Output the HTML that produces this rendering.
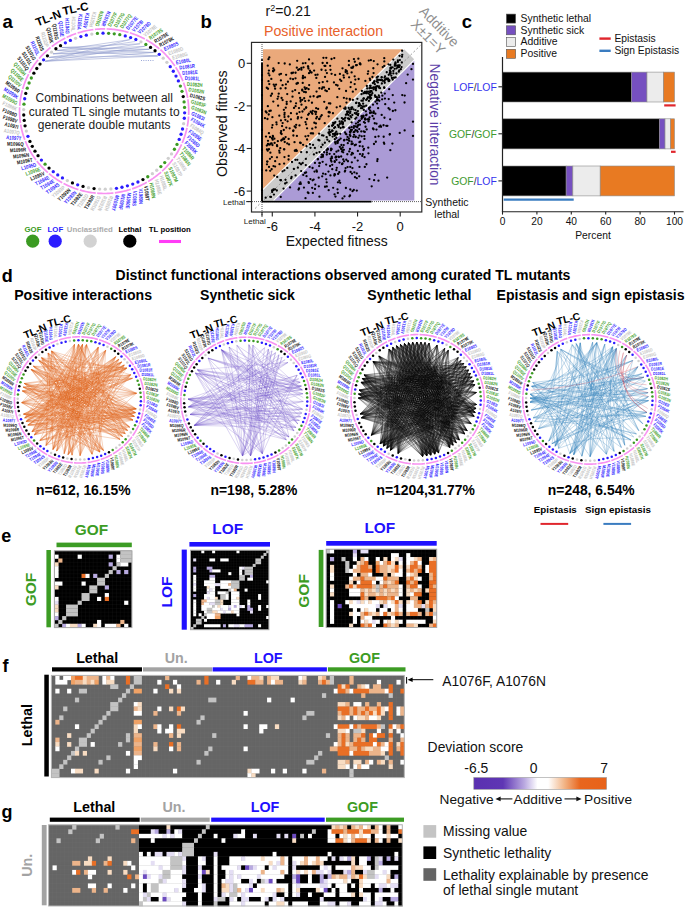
<!DOCTYPE html>
<html><head><meta charset="utf-8"><style>
html,body{margin:0;padding:0;background:#fff;width:685px;height:909px;overflow:hidden;}
body{position:relative;font-family:'Liberation Sans',sans-serif;}
</style></head><body>
<svg width="685" height="909" viewBox="0 0 685 909" style="position:absolute;left:0;top:0;font-family:'Liberation Sans',sans-serif">
<rect width="685" height="909" fill="#fff"/>
<text x="2.6" y="28" font-size="18.5" font-weight="bold" fill="#000" text-anchor="start">a</text>
<line x1="45.24" y1="61.27" x2="129.9" y2="39.62" stroke="#8e9bcc" stroke-width="0.65" stroke-opacity="0.8"/>
<line x1="45.24" y1="61.27" x2="144.71" y2="46.36" stroke="#8e9bcc" stroke-width="0.65" stroke-opacity="0.8"/>
<line x1="45.24" y1="61.27" x2="153.64" y2="52.46" stroke="#8e9bcc" stroke-width="0.65" stroke-opacity="0.8"/>
<line x1="45.24" y1="61.27" x2="157.75" y2="55.94" stroke="#8e9bcc" stroke-width="0.65" stroke-opacity="0.8"/>
<line x1="48.98" y1="57.41" x2="139.94" y2="43.78" stroke="#8e9bcc" stroke-width="0.65" stroke-opacity="0.8"/>
<line x1="48.98" y1="57.41" x2="149.28" y2="49.26" stroke="#8e9bcc" stroke-width="0.65" stroke-opacity="0.8"/>
<line x1="48.98" y1="57.41" x2="157.75" y2="55.94" stroke="#8e9bcc" stroke-width="0.65" stroke-opacity="0.8"/>
<line x1="52.99" y1="53.82" x2="135" y2="41.53" stroke="#8e9bcc" stroke-width="0.65" stroke-opacity="0.8"/>
<line x1="52.99" y1="53.82" x2="153.64" y2="52.46" stroke="#8e9bcc" stroke-width="0.65" stroke-opacity="0.8"/>
<line x1="57.25" y1="50.5" x2="144.71" y2="46.36" stroke="#8e9bcc" stroke-width="0.65" stroke-opacity="0.8"/>
<line x1="57.25" y1="50.5" x2="157.75" y2="55.94" stroke="#8e9bcc" stroke-width="0.65" stroke-opacity="0.8"/>
<line x1="61.73" y1="47.49" x2="139.94" y2="43.78" stroke="#8e9bcc" stroke-width="0.65" stroke-opacity="0.8"/>
<line x1="61.73" y1="47.49" x2="149.28" y2="49.26" stroke="#8e9bcc" stroke-width="0.65" stroke-opacity="0.8"/>
<line x1="61.73" y1="47.49" x2="153.64" y2="52.46" stroke="#8e9bcc" stroke-width="0.65" stroke-opacity="0.8"/>
<line x1="57.25" y1="50.5" x2="129.9" y2="39.62" stroke="#8e9bcc" stroke-width="0.65" stroke-opacity="0.8"/>
<line x1="52.99" y1="53.82" x2="149.28" y2="49.26" stroke="#8e9bcc" stroke-width="0.65" stroke-opacity="0.8"/>
<line x1="141" y1="60.5" x2="154" y2="60.5" stroke="#7f8fcc" stroke-width="0.8" stroke-dasharray="1 1.3"/>
<polyline points="94.87,29.4 96.34,29.25 97.81,29.13 99.28,29.04 100.75,28.97 102.23,28.92 103.71,28.9 105.18,28.91" fill="none" stroke="#f892f1" stroke-width="1.7"/>
<polyline points="106.66,28.94 108.14,28.99 109.61,29.07 111.08,29.18 112.55,29.31 114.02,29.46 115.49,29.64 116.95,29.85 118.4,30.08 119.86,30.33 121.31,30.61 122.75,30.91 124.19,31.24 125.62,31.59 127.04,31.97 128.46,32.37" fill="none" stroke="#f892f1" stroke-width="1.7"/>
<polyline points="129.87,32.8 131.27,33.24 132.67,33.72 134.05,34.21 135.43,34.73 136.8,35.28 138.15,35.84 139.5,36.43 140.84,37.04 142.16,37.68 143.48,38.33 144.78,39.01" fill="none" stroke="#f892f1" stroke-width="1.7"/>
<polyline points="146.07,39.71 147.34,40.43 148.6,41.18 149.85,41.94 151.09,42.73 152.31,43.54 153.52,44.37 154.71,45.21 155.89,46.08 157.05,46.97 158.19,47.88 159.32,48.81" fill="none" stroke="#f892f1" stroke-width="1.7"/>
<polyline points="160.43,49.75 161.52,50.72 162.6,51.7 163.66,52.7 164.7,53.72 165.72,54.76 166.72,55.81 167.71,56.88 168.67,57.97 169.62,59.07 170.54,60.19 171.45,61.33 172.33,62.48 173.2,63.64 174.04,64.82 174.86,66.02" fill="none" stroke="#f892f1" stroke-width="1.7"/>
<polyline points="175.66,67.22 176.44,68.44 177.19,69.68 177.93,70.92 178.64,72.18 179.33,73.45 179.99,74.74 180.64,76.03 181.25,77.33 181.85,78.65 182.42,79.97 182.97,81.3" fill="none" stroke="#f892f1" stroke-width="1.7"/>
<polyline points="183.5,82.65 184,84 184.47,85.36 184.92,86.73 185.35,88.1 185.75,89.48 186.13,90.87 186.48,92.27 186.81,93.67 187.11,95.07 187.39,96.48 187.64,97.9" fill="none" stroke="#f892f1" stroke-width="1.7"/>
<polyline points="187.86,99.32 188.06,100.74 188.24,102.17 188.39,103.6 188.51,105.03 188.61,106.46 188.68,107.9 188.73,109.33 188.75,110.77 188.74,112.21 188.71,113.64 188.66,115.08" fill="none" stroke="#f892f1" stroke-width="1.7"/>
<polyline points="188.57,116.51 188.47,117.94 188.33,119.37 188.17,120.8 187.99,122.23 187.78,123.65 187.54,125.07 187.28,126.48" fill="none" stroke="#f892f1" stroke-width="1.7"/>
<polyline points="186.99,127.89 186.68,129.29 186.34,130.69 185.98,132.08 185.59,133.47 185.18,134.85 184.75,136.22 184.28,137.59 183.8,138.94 183.29,140.29 182.75,141.63 182.2,142.96" fill="none" stroke="#f892f1" stroke-width="1.7"/>
<polyline points="181.62,144.28 181.01,145.59 180.38,146.89 179.73,148.18 179.05,149.46 178.36,150.72 177.64,151.98 176.89,153.22 176.13,154.45 175.34,155.66 174.53,156.86 173.7,158.05" fill="none" stroke="#f892f1" stroke-width="1.7"/>
<polyline points="172.85,159.23 171.89,160.5 170.91,161.76 169.9,162.99 168.86,164.21 167.8,165.41 166.72,166.59 165.62,167.75 164.49,168.88 163.34,170 162.17,171.1" fill="none" stroke="#f892f1" stroke-width="1.7"/>
<polyline points="161.09,172.07 159.99,173.03 158.87,173.97 157.73,174.89 156.58,175.79 155.42,176.67 154.23,177.53 153.04,178.37 151.82,179.19 150.6,179.99 149.36,180.77 148.1,181.52" fill="none" stroke="#f892f1" stroke-width="1.7"/>
<polyline points="146.83,182.26 145.55,182.97 144.26,183.66 142.95,184.33 141.63,184.98 140.3,185.61 138.96,186.21 137.61,186.79 136.25,187.34 134.88,187.88 133.5,188.39 132.11,188.87" fill="none" stroke="#f892f1" stroke-width="1.7"/>
<polyline points="130.71,189.34 129.31,189.78 127.89,190.19 126.47,190.58 125.05,190.95 123.61,191.29 122.17,191.61 120.73,191.9 119.28,192.17 117.82,192.42 116.36,192.64 114.9,192.83" fill="none" stroke="#f892f1" stroke-width="1.7"/>
<polyline points="113.43,193 111.96,193.15 110.49,193.27 109.02,193.36 107.55,193.43 106.07,193.48 104.59,193.5 103.12,193.49 101.64,193.46 100.16,193.41 98.69,193.33 97.22,193.22" fill="none" stroke="#f892f1" stroke-width="1.7"/>
<polyline points="95.75,193.09 94.28,192.94 92.81,192.76 91.35,192.55 89.9,192.32 88.44,192.07 86.99,191.79 85.55,191.49 84.11,191.16 82.68,190.81 81.26,190.43 79.84,190.03" fill="none" stroke="#f892f1" stroke-width="1.7"/>
<polyline points="78.43,189.6 77.03,189.16 75.63,188.68 74.25,188.19 72.87,187.67 71.5,187.12 70.15,186.56 68.8,185.97 67.46,185.36 66.14,184.72 64.82,184.07 63.52,183.39" fill="none" stroke="#f892f1" stroke-width="1.7"/>
<polyline points="62.23,182.69 60.96,181.97 59.7,181.22 58.45,180.46 57.21,179.67 55.99,178.86 54.78,178.03 53.59,177.19 52.41,176.32 51.25,175.43 50.11,174.52 48.98,173.59" fill="none" stroke="#f892f1" stroke-width="1.7"/>
<polyline points="47.87,172.65 46.78,171.68 45.7,170.7 44.64,169.7 43.6,168.68 42.58,167.64 41.58,166.59 40.59,165.52 39.63,164.43 38.68,163.33 37.76,162.21 36.85,161.07" fill="none" stroke="#f892f1" stroke-width="1.7"/>
<polyline points="35.97,159.92 35.1,158.76 34.26,157.58 33.44,156.38 32.64,155.18 31.86,153.96 31.11,152.72 30.37,151.48 29.66,150.22 28.97,148.95 28.31,147.66 27.66,146.37 27.05,145.07 26.45,143.75 25.88,142.43 25.33,141.1" fill="none" stroke="#f892f1" stroke-width="1.7"/>
<polyline points="24.8,139.75 24.3,138.4 23.83,137.04 23.38,135.67 22.95,134.3 22.55,132.92 22.17,131.53 21.82,130.13 21.49,128.73 21.19,127.33 20.91,125.92 20.66,124.5" fill="none" stroke="#f892f1" stroke-width="1.7"/>
<polyline points="20.44,123.08 20.24,121.66 20.06,120.23 19.91,118.8 19.79,117.37 19.69,115.94 19.62,114.5 19.57,113.07 19.55,111.63 19.56,110.19 19.59,108.76 19.64,107.32" fill="none" stroke="#f892f1" stroke-width="1.7"/>
<polyline points="19.73,105.89 19.83,104.46 19.97,103.03 20.13,101.6 20.31,100.17 20.52,98.75 20.76,97.33 21.02,95.92 21.31,94.51 21.62,93.11 21.96,91.71 22.32,90.32" fill="none" stroke="#f892f1" stroke-width="1.7"/>
<polyline points="22.71,88.93 23.12,87.55 23.55,86.18 24.02,84.81 24.5,83.46 25.01,82.11 25.55,80.77 26.1,79.44 26.68,78.12 27.29,76.81 27.92,75.51 28.57,74.22" fill="none" stroke="#f892f1" stroke-width="1.7"/>
<polyline points="29.25,72.94 29.94,71.68 30.66,70.42 31.41,69.18 32.17,67.95 32.96,66.74 33.77,65.54 34.6,64.35 35.45,63.17 36.32,62.02 37.21,60.87 38.13,59.74" fill="none" stroke="#f892f1" stroke-width="1.7"/>
<polyline points="39.06,58.63 40.01,57.53 40.98,56.45 41.98,55.39 42.99,54.34 44.02,53.31 45.06,52.3 46.13,51.3 47.21,50.33 48.31,49.37 49.43,48.43 50.57,47.51" fill="none" stroke="#f892f1" stroke-width="1.7"/>
<polyline points="51.72,46.61 52.88,45.73 54.07,44.87 55.26,44.03 56.48,43.21 57.7,42.41 58.94,41.63 60.2,40.88 61.47,40.14 62.75,39.43 64.04,38.74 65.35,38.07" fill="none" stroke="#f892f1" stroke-width="1.7"/>
<polyline points="66.67,37.42 68,36.79 69.34,36.19 70.69,35.61 72.05,35.06 73.42,34.52 74.8,34.01 76.19,33.53" fill="none" stroke="#f892f1" stroke-width="1.7"/>
<polyline points="77.59,33.06 78.99,32.62 80.41,32.21 81.83,31.82 83.25,31.45 84.69,31.11 86.13,30.79 87.57,30.5 89.02,30.23 90.48,29.98 91.94,29.76 93.4,29.57" fill="none" stroke="#f892f1" stroke-width="1.7"/>
<circle cx="97.41" cy="33.47" r="1.65" fill="#3b9a22"/>
<circle cx="103.03" cy="33.21" r="1.65" fill="#2b1cff"/>
<circle cx="108.64" cy="33.32" r="1.65" fill="#3b9a22"/>
<circle cx="114.24" cy="33.82" r="1.65" fill="#3b9a22"/>
<circle cx="119.79" cy="34.69" r="1.65" fill="#3b9a22"/>
<circle cx="125.26" cy="35.93" r="1.65" fill="#2b1cff"/>
<circle cx="130.62" cy="37.54" r="1.65" fill="#2b1cff"/>
<circle cx="135.86" cy="39.51" r="1.65" fill="#2b1cff"/>
<circle cx="140.95" cy="41.83" r="1.65" fill="#cfcfcf"/>
<circle cx="145.85" cy="44.48" r="1.65" fill="#3b9a22"/>
<circle cx="150.55" cy="47.46" r="1.65" fill="#000000"/>
<circle cx="155.03" cy="50.75" r="1.65" fill="#000000"/>
<circle cx="159.26" cy="54.34" r="1.65" fill="#2b1cff"/>
<circle cx="163.22" cy="58.2" r="1.65" fill="#cfcfcf"/>
<circle cx="166.89" cy="62.32" r="1.65" fill="#cfcfcf"/>
<circle cx="170.25" cy="66.68" r="1.65" fill="#2b1cff"/>
<circle cx="173.3" cy="71.26" r="1.65" fill="#2b1cff"/>
<circle cx="176" cy="76.03" r="1.65" fill="#2b1cff"/>
<circle cx="178.36" cy="80.97" r="1.65" fill="#2b1cff"/>
<circle cx="180.36" cy="86.06" r="1.65" fill="#3b9a22"/>
<circle cx="181.98" cy="91.28" r="1.65" fill="#3b9a22"/>
<circle cx="183.22" cy="96.58" r="1.65" fill="#000000"/>
<circle cx="184.08" cy="101.96" r="1.65" fill="#3b9a22"/>
<circle cx="184.55" cy="107.39" r="1.65" fill="#3b9a22"/>
<circle cx="184.63" cy="112.83" r="1.65" fill="#2b1cff"/>
<circle cx="184.32" cy="118.27" r="1.65" fill="#2b1cff"/>
<circle cx="183.61" cy="123.67" r="1.65" fill="#cfcfcf"/>
<circle cx="182.52" cy="129.01" r="1.65" fill="#2b1cff"/>
<circle cx="181.05" cy="134.27" r="1.65" fill="#2b1cff"/>
<circle cx="179.2" cy="139.41" r="1.65" fill="#2b1cff"/>
<circle cx="176.99" cy="144.41" r="1.65" fill="#3b9a22"/>
<circle cx="174.42" cy="149.25" r="1.65" fill="#3b9a22"/>
<circle cx="171.51" cy="153.91" r="1.65" fill="#cfcfcf"/>
<circle cx="168.27" cy="158.36" r="1.65" fill="#cfcfcf"/>
<circle cx="164.72" cy="162.58" r="1.65" fill="#3b9a22"/>
<circle cx="160.87" cy="166.55" r="1.65" fill="#3b9a22"/>
<circle cx="156.75" cy="170.25" r="1.65" fill="#cfcfcf"/>
<circle cx="152.37" cy="173.66" r="1.65" fill="#cfcfcf"/>
<circle cx="147.76" cy="176.76" r="1.65" fill="#3b9a22"/>
<circle cx="142.93" cy="179.55" r="1.65" fill="#000000"/>
<circle cx="137.92" cy="182.01" r="1.65" fill="#2b1cff"/>
<circle cx="132.74" cy="184.12" r="1.65" fill="#2b1cff"/>
<circle cx="127.42" cy="185.87" r="1.65" fill="#2b1cff"/>
<circle cx="121.98" cy="187.26" r="1.65" fill="#2b1cff"/>
<circle cx="116.47" cy="188.28" r="1.65" fill="#2b1cff"/>
<circle cx="110.89" cy="188.93" r="1.65" fill="#cfcfcf"/>
<circle cx="105.27" cy="189.19" r="1.65" fill="#cfcfcf"/>
<circle cx="99.66" cy="189.08" r="1.65" fill="#cfcfcf"/>
<circle cx="94.06" cy="188.58" r="1.65" fill="#000000"/>
<circle cx="88.51" cy="187.71" r="1.65" fill="#cfcfcf"/>
<circle cx="83.04" cy="186.47" r="1.65" fill="#000000"/>
<circle cx="77.68" cy="184.86" r="1.65" fill="#2b1cff"/>
<circle cx="72.44" cy="182.89" r="1.65" fill="#000000"/>
<circle cx="67.35" cy="180.57" r="1.65" fill="#cfcfcf"/>
<circle cx="62.45" cy="177.92" r="1.65" fill="#2b1cff"/>
<circle cx="57.75" cy="174.94" r="1.65" fill="#2b1cff"/>
<circle cx="53.27" cy="171.65" r="1.65" fill="#2b1cff"/>
<circle cx="49.04" cy="168.06" r="1.65" fill="#000000"/>
<circle cx="45.08" cy="164.2" r="1.65" fill="#3b9a22"/>
<circle cx="41.41" cy="160.08" r="1.65" fill="#2b1cff"/>
<circle cx="38.05" cy="155.72" r="1.65" fill="#000000"/>
<circle cx="35" cy="151.14" r="1.65" fill="#000000"/>
<circle cx="32.3" cy="146.37" r="1.65" fill="#000000"/>
<circle cx="29.94" cy="141.43" r="1.65" fill="#000000"/>
<circle cx="27.94" cy="136.34" r="1.65" fill="#2b1cff"/>
<circle cx="26.32" cy="131.12" r="1.65" fill="#cfcfcf"/>
<circle cx="25.08" cy="125.82" r="1.65" fill="#000000"/>
<circle cx="24.22" cy="120.44" r="1.65" fill="#000000"/>
<circle cx="23.75" cy="115.01" r="1.65" fill="#000000"/>
<circle cx="23.67" cy="109.57" r="1.65" fill="#cfcfcf"/>
<circle cx="23.98" cy="104.13" r="1.65" fill="#3b9a22"/>
<circle cx="24.69" cy="98.73" r="1.65" fill="#2b1cff"/>
<circle cx="25.78" cy="93.39" r="1.65" fill="#000000"/>
<circle cx="27.25" cy="88.13" r="1.65" fill="#3b9a22"/>
<circle cx="29.1" cy="82.99" r="1.65" fill="#3b9a22"/>
<circle cx="31.31" cy="77.99" r="1.65" fill="#3b9a22"/>
<circle cx="33.88" cy="73.15" r="1.65" fill="#000000"/>
<circle cx="36.79" cy="68.49" r="1.65" fill="#000000"/>
<circle cx="40.03" cy="64.04" r="1.65" fill="#000000"/>
<circle cx="43.58" cy="59.82" r="1.65" fill="#2b1cff"/>
<circle cx="47.43" cy="55.85" r="1.65" fill="#000000"/>
<circle cx="51.55" cy="52.15" r="1.65" fill="#cfcfcf"/>
<circle cx="55.93" cy="48.74" r="1.65" fill="#000000"/>
<circle cx="60.54" cy="45.64" r="1.65" fill="#000000"/>
<circle cx="65.37" cy="42.85" r="1.65" fill="#2b1cff"/>
<circle cx="70.38" cy="40.39" r="1.65" fill="#2b1cff"/>
<circle cx="75.56" cy="38.28" r="1.65" fill="#cfcfcf"/>
<circle cx="80.88" cy="36.53" r="1.65" fill="#2b1cff"/>
<circle cx="86.32" cy="35.14" r="1.65" fill="#2b1cff"/>
<circle cx="91.83" cy="34.12" r="1.65" fill="#cfcfcf"/>
<g font-size="5.4" font-weight="bold">
<text transform="translate(96.84,26.4) rotate(109.2) scale(0.8,1)" dy="0.35em" text-anchor="end" fill="#44a02c">N1076G</text>
<text transform="translate(102.93,26.11) rotate(113.2) scale(0.8,1)" dy="0.35em" text-anchor="end" fill="#3326ff">N1076R</text>
<text transform="translate(109.03,26.23) rotate(-62.8) scale(0.8,1)" dy="0.35em" fill="#44a02c">D1077F</text>
<text transform="translate(115.1,26.77) rotate(-58.8) scale(0.8,1)" dy="0.35em" fill="#44a02c">D1077G</text>
<text transform="translate(121.13,27.72) rotate(-54.8) scale(0.8,1)" dy="0.35em" fill="#44a02c">D1077Q</text>
<text transform="translate(127.07,29.08) rotate(-50.8) scale(0.8,1)" dy="0.35em" fill="#3326ff">D1077E</text>
<text transform="translate(132.89,30.83) rotate(-46.8) scale(0.8,1)" dy="0.35em" fill="#3326ff">V1078I</text>
<text transform="translate(138.58,32.98) rotate(-42.8) scale(0.8,1)" dy="0.35em" fill="#3326ff">V1078D</text>
<text transform="translate(144.1,35.51) rotate(-38.8) scale(0.8,1)" dy="0.35em" fill="#c4c4c4">V1078E</text>
<text transform="translate(149.43,38.41) rotate(-34.8) scale(0.8,1)" dy="0.35em" fill="#44a02c">R1079S</text>
<text transform="translate(154.53,41.66) rotate(-30.8) scale(0.8,1)" dy="0.35em" fill="#111111">R1079E</text>
<text transform="translate(159.39,45.25) rotate(-26.8) scale(0.8,1)" dy="0.35em" fill="#111111">R1079K</text>
<text transform="translate(163.98,49.16) rotate(-22.8) scale(0.8,1)" dy="0.35em" fill="#3326ff">E1080S</text>
<text transform="translate(168.28,53.38) rotate(-18.8) scale(0.8,1)" dy="0.35em" fill="#c4c4c4">E1080D</text>
<text transform="translate(172.26,57.88) rotate(-14.8) scale(0.8,1)" dy="0.35em" fill="#c4c4c4">E1080G</text>
<text transform="translate(175.92,62.63) rotate(-10.8) scale(0.8,1)" dy="0.35em" fill="#3326ff">E1080L</text>
<text transform="translate(179.22,67.63) rotate(-6.8) scale(0.8,1)" dy="0.35em" fill="#3326ff">D1081R</text>
<text transform="translate(182.16,72.83) rotate(-2.8) scale(0.8,1)" dy="0.35em" fill="#3326ff">D1081E</text>
<text transform="translate(184.72,78.22) rotate(1.2) scale(0.8,1)" dy="0.35em" fill="#3326ff">D1081L</text>
<text transform="translate(186.89,83.78) rotate(5.2) scale(0.8,1)" dy="0.35em" fill="#44a02c">D1082H</text>
<text transform="translate(188.65,89.46) rotate(9.2) scale(0.8,1)" dy="0.35em" fill="#44a02c">D1082N</text>
<text transform="translate(190,95.25) rotate(13.2) scale(0.8,1)" dy="0.35em" fill="#111111">D1082S</text>
<text transform="translate(190.94,101.12) rotate(17.2) scale(0.8,1)" dy="0.35em" fill="#44a02c">G1083F</text>
<text transform="translate(191.45,107.04) rotate(21.2) scale(0.8,1)" dy="0.35em" fill="#44a02c">G1083N</text>
<text transform="translate(191.53,112.98) rotate(25.2) scale(0.8,1)" dy="0.35em" fill="#3326ff">G1083I</text>
<text transform="translate(191.19,118.91) rotate(29.2) scale(0.8,1)" dy="0.35em" fill="#3326ff">F1084K</text>
<text transform="translate(190.43,124.81) rotate(33.2) scale(0.8,1)" dy="0.35em" fill="#c4c4c4">F1084Q</text>
<text transform="translate(189.24,130.63) rotate(37.2) scale(0.8,1)" dy="0.35em" fill="#3326ff">F1085E</text>
<text transform="translate(187.64,136.36) rotate(41.2) scale(0.8,1)" dy="0.35em" fill="#3326ff">F1085D</text>
<text transform="translate(185.64,141.97) rotate(45.2) scale(0.8,1)" dy="0.35em" fill="#3326ff">F1085K</text>
<text transform="translate(183.23,147.43) rotate(49.2) scale(0.8,1)" dy="0.35em" fill="#44a02c">T1086R</text>
<text transform="translate(180.44,152.72) rotate(53.2) scale(0.8,1)" dy="0.35em" fill="#44a02c">T1086N</text>
<text transform="translate(177.28,157.8) rotate(57.2) scale(0.8,1)" dy="0.35em" fill="#c4c4c4">T1086S</text>
<text transform="translate(173.77,162.65) rotate(61.2) scale(0.8,1)" dy="0.35em" fill="#c4c4c4">S1087P</text>
<text transform="translate(169.91,167.25) rotate(65.2) scale(0.8,1)" dy="0.35em" fill="#44a02c">S1087M</text>
<text transform="translate(165.74,171.58) rotate(69.2) scale(0.8,1)" dy="0.35em" fill="#44a02c">S1087K</text>
<text transform="translate(161.26,175.62) rotate(73.2) scale(0.8,1)" dy="0.35em" fill="#c4c4c4">H1088L</text>
<text transform="translate(156.5,179.34) rotate(77.2) scale(0.8,1)" dy="0.35em" fill="#c4c4c4">H1088E</text>
<text transform="translate(151.5,182.73) rotate(81.2) scale(0.8,1)" dy="0.35em" fill="#44a02c">H1088N</text>
<text transform="translate(146.26,185.77) rotate(85.2) scale(0.8,1)" dy="0.35em" fill="#111111">V1089T</text>
<text transform="translate(140.81,188.45) rotate(89.2) scale(0.8,1)" dy="0.35em" fill="#3326ff">V1089N</text>
<text transform="translate(135.19,190.75) rotate(93.2) scale(0.8,1)" dy="0.35em" fill="#3326ff">V1089S</text>
<text transform="translate(129.41,192.67) rotate(97.2) scale(0.8,1)" dy="0.35em" fill="#3326ff">M1090E</text>
<text transform="translate(123.51,194.19) rotate(101.2) scale(0.8,1)" dy="0.35em" fill="#3326ff">M1090F</text>
<text transform="translate(117.52,195.3) rotate(105.2) scale(0.8,1)" dy="0.35em" fill="#3326ff">M1090Y</text>
<text transform="translate(111.46,196) rotate(109.2) scale(0.8,1)" dy="0.35em" fill="#c4c4c4">R1091H</text>
<text transform="translate(105.37,196.29) rotate(113.2) scale(0.8,1)" dy="0.35em" fill="#c4c4c4">R1091N</text>
<text transform="translate(99.27,196.17) rotate(297.2) scale(0.8,1)" dy="0.35em" text-anchor="end" fill="#c4c4c4">R1091G</text>
<text transform="translate(93.2,195.63) rotate(301.2) scale(0.8,1)" dy="0.35em" text-anchor="end" fill="#111111">T1092R</text>
<text transform="translate(87.17,194.68) rotate(305.2) scale(0.8,1)" dy="0.35em" text-anchor="end" fill="#c4c4c4">T1092D</text>
<text transform="translate(81.23,193.32) rotate(309.2) scale(0.8,1)" dy="0.35em" text-anchor="end" fill="#111111">T1092E</text>
<text transform="translate(75.41,191.57) rotate(313.2) scale(0.8,1)" dy="0.35em" text-anchor="end" fill="#3326ff">Y1093N</text>
<text transform="translate(69.72,189.42) rotate(317.2) scale(0.8,1)" dy="0.35em" text-anchor="end" fill="#111111">Y1093N</text>
<text transform="translate(64.2,186.89) rotate(321.2) scale(0.8,1)" dy="0.35em" text-anchor="end" fill="#c4c4c4">Y1093P</text>
<text transform="translate(58.87,183.99) rotate(325.2) scale(0.8,1)" dy="0.35em" text-anchor="end" fill="#3326ff">T1094S</text>
<text transform="translate(53.77,180.74) rotate(329.2) scale(0.8,1)" dy="0.35em" text-anchor="end" fill="#3326ff">T1094E</text>
<text transform="translate(48.91,177.15) rotate(333.2) scale(0.8,1)" dy="0.35em" text-anchor="end" fill="#3326ff">T1094E</text>
<text transform="translate(44.32,173.24) rotate(337.2) scale(0.8,1)" dy="0.35em" text-anchor="end" fill="#111111">L1095V</text>
<text transform="translate(40.02,169.02) rotate(341.2) scale(0.8,1)" dy="0.35em" text-anchor="end" fill="#44a02c">L1095E</text>
<text transform="translate(36.04,164.52) rotate(345.2) scale(0.8,1)" dy="0.35em" text-anchor="end" fill="#3326ff">L1095D</text>
<text transform="translate(32.38,159.77) rotate(349.2) scale(0.8,1)" dy="0.35em" text-anchor="end" fill="#111111">M1096T</text>
<text transform="translate(29.08,154.77) rotate(353.2) scale(0.8,1)" dy="0.35em" text-anchor="end" fill="#111111">M1096N</text>
<text transform="translate(26.14,149.57) rotate(357.2) scale(0.8,1)" dy="0.35em" text-anchor="end" fill="#111111">M1096R</text>
<text transform="translate(23.58,144.18) rotate(361.2) scale(0.8,1)" dy="0.35em" text-anchor="end" fill="#111111">M1096Q</text>
<text transform="translate(21.41,138.62) rotate(365.2) scale(0.8,1)" dy="0.35em" text-anchor="end" fill="#3326ff">A1097T</text>
<text transform="translate(19.65,132.94) rotate(369.2) scale(0.8,1)" dy="0.35em" text-anchor="end" fill="#c4c4c4">A1097Q</text>
<text transform="translate(18.3,127.15) rotate(373.2) scale(0.8,1)" dy="0.35em" text-anchor="end" fill="#111111">A1097I</text>
<text transform="translate(17.36,121.28) rotate(377.2) scale(0.8,1)" dy="0.35em" text-anchor="end" fill="#111111">F1098V</text>
<text transform="translate(16.85,115.36) rotate(381.2) scale(0.8,1)" dy="0.35em" text-anchor="end" fill="#111111">F1098D</text>
<text transform="translate(16.77,109.42) rotate(385.2) scale(0.8,1)" dy="0.35em" text-anchor="end" fill="#c4c4c4">F1098K</text>
<text transform="translate(17.11,103.49) rotate(389.2) scale(0.8,1)" dy="0.35em" text-anchor="end" fill="#44a02c">M1099G</text>
<text transform="translate(17.87,97.59) rotate(393.2) scale(0.8,1)" dy="0.35em" text-anchor="end" fill="#3326ff">M1099K</text>
<text transform="translate(19.06,91.77) rotate(397.2) scale(0.8,1)" dy="0.35em" text-anchor="end" fill="#111111">M1099R</text>
<text transform="translate(20.66,86.04) rotate(401.2) scale(0.8,1)" dy="0.35em" text-anchor="end" fill="#44a02c">Q1100V</text>
<text transform="translate(22.66,80.43) rotate(405.2) scale(0.8,1)" dy="0.35em" text-anchor="end" fill="#44a02c">Q1100E</text>
<text transform="translate(25.07,74.97) rotate(409.2) scale(0.8,1)" dy="0.35em" text-anchor="end" fill="#44a02c">Q1100H</text>
<text transform="translate(27.86,69.68) rotate(413.2) scale(0.8,1)" dy="0.35em" text-anchor="end" fill="#111111">S1101Q</text>
<text transform="translate(31.02,64.6) rotate(417.2) scale(0.8,1)" dy="0.35em" text-anchor="end" fill="#111111">S1101L</text>
<text transform="translate(34.53,59.75) rotate(421.2) scale(0.8,1)" dy="0.35em" text-anchor="end" fill="#111111">S1101G</text>
<text transform="translate(38.39,55.15) rotate(425.2) scale(0.8,1)" dy="0.35em" text-anchor="end" fill="#3326ff">R1102L</text>
<text transform="translate(42.56,50.82) rotate(429.2) scale(0.8,1)" dy="0.35em" text-anchor="end" fill="#111111">R1102S</text>
<text transform="translate(47.04,46.78) rotate(433.2) scale(0.8,1)" dy="0.35em" text-anchor="end" fill="#c4c4c4">R1102P</text>
<text transform="translate(51.8,43.06) rotate(437.2) scale(0.8,1)" dy="0.35em" text-anchor="end" fill="#111111">Q1103K</text>
<text transform="translate(56.8,39.67) rotate(441.2) scale(0.8,1)" dy="0.35em" text-anchor="end" fill="#111111">Q1103G</text>
<text transform="translate(62.04,36.63) rotate(445.2) scale(0.8,1)" dy="0.35em" text-anchor="end" fill="#3326ff">Q1103E</text>
<text transform="translate(67.49,33.95) rotate(449.2) scale(0.8,1)" dy="0.35em" text-anchor="end" fill="#3326ff">H1104G</text>
<text transform="translate(73.11,31.65) rotate(453.2) scale(0.8,1)" dy="0.35em" text-anchor="end" fill="#c4c4c4">H1104L</text>
<text transform="translate(78.89,29.73) rotate(457.2) scale(0.8,1)" dy="0.35em" text-anchor="end" fill="#3326ff">K1105A</text>
<text transform="translate(84.79,28.21) rotate(461.2) scale(0.8,1)" dy="0.35em" text-anchor="end" fill="#3326ff">K1105V</text>
<text transform="translate(90.78,27.1) rotate(465.2) scale(0.8,1)" dy="0.35em" text-anchor="end" fill="#c4c4c4">K1105H</text>
</g>
<text transform="translate(37.5,26.5) rotate(-21)" font-size="11.5" font-weight="bold">TL-N</text>
<text transform="translate(63.5,15.2) rotate(-12)" font-size="11.5" font-weight="bold">TL-C</text>
<text x="104.2" y="102.4" font-size="12" fill="#222" text-anchor="middle">Combinations between all</text>
<text x="104.2" y="115.9" font-size="12" fill="#222" text-anchor="middle">curated TL single mutants to</text>
<text x="104.2" y="129.3" font-size="12" fill="#222" text-anchor="middle">generate double mutants</text>
<text x="33" y="231.8" font-size="7.8" font-weight="bold" fill="#3b9a22" text-anchor="middle">GOF</text>
<text x="55.4" y="231.8" font-size="7.8" font-weight="bold" fill="#2b1cff" text-anchor="middle">LOF</text>
<text x="89.8" y="231.8" font-size="7.8" font-weight="bold" fill="#ababab" text-anchor="middle">Unclassified</text>
<text x="129.9" y="231.8" font-size="7.8" font-weight="bold" fill="#000" text-anchor="middle">Lethal</text>
<circle cx="32.7" cy="241.2" r="6.6" fill="#3b9a22"/>
<circle cx="55.2" cy="241.2" r="6.6" fill="#2b1cff"/>
<circle cx="90.2" cy="241.2" r="6.6" fill="#d2d2d2"/>
<circle cx="129.8" cy="241.2" r="6.6" fill="#000"/>
<text x="169.8" y="231.8" font-size="7.8" font-weight="bold" fill="#000" text-anchor="middle">TL position</text>
<line x1="159" y1="241.5" x2="181" y2="241.5" stroke="#ff3cf6" stroke-width="3.1"/>
<text x="200.6" y="27.8" font-size="18.5" font-weight="bold" fill="#000" text-anchor="start">b</text>
<text x="265.6" y="15.6" font-size="14" fill="#111">r<tspan font-size="9" dy="-5">2</tspan><tspan dy="5">=0.21</tspan></text>
<text x="264" y="35.6" font-size="14.2" fill="#e8612a" text-anchor="start">Positive interaction</text>
<polygon points="263,188.87 263,49.3 402.7,49.3" fill="#eaa97b"/>
<polygon points="274.38,200.5 414.3,200.5 414.3,60.72" fill="#ab9bd6"/>
<polygon points="263,190.36 404.19,49.3 414.21,59.31 272.89,200.5 263,200.5" fill="#cbcbcb"/>
<line x1="255" y1="208.6" x2="420.5" y2="45.3" stroke="#8a8a8a" stroke-width="0.8" stroke-dasharray="2.2 2"/>
<g fill="#000">
<circle cx="369.48" cy="88.27" r="1.15"/>
<circle cx="371.54" cy="94.88" r="1.15"/>
<circle cx="334.69" cy="135.74" r="1.15"/>
<circle cx="305.8" cy="165.05" r="1.15"/>
<circle cx="375.95" cy="88.11" r="1.15"/>
<circle cx="399.7" cy="65.37" r="1.15"/>
<circle cx="373.65" cy="89.28" r="1.15"/>
<circle cx="332.16" cy="130.44" r="1.15"/>
<circle cx="297.28" cy="159.82" r="1.15"/>
<circle cx="390.57" cy="71.71" r="1.15"/>
<circle cx="375.49" cy="96.46" r="1.15"/>
<circle cx="348.47" cy="114.97" r="1.15"/>
<circle cx="402.01" cy="56.65" r="1.15"/>
<circle cx="295.58" cy="175.43" r="1.15"/>
<circle cx="273.48" cy="189.3" r="1.15"/>
<circle cx="356.55" cy="112.69" r="1.15"/>
<circle cx="390.94" cy="68.61" r="1.15"/>
<circle cx="362.78" cy="100.67" r="1.15"/>
<circle cx="357.37" cy="98.83" r="1.15"/>
<circle cx="347.84" cy="112.02" r="1.15"/>
<circle cx="309.84" cy="144.13" r="1.15"/>
<circle cx="297.9" cy="167.68" r="1.15"/>
<circle cx="272.05" cy="190.28" r="1.15"/>
<circle cx="361.1" cy="105.81" r="1.15"/>
<circle cx="365.18" cy="92.67" r="1.15"/>
<circle cx="322.06" cy="135.31" r="1.15"/>
<circle cx="301.14" cy="152.07" r="1.15"/>
<circle cx="386.38" cy="78.99" r="1.15"/>
<circle cx="318.39" cy="140.01" r="1.15"/>
<circle cx="400.85" cy="69.18" r="1.15"/>
<circle cx="299.54" cy="163.13" r="1.15"/>
<circle cx="273.92" cy="194.54" r="1.15"/>
<circle cx="344.51" cy="118.6" r="1.15"/>
<circle cx="361.53" cy="94.14" r="1.15"/>
<circle cx="363.81" cy="109.96" r="1.15"/>
<circle cx="285.11" cy="183.49" r="1.15"/>
<circle cx="388.74" cy="74.74" r="1.15"/>
<circle cx="397.89" cy="61.88" r="1.15"/>
<circle cx="395.42" cy="62.3" r="1.15"/>
<circle cx="335.46" cy="133.25" r="1.15"/>
<circle cx="397.16" cy="65.68" r="1.15"/>
<circle cx="377.9" cy="76.62" r="1.15"/>
<circle cx="349.61" cy="109.7" r="1.15"/>
<circle cx="295.4" cy="159.81" r="1.15"/>
<circle cx="391.32" cy="75.69" r="1.15"/>
<circle cx="342.93" cy="123.58" r="1.15"/>
<circle cx="301.06" cy="164.26" r="1.15"/>
<circle cx="314.86" cy="147.88" r="1.15"/>
<circle cx="337.53" cy="133.75" r="1.15"/>
<circle cx="376.73" cy="77.52" r="1.15"/>
<circle cx="371.32" cy="91.17" r="1.15"/>
<circle cx="389.89" cy="72.41" r="1.15"/>
<circle cx="399.55" cy="55.84" r="1.15"/>
<circle cx="382.22" cy="80.17" r="1.15"/>
<circle cx="402.24" cy="54.82" r="1.15"/>
<circle cx="394.88" cy="65.32" r="1.15"/>
<circle cx="380.22" cy="79.83" r="1.15"/>
<circle cx="378.84" cy="95.29" r="1.15"/>
<circle cx="392.71" cy="79.6" r="1.15"/>
<circle cx="370.45" cy="87.96" r="1.15"/>
<circle cx="356.24" cy="114.06" r="1.15"/>
<circle cx="352.36" cy="115.01" r="1.15"/>
<circle cx="393.36" cy="70.91" r="1.15"/>
<circle cx="371.06" cy="98.06" r="1.15"/>
<circle cx="390.27" cy="64.94" r="1.15"/>
<circle cx="347.08" cy="111.56" r="1.15"/>
<circle cx="344.89" cy="120.71" r="1.15"/>
<circle cx="396.4" cy="73.49" r="1.15"/>
<circle cx="287.26" cy="167.92" r="1.15"/>
<circle cx="376.96" cy="97.17" r="1.15"/>
<circle cx="356.03" cy="103.1" r="1.15"/>
<circle cx="323.47" cy="135.57" r="1.15"/>
<circle cx="356.4" cy="117.71" r="1.15"/>
<circle cx="351.33" cy="107.71" r="1.15"/>
<circle cx="391.04" cy="67.36" r="1.15"/>
<circle cx="398.6" cy="65.48" r="1.15"/>
<circle cx="348.24" cy="111.76" r="1.15"/>
<circle cx="321.12" cy="147.03" r="1.15"/>
<circle cx="380.04" cy="88.21" r="1.15"/>
<circle cx="361.48" cy="100.69" r="1.15"/>
<circle cx="330.81" cy="131.97" r="1.15"/>
<circle cx="370.29" cy="96.87" r="1.15"/>
<circle cx="282.58" cy="171.32" r="1.15"/>
<circle cx="329.56" cy="131.84" r="1.15"/>
<circle cx="270.26" cy="196.84" r="1.15"/>
<circle cx="361.03" cy="108.18" r="1.15"/>
<circle cx="399.23" cy="70.38" r="1.15"/>
<circle cx="342.59" cy="124.42" r="1.15"/>
<circle cx="329.19" cy="133.68" r="1.15"/>
<circle cx="341.08" cy="123.11" r="1.15"/>
<circle cx="366.55" cy="91.68" r="1.15"/>
<circle cx="384.14" cy="87.34" r="1.15"/>
<circle cx="334.22" cy="122.9" r="1.15"/>
<circle cx="381.62" cy="77.54" r="1.15"/>
<circle cx="395.61" cy="63.28" r="1.15"/>
<circle cx="370.16" cy="85.86" r="1.15"/>
<circle cx="362.31" cy="108.21" r="1.15"/>
<circle cx="343" cy="122.31" r="1.15"/>
<circle cx="381.26" cy="92.68" r="1.15"/>
<circle cx="388.47" cy="64.37" r="1.15"/>
<circle cx="386.72" cy="78.7" r="1.15"/>
<circle cx="389.86" cy="70.35" r="1.15"/>
<circle cx="324.85" cy="142.77" r="1.15"/>
<circle cx="385.04" cy="79.82" r="1.15"/>
<circle cx="332.49" cy="130.84" r="1.15"/>
<circle cx="340.61" cy="127.99" r="1.15"/>
<circle cx="284.36" cy="170.32" r="1.15"/>
<circle cx="381.7" cy="77.07" r="1.15"/>
<circle cx="364.47" cy="106.42" r="1.15"/>
<circle cx="334.13" cy="128.05" r="1.15"/>
<circle cx="364.76" cy="91.79" r="1.15"/>
<circle cx="366.72" cy="92.66" r="1.15"/>
<circle cx="316.58" cy="152.97" r="1.15"/>
<circle cx="394.91" cy="65.68" r="1.15"/>
<circle cx="366.83" cy="85.99" r="1.15"/>
<circle cx="342.71" cy="127.37" r="1.15"/>
<circle cx="329.78" cy="135.17" r="1.15"/>
<circle cx="366.22" cy="105.63" r="1.15"/>
<circle cx="364.35" cy="93.07" r="1.15"/>
<circle cx="332.63" cy="136.58" r="1.15"/>
<circle cx="396.62" cy="68.31" r="1.15"/>
<circle cx="329.32" cy="129.83" r="1.15"/>
<circle cx="394.91" cy="64.19" r="1.15"/>
<circle cx="351.38" cy="109.2" r="1.15"/>
<circle cx="337.37" cy="118.63" r="1.15"/>
<circle cx="329.41" cy="132.6" r="1.15"/>
<circle cx="351.75" cy="107.83" r="1.15"/>
<circle cx="373.96" cy="82.15" r="1.15"/>
<circle cx="334.49" cy="123.24" r="1.15"/>
<circle cx="291.15" cy="178.3" r="1.15"/>
<circle cx="358.56" cy="106.07" r="1.15"/>
<circle cx="339.63" cy="121.51" r="1.15"/>
<circle cx="367.23" cy="88.45" r="1.15"/>
<circle cx="373.36" cy="87.52" r="1.15"/>
<circle cx="388.19" cy="78.58" r="1.15"/>
<circle cx="351.28" cy="117.34" r="1.15"/>
<circle cx="402.1" cy="50.75" r="1.15"/>
<circle cx="337.71" cy="125.12" r="1.15"/>
<circle cx="277.2" cy="176.95" r="1.15"/>
<circle cx="359.17" cy="103.55" r="1.15"/>
<circle cx="378.84" cy="87.53" r="1.15"/>
<circle cx="291.6" cy="177.02" r="1.15"/>
<circle cx="336.32" cy="137.77" r="1.15"/>
<circle cx="384.29" cy="87.95" r="1.15"/>
<circle cx="273.53" cy="190.01" r="1.15"/>
<circle cx="338.65" cy="127" r="1.15"/>
<circle cx="292.01" cy="161.99" r="1.15"/>
<circle cx="334.82" cy="139.27" r="1.15"/>
<circle cx="395.61" cy="77.39" r="1.15"/>
<circle cx="328.46" cy="132.66" r="1.15"/>
<circle cx="359.8" cy="104.41" r="1.15"/>
<circle cx="390.71" cy="73.34" r="1.15"/>
<circle cx="326.66" cy="137.16" r="1.15"/>
<circle cx="286.63" cy="182.62" r="1.15"/>
<circle cx="328.86" cy="126.47" r="1.15"/>
<circle cx="391.94" cy="77.99" r="1.15"/>
<circle cx="357.9" cy="111.09" r="1.15"/>
<circle cx="387.77" cy="79.71" r="1.15"/>
<circle cx="390.04" cy="73.8" r="1.15"/>
<circle cx="357.98" cy="115.45" r="1.15"/>
<circle cx="393.37" cy="73.47" r="1.15"/>
<circle cx="357.99" cy="114.71" r="1.15"/>
<circle cx="332.98" cy="133.99" r="1.15"/>
<circle cx="313.04" cy="144.96" r="1.15"/>
<circle cx="374.28" cy="87.65" r="1.15"/>
<circle cx="352.92" cy="99.89" r="1.15"/>
<circle cx="370.21" cy="98.85" r="1.15"/>
<circle cx="375.64" cy="89.02" r="1.15"/>
<circle cx="384.55" cy="77.71" r="1.15"/>
<circle cx="382.84" cy="80.8" r="1.15"/>
<circle cx="319.4" cy="140.42" r="1.15"/>
<circle cx="335.06" cy="127.2" r="1.15"/>
<circle cx="389.26" cy="80.75" r="1.15"/>
<circle cx="370.09" cy="95.5" r="1.15"/>
<circle cx="375.32" cy="87.32" r="1.15"/>
<circle cx="384.37" cy="81.25" r="1.15"/>
<circle cx="392.65" cy="67.36" r="1.15"/>
<circle cx="332.42" cy="125.53" r="1.15"/>
<circle cx="332.08" cy="125.7" r="1.15"/>
<circle cx="372.32" cy="93.18" r="1.15"/>
<circle cx="349.03" cy="118.56" r="1.15"/>
<circle cx="363.06" cy="106.51" r="1.15"/>
<circle cx="265.69" cy="197.63" r="1.15"/>
<circle cx="368.33" cy="93.44" r="1.15"/>
<circle cx="394.69" cy="68.83" r="1.15"/>
<circle cx="398.19" cy="67.16" r="1.15"/>
<circle cx="389.24" cy="80.17" r="1.15"/>
<circle cx="345.9" cy="114.74" r="1.15"/>
<circle cx="397.65" cy="66.95" r="1.15"/>
<circle cx="388.65" cy="81.21" r="1.15"/>
<circle cx="336.3" cy="131.65" r="1.15"/>
<circle cx="270.97" cy="196.88" r="1.15"/>
<circle cx="336.99" cy="134.45" r="1.15"/>
<circle cx="347.27" cy="113.18" r="1.15"/>
<circle cx="359.02" cy="103.21" r="1.15"/>
<circle cx="398.8" cy="71.67" r="1.15"/>
<circle cx="345.5" cy="108.77" r="1.15"/>
<circle cx="374.35" cy="81.16" r="1.15"/>
<circle cx="347.97" cy="118.42" r="1.15"/>
<circle cx="374.95" cy="95.33" r="1.15"/>
<circle cx="341.88" cy="121.46" r="1.15"/>
<circle cx="393.29" cy="59.56" r="1.15"/>
<circle cx="272.18" cy="192" r="1.15"/>
<circle cx="335.36" cy="122.08" r="1.15"/>
<circle cx="333.12" cy="122.92" r="1.15"/>
<circle cx="374.81" cy="84.21" r="1.15"/>
<circle cx="363.42" cy="98.75" r="1.15"/>
<circle cx="390.28" cy="68.09" r="1.15"/>
<circle cx="280.35" cy="180.11" r="1.15"/>
<circle cx="343.62" cy="127.32" r="1.15"/>
<circle cx="346.97" cy="114.45" r="1.15"/>
<circle cx="401.52" cy="67.11" r="1.15"/>
<circle cx="339.78" cy="123.98" r="1.15"/>
<circle cx="355.27" cy="118.84" r="1.15"/>
<circle cx="385.03" cy="76.34" r="1.15"/>
<circle cx="363.89" cy="98.44" r="1.15"/>
<circle cx="350.01" cy="113.07" r="1.15"/>
<circle cx="355.51" cy="110.21" r="1.15"/>
<circle cx="305.85" cy="158.94" r="1.15"/>
<circle cx="283.56" cy="188.57" r="1.15"/>
<circle cx="381.88" cy="83.52" r="1.15"/>
<circle cx="370.19" cy="91.14" r="1.15"/>
<circle cx="397.85" cy="60.37" r="1.15"/>
<circle cx="350.45" cy="116.2" r="1.15"/>
<circle cx="319.13" cy="133.65" r="1.15"/>
<circle cx="313.88" cy="154.41" r="1.15"/>
<circle cx="354.82" cy="113.15" r="1.15"/>
<circle cx="341.88" cy="118.09" r="1.15"/>
<circle cx="368.05" cy="91.6" r="1.15"/>
<circle cx="368.93" cy="100.88" r="1.15"/>
<circle cx="348.71" cy="107.88" r="1.15"/>
<circle cx="370.06" cy="92.45" r="1.15"/>
<circle cx="376.3" cy="86.47" r="1.15"/>
<circle cx="386.52" cy="78.94" r="1.15"/>
<circle cx="275.07" cy="189.31" r="1.15"/>
<circle cx="351.63" cy="122.47" r="1.15"/>
<circle cx="367.1" cy="98.92" r="1.15"/>
<circle cx="369.81" cy="97.13" r="1.15"/>
<circle cx="384.77" cy="82.82" r="1.15"/>
<circle cx="377.89" cy="82.38" r="1.15"/>
<circle cx="367.81" cy="97.3" r="1.15"/>
<circle cx="358.35" cy="113.98" r="1.15"/>
<circle cx="377.46" cy="79.71" r="1.15"/>
<circle cx="394.02" cy="77.76" r="1.15"/>
<circle cx="375.49" cy="96.94" r="1.15"/>
<circle cx="359.17" cy="105.64" r="1.15"/>
<circle cx="338.62" cy="125.79" r="1.15"/>
<circle cx="340.22" cy="133.87" r="1.15"/>
<circle cx="322.64" cy="144.76" r="1.15"/>
<circle cx="306.5" cy="146.27" r="1.15"/>
<circle cx="353.55" cy="109.32" r="1.15"/>
<circle cx="327.33" cy="139.67" r="1.15"/>
<circle cx="395.56" cy="65.25" r="1.15"/>
<circle cx="293.87" cy="168.9" r="1.15"/>
<circle cx="363.15" cy="103.71" r="1.15"/>
<circle cx="302.7" cy="163" r="1.15"/>
<circle cx="368.73" cy="97.49" r="1.15"/>
<circle cx="363.49" cy="93.26" r="1.15"/>
<circle cx="386.73" cy="72.24" r="1.15"/>
<circle cx="399.12" cy="67.07" r="1.15"/>
<circle cx="344.2" cy="108.59" r="1.15"/>
<circle cx="356.44" cy="102.73" r="1.15"/>
<circle cx="366.2" cy="99.95" r="1.15"/>
<circle cx="345.44" cy="107.36" r="1.15"/>
<circle cx="329.25" cy="141.28" r="1.15"/>
<circle cx="372.94" cy="83.12" r="1.15"/>
<circle cx="285.5" cy="179.84" r="1.15"/>
<circle cx="366.23" cy="93.23" r="1.15"/>
<circle cx="401.82" cy="62.42" r="1.15"/>
<circle cx="370.51" cy="85.89" r="1.15"/>
<circle cx="377.58" cy="79.82" r="1.15"/>
<circle cx="301.16" cy="171.04" r="1.15"/>
<circle cx="334.96" cy="134.89" r="1.15"/>
<circle cx="371.49" cy="91.18" r="1.15"/>
<circle cx="350.37" cy="111.63" r="1.15"/>
<circle cx="334.5" cy="134.73" r="1.15"/>
<circle cx="343.26" cy="126.95" r="1.15"/>
<circle cx="379.05" cy="86.32" r="1.15"/>
<circle cx="306.82" cy="152.23" r="1.15"/>
<circle cx="381.08" cy="80.15" r="1.15"/>
<circle cx="378.98" cy="79.96" r="1.15"/>
<circle cx="399.86" cy="60.09" r="1.15"/>
<circle cx="376.51" cy="81.39" r="1.15"/>
<circle cx="345.43" cy="117.58" r="1.15"/>
<circle cx="361.89" cy="90.92" r="1.15"/>
<circle cx="343.14" cy="119.14" r="1.15"/>
<circle cx="349.38" cy="119.17" r="1.15"/>
<circle cx="310.51" cy="147.87" r="1.15"/>
<circle cx="377.46" cy="86.17" r="1.15"/>
<circle cx="352.29" cy="107.33" r="1.15"/>
<circle cx="369.71" cy="94.61" r="1.15"/>
<circle cx="334.6" cy="133.93" r="1.15"/>
<circle cx="276.83" cy="190.51" r="1.15"/>
<circle cx="319.5" cy="152.04" r="1.15"/>
<circle cx="371.94" cy="88.05" r="1.15"/>
<circle cx="280.95" cy="180.23" r="1.15"/>
<circle cx="333.14" cy="124.97" r="1.15"/>
<circle cx="376.01" cy="90.37" r="1.15"/>
<circle cx="365.37" cy="80.92" r="1.15"/>
<circle cx="308.27" cy="135.79" r="1.15"/>
<circle cx="317.36" cy="97.18" r="1.15"/>
<circle cx="314.33" cy="122.75" r="1.15"/>
<circle cx="285.58" cy="88.24" r="1.15"/>
<circle cx="358.36" cy="58.68" r="1.15"/>
<circle cx="358.62" cy="78.98" r="1.15"/>
<circle cx="296.89" cy="113.74" r="1.15"/>
<circle cx="307.98" cy="66.43" r="1.15"/>
<circle cx="299.48" cy="69.08" r="1.15"/>
<circle cx="280.9" cy="80.44" r="1.15"/>
<circle cx="340.03" cy="79.62" r="1.15"/>
<circle cx="269.02" cy="166.94" r="1.15"/>
<circle cx="305.16" cy="101.03" r="1.15"/>
<circle cx="314.86" cy="111.67" r="1.15"/>
<circle cx="266.96" cy="164.32" r="1.15"/>
<circle cx="283.57" cy="139.25" r="1.15"/>
<circle cx="287.59" cy="121.35" r="1.15"/>
<circle cx="346.61" cy="98.6" r="1.15"/>
<circle cx="321.72" cy="115.15" r="1.15"/>
<circle cx="321.49" cy="69.75" r="1.15"/>
<circle cx="271.99" cy="93.73" r="1.15"/>
<circle cx="281.13" cy="131.12" r="1.15"/>
<circle cx="296.17" cy="150" r="1.15"/>
<circle cx="384.31" cy="61.41" r="1.15"/>
<circle cx="296.8" cy="150.94" r="1.15"/>
<circle cx="273.03" cy="70.98" r="1.15"/>
<circle cx="268.9" cy="70.53" r="1.15"/>
<circle cx="330.17" cy="65.78" r="1.15"/>
<circle cx="303.54" cy="67.29" r="1.15"/>
<circle cx="290.45" cy="78.66" r="1.15"/>
<circle cx="278.73" cy="93.71" r="1.15"/>
<circle cx="356.07" cy="65.26" r="1.15"/>
<circle cx="275.17" cy="161.14" r="1.15"/>
<circle cx="288.55" cy="159.51" r="1.15"/>
<circle cx="351.62" cy="72.42" r="1.15"/>
<circle cx="294.84" cy="150.72" r="1.15"/>
<circle cx="270.76" cy="110.63" r="1.15"/>
<circle cx="297.72" cy="83.32" r="1.15"/>
<circle cx="302.21" cy="89.7" r="1.15"/>
<circle cx="301.41" cy="117.55" r="1.15"/>
<circle cx="325.35" cy="90.38" r="1.15"/>
<circle cx="288.41" cy="116.49" r="1.15"/>
<circle cx="311.97" cy="102.77" r="1.15"/>
<circle cx="322.57" cy="87.37" r="1.15"/>
<circle cx="269.45" cy="111.01" r="1.15"/>
<circle cx="339.9" cy="73.97" r="1.15"/>
<circle cx="336.05" cy="84.87" r="1.15"/>
<circle cx="283.99" cy="149.37" r="1.15"/>
<circle cx="306.04" cy="107.74" r="1.15"/>
<circle cx="299.53" cy="112.1" r="1.15"/>
<circle cx="355.38" cy="79.6" r="1.15"/>
<circle cx="272.83" cy="136" r="1.15"/>
<circle cx="329.01" cy="88.95" r="1.15"/>
<circle cx="283.77" cy="130" r="1.15"/>
<circle cx="269.96" cy="158.81" r="1.15"/>
<circle cx="283.38" cy="138.37" r="1.15"/>
<circle cx="269.31" cy="57.43" r="1.15"/>
<circle cx="298.02" cy="117.04" r="1.15"/>
<circle cx="325.34" cy="65.97" r="1.15"/>
<circle cx="309.01" cy="59.43" r="1.15"/>
<circle cx="270.02" cy="137.01" r="1.15"/>
<circle cx="272.49" cy="145.05" r="1.15"/>
<circle cx="316.34" cy="77.97" r="1.15"/>
<circle cx="323.44" cy="57.81" r="1.15"/>
<circle cx="288.69" cy="155.9" r="1.15"/>
<circle cx="300.04" cy="142.64" r="1.15"/>
<circle cx="307.05" cy="139.52" r="1.15"/>
<circle cx="272.02" cy="138.23" r="1.15"/>
<circle cx="270.17" cy="170.85" r="1.15"/>
<circle cx="268.98" cy="149.2" r="1.15"/>
<circle cx="284.12" cy="163.62" r="1.15"/>
<circle cx="315.5" cy="74.9" r="1.15"/>
<circle cx="303.11" cy="144.81" r="1.15"/>
<circle cx="370.86" cy="60.18" r="1.15"/>
<circle cx="352.73" cy="67.77" r="1.15"/>
<circle cx="295.58" cy="106.22" r="1.15"/>
<circle cx="272.7" cy="139.66" r="1.15"/>
<circle cx="285.61" cy="137.1" r="1.15"/>
<circle cx="286.68" cy="101.84" r="1.15"/>
<circle cx="277.02" cy="145.23" r="1.15"/>
<circle cx="284.59" cy="112.92" r="1.15"/>
<circle cx="337.35" cy="97.14" r="1.15"/>
<circle cx="273.07" cy="136.84" r="1.15"/>
<circle cx="329.79" cy="112.48" r="1.15"/>
<circle cx="267.9" cy="144.52" r="1.15"/>
<circle cx="326.34" cy="108.54" r="1.15"/>
<circle cx="312.36" cy="113.78" r="1.15"/>
<circle cx="373.59" cy="73.05" r="1.15"/>
<circle cx="282.63" cy="123.06" r="1.15"/>
<circle cx="264.94" cy="118.13" r="1.15"/>
<circle cx="296.2" cy="124.86" r="1.15"/>
<circle cx="336.69" cy="107.31" r="1.15"/>
<circle cx="373.79" cy="61.09" r="1.15"/>
<circle cx="310.27" cy="72.16" r="1.15"/>
<circle cx="354.84" cy="61.75" r="1.15"/>
<circle cx="285.73" cy="107.69" r="1.15"/>
<circle cx="302.28" cy="90.6" r="1.15"/>
<circle cx="278.22" cy="96.53" r="1.15"/>
<circle cx="324.03" cy="87.49" r="1.15"/>
<circle cx="286.13" cy="74.85" r="1.15"/>
<circle cx="271.83" cy="157.03" r="1.15"/>
<circle cx="308.59" cy="89.21" r="1.15"/>
<circle cx="319.97" cy="96.24" r="1.15"/>
<circle cx="281.24" cy="140.52" r="1.15"/>
<circle cx="266.62" cy="112.53" r="1.15"/>
<circle cx="270.38" cy="152.72" r="1.15"/>
<circle cx="369.78" cy="78.56" r="1.15"/>
<circle cx="316.17" cy="108.2" r="1.15"/>
<circle cx="294.66" cy="126.39" r="1.15"/>
<circle cx="273.26" cy="71.32" r="1.15"/>
<circle cx="275.1" cy="166.61" r="1.15"/>
<circle cx="319.18" cy="82.81" r="1.15"/>
<circle cx="272.38" cy="117.22" r="1.15"/>
<circle cx="274.61" cy="142.94" r="1.15"/>
<circle cx="305.47" cy="122.09" r="1.15"/>
<circle cx="333.95" cy="82.39" r="1.15"/>
<circle cx="370.12" cy="80.04" r="1.15"/>
<circle cx="350.96" cy="82.3" r="1.15"/>
<circle cx="301.43" cy="69.64" r="1.15"/>
<circle cx="277.16" cy="146.17" r="1.15"/>
<circle cx="292.53" cy="91.37" r="1.15"/>
<circle cx="310.75" cy="133.3" r="1.15"/>
<circle cx="306.97" cy="119.02" r="1.15"/>
<circle cx="291.66" cy="72.95" r="1.15"/>
<circle cx="318.34" cy="96.36" r="1.15"/>
<circle cx="300.66" cy="100.22" r="1.15"/>
<circle cx="345.62" cy="71.99" r="1.15"/>
<circle cx="324.24" cy="101.8" r="1.15"/>
<circle cx="326.27" cy="57.87" r="1.15"/>
<circle cx="305.85" cy="92.24" r="1.15"/>
<circle cx="317.54" cy="74.69" r="1.15"/>
<circle cx="295.52" cy="78.35" r="1.15"/>
<circle cx="297.69" cy="82.79" r="1.15"/>
<circle cx="335.14" cy="74.95" r="1.15"/>
<circle cx="301.48" cy="104.72" r="1.15"/>
<circle cx="337.59" cy="85.48" r="1.15"/>
<circle cx="296.52" cy="83.75" r="1.15"/>
<circle cx="284.72" cy="142.01" r="1.15"/>
<circle cx="269.64" cy="144.7" r="1.15"/>
<circle cx="288.64" cy="138.95" r="1.15"/>
<circle cx="345.73" cy="70.09" r="1.15"/>
<circle cx="347.32" cy="73.47" r="1.15"/>
<circle cx="290.66" cy="101.41" r="1.15"/>
<circle cx="266.83" cy="145.53" r="1.15"/>
<circle cx="343.89" cy="97.86" r="1.15"/>
<circle cx="281.6" cy="98.01" r="1.15"/>
<circle cx="305.5" cy="136.32" r="1.15"/>
<circle cx="324.71" cy="123.13" r="1.15"/>
<circle cx="310.23" cy="96.68" r="1.15"/>
<circle cx="324.47" cy="65.81" r="1.15"/>
<circle cx="322.63" cy="63.01" r="1.15"/>
<circle cx="296.91" cy="135.88" r="1.15"/>
<circle cx="372.4" cy="77" r="1.15"/>
<circle cx="309.91" cy="70.61" r="1.15"/>
<circle cx="267.86" cy="106.16" r="1.15"/>
<circle cx="312.25" cy="128.72" r="1.15"/>
<circle cx="316.56" cy="91.56" r="1.15"/>
<circle cx="286.7" cy="104.02" r="1.15"/>
<circle cx="377.54" cy="64.35" r="1.15"/>
<circle cx="267.99" cy="143.99" r="1.15"/>
<circle cx="276.4" cy="122.37" r="1.15"/>
<circle cx="293.35" cy="130.49" r="1.15"/>
<circle cx="325.05" cy="76.94" r="1.15"/>
<circle cx="318.11" cy="108.95" r="1.15"/>
<circle cx="266.22" cy="170.47" r="1.15"/>
<circle cx="285.35" cy="119.84" r="1.15"/>
<circle cx="279.27" cy="150.74" r="1.15"/>
<circle cx="349.13" cy="77.35" r="1.15"/>
<circle cx="328.93" cy="103.34" r="1.15"/>
<circle cx="330.5" cy="69.81" r="1.15"/>
<circle cx="304.07" cy="91.89" r="1.15"/>
<circle cx="313.05" cy="133.5" r="1.15"/>
<circle cx="311.82" cy="133.33" r="1.15"/>
<circle cx="271.32" cy="78.96" r="1.15"/>
<circle cx="277.82" cy="141.19" r="1.15"/>
<circle cx="265.99" cy="136.54" r="1.15"/>
<circle cx="265.75" cy="111.48" r="1.15"/>
<circle cx="312.76" cy="110.85" r="1.15"/>
<circle cx="304.31" cy="109.35" r="1.15"/>
<circle cx="306.14" cy="124.32" r="1.15"/>
<circle cx="276.99" cy="157.29" r="1.15"/>
<circle cx="302.29" cy="99.87" r="1.15"/>
<circle cx="267.75" cy="65.72" r="1.15"/>
<circle cx="353.93" cy="59.1" r="1.15"/>
<circle cx="274.65" cy="86.24" r="1.15"/>
<circle cx="280.29" cy="148.17" r="1.15"/>
<circle cx="274.19" cy="175.55" r="1.15"/>
<circle cx="305.47" cy="63.1" r="1.15"/>
<circle cx="319.21" cy="119.13" r="1.15"/>
<circle cx="280.99" cy="73.86" r="1.15"/>
<circle cx="268.93" cy="133.14" r="1.15"/>
<circle cx="353.24" cy="66.55" r="1.15"/>
<circle cx="310.68" cy="111.74" r="1.15"/>
<circle cx="315.76" cy="114.04" r="1.15"/>
<circle cx="311.79" cy="112.76" r="1.15"/>
<circle cx="299.07" cy="93.09" r="1.15"/>
<circle cx="295.15" cy="90.04" r="1.15"/>
<circle cx="305.01" cy="77.38" r="1.15"/>
<circle cx="284.69" cy="63.51" r="1.15"/>
<circle cx="290.94" cy="119.31" r="1.15"/>
<circle cx="280.66" cy="88.46" r="1.15"/>
<circle cx="382.74" cy="67.12" r="1.15"/>
<circle cx="312.55" cy="63.48" r="1.15"/>
<circle cx="302.96" cy="76.02" r="1.15"/>
<circle cx="267.48" cy="119.01" r="1.15"/>
<circle cx="282.07" cy="126.04" r="1.15"/>
<circle cx="331.58" cy="73.84" r="1.15"/>
<circle cx="351.35" cy="67.74" r="1.15"/>
<circle cx="360.43" cy="64.47" r="1.15"/>
<circle cx="274.23" cy="70.1" r="1.15"/>
<circle cx="268.71" cy="114.49" r="1.15"/>
<circle cx="354.65" cy="76.33" r="1.15"/>
<circle cx="328.67" cy="116.28" r="1.15"/>
<circle cx="356.87" cy="65.11" r="1.15"/>
<circle cx="329.03" cy="111.84" r="1.15"/>
<circle cx="279.47" cy="74.48" r="1.15"/>
<circle cx="332.97" cy="113.26" r="1.15"/>
<circle cx="273.72" cy="84.53" r="1.15"/>
<circle cx="266.78" cy="87.75" r="1.15"/>
<circle cx="308.79" cy="100.54" r="1.15"/>
<circle cx="295.55" cy="72.76" r="1.15"/>
<circle cx="284.48" cy="157.09" r="1.15"/>
<circle cx="296.06" cy="103.29" r="1.15"/>
<circle cx="295.27" cy="150.64" r="1.15"/>
<circle cx="275.12" cy="88.65" r="1.15"/>
<circle cx="293.38" cy="135.5" r="1.15"/>
<circle cx="384.27" cy="58.19" r="1.15"/>
<circle cx="282.59" cy="85.14" r="1.15"/>
<circle cx="309.16" cy="85.03" r="1.15"/>
<circle cx="302.46" cy="111.49" r="1.15"/>
<circle cx="327.21" cy="81.29" r="1.15"/>
<circle cx="273.35" cy="68.38" r="1.15"/>
<circle cx="291.77" cy="73.26" r="1.15"/>
<circle cx="282.61" cy="100.09" r="1.15"/>
<circle cx="360.07" cy="63.72" r="1.15"/>
<circle cx="289.05" cy="144.47" r="1.15"/>
<circle cx="280.92" cy="120.39" r="1.15"/>
<circle cx="339.25" cy="88.81" r="1.15"/>
<circle cx="305.39" cy="89.02" r="1.15"/>
<circle cx="308.14" cy="114.82" r="1.15"/>
<circle cx="368.77" cy="60.59" r="1.15"/>
<circle cx="343.9" cy="77.57" r="1.15"/>
<circle cx="289.83" cy="64.42" r="1.15"/>
<circle cx="268.02" cy="88.75" r="1.15"/>
<circle cx="271.62" cy="169.25" r="1.15"/>
<circle cx="267.39" cy="161.61" r="1.15"/>
<circle cx="330.27" cy="103.5" r="1.15"/>
<circle cx="298.98" cy="108.07" r="1.15"/>
<circle cx="326.83" cy="107.38" r="1.15"/>
<circle cx="311.57" cy="72.49" r="1.15"/>
<circle cx="319.49" cy="118.62" r="1.15"/>
<circle cx="308.41" cy="68.49" r="1.15"/>
<circle cx="331.54" cy="58.98" r="1.15"/>
<circle cx="287.23" cy="94.03" r="1.15"/>
<circle cx="277.53" cy="98.87" r="1.15"/>
<circle cx="340.11" cy="106.31" r="1.15"/>
<circle cx="276.61" cy="124.34" r="1.15"/>
<circle cx="348.9" cy="60.92" r="1.15"/>
<circle cx="298.21" cy="69.95" r="1.15"/>
<circle cx="320.7" cy="116.6" r="1.15"/>
<circle cx="302.92" cy="78.23" r="1.15"/>
<circle cx="293.03" cy="79.17" r="1.15"/>
<circle cx="354.65" cy="84.09" r="1.15"/>
<circle cx="287.92" cy="81.77" r="1.15"/>
<circle cx="296.82" cy="67.71" r="1.15"/>
<circle cx="384.27" cy="65.97" r="1.15"/>
<circle cx="273.28" cy="101.57" r="1.15"/>
<circle cx="355.85" cy="89.37" r="1.15"/>
<circle cx="367.79" cy="73.87" r="1.15"/>
<circle cx="285.93" cy="84.33" r="1.15"/>
<circle cx="350.52" cy="87.07" r="1.15"/>
<circle cx="349.76" cy="99.01" r="1.15"/>
<circle cx="308.16" cy="66.69" r="1.15"/>
<circle cx="302.91" cy="63.35" r="1.15"/>
<circle cx="269.46" cy="75.36" r="1.15"/>
<circle cx="326.84" cy="91.18" r="1.15"/>
<circle cx="290.94" cy="113.16" r="1.15"/>
<circle cx="271.66" cy="143.42" r="1.15"/>
<circle cx="295.68" cy="127.51" r="1.15"/>
<circle cx="280.81" cy="133" r="1.15"/>
<circle cx="348.89" cy="65.18" r="1.15"/>
<circle cx="297.75" cy="118.48" r="1.15"/>
<circle cx="284.53" cy="117.12" r="1.15"/>
<circle cx="306.68" cy="88.18" r="1.15"/>
<circle cx="327.08" cy="62.99" r="1.15"/>
<circle cx="300.14" cy="97.91" r="1.15"/>
<circle cx="281.58" cy="133.99" r="1.15"/>
<circle cx="350" cy="99.67" r="1.15"/>
<circle cx="270.9" cy="95.76" r="1.15"/>
<circle cx="272" cy="127.54" r="1.15"/>
<circle cx="274.37" cy="138.63" r="1.15"/>
<circle cx="278.67" cy="63.12" r="1.15"/>
<circle cx="328.63" cy="112.23" r="1.15"/>
<circle cx="306.19" cy="107.39" r="1.15"/>
<circle cx="304.64" cy="87.4" r="1.15"/>
<circle cx="326.91" cy="73.07" r="1.15"/>
<circle cx="314.12" cy="70.6" r="1.15"/>
<circle cx="352.82" cy="91.67" r="1.15"/>
<circle cx="359.75" cy="63.65" r="1.15"/>
<circle cx="319.38" cy="88.26" r="1.15"/>
<circle cx="341.26" cy="80.89" r="1.15"/>
<circle cx="316.12" cy="111.88" r="1.15"/>
<circle cx="360.09" cy="63.57" r="1.15"/>
<circle cx="346.83" cy="71.21" r="1.15"/>
<circle cx="302.73" cy="82.94" r="1.15"/>
<circle cx="283.86" cy="109.8" r="1.15"/>
<circle cx="334.29" cy="58.1" r="1.15"/>
<circle cx="304.2" cy="98.25" r="1.15"/>
<circle cx="300.7" cy="143" r="1.15"/>
<circle cx="267.99" cy="140.84" r="1.15"/>
<circle cx="284.3" cy="149.35" r="1.15"/>
<circle cx="276.06" cy="84.54" r="1.15"/>
<circle cx="299.49" cy="125.47" r="1.15"/>
<circle cx="268.5" cy="81.21" r="1.15"/>
<circle cx="292.52" cy="96.7" r="1.15"/>
<circle cx="309.01" cy="73.22" r="1.15"/>
<circle cx="322.75" cy="82.1" r="1.15"/>
<circle cx="294.02" cy="107.94" r="1.15"/>
<circle cx="373.34" cy="68.27" r="1.15"/>
<circle cx="287.29" cy="143.44" r="1.15"/>
<circle cx="293.15" cy="72.65" r="1.15"/>
<circle cx="294.52" cy="142.22" r="1.15"/>
<circle cx="270.62" cy="143.72" r="1.15"/>
<circle cx="343.5" cy="75.39" r="1.15"/>
<circle cx="300.57" cy="101.59" r="1.15"/>
<circle cx="307.09" cy="128.37" r="1.15"/>
<circle cx="266.95" cy="149.45" r="1.15"/>
<circle cx="346.46" cy="102.61" r="1.15"/>
<circle cx="315.95" cy="123.45" r="1.15"/>
<circle cx="368.22" cy="71.32" r="1.15"/>
<circle cx="267.73" cy="150.7" r="1.15"/>
<circle cx="316.92" cy="116.91" r="1.15"/>
<circle cx="297.19" cy="60.8" r="1.15"/>
<circle cx="284.26" cy="138.83" r="1.15"/>
<circle cx="279.32" cy="115.63" r="1.15"/>
<circle cx="321.92" cy="88.8" r="1.15"/>
<circle cx="325.66" cy="70.28" r="1.15"/>
<circle cx="293.24" cy="131.12" r="1.15"/>
<circle cx="308.97" cy="113.57" r="1.15"/>
<circle cx="267.16" cy="161.58" r="1.15"/>
<circle cx="278.1" cy="105.64" r="1.15"/>
<circle cx="269.3" cy="84.03" r="1.15"/>
<circle cx="286.26" cy="127.55" r="1.15"/>
<circle cx="301.39" cy="67.98" r="1.15"/>
<circle cx="273.46" cy="166.08" r="1.15"/>
<circle cx="302.83" cy="77.76" r="1.15"/>
<circle cx="272.54" cy="125.08" r="1.15"/>
<circle cx="268.48" cy="59.21" r="1.15"/>
<circle cx="342.5" cy="68.36" r="1.15"/>
<circle cx="289.66" cy="128.33" r="1.15"/>
<circle cx="346.06" cy="91.02" r="1.15"/>
<circle cx="268.54" cy="73.42" r="1.15"/>
<circle cx="279.58" cy="152.63" r="1.15"/>
<circle cx="279.52" cy="164.19" r="1.15"/>
<circle cx="284.44" cy="114.86" r="1.15"/>
<circle cx="315.69" cy="127.45" r="1.15"/>
<circle cx="316.24" cy="118.39" r="1.15"/>
<circle cx="282.14" cy="139.65" r="1.15"/>
<circle cx="313.61" cy="96.26" r="1.15"/>
<circle cx="367.99" cy="119.33" r="1.15"/>
<circle cx="352.44" cy="168.12" r="1.15"/>
<circle cx="306.53" cy="176.22" r="1.15"/>
<circle cx="379.3" cy="100.78" r="1.15"/>
<circle cx="390.32" cy="150.15" r="1.15"/>
<circle cx="341.35" cy="149.24" r="1.15"/>
<circle cx="305.5" cy="198.18" r="1.15"/>
<circle cx="412.99" cy="121.7" r="1.15"/>
<circle cx="361.29" cy="131.47" r="1.15"/>
<circle cx="343.24" cy="159.52" r="1.15"/>
<circle cx="378.34" cy="99.97" r="1.15"/>
<circle cx="381.07" cy="126.85" r="1.15"/>
<circle cx="342.54" cy="163.52" r="1.15"/>
<circle cx="370.02" cy="113.02" r="1.15"/>
<circle cx="363.93" cy="122.05" r="1.15"/>
<circle cx="319.67" cy="163.26" r="1.15"/>
<circle cx="377.55" cy="159.13" r="1.15"/>
<circle cx="357.67" cy="131.82" r="1.15"/>
<circle cx="379.14" cy="97.15" r="1.15"/>
<circle cx="348.57" cy="140.37" r="1.15"/>
<circle cx="346.91" cy="139.6" r="1.15"/>
<circle cx="384.82" cy="93.6" r="1.15"/>
<circle cx="344.84" cy="171.61" r="1.15"/>
<circle cx="350.26" cy="166.95" r="1.15"/>
<circle cx="377.26" cy="161.07" r="1.15"/>
<circle cx="372.49" cy="115.98" r="1.15"/>
<circle cx="335.88" cy="156.53" r="1.15"/>
<circle cx="330.06" cy="166.02" r="1.15"/>
<circle cx="387.38" cy="125.84" r="1.15"/>
<circle cx="384.91" cy="98.6" r="1.15"/>
<circle cx="335.12" cy="142.25" r="1.15"/>
<circle cx="336.3" cy="156.99" r="1.15"/>
<circle cx="364.48" cy="138.91" r="1.15"/>
<circle cx="386.33" cy="125.8" r="1.15"/>
<circle cx="355.95" cy="123.6" r="1.15"/>
<circle cx="345.05" cy="132.34" r="1.15"/>
<circle cx="359.44" cy="142.16" r="1.15"/>
<circle cx="362.81" cy="117.27" r="1.15"/>
<circle cx="326.7" cy="182.3" r="1.15"/>
<circle cx="365.89" cy="111.33" r="1.15"/>
<circle cx="349.98" cy="131.88" r="1.15"/>
<circle cx="377.11" cy="103.53" r="1.15"/>
<circle cx="359.72" cy="146.07" r="1.15"/>
<circle cx="357.91" cy="122.43" r="1.15"/>
<circle cx="325.02" cy="186.73" r="1.15"/>
<circle cx="339.46" cy="162.57" r="1.15"/>
<circle cx="316.52" cy="170.49" r="1.15"/>
<circle cx="352.66" cy="143.77" r="1.15"/>
<circle cx="309.62" cy="166.92" r="1.15"/>
<circle cx="326.29" cy="179.32" r="1.15"/>
<circle cx="349.97" cy="149.01" r="1.15"/>
<circle cx="337.64" cy="143.08" r="1.15"/>
<circle cx="346.29" cy="159.77" r="1.15"/>
<circle cx="355.6" cy="136.67" r="1.15"/>
<circle cx="373.82" cy="118.65" r="1.15"/>
<circle cx="332.23" cy="164.86" r="1.15"/>
<circle cx="280.72" cy="196.97" r="1.15"/>
<circle cx="412.99" cy="79.6" r="1.15"/>
<circle cx="382.12" cy="99.36" r="1.15"/>
<circle cx="366.1" cy="115.31" r="1.15"/>
<circle cx="363.66" cy="131.37" r="1.15"/>
<circle cx="371.41" cy="112.51" r="1.15"/>
<circle cx="402.27" cy="95.08" r="1.15"/>
<circle cx="350.87" cy="129.9" r="1.15"/>
<circle cx="383.69" cy="136.76" r="1.15"/>
<circle cx="389.18" cy="89.22" r="1.15"/>
<circle cx="338.52" cy="156.57" r="1.15"/>
<circle cx="330.42" cy="175.47" r="1.15"/>
<circle cx="406.13" cy="83.2" r="1.15"/>
<circle cx="366.52" cy="114.69" r="1.15"/>
<circle cx="349.32" cy="128.12" r="1.15"/>
<circle cx="334.32" cy="175.62" r="1.15"/>
<circle cx="357.6" cy="126.03" r="1.15"/>
<circle cx="381.69" cy="114.88" r="1.15"/>
<circle cx="357.05" cy="130.64" r="1.15"/>
<circle cx="362.69" cy="146.48" r="1.15"/>
<circle cx="337.81" cy="140.85" r="1.15"/>
<circle cx="404.52" cy="102.52" r="1.15"/>
<circle cx="316.89" cy="171.65" r="1.15"/>
<circle cx="337.51" cy="189.33" r="1.15"/>
<circle cx="290.04" cy="187.46" r="1.15"/>
<circle cx="332.27" cy="169.2" r="1.15"/>
<circle cx="360.22" cy="141.67" r="1.15"/>
<circle cx="331.77" cy="156.65" r="1.15"/>
<circle cx="368.46" cy="153.3" r="1.15"/>
<circle cx="385.23" cy="104.15" r="1.15"/>
<circle cx="366.68" cy="129.47" r="1.15"/>
<circle cx="355.7" cy="126.47" r="1.15"/>
<circle cx="354.98" cy="177.2" r="1.15"/>
<circle cx="308.58" cy="182.1" r="1.15"/>
<circle cx="347.79" cy="143.15" r="1.15"/>
<circle cx="379.28" cy="126.7" r="1.15"/>
<circle cx="411.47" cy="69.22" r="1.15"/>
<circle cx="336.36" cy="170.22" r="1.15"/>
<circle cx="312.59" cy="180.29" r="1.15"/>
<circle cx="331.51" cy="161.59" r="1.15"/>
<circle cx="326.18" cy="164.6" r="1.15"/>
<circle cx="331.95" cy="158.12" r="1.15"/>
<circle cx="359.2" cy="176.32" r="1.15"/>
<circle cx="308.82" cy="182.97" r="1.15"/>
<circle cx="334.24" cy="154.08" r="1.15"/>
<circle cx="331.07" cy="148.54" r="1.15"/>
<circle cx="364.93" cy="122.84" r="1.15"/>
<circle cx="357.85" cy="150.88" r="1.15"/>
<circle cx="356.8" cy="190.55" r="1.15"/>
<circle cx="364.55" cy="157.17" r="1.15"/>
<circle cx="357.18" cy="127.23" r="1.15"/>
<circle cx="364.77" cy="131.97" r="1.15"/>
<circle cx="329.62" cy="153.79" r="1.15"/>
<circle cx="339.81" cy="146.83" r="1.15"/>
<circle cx="374" cy="143.98" r="1.15"/>
<circle cx="384.25" cy="143.85" r="1.15"/>
<circle cx="354.07" cy="134.78" r="1.15"/>
<circle cx="351.74" cy="127.07" r="1.15"/>
<circle cx="359.47" cy="166.96" r="1.15"/>
<circle cx="343.19" cy="152.33" r="1.15"/>
<circle cx="344.09" cy="161.3" r="1.15"/>
<circle cx="343.9" cy="149.78" r="1.15"/>
<circle cx="353.33" cy="136.84" r="1.15"/>
<circle cx="371.69" cy="186.29" r="1.15"/>
<circle cx="342.54" cy="198.4" r="1.15"/>
<circle cx="334.55" cy="194.36" r="1.15"/>
<circle cx="340.67" cy="138.57" r="1.15"/>
<circle cx="335.61" cy="143.71" r="1.15"/>
<circle cx="342.66" cy="150.46" r="1.15"/>
<circle cx="392.86" cy="110.98" r="1.15"/>
<circle cx="412.99" cy="135.97" r="1.15"/>
<circle cx="390.12" cy="119.3" r="1.15"/>
<circle cx="334.79" cy="161.9" r="1.15"/>
<circle cx="353.78" cy="127.95" r="1.15"/>
<circle cx="307.85" cy="192.47" r="1.15"/>
<circle cx="319.44" cy="196.66" r="1.15"/>
<circle cx="363.49" cy="150.08" r="1.15"/>
<circle cx="326.95" cy="152.36" r="1.15"/>
<circle cx="351.97" cy="129.85" r="1.15"/>
<circle cx="336.43" cy="159.8" r="1.15"/>
<circle cx="373.57" cy="129.24" r="1.15"/>
<circle cx="338.38" cy="150.72" r="1.15"/>
<circle cx="392.39" cy="143.57" r="1.15"/>
<circle cx="347.32" cy="154.26" r="1.15"/>
<circle cx="345.7" cy="133.65" r="1.15"/>
<circle cx="354.44" cy="131.74" r="1.15"/>
<circle cx="340.17" cy="182.84" r="1.15"/>
<circle cx="313.65" cy="179.57" r="1.15"/>
<circle cx="325.54" cy="174.15" r="1.15"/>
<circle cx="355.49" cy="130.25" r="1.15"/>
<circle cx="375.32" cy="136.9" r="1.15"/>
<circle cx="358.26" cy="125.01" r="1.15"/>
<circle cx="355.91" cy="144.65" r="1.15"/>
<circle cx="345.89" cy="187.98" r="1.15"/>
<circle cx="335.49" cy="196.58" r="1.15"/>
<circle cx="366.44" cy="164.24" r="1.15"/>
<circle cx="387.18" cy="177.53" r="1.15"/>
<circle cx="350.37" cy="131.61" r="1.15"/>
<circle cx="359.95" cy="124.7" r="1.15"/>
<circle cx="394.22" cy="102.57" r="1.15"/>
<circle cx="312.55" cy="168.01" r="1.15"/>
<circle cx="335.01" cy="174.6" r="1.15"/>
<circle cx="362.73" cy="154.19" r="1.15"/>
<circle cx="351.56" cy="144.17" r="1.15"/>
<circle cx="318.72" cy="177.65" r="1.15"/>
<circle cx="326.77" cy="186.38" r="1.15"/>
<circle cx="368.28" cy="147.66" r="1.15"/>
<circle cx="330.98" cy="150.24" r="1.15"/>
<circle cx="377.48" cy="100.26" r="1.15"/>
<circle cx="327.83" cy="149.43" r="1.15"/>
<circle cx="363.29" cy="115.6" r="1.15"/>
<circle cx="375.52" cy="101.71" r="1.15"/>
<circle cx="336.49" cy="151.63" r="1.15"/>
<circle cx="370.25" cy="110.72" r="1.15"/>
<circle cx="303.95" cy="187.6" r="1.15"/>
<circle cx="319.51" cy="162.9" r="1.15"/>
<circle cx="350.58" cy="171.97" r="1.15"/>
<circle cx="349.76" cy="134.86" r="1.15"/>
<circle cx="339.23" cy="139.78" r="1.15"/>
<circle cx="300.39" cy="182.49" r="1.15"/>
<circle cx="328.68" cy="190.18" r="1.15"/>
<circle cx="388.72" cy="99.08" r="1.15"/>
<circle cx="323.07" cy="173.53" r="1.15"/>
<circle cx="354.33" cy="172.32" r="1.15"/>
<circle cx="395.38" cy="110.26" r="1.15"/>
<circle cx="407.69" cy="74.59" r="1.15"/>
<circle cx="361.62" cy="118.75" r="1.15"/>
<circle cx="392.76" cy="95.04" r="1.15"/>
<circle cx="365.02" cy="118.51" r="1.15"/>
<circle cx="389.65" cy="109.4" r="1.15"/>
<circle cx="314.95" cy="162.91" r="1.15"/>
<circle cx="341.97" cy="151.59" r="1.15"/>
<circle cx="306.12" cy="172.43" r="1.15"/>
<circle cx="319.15" cy="166.05" r="1.15"/>
<circle cx="344.05" cy="140.43" r="1.15"/>
<circle cx="322.75" cy="155.53" r="1.15"/>
<circle cx="372.99" cy="128.52" r="1.15"/>
<circle cx="355.53" cy="137.02" r="1.15"/>
<circle cx="326.62" cy="150.13" r="1.15"/>
<circle cx="338.12" cy="173.95" r="1.15"/>
<circle cx="331.01" cy="160.36" r="1.15"/>
<circle cx="373.51" cy="112.8" r="1.15"/>
<circle cx="368.08" cy="119.47" r="1.15"/>
<circle cx="354.04" cy="126.09" r="1.15"/>
<circle cx="376.88" cy="100.01" r="1.15"/>
<circle cx="352.53" cy="191.17" r="1.15"/>
<circle cx="328.46" cy="171.58" r="1.15"/>
<circle cx="369.11" cy="107.92" r="1.15"/>
<circle cx="384.47" cy="117.77" r="1.15"/>
<circle cx="374.72" cy="123.25" r="1.15"/>
<circle cx="322.2" cy="176.35" r="1.15"/>
<circle cx="383.86" cy="142.62" r="1.15"/>
<circle cx="375.84" cy="141.76" r="1.15"/>
<circle cx="314.95" cy="188.89" r="1.15"/>
<circle cx="354.77" cy="145.27" r="1.15"/>
<circle cx="369.06" cy="108.9" r="1.15"/>
<circle cx="322.89" cy="154.95" r="1.15"/>
<circle cx="350.93" cy="131.05" r="1.15"/>
<circle cx="333.17" cy="187.84" r="1.15"/>
<circle cx="341.16" cy="156.52" r="1.15"/>
<circle cx="324.17" cy="152.26" r="1.15"/>
<circle cx="353.78" cy="189.9" r="1.15"/>
<circle cx="389.68" cy="134.57" r="1.15"/>
<circle cx="345.18" cy="170.53" r="1.15"/>
<circle cx="357.71" cy="160.53" r="1.15"/>
<circle cx="404.72" cy="95.54" r="1.15"/>
<circle cx="370.04" cy="107.3" r="1.15"/>
<circle cx="322.89" cy="156.84" r="1.15"/>
<circle cx="350.01" cy="195.42" r="1.15"/>
<circle cx="359.48" cy="135.61" r="1.15"/>
<circle cx="341.42" cy="145.01" r="1.15"/>
<circle cx="340.87" cy="148.32" r="1.15"/>
<circle cx="335.55" cy="157.55" r="1.15"/>
<circle cx="318.83" cy="186.33" r="1.15"/>
<circle cx="399.73" cy="132.97" r="1.15"/>
<circle cx="322.64" cy="161.85" r="1.15"/>
<circle cx="347.93" cy="161.24" r="1.15"/>
<circle cx="376.46" cy="129.59" r="1.15"/>
<circle cx="298.54" cy="189.61" r="1.15"/>
<circle cx="412.99" cy="63.93" r="1.15"/>
<circle cx="362.28" cy="155.9" r="1.15"/>
<circle cx="356.77" cy="178.18" r="1.15"/>
<circle cx="365.83" cy="119.29" r="1.15"/>
<circle cx="351.98" cy="173.59" r="1.15"/>
<circle cx="363.57" cy="116.12" r="1.15"/>
<circle cx="388.54" cy="108.17" r="1.15"/>
<circle cx="339.35" cy="180.76" r="1.15"/>
<circle cx="350.36" cy="135.98" r="1.15"/>
<circle cx="315.29" cy="184.71" r="1.15"/>
<circle cx="334.54" cy="174.26" r="1.15"/>
<circle cx="326.8" cy="154.48" r="1.15"/>
<circle cx="364.96" cy="119.49" r="1.15"/>
<circle cx="404.63" cy="130.44" r="1.15"/>
<circle cx="361.8" cy="116.91" r="1.15"/>
<circle cx="372.99" cy="104.69" r="1.15"/>
<circle cx="303.27" cy="174.94" r="1.15"/>
<circle cx="359.98" cy="154.06" r="1.15"/>
<circle cx="321.26" cy="157.19" r="1.15"/>
<circle cx="375.04" cy="174.8" r="1.15"/>
<circle cx="338.95" cy="157.09" r="1.15"/>
<circle cx="299.56" cy="183.96" r="1.15"/>
<circle cx="308.52" cy="193.06" r="1.15"/>
<circle cx="359.06" cy="120.86" r="1.15"/>
<circle cx="373.73" cy="111.5" r="1.15"/>
<circle cx="347.53" cy="136.92" r="1.15"/>
<circle cx="351.82" cy="162.37" r="1.15"/>
<circle cx="374.09" cy="180.2" r="1.15"/>
<circle cx="344.48" cy="196.35" r="1.15"/>
<circle cx="342.02" cy="164.2" r="1.15"/>
<circle cx="342.7" cy="147.5" r="1.15"/>
<circle cx="310.39" cy="179.05" r="1.15"/>
<circle cx="382.37" cy="95.67" r="1.15"/>
<circle cx="363.96" cy="148.79" r="1.15"/>
<circle cx="380.45" cy="125.58" r="1.15"/>
<circle cx="334.67" cy="161.21" r="1.15"/>
<circle cx="383.53" cy="125.24" r="1.15"/>
<circle cx="350.28" cy="189.48" r="1.15"/>
<circle cx="327.61" cy="148.75" r="1.15"/>
<circle cx="358.3" cy="137.76" r="1.15"/>
<circle cx="343.71" cy="145.12" r="1.15"/>
<circle cx="349.32" cy="140.74" r="1.15"/>
<circle cx="373.58" cy="112.94" r="1.15"/>
<circle cx="345.61" cy="168.11" r="1.15"/>
<circle cx="365.54" cy="126.77" r="1.15"/>
<circle cx="359.96" cy="120.53" r="1.15"/>
<circle cx="330.76" cy="158.71" r="1.15"/>
<circle cx="364.31" cy="136.12" r="1.15"/>
<circle cx="344.4" cy="140.02" r="1.15"/>
<circle cx="369.39" cy="179.03" r="1.15"/>
<circle cx="348.92" cy="138.32" r="1.15"/>
<circle cx="314.51" cy="171.57" r="1.15"/>
<circle cx="349.26" cy="151.43" r="1.15"/>
<circle cx="369.55" cy="117.4" r="1.15"/>
<circle cx="356.77" cy="173.46" r="1.15"/>
<circle cx="352.09" cy="153.01" r="1.15"/>
<circle cx="346.39" cy="134.3" r="1.15"/>
<circle cx="337.93" cy="182.32" r="1.15"/>
<circle cx="389.89" cy="134.07" r="1.15"/>
<circle cx="312.88" cy="192.97" r="1.15"/>
<circle cx="331.63" cy="149.2" r="1.15"/>
<circle cx="378.13" cy="108.14" r="1.15"/>
<circle cx="339.29" cy="172.27" r="1.15"/>
<circle cx="353.62" cy="132.22" r="1.15"/>
<circle cx="351.4" cy="154.69" r="1.15"/>
<circle cx="369.07" cy="119.49" r="1.15"/>
<circle cx="364.83" cy="166.92" r="1.15"/>
<circle cx="337.25" cy="141.97" r="1.15"/>
<circle cx="337.7" cy="141.86" r="1.15"/>
<circle cx="376.5" cy="123.68" r="1.15"/>
<circle cx="377.19" cy="99.1" r="1.15"/>
<circle cx="349.43" cy="196.37" r="1.15"/>
<circle cx="337.81" cy="192.94" r="1.15"/>
<circle cx="317.93" cy="159.17" r="1.15"/>
<circle cx="347.58" cy="167.12" r="1.15"/>
<circle cx="378.49" cy="180.69" r="1.15"/>
<circle cx="354.82" cy="157.63" r="1.15"/>
<circle cx="378.57" cy="136.33" r="1.15"/>
<circle cx="375.37" cy="113.65" r="1.15"/>
<circle cx="351.63" cy="141.65" r="1.15"/>
<circle cx="312.18" cy="187.86" r="1.15"/>
<circle cx="368.54" cy="121.45" r="1.15"/>
<circle cx="350.29" cy="132.69" r="1.15"/>
<circle cx="321.65" cy="154.6" r="1.15"/>
<circle cx="336.77" cy="167.86" r="1.15"/>
<circle cx="361.61" cy="116.25" r="1.15"/>
<circle cx="352.98" cy="153.53" r="1.15"/>
<circle cx="299" cy="188.4" r="1.15"/>
<circle cx="300.77" cy="183.9" r="1.15"/>
<circle cx="349.61" cy="127.55" r="1.15"/>
<circle cx="361.69" cy="136.3" r="1.15"/>
<circle cx="359.21" cy="129.06" r="1.15"/>
<circle cx="362.21" cy="117.5" r="1.15"/>
<circle cx="317.82" cy="159.34" r="1.15"/>
<circle cx="304.94" cy="172.9" r="1.15"/>
</g>
<line x1="262.0" y1="44" x2="262.0" y2="216.5" stroke="#333" stroke-width="0.8" stroke-dasharray="1 1"/>
<line x1="246" y1="201.6" x2="421" y2="201.6" stroke="#333" stroke-width="0.8" stroke-dasharray="1 1"/>
<line x1="262.0" y1="62.5" x2="262.0" y2="201.6" stroke="#000" stroke-width="1.9"/>
<line x1="262.0" y1="201.6" x2="371.5" y2="201.6" stroke="#000" stroke-width="1.9"/>
<circle cx="262.0" cy="60" r="1.1"/>
<circle cx="262.0" cy="75" r="1.1"/>
<circle cx="262.0" cy="80" r="1.1"/>
<circle cx="262.0" cy="95" r="1.1"/>
<circle cx="262.0" cy="110" r="1.1"/>
<circle cx="262.0" cy="130" r="1.1"/>
<circle cx="262.0" cy="150" r="1.1"/>
<circle cx="262.0" cy="170" r="1.1"/>
<circle cx="262.0" cy="190" r="1.1"/>
<rect x="251.5" y="42.4" width="170.3" height="169.6" fill="none" stroke="#2a2a2a" stroke-width="1.2"/>
<line x1="246.7" y1="63.3" x2="251.5" y2="63.3" stroke="#222" stroke-width="1.1"/>
<text x="245.2" y="67.9" font-size="13" fill="#111" text-anchor="end">0</text>
<line x1="246.7" y1="105.9" x2="251.5" y2="105.9" stroke="#222" stroke-width="1.1"/>
<text x="245.2" y="110.5" font-size="13" fill="#111" text-anchor="end">-2</text>
<line x1="246.7" y1="148.5" x2="251.5" y2="148.5" stroke="#222" stroke-width="1.1"/>
<text x="245.2" y="153.1" font-size="13" fill="#111" text-anchor="end">-4</text>
<line x1="246.7" y1="191.1" x2="251.5" y2="191.1" stroke="#222" stroke-width="1.1"/>
<text x="245.2" y="195.7" font-size="13" fill="#111" text-anchor="end">-6</text>
<line x1="246.7" y1="201.6" x2="251.5" y2="201.6" stroke="#222" stroke-width="1.1"/>
<text x="245" y="204.6" font-size="8.1" fill="#222" text-anchor="end">Lethal</text>
<line x1="272.28" y1="212" x2="272.28" y2="216.6" stroke="#222" stroke-width="1.1"/>
<text x="272.28" y="231" font-size="13" fill="#111" text-anchor="middle">-6</text>
<line x1="314.92" y1="212" x2="314.92" y2="216.6" stroke="#222" stroke-width="1.1"/>
<text x="314.92" y="231" font-size="13" fill="#111" text-anchor="middle">-4</text>
<line x1="357.56" y1="212" x2="357.56" y2="216.6" stroke="#222" stroke-width="1.1"/>
<text x="357.56" y="231" font-size="13" fill="#111" text-anchor="middle">-2</text>
<line x1="400.2" y1="212" x2="400.2" y2="216.6" stroke="#222" stroke-width="1.1"/>
<text x="400.2" y="231" font-size="13" fill="#111" text-anchor="middle">0</text>
<line x1="262.0" y1="212" x2="262.0" y2="216.6" stroke="#222" stroke-width="1.1"/>
<text x="254.7" y="223.8" font-size="8.1" fill="#222" text-anchor="middle">Lethal</text>
<text x="336.7" y="246.3" font-size="13.9" fill="#111" text-anchor="middle">Expected fitness</text>
<text transform="translate(226.9,123.7) rotate(-90)" font-size="14.2" fill="#111" text-anchor="middle">Observed fitness</text>
<text transform="translate(429.6,124.5) rotate(90)" font-size="13.8" fill="#5b3ea8" text-anchor="middle">Negative interaction</text>
<text transform="translate(418.5,12) rotate(46)" font-size="14" fill="#8f8f8f">Additive</text>
<text transform="translate(410,25) rotate(46)" font-size="14" fill="#8f8f8f">X±1=Y</text>
<text x="446.9" y="206.4" font-size="10.5" fill="#111" text-anchor="middle">Synthetic</text>
<text x="446.9" y="218.3" font-size="10.5" fill="#111" text-anchor="middle">lethal</text>
<text x="461.8" y="27.5" font-size="18.5" font-weight="bold" fill="#000" text-anchor="start">c</text>
<rect x="506.4" y="14.1" width="9.2" height="9" fill="#000" stroke="#555" stroke-width="0.6"/>
<text x="520.6" y="22" font-size="10.4" fill="#111" text-anchor="start">Synthetic lethal</text>
<rect x="506.4" y="25.8" width="9.2" height="9" fill="#7650c0" stroke="#555" stroke-width="0.6"/>
<text x="520.6" y="33.7" font-size="10.4" fill="#111" text-anchor="start">Synthetic sick</text>
<rect x="506.4" y="37.5" width="9.2" height="9" fill="#ececec" stroke="#555" stroke-width="0.6"/>
<text x="520.6" y="45.4" font-size="10.4" fill="#111" text-anchor="start">Additive</text>
<rect x="506.4" y="49.3" width="9.2" height="9" fill="#e87a22" stroke="#555" stroke-width="0.6"/>
<text x="520.6" y="57.2" font-size="10.4" fill="#111" text-anchor="start">Positive</text>
<line x1="599.4" y1="38.6" x2="610.7" y2="38.6" stroke="#e0262d" stroke-width="2.4"/>
<text x="614.4" y="42.2" font-size="10.3" fill="#111" text-anchor="start">Epistasis</text>
<line x1="599.4" y1="50.8" x2="610.7" y2="50.8" stroke="#3a7cc0" stroke-width="2.4"/>
<text x="614.4" y="54.4" font-size="10.3" fill="#111" text-anchor="start">Sign Epistasis</text>
<rect x="502.5" y="72.1" width="129" height="29.9" fill="#000" stroke="#8c8c8c" stroke-width="0.6"/>
<rect x="631.5" y="72.1" width="15.48" height="29.9" fill="#7650c0" stroke="#8c8c8c" stroke-width="0.6"/>
<rect x="646.98" y="72.1" width="16.51" height="29.9" fill="#ececec" stroke="#8c8c8c" stroke-width="0.6"/>
<rect x="663.49" y="72.1" width="11.01" height="29.9" fill="#e87a22" stroke="#8c8c8c" stroke-width="0.6"/>
<rect x="502.5" y="118.8" width="156.86" height="30.1" fill="#000" stroke="#8c8c8c" stroke-width="0.6"/>
<rect x="659.36" y="118.8" width="5.68" height="30.1" fill="#7650c0" stroke="#8c8c8c" stroke-width="0.6"/>
<rect x="665.04" y="118.8" width="5.5" height="30.1" fill="#ececec" stroke="#8c8c8c" stroke-width="0.6"/>
<rect x="670.54" y="118.8" width="3.96" height="30.1" fill="#e87a22" stroke="#8c8c8c" stroke-width="0.6"/>
<rect x="502.5" y="166.0" width="63.64" height="29.9" fill="#000" stroke="#8c8c8c" stroke-width="0.6"/>
<rect x="566.14" y="166.0" width="6.71" height="29.9" fill="#7650c0" stroke="#8c8c8c" stroke-width="0.6"/>
<rect x="572.85" y="166.0" width="27.35" height="29.9" fill="#ececec" stroke="#8c8c8c" stroke-width="0.6"/>
<rect x="600.2" y="166.0" width="74.3" height="29.9" fill="#e87a22" stroke="#8c8c8c" stroke-width="0.6"/>
<line x1="664.2" y1="105.4" x2="675.6" y2="105.4" stroke="#e0262d" stroke-width="2.2"/>
<line x1="671" y1="151.8" x2="675.6" y2="151.8" stroke="#e0262d" stroke-width="2.2"/>
<line x1="503.7" y1="199.6" x2="573.7" y2="199.6" stroke="#3a7cc0" stroke-width="2.2"/>
<line x1="502.5" y1="57" x2="502.5" y2="212.3" stroke="#222" stroke-width="1.2"/>
<line x1="501.9" y1="211.75" x2="683.6" y2="211.75" stroke="#222" stroke-width="1.2"/>
<line x1="502.5" y1="211.75" x2="502.5" y2="214.6" stroke="#222" stroke-width="1.1"/>
<text x="502.5" y="224.5" font-size="10.2" fill="#111" text-anchor="middle">0</text>
<line x1="536.9" y1="211.75" x2="536.9" y2="214.6" stroke="#222" stroke-width="1.1"/>
<text x="536.9" y="224.5" font-size="10.2" fill="#111" text-anchor="middle">20</text>
<line x1="571.3" y1="211.75" x2="571.3" y2="214.6" stroke="#222" stroke-width="1.1"/>
<text x="571.3" y="224.5" font-size="10.2" fill="#111" text-anchor="middle">40</text>
<line x1="605.7" y1="211.75" x2="605.7" y2="214.6" stroke="#222" stroke-width="1.1"/>
<text x="605.7" y="224.5" font-size="10.2" fill="#111" text-anchor="middle">60</text>
<line x1="640.1" y1="211.75" x2="640.1" y2="214.6" stroke="#222" stroke-width="1.1"/>
<text x="640.1" y="224.5" font-size="10.2" fill="#111" text-anchor="middle">80</text>
<line x1="674.5" y1="211.75" x2="674.5" y2="214.6" stroke="#222" stroke-width="1.1"/>
<text x="674.5" y="224.5" font-size="10.2" fill="#111" text-anchor="middle">100</text>
<text x="593" y="238.5" font-size="10.3" fill="#111" text-anchor="middle">Percent</text>
<line x1="498.4" y1="86.8" x2="502.5" y2="86.8" stroke="#222" stroke-width="1.1"/>
<text x="496.8" y="90.7" font-size="10.4" text-anchor="end"><tspan fill="#3333ee">LOF</tspan><tspan fill="#333">/</tspan><tspan fill="#3333ee">LOF</tspan></text>
<line x1="498.4" y1="133.8" x2="502.5" y2="133.8" stroke="#222" stroke-width="1.1"/>
<text x="496.8" y="137.7" font-size="10.4" text-anchor="end"><tspan fill="#3e9a30">GOF</tspan><tspan fill="#333">/</tspan><tspan fill="#3e9a30">GOF</tspan></text>
<line x1="498.4" y1="180.9" x2="502.5" y2="180.9" stroke="#222" stroke-width="1.1"/>
<text x="496.8" y="184.8" font-size="10.4" text-anchor="end"><tspan fill="#3e9a30">GOF</tspan><tspan fill="#333">/</tspan><tspan fill="#3333ee">LOF</tspan></text>
<text x="1.8" y="281.7" font-size="18" font-weight="bold" fill="#000" text-anchor="start">d</text>
<text x="343" y="280.4" font-size="14" font-weight="bold" fill="#000" text-anchor="middle">Distinct functional interactions observed among curated TL mutants</text>
<text x="83.1" y="299.6" font-size="14.1" font-weight="bold" fill="#000" text-anchor="middle">Positive interactions</text>
<text x="247.5" y="299.6" font-size="14.1" font-weight="bold" fill="#000" text-anchor="middle">Synthetic sick</text>
<text x="419.4" y="299.6" font-size="14.1" font-weight="bold" fill="#000" text-anchor="middle">Synthetic lethal</text>
<text x="590.5" y="299.6" font-size="14.1" font-weight="bold" fill="#000" text-anchor="middle">Epistasis and sign epistasis</text>
<text x="83.2" y="495.2" font-size="13.9" font-weight="bold" fill="#000" text-anchor="middle">n=612, 16.15%</text>
<text x="253.9" y="495.2" font-size="13.9" font-weight="bold" fill="#000" text-anchor="middle">n=198, 5.28%</text>
<text x="425.7" y="495.2" font-size="13.9" font-weight="bold" fill="#000" text-anchor="middle">n=1204,31.77%</text>
<text x="591.3" y="495.2" font-size="13.9" font-weight="bold" fill="#000" text-anchor="middle">n=248, 6.54%</text>
<text x="555.3" y="512.8" font-size="9.8" font-weight="bold" fill="#000" text-anchor="middle">Epistasis</text>
<text x="618" y="512.8" font-size="9.8" font-weight="bold" fill="#000" text-anchor="middle">Sign epistasis</text>
<line x1="540.5" y1="523.9" x2="568.2" y2="523.9" stroke="#e0262d" stroke-width="2"/>
<line x1="603.4" y1="523.9" x2="631.1" y2="523.9" stroke="#3a7cc0" stroke-width="2"/>
<g stroke="#e0621a" stroke-width="0.45" stroke-opacity="0.62" fill="none">
<path d="M74.48,344.4L80.1,455.58"/>
<path d="M74.48,344.4L72.08,455.15"/>
<path d="M74.48,344.4L64.2,453.64"/>
<path d="M74.48,344.4L56.61,451.09"/>
<path d="M74.48,344.4L52.97,449.43"/>
<path d="M74.48,344.4L46.1,445.41"/>
<path d="M74.48,344.4L34.41,434.8"/>
<path d="M74.48,344.4L24.77,417.85"/>
<path d="M74.48,344.4L21.77,402.62"/>
<path d="M78.5,344.22L127.5,430.39"/>
<path d="M78.5,344.22L125.18,433.57"/>
<path d="M78.5,344.22L122.64,436.58"/>
<path d="M78.5,344.22L99.75,451.96"/>
<path d="M78.5,344.22L92.06,454.21"/>
<path d="M78.5,344.22L80.1,455.58"/>
<path d="M78.5,344.22L68.11,454.53"/>
<path d="M78.5,344.22L64.2,453.64"/>
<path d="M78.5,344.22L56.61,451.09"/>
<path d="M78.5,344.22L52.97,449.43"/>
<path d="M78.5,344.22L46.1,445.41"/>
<path d="M78.5,344.22L32,431.68"/>
<path d="M82.52,344.3L92.06,454.21"/>
<path d="M82.52,344.3L80.1,455.58"/>
<path d="M82.52,344.3L72.08,455.15"/>
<path d="M82.52,344.3L68.11,454.53"/>
<path d="M82.52,344.3L64.2,453.64"/>
<path d="M82.52,344.3L56.61,451.09"/>
<path d="M82.52,344.3L52.97,449.43"/>
<path d="M82.52,344.3L39.87,440.5"/>
<path d="M82.52,344.3L34.41,434.8"/>
<path d="M82.52,344.3L32,431.68"/>
<path d="M82.52,344.3L26.2,421.48"/>
<path d="M86.52,344.65L125.18,433.57"/>
<path d="M86.52,344.65L119.89,439.42"/>
<path d="M86.52,344.65L103.46,450.45"/>
<path d="M86.52,344.65L80.1,455.58"/>
<path d="M86.52,344.65L72.08,455.15"/>
<path d="M86.52,344.65L68.11,454.53"/>
<path d="M86.52,344.65L64.2,453.64"/>
<path d="M86.52,344.65L52.97,449.43"/>
<path d="M86.52,344.65L46.1,445.41"/>
<path d="M86.52,344.65L32,431.68"/>
<path d="M86.52,344.65L24.77,417.85"/>
<path d="M98.24,347.31L99.75,451.96"/>
<path d="M98.24,347.31L92.06,454.21"/>
<path d="M98.24,347.31L80.1,455.58"/>
<path d="M98.24,347.31L68.11,454.53"/>
<path d="M98.24,347.31L64.2,453.64"/>
<path d="M98.24,347.31L56.61,451.09"/>
<path d="M98.24,347.31L52.97,449.43"/>
<path d="M98.24,347.31L34.41,434.8"/>
<path d="M98.24,347.31L32,431.68"/>
<path d="M98.24,347.31L26.2,421.48"/>
<path d="M98.24,347.31L24.77,417.85"/>
<path d="M105.63,350.37L99.75,451.96"/>
<path d="M105.63,350.37L80.1,455.58"/>
<path d="M105.63,350.37L72.08,455.15"/>
<path d="M105.63,350.37L64.2,453.64"/>
<path d="M105.63,350.37L56.61,451.09"/>
<path d="M105.63,350.37L52.97,449.43"/>
<path d="M105.63,350.37L34.41,434.8"/>
<path d="M105.63,350.37L32,431.68"/>
<path d="M105.63,350.37L26.2,421.48"/>
<path d="M105.63,350.37L21.77,402.62"/>
<path d="M115.7,356.74L80.1,455.58"/>
<path d="M115.7,356.74L68.11,454.53"/>
<path d="M115.7,356.74L56.61,451.09"/>
<path d="M115.7,356.74L52.97,449.43"/>
<path d="M115.7,356.74L46.1,445.41"/>
<path d="M115.7,356.74L39.87,440.5"/>
<path d="M115.7,356.74L34.41,434.8"/>
<path d="M115.7,356.74L32,431.68"/>
<path d="M115.7,356.74L27.89,425.01"/>
<path d="M115.7,356.74L26.2,421.48"/>
<path d="M115.7,356.74L24.77,417.85"/>
<path d="M118.73,359.3L92.06,454.21"/>
<path d="M118.73,359.3L56.61,451.09"/>
<path d="M118.73,359.3L52.97,449.43"/>
<path d="M118.73,359.3L46.1,445.41"/>
<path d="M118.73,359.3L34.41,434.8"/>
<path d="M118.73,359.3L32,431.68"/>
<path d="M118.73,359.3L27.89,425.01"/>
<path d="M118.73,359.3L26.2,421.48"/>
<path d="M118.73,359.3L24.77,417.85"/>
<path d="M121.56,362.06L68.11,454.53"/>
<path d="M121.56,362.06L52.97,449.43"/>
<path d="M121.56,362.06L46.1,445.41"/>
<path d="M121.56,362.06L39.87,440.5"/>
<path d="M121.56,362.06L32,431.68"/>
<path d="M121.56,362.06L27.89,425.01"/>
<path d="M121.56,362.06L26.2,421.48"/>
<path d="M121.56,362.06L24.77,417.85"/>
<path d="M121.56,362.06L23.61,414.13"/>
<path d="M121.56,362.06L21.77,402.62"/>
<path d="M121.56,362.06L22.44,391"/>
<path d="M124.19,365L92.06,454.21"/>
<path d="M124.19,365L80.1,455.58"/>
<path d="M124.19,365L68.11,454.53"/>
<path d="M124.19,365L46.1,445.41"/>
<path d="M124.19,365L39.87,440.5"/>
<path d="M124.19,365L34.41,434.8"/>
<path d="M124.19,365L27.89,425.01"/>
<path d="M124.19,365L26.2,421.48"/>
<path d="M124.19,365L24.77,417.85"/>
<path d="M124.19,365L23.61,414.13"/>
<path d="M124.19,365L21.77,402.62"/>
<path d="M126.6,368.12L68.11,454.53"/>
<path d="M126.6,368.12L39.87,440.5"/>
<path d="M126.6,368.12L34.41,434.8"/>
<path d="M126.6,368.12L32,431.68"/>
<path d="M126.6,368.12L27.89,425.01"/>
<path d="M126.6,368.12L26.2,421.48"/>
<path d="M126.6,368.12L24.77,417.85"/>
<path d="M126.6,368.12L23.61,414.13"/>
<path d="M126.6,368.12L22.44,391"/>
<path d="M126.6,368.12L23.22,387.18"/>
<path d="M126.6,368.12L24.28,383.43"/>
<path d="M126.6,368.12L33.42,366.23"/>
<path d="M126.6,368.12L38.71,360.38"/>
<path d="M126.6,368.12L41.66,357.74"/>
<path d="M130.71,374.79L68.11,454.53"/>
<path d="M130.71,374.79L56.61,451.09"/>
<path d="M130.71,374.79L52.97,449.43"/>
<path d="M130.71,374.79L39.87,440.5"/>
<path d="M130.71,374.79L34.41,434.8"/>
<path d="M130.71,374.79L32,431.68"/>
<path d="M130.71,374.79L24.77,417.85"/>
<path d="M130.71,374.79L21.77,402.62"/>
<path d="M130.71,374.79L23.22,387.18"/>
<path d="M130.71,374.79L24.28,383.43"/>
<path d="M130.71,374.79L51.55,351.1"/>
<path d="M132.4,378.32L27.89,425.01"/>
<path d="M132.4,378.32L26.2,421.48"/>
<path d="M132.4,378.32L24.77,417.85"/>
<path d="M132.4,378.32L23.61,414.13"/>
<path d="M132.4,378.32L21.77,402.62"/>
<path d="M132.4,378.32L22.44,391"/>
<path d="M132.4,378.32L23.22,387.18"/>
<path d="M132.4,378.32L33.42,366.23"/>
<path d="M136.49,393.31L68.11,454.53"/>
<path d="M136.49,393.31L34.41,434.8"/>
<path d="M136.49,393.31L26.2,421.48"/>
<path d="M136.49,393.31L23.61,414.13"/>
<path d="M136.49,393.31L21.77,402.62"/>
<path d="M136.49,393.31L22.44,391"/>
<path d="M136.49,393.31L24.28,383.43"/>
<path d="M136.49,393.31L31.1,369.41"/>
<path d="M136.49,393.31L33.42,366.23"/>
<path d="M136.49,393.31L41.66,357.74"/>
<path d="M136.49,393.31L51.55,351.1"/>
<path d="M136.16,408.8L39.87,440.5"/>
<path d="M136.16,408.8L34.41,434.8"/>
<path d="M136.16,408.8L32,431.68"/>
<path d="M136.16,408.8L27.89,425.01"/>
<path d="M136.16,408.8L26.2,421.48"/>
<path d="M136.16,408.8L24.77,417.85"/>
<path d="M136.16,408.8L23.61,414.13"/>
<path d="M136.16,408.8L21.77,402.62"/>
<path d="M136.16,408.8L22.44,391"/>
<path d="M136.16,408.8L23.22,387.18"/>
<path d="M136.16,408.8L24.28,383.43"/>
<path d="M136.16,408.8L31.1,369.41"/>
<path d="M136.16,408.8L38.71,360.38"/>
<path d="M136.16,408.8L41.66,357.74"/>
<path d="M136.16,408.8L51.55,351.1"/>
<path d="M135.38,412.62L46.1,445.41"/>
<path d="M135.38,412.62L39.87,440.5"/>
<path d="M135.38,412.62L34.41,434.8"/>
<path d="M135.38,412.62L32,431.68"/>
<path d="M135.38,412.62L27.89,425.01"/>
<path d="M135.38,412.62L26.2,421.48"/>
<path d="M135.38,412.62L23.61,414.13"/>
<path d="M135.38,412.62L22.44,391"/>
<path d="M135.38,412.62L23.22,387.18"/>
<path d="M135.38,412.62L31.1,369.41"/>
<path d="M135.38,412.62L38.71,360.38"/>
<path d="M135.38,412.62L41.66,357.74"/>
<path d="M135.38,412.62L48.1,353.09"/>
<path d="M134.32,416.37L32,431.68"/>
<path d="M134.32,416.37L27.89,425.01"/>
<path d="M134.32,416.37L26.2,421.48"/>
<path d="M134.32,416.37L23.61,414.13"/>
<path d="M134.32,416.37L21.77,402.62"/>
<path d="M134.32,416.37L23.22,387.18"/>
<path d="M134.32,416.37L24.28,383.43"/>
<path d="M134.32,416.37L31.1,369.41"/>
<path d="M134.32,416.37L33.42,366.23"/>
<path d="M134.32,416.37L38.71,360.38"/>
<path d="M134.32,416.37L41.66,357.74"/>
<path d="M134.32,416.37L48.1,353.09"/>
<path d="M134.32,416.37L51.55,351.1"/>
<path d="M133,420.04L39.87,440.5"/>
<path d="M133,420.04L27.89,425.01"/>
<path d="M133,420.04L23.61,414.13"/>
<path d="M133,420.04L21.77,402.62"/>
<path d="M133,420.04L22.44,391"/>
<path d="M133,420.04L23.22,387.18"/>
<path d="M133,420.04L24.28,383.43"/>
<path d="M133,420.04L31.1,369.41"/>
<path d="M133,420.04L33.42,366.23"/>
<path d="M133,420.04L38.71,360.38"/>
<path d="M133,420.04L51.55,351.1"/>
<path d="M129.58,427.07L39.87,440.5"/>
<path d="M129.58,427.07L23.61,414.13"/>
<path d="M129.58,427.07L24.28,383.43"/>
<path d="M129.58,427.07L31.1,369.41"/>
<path d="M129.58,427.07L33.42,366.23"/>
<path d="M129.58,427.07L38.71,360.38"/>
<path d="M129.58,427.07L41.66,357.74"/>
<path d="M129.58,427.07L48.1,353.09"/>
<path d="M129.58,427.07L51.55,351.1"/>
<path d="M127.5,430.39L27.89,425.01"/>
<path d="M127.5,430.39L21.77,402.62"/>
<path d="M127.5,430.39L22.44,391"/>
<path d="M127.5,430.39L24.28,383.43"/>
<path d="M127.5,430.39L31.1,369.41"/>
<path d="M127.5,430.39L33.42,366.23"/>
<path d="M127.5,430.39L38.71,360.38"/>
<path d="M127.5,430.39L41.66,357.74"/>
<path d="M127.5,430.39L51.55,351.1"/>
<path d="M125.18,433.57L26.2,421.48"/>
<path d="M125.18,433.57L23.61,414.13"/>
<path d="M125.18,433.57L21.77,402.62"/>
<path d="M125.18,433.57L22.44,391"/>
<path d="M125.18,433.57L23.22,387.18"/>
<path d="M125.18,433.57L31.1,369.41"/>
<path d="M125.18,433.57L38.71,360.38"/>
<path d="M125.18,433.57L51.55,351.1"/>
<path d="M122.64,436.58L23.61,414.13"/>
<path d="M122.64,436.58L23.22,387.18"/>
<path d="M122.64,436.58L24.28,383.43"/>
<path d="M122.64,436.58L31.1,369.41"/>
<path d="M122.64,436.58L33.42,366.23"/>
<path d="M122.64,436.58L38.71,360.38"/>
<path d="M122.64,436.58L41.66,357.74"/>
<path d="M122.64,436.58L48.1,353.09"/>
<path d="M119.89,439.42L27.89,425.01"/>
<path d="M119.89,439.42L22.44,391"/>
<path d="M119.89,439.42L23.22,387.18"/>
<path d="M119.89,439.42L24.28,383.43"/>
<path d="M119.89,439.42L31.1,369.41"/>
<path d="M119.89,439.42L33.42,366.23"/>
<path d="M119.89,439.42L41.66,357.74"/>
<path d="M103.46,450.45L21.77,402.62"/>
<path d="M103.46,450.45L22.44,391"/>
<path d="M103.46,450.45L24.28,383.43"/>
<path d="M103.46,450.45L31.1,369.41"/>
<path d="M103.46,450.45L33.42,366.23"/>
<path d="M103.46,450.45L38.71,360.38"/>
<path d="M103.46,450.45L41.66,357.74"/>
<path d="M103.46,450.45L51.55,351.1"/>
<path d="M99.75,451.96L24.77,417.85"/>
<path d="M99.75,451.96L23.61,414.13"/>
<path d="M99.75,451.96L21.77,402.62"/>
<path d="M99.75,451.96L22.44,391"/>
<path d="M99.75,451.96L24.28,383.43"/>
<path d="M99.75,451.96L31.1,369.41"/>
<path d="M99.75,451.96L38.71,360.38"/>
<path d="M99.75,451.96L41.66,357.74"/>
<path d="M99.75,451.96L48.1,353.09"/>
<path d="M99.75,451.96L51.55,351.1"/>
<path d="M92.06,454.21L31.1,369.41"/>
<path d="M92.06,454.21L41.66,357.74"/>
<path d="M92.06,454.21L48.1,353.09"/>
<path d="M92.06,454.21L51.55,351.1"/>
<path d="M80.1,455.58L48.1,353.09"/>
<path d="M72.08,455.15L41.66,357.74"/>
<path d="M72.08,455.15L48.1,353.09"/>
<path d="M72.08,455.15L51.55,351.1"/>
<path d="M64.2,453.64L41.66,357.74"/>
<path d="M52.97,449.43L48.1,353.09"/>
<path d="M52.97,449.43L51.55,351.1"/>
<path d="M46.1,445.41L48.1,353.09"/>
<path d="M46.1,445.41L51.55,351.1"/>
</g>
<polyline points="72.18,337.17 73.31,337.06 74.44,336.96 75.57,336.89 76.7,336.84 77.83,336.8 78.96,336.79 80.09,336.79" fill="none" stroke="#f892f1" stroke-width="1.6"/>
<polyline points="81.22,336.81 82.36,336.86 83.49,336.92 84.61,337 85.74,337.1 86.87,337.22 87.99,337.36 89.11,337.51 90.23,337.69 91.34,337.88 92.45,338.1 93.56,338.33 94.66,338.58 95.76,338.85 96.85,339.14 97.94,339.45" fill="none" stroke="#f892f1" stroke-width="1.6"/>
<polyline points="99.02,339.77 100.1,340.12 101.17,340.48 102.23,340.86 103.28,341.26 104.33,341.68 105.37,342.11 106.4,342.56 107.43,343.03 108.44,343.52 109.45,344.02 110.45,344.54" fill="none" stroke="#f892f1" stroke-width="1.6"/>
<polyline points="111.44,345.08 112.42,345.63 113.38,346.2 114.34,346.79 115.29,347.39 116.23,348.01 117.15,348.65 118.06,349.3 118.97,349.96 119.86,350.64 120.73,351.34 121.6,352.05" fill="none" stroke="#f892f1" stroke-width="1.6"/>
<polyline points="122.45,352.78 123.29,353.52 124.11,354.27 124.93,355.04 125.72,355.82 126.51,356.62 127.28,357.42 128.03,358.25 128.77,359.08 129.49,359.93 130.2,360.78 130.9,361.65 131.58,362.54 132.24,363.43 132.88,364.33 133.51,365.25" fill="none" stroke="#f892f1" stroke-width="1.6"/>
<polyline points="134.13,366.18 134.72,367.11 135.3,368.06 135.87,369.01 136.41,369.98 136.94,370.95 137.45,371.94 137.94,372.93 138.42,373.93 138.87,374.94 139.31,375.95 139.73,376.97" fill="none" stroke="#f892f1" stroke-width="1.6"/>
<polyline points="140.14,378 140.52,379.04 140.88,380.08 141.23,381.13 141.56,382.19 141.87,383.25 142.16,384.31 142.43,385.38 142.68,386.45 142.91,387.53 143.12,388.62 143.31,389.7" fill="none" stroke="#f892f1" stroke-width="1.6"/>
<polyline points="143.49,390.79 143.64,391.88 143.77,392.97 143.89,394.07 143.98,395.17 144.06,396.27 144.11,397.37 144.15,398.47 144.16,399.57 144.16,400.67 144.14,401.77 144.09,402.87" fill="none" stroke="#f892f1" stroke-width="1.6"/>
<polyline points="144.03,403.97 143.95,405.07 143.84,406.17 143.72,407.26 143.58,408.36 143.42,409.45 143.24,410.53 143.04,411.62" fill="none" stroke="#f892f1" stroke-width="1.6"/>
<polyline points="142.82,412.7 142.58,413.78 142.32,414.85 142.04,415.92 141.74,416.98 141.43,418.04 141.09,419.09 140.74,420.13 140.37,421.18 139.98,422.21 139.57,423.24 139.14,424.26" fill="none" stroke="#f892f1" stroke-width="1.6"/>
<polyline points="138.69,425.27 138.23,426.27 137.75,427.27 137.25,428.26 136.73,429.24 136.2,430.21 135.64,431.17 135.07,432.12 134.49,433.06 133.88,434 133.26,434.92 132.63,435.83" fill="none" stroke="#f892f1" stroke-width="1.6"/>
<polyline points="131.98,436.73 131.24,437.71 130.48,438.67 129.71,439.62 128.92,440.55 128.11,441.47 127.28,442.38 126.43,443.26 125.56,444.14 124.68,444.99 123.79,445.83" fill="none" stroke="#f892f1" stroke-width="1.6"/>
<polyline points="122.95,446.58 122.11,447.31 121.25,448.03 120.38,448.74 119.5,449.43 118.61,450.11 117.7,450.76 116.78,451.41 115.85,452.04 114.91,452.65 113.96,453.25 113,453.83" fill="none" stroke="#f892f1" stroke-width="1.6"/>
<polyline points="112.03,454.39 111.04,454.94 110.05,455.47 109.05,455.98 108.04,456.48 107.02,456.96 105.99,457.42 104.96,457.87 103.91,458.29 102.86,458.7 101.8,459.09 100.74,459.47" fill="none" stroke="#f892f1" stroke-width="1.6"/>
<polyline points="99.67,459.82 98.59,460.16 97.51,460.48 96.42,460.78 95.32,461.06 94.22,461.32 93.12,461.56 92.01,461.79 90.9,462 89.78,462.18 88.66,462.35 87.54,462.5" fill="none" stroke="#f892f1" stroke-width="1.6"/>
<polyline points="86.42,462.63 85.29,462.74 84.16,462.84 83.03,462.91 81.9,462.96 80.77,463 79.64,463.01 78.51,463.01 77.38,462.99 76.24,462.94 75.11,462.88 73.99,462.8" fill="none" stroke="#f892f1" stroke-width="1.6"/>
<polyline points="72.86,462.7 71.73,462.58 70.61,462.44 69.49,462.29 68.37,462.11 67.26,461.92 66.15,461.7 65.04,461.47 63.94,461.22 62.84,460.95 61.75,460.66 60.66,460.35" fill="none" stroke="#f892f1" stroke-width="1.6"/>
<polyline points="59.58,460.03 58.5,459.68 57.43,459.32 56.37,458.94 55.32,458.54 54.27,458.12 53.23,457.69 52.2,457.24 51.17,456.77 50.16,456.28 49.15,455.78 48.15,455.26" fill="none" stroke="#f892f1" stroke-width="1.6"/>
<polyline points="47.16,454.72 46.18,454.17 45.22,453.6 44.26,453.01 43.31,452.41 42.37,451.79 41.45,451.15 40.54,450.5 39.63,449.84 38.74,449.16 37.87,448.46 37,447.75" fill="none" stroke="#f892f1" stroke-width="1.6"/>
<polyline points="36.15,447.02 35.31,446.28 34.49,445.53 33.67,444.76 32.88,443.98 32.09,443.18 31.32,442.38 30.57,441.55 29.83,440.72 29.11,439.87 28.4,439.02 27.7,438.15" fill="none" stroke="#f892f1" stroke-width="1.6"/>
<polyline points="27.02,437.26 26.36,436.37 25.72,435.47 25.09,434.55 24.47,433.62 23.88,432.69 23.3,431.74 22.73,430.79 22.19,429.82 21.66,428.85 21.15,427.86 20.66,426.87 20.18,425.87 19.73,424.86 19.29,423.85 18.87,422.83" fill="none" stroke="#f892f1" stroke-width="1.6"/>
<polyline points="18.46,421.8 18.08,420.76 17.72,419.72 17.37,418.67 17.04,417.61 16.73,416.55 16.44,415.49 16.17,414.42 15.92,413.35 15.69,412.27 15.48,411.18 15.29,410.1" fill="none" stroke="#f892f1" stroke-width="1.6"/>
<polyline points="15.11,409.01 14.96,407.92 14.83,406.83 14.71,405.73 14.62,404.63 14.54,403.53 14.49,402.43 14.45,401.33 14.44,400.23 14.44,399.13 14.46,398.03 14.51,396.93" fill="none" stroke="#f892f1" stroke-width="1.6"/>
<polyline points="14.57,395.83 14.65,394.73 14.76,393.63 14.88,392.54 15.02,391.44 15.18,390.35 15.36,389.27 15.56,388.18 15.78,387.1 16.02,386.02 16.28,384.95 16.56,383.88" fill="none" stroke="#f892f1" stroke-width="1.6"/>
<polyline points="16.86,382.82 17.17,381.76 17.51,380.71 17.86,379.67 18.23,378.62 18.62,377.59 19.03,376.56 19.46,375.54 19.91,374.53 20.37,373.53 20.85,372.53 21.35,371.54" fill="none" stroke="#f892f1" stroke-width="1.6"/>
<polyline points="21.87,370.56 22.4,369.59 22.96,368.63 23.53,367.68 24.11,366.74 24.72,365.8 25.34,364.88 25.97,363.97 26.62,363.07 27.29,362.18 27.98,361.3 28.68,360.44" fill="none" stroke="#f892f1" stroke-width="1.6"/>
<polyline points="29.39,359.59 30.12,358.74 30.87,357.92 31.63,357.1 32.4,356.3 33.19,355.51 34,354.73 34.81,353.97 35.65,353.22 36.49,352.49 37.35,351.77 38.22,351.06" fill="none" stroke="#f892f1" stroke-width="1.6"/>
<polyline points="39.1,350.37 39.99,349.69 40.9,349.04 41.82,348.39 42.75,347.76 43.69,347.15 44.64,346.55 45.6,345.97 46.57,345.41 47.56,344.86 48.55,344.33 49.55,343.82" fill="none" stroke="#f892f1" stroke-width="1.6"/>
<polyline points="50.56,343.32 51.58,342.84 52.61,342.38 53.64,341.93 54.69,341.51 55.74,341.1 56.8,340.71 57.86,340.33" fill="none" stroke="#f892f1" stroke-width="1.6"/>
<polyline points="58.93,339.98 60.01,339.64 61.09,339.32 62.18,339.02 63.28,338.74 64.38,338.48 65.48,338.24 66.59,338.01 67.7,337.8 68.82,337.62 69.94,337.45 71.06,337.3" fill="none" stroke="#f892f1" stroke-width="1.6"/>
<circle cx="74.15" cy="340.42" r="1.25" fill="#3b9a22"/>
<circle cx="78.44" cy="340.22" r="1.25" fill="#2b1cff"/>
<circle cx="82.74" cy="340.3" r="1.25" fill="#3b9a22"/>
<circle cx="87.02" cy="340.68" r="1.25" fill="#3b9a22"/>
<circle cx="91.26" cy="341.35" r="1.25" fill="#3b9a22"/>
<circle cx="95.45" cy="342.3" r="1.25" fill="#2b1cff"/>
<circle cx="99.56" cy="343.53" r="1.25" fill="#2b1cff"/>
<circle cx="103.57" cy="345.04" r="1.25" fill="#2b1cff"/>
<circle cx="107.46" cy="346.81" r="1.25" fill="#cfcfcf"/>
<circle cx="111.21" cy="348.84" r="1.25" fill="#3b9a22"/>
<circle cx="114.81" cy="351.12" r="1.25" fill="#000000"/>
<circle cx="118.23" cy="353.64" r="1.25" fill="#000000"/>
<circle cx="121.47" cy="356.39" r="1.25" fill="#2b1cff"/>
<circle cx="124.5" cy="359.34" r="1.25" fill="#cfcfcf"/>
<circle cx="127.31" cy="362.5" r="1.25" fill="#cfcfcf"/>
<circle cx="129.88" cy="365.83" r="1.25" fill="#2b1cff"/>
<circle cx="132.21" cy="369.34" r="1.25" fill="#2b1cff"/>
<circle cx="134.28" cy="372.99" r="1.25" fill="#2b1cff"/>
<circle cx="136.09" cy="376.77" r="1.25" fill="#2b1cff"/>
<circle cx="137.61" cy="380.66" r="1.25" fill="#3b9a22"/>
<circle cx="138.86" cy="384.65" r="1.25" fill="#3b9a22"/>
<circle cx="139.81" cy="388.72" r="1.25" fill="#000000"/>
<circle cx="140.47" cy="392.83" r="1.25" fill="#3b9a22"/>
<circle cx="140.83" cy="396.98" r="1.25" fill="#3b9a22"/>
<circle cx="140.89" cy="401.15" r="1.25" fill="#2b1cff"/>
<circle cx="140.65" cy="405.31" r="1.25" fill="#2b1cff"/>
<circle cx="140.11" cy="409.44" r="1.25" fill="#cfcfcf"/>
<circle cx="139.27" cy="413.53" r="1.25" fill="#2b1cff"/>
<circle cx="138.15" cy="417.55" r="1.25" fill="#2b1cff"/>
<circle cx="136.73" cy="421.49" r="1.25" fill="#2b1cff"/>
<circle cx="135.04" cy="425.31" r="1.25" fill="#3b9a22"/>
<circle cx="133.07" cy="429.02" r="1.25" fill="#3b9a22"/>
<circle cx="130.84" cy="432.58" r="1.25" fill="#cfcfcf"/>
<circle cx="128.37" cy="435.99" r="1.25" fill="#cfcfcf"/>
<circle cx="125.65" cy="439.22" r="1.25" fill="#3b9a22"/>
<circle cx="122.71" cy="442.25" r="1.25" fill="#3b9a22"/>
<circle cx="119.55" cy="445.09" r="1.25" fill="#cfcfcf"/>
<circle cx="116.2" cy="447.7" r="1.25" fill="#cfcfcf"/>
<circle cx="112.67" cy="450.07" r="1.25" fill="#3b9a22"/>
<circle cx="108.98" cy="452.21" r="1.25" fill="#000000"/>
<circle cx="105.14" cy="454.09" r="1.25" fill="#2b1cff"/>
<circle cx="101.17" cy="455.7" r="1.25" fill="#2b1cff"/>
<circle cx="97.1" cy="457.04" r="1.25" fill="#2b1cff"/>
<circle cx="92.95" cy="458.11" r="1.25" fill="#2b1cff"/>
<circle cx="88.72" cy="458.89" r="1.25" fill="#2b1cff"/>
<circle cx="84.45" cy="459.38" r="1.25" fill="#cfcfcf"/>
<circle cx="80.16" cy="459.58" r="1.25" fill="#cfcfcf"/>
<circle cx="75.86" cy="459.5" r="1.25" fill="#cfcfcf"/>
<circle cx="71.58" cy="459.12" r="1.25" fill="#000000"/>
<circle cx="67.34" cy="458.45" r="1.25" fill="#cfcfcf"/>
<circle cx="63.15" cy="457.5" r="1.25" fill="#000000"/>
<circle cx="59.04" cy="456.27" r="1.25" fill="#2b1cff"/>
<circle cx="55.03" cy="454.76" r="1.25" fill="#000000"/>
<circle cx="51.14" cy="452.99" r="1.25" fill="#cfcfcf"/>
<circle cx="47.39" cy="450.96" r="1.25" fill="#2b1cff"/>
<circle cx="43.79" cy="448.68" r="1.25" fill="#2b1cff"/>
<circle cx="40.37" cy="446.16" r="1.25" fill="#2b1cff"/>
<circle cx="37.13" cy="443.41" r="1.25" fill="#000000"/>
<circle cx="34.1" cy="440.46" r="1.25" fill="#3b9a22"/>
<circle cx="31.29" cy="437.3" r="1.25" fill="#2b1cff"/>
<circle cx="28.72" cy="433.97" r="1.25" fill="#000000"/>
<circle cx="26.39" cy="430.46" r="1.25" fill="#000000"/>
<circle cx="24.32" cy="426.81" r="1.25" fill="#000000"/>
<circle cx="22.51" cy="423.03" r="1.25" fill="#000000"/>
<circle cx="20.99" cy="419.14" r="1.25" fill="#2b1cff"/>
<circle cx="19.74" cy="415.15" r="1.25" fill="#cfcfcf"/>
<circle cx="18.79" cy="411.08" r="1.25" fill="#000000"/>
<circle cx="18.13" cy="406.97" r="1.25" fill="#000000"/>
<circle cx="17.77" cy="402.82" r="1.25" fill="#000000"/>
<circle cx="17.71" cy="398.65" r="1.25" fill="#cfcfcf"/>
<circle cx="17.95" cy="394.49" r="1.25" fill="#3b9a22"/>
<circle cx="18.49" cy="390.36" r="1.25" fill="#2b1cff"/>
<circle cx="19.33" cy="386.27" r="1.25" fill="#000000"/>
<circle cx="20.45" cy="382.25" r="1.25" fill="#3b9a22"/>
<circle cx="21.87" cy="378.31" r="1.25" fill="#3b9a22"/>
<circle cx="23.56" cy="374.49" r="1.25" fill="#3b9a22"/>
<circle cx="25.53" cy="370.78" r="1.25" fill="#000000"/>
<circle cx="27.76" cy="367.22" r="1.25" fill="#000000"/>
<circle cx="30.23" cy="363.81" r="1.25" fill="#000000"/>
<circle cx="32.95" cy="360.58" r="1.25" fill="#2b1cff"/>
<circle cx="35.89" cy="357.55" r="1.25" fill="#000000"/>
<circle cx="39.05" cy="354.71" r="1.25" fill="#cfcfcf"/>
<circle cx="42.4" cy="352.1" r="1.25" fill="#000000"/>
<circle cx="45.93" cy="349.73" r="1.25" fill="#000000"/>
<circle cx="49.62" cy="347.59" r="1.25" fill="#2b1cff"/>
<circle cx="53.46" cy="345.71" r="1.25" fill="#2b1cff"/>
<circle cx="57.43" cy="344.1" r="1.25" fill="#cfcfcf"/>
<circle cx="61.5" cy="342.76" r="1.25" fill="#2b1cff"/>
<circle cx="65.65" cy="341.69" r="1.25" fill="#2b1cff"/>
<circle cx="69.88" cy="340.91" r="1.25" fill="#cfcfcf"/>
<g font-size="4.5" font-weight="bold">
<text transform="translate(73.65,334.42) rotate(109.2) scale(0.8,1)" dy="0.35em" text-anchor="end" fill="#44a02c">N1076G</text>
<text transform="translate(78.36,334.19) rotate(113.2) scale(0.8,1)" dy="0.35em" text-anchor="end" fill="#3326ff">N1076R</text>
<text transform="translate(83.07,334.29) rotate(-62.8) scale(0.8,1)" dy="0.35em" fill="#44a02c">D1077F</text>
<text transform="translate(87.76,334.7) rotate(-58.8) scale(0.8,1)" dy="0.35em" fill="#44a02c">D1077G</text>
<text transform="translate(92.4,335.44) rotate(-54.8) scale(0.8,1)" dy="0.35em" fill="#44a02c">D1077Q</text>
<text transform="translate(96.99,336.49) rotate(-50.8) scale(0.8,1)" dy="0.35em" fill="#3326ff">D1077E</text>
<text transform="translate(101.49,337.84) rotate(-46.8) scale(0.8,1)" dy="0.35em" fill="#3326ff">V1078I</text>
<text transform="translate(105.88,339.5) rotate(-42.8) scale(0.8,1)" dy="0.35em" fill="#3326ff">V1078D</text>
<text transform="translate(110.14,341.45) rotate(-38.8) scale(0.8,1)" dy="0.35em" fill="#c4c4c4">V1078E</text>
<text transform="translate(114.25,343.69) rotate(-34.8) scale(0.8,1)" dy="0.35em" fill="#44a02c">R1079S</text>
<text transform="translate(118.19,346.2) rotate(-30.8) scale(0.8,1)" dy="0.35em" fill="#111111">R1079E</text>
<text transform="translate(121.94,348.98) rotate(-26.8) scale(0.8,1)" dy="0.35em" fill="#111111">R1079K</text>
<text transform="translate(125.48,352) rotate(-22.8) scale(0.8,1)" dy="0.35em" fill="#3326ff">E1080S</text>
<text transform="translate(128.8,355.25) rotate(-18.8) scale(0.8,1)" dy="0.35em" fill="#c4c4c4">E1080D</text>
<text transform="translate(131.88,358.72) rotate(-14.8) scale(0.8,1)" dy="0.35em" fill="#c4c4c4">E1080G</text>
<text transform="translate(134.7,362.4) rotate(-10.8) scale(0.8,1)" dy="0.35em" fill="#3326ff">E1080L</text>
<text transform="translate(137.25,366.25) rotate(-6.8) scale(0.8,1)" dy="0.35em" fill="#3326ff">D1081R</text>
<text transform="translate(139.52,370.27) rotate(-2.8) scale(0.8,1)" dy="0.35em" fill="#3326ff">D1081E</text>
<text transform="translate(141.49,374.44) rotate(1.2) scale(0.8,1)" dy="0.35em" fill="#3326ff">D1081L</text>
<text transform="translate(143.17,378.72) rotate(5.2) scale(0.8,1)" dy="0.35em" fill="#44a02c">D1082H</text>
<text transform="translate(144.53,383.11) rotate(9.2) scale(0.8,1)" dy="0.35em" fill="#44a02c">D1082N</text>
<text transform="translate(145.57,387.59) rotate(13.2) scale(0.8,1)" dy="0.35em" fill="#111111">D1082S</text>
<text transform="translate(146.29,392.12) rotate(17.2) scale(0.8,1)" dy="0.35em" fill="#44a02c">G1083F</text>
<text transform="translate(146.68,396.69) rotate(21.2) scale(0.8,1)" dy="0.35em" fill="#44a02c">G1083N</text>
<text transform="translate(146.75,401.28) rotate(25.2) scale(0.8,1)" dy="0.35em" fill="#3326ff">G1083I</text>
<text transform="translate(146.49,405.86) rotate(29.2) scale(0.8,1)" dy="0.35em" fill="#3326ff">F1084K</text>
<text transform="translate(145.9,410.41) rotate(33.2) scale(0.8,1)" dy="0.35em" fill="#c4c4c4">F1084Q</text>
<text transform="translate(144.98,414.91) rotate(37.2) scale(0.8,1)" dy="0.35em" fill="#3326ff">F1085E</text>
<text transform="translate(143.75,419.33) rotate(41.2) scale(0.8,1)" dy="0.35em" fill="#3326ff">F1085D</text>
<text transform="translate(142.2,423.66) rotate(45.2) scale(0.8,1)" dy="0.35em" fill="#3326ff">F1085K</text>
<text transform="translate(140.34,427.88) rotate(49.2) scale(0.8,1)" dy="0.35em" fill="#44a02c">T1086R</text>
<text transform="translate(138.19,431.96) rotate(53.2) scale(0.8,1)" dy="0.35em" fill="#44a02c">T1086N</text>
<text transform="translate(135.75,435.88) rotate(57.2) scale(0.8,1)" dy="0.35em" fill="#c4c4c4">T1086S</text>
<text transform="translate(133.04,439.63) rotate(61.2) scale(0.8,1)" dy="0.35em" fill="#c4c4c4">S1087P</text>
<text transform="translate(130.06,443.18) rotate(65.2) scale(0.8,1)" dy="0.35em" fill="#44a02c">S1087M</text>
<text transform="translate(126.84,446.53) rotate(69.2) scale(0.8,1)" dy="0.35em" fill="#44a02c">S1087K</text>
<text transform="translate(123.38,449.64) rotate(73.2) scale(0.8,1)" dy="0.35em" fill="#c4c4c4">H1088L</text>
<text transform="translate(119.71,452.52) rotate(77.2) scale(0.8,1)" dy="0.35em" fill="#c4c4c4">H1088E</text>
<text transform="translate(115.85,455.14) rotate(81.2) scale(0.8,1)" dy="0.35em" fill="#44a02c">H1088N</text>
<text transform="translate(111.8,457.49) rotate(85.2) scale(0.8,1)" dy="0.35em" fill="#111111">V1089T</text>
<text transform="translate(107.6,459.55) rotate(89.2) scale(0.8,1)" dy="0.35em" fill="#3326ff">V1089N</text>
<text transform="translate(103.26,461.33) rotate(93.2) scale(0.8,1)" dy="0.35em" fill="#3326ff">V1089S</text>
<text transform="translate(98.8,462.81) rotate(97.2) scale(0.8,1)" dy="0.35em" fill="#3326ff">M1090E</text>
<text transform="translate(94.25,463.98) rotate(101.2) scale(0.8,1)" dy="0.35em" fill="#3326ff">M1090F</text>
<text transform="translate(89.62,464.84) rotate(105.2) scale(0.8,1)" dy="0.35em" fill="#3326ff">M1090Y</text>
<text transform="translate(84.95,465.38) rotate(109.2) scale(0.8,1)" dy="0.35em" fill="#c4c4c4">R1091H</text>
<text transform="translate(80.24,465.61) rotate(113.2) scale(0.8,1)" dy="0.35em" fill="#c4c4c4">R1091N</text>
<text transform="translate(75.53,465.51) rotate(297.2) scale(0.8,1)" dy="0.35em" text-anchor="end" fill="#c4c4c4">R1091G</text>
<text transform="translate(70.84,465.1) rotate(301.2) scale(0.8,1)" dy="0.35em" text-anchor="end" fill="#111111">T1092R</text>
<text transform="translate(66.2,464.36) rotate(305.2) scale(0.8,1)" dy="0.35em" text-anchor="end" fill="#c4c4c4">T1092D</text>
<text transform="translate(61.61,463.31) rotate(309.2) scale(0.8,1)" dy="0.35em" text-anchor="end" fill="#111111">T1092E</text>
<text transform="translate(57.11,461.96) rotate(313.2) scale(0.8,1)" dy="0.35em" text-anchor="end" fill="#3326ff">Y1093N</text>
<text transform="translate(52.72,460.3) rotate(317.2) scale(0.8,1)" dy="0.35em" text-anchor="end" fill="#111111">Y1093N</text>
<text transform="translate(48.46,458.35) rotate(321.2) scale(0.8,1)" dy="0.35em" text-anchor="end" fill="#c4c4c4">Y1093P</text>
<text transform="translate(44.35,456.11) rotate(325.2) scale(0.8,1)" dy="0.35em" text-anchor="end" fill="#3326ff">T1094S</text>
<text transform="translate(40.41,453.6) rotate(329.2) scale(0.8,1)" dy="0.35em" text-anchor="end" fill="#3326ff">T1094E</text>
<text transform="translate(36.66,450.82) rotate(333.2) scale(0.8,1)" dy="0.35em" text-anchor="end" fill="#3326ff">T1094E</text>
<text transform="translate(33.12,447.8) rotate(337.2) scale(0.8,1)" dy="0.35em" text-anchor="end" fill="#111111">L1095V</text>
<text transform="translate(29.8,444.55) rotate(341.2) scale(0.8,1)" dy="0.35em" text-anchor="end" fill="#44a02c">L1095E</text>
<text transform="translate(26.72,441.08) rotate(345.2) scale(0.8,1)" dy="0.35em" text-anchor="end" fill="#3326ff">L1095D</text>
<text transform="translate(23.9,437.4) rotate(349.2) scale(0.8,1)" dy="0.35em" text-anchor="end" fill="#111111">M1096T</text>
<text transform="translate(21.35,433.55) rotate(353.2) scale(0.8,1)" dy="0.35em" text-anchor="end" fill="#111111">M1096N</text>
<text transform="translate(19.08,429.53) rotate(357.2) scale(0.8,1)" dy="0.35em" text-anchor="end" fill="#111111">M1096R</text>
<text transform="translate(17.11,425.36) rotate(361.2) scale(0.8,1)" dy="0.35em" text-anchor="end" fill="#111111">M1096Q</text>
<text transform="translate(15.43,421.08) rotate(365.2) scale(0.8,1)" dy="0.35em" text-anchor="end" fill="#3326ff">A1097T</text>
<text transform="translate(14.07,416.69) rotate(369.2) scale(0.8,1)" dy="0.35em" text-anchor="end" fill="#c4c4c4">A1097Q</text>
<text transform="translate(13.03,412.21) rotate(373.2) scale(0.8,1)" dy="0.35em" text-anchor="end" fill="#111111">A1097I</text>
<text transform="translate(12.31,407.68) rotate(377.2) scale(0.8,1)" dy="0.35em" text-anchor="end" fill="#111111">F1098V</text>
<text transform="translate(11.92,403.11) rotate(381.2) scale(0.8,1)" dy="0.35em" text-anchor="end" fill="#111111">F1098D</text>
<text transform="translate(11.85,398.52) rotate(385.2) scale(0.8,1)" dy="0.35em" text-anchor="end" fill="#c4c4c4">F1098K</text>
<text transform="translate(12.11,393.94) rotate(389.2) scale(0.8,1)" dy="0.35em" text-anchor="end" fill="#44a02c">M1099G</text>
<text transform="translate(12.7,389.39) rotate(393.2) scale(0.8,1)" dy="0.35em" text-anchor="end" fill="#3326ff">M1099K</text>
<text transform="translate(13.62,384.89) rotate(397.2) scale(0.8,1)" dy="0.35em" text-anchor="end" fill="#111111">M1099R</text>
<text transform="translate(14.85,380.47) rotate(401.2) scale(0.8,1)" dy="0.35em" text-anchor="end" fill="#44a02c">Q1100V</text>
<text transform="translate(16.4,376.14) rotate(405.2) scale(0.8,1)" dy="0.35em" text-anchor="end" fill="#44a02c">Q1100E</text>
<text transform="translate(18.26,371.92) rotate(409.2) scale(0.8,1)" dy="0.35em" text-anchor="end" fill="#44a02c">Q1100H</text>
<text transform="translate(20.41,367.84) rotate(413.2) scale(0.8,1)" dy="0.35em" text-anchor="end" fill="#111111">S1101Q</text>
<text transform="translate(22.85,363.92) rotate(417.2) scale(0.8,1)" dy="0.35em" text-anchor="end" fill="#111111">S1101L</text>
<text transform="translate(25.56,360.17) rotate(421.2) scale(0.8,1)" dy="0.35em" text-anchor="end" fill="#111111">S1101G</text>
<text transform="translate(28.54,356.62) rotate(425.2) scale(0.8,1)" dy="0.35em" text-anchor="end" fill="#3326ff">R1102L</text>
<text transform="translate(31.76,353.27) rotate(429.2) scale(0.8,1)" dy="0.35em" text-anchor="end" fill="#111111">R1102S</text>
<text transform="translate(35.22,350.16) rotate(433.2) scale(0.8,1)" dy="0.35em" text-anchor="end" fill="#c4c4c4">R1102P</text>
<text transform="translate(38.89,347.28) rotate(437.2) scale(0.8,1)" dy="0.35em" text-anchor="end" fill="#111111">Q1103K</text>
<text transform="translate(42.75,344.66) rotate(441.2) scale(0.8,1)" dy="0.35em" text-anchor="end" fill="#111111">Q1103G</text>
<text transform="translate(46.8,342.31) rotate(445.2) scale(0.8,1)" dy="0.35em" text-anchor="end" fill="#3326ff">Q1103E</text>
<text transform="translate(51,340.25) rotate(449.2) scale(0.8,1)" dy="0.35em" text-anchor="end" fill="#3326ff">H1104G</text>
<text transform="translate(55.34,338.47) rotate(453.2) scale(0.8,1)" dy="0.35em" text-anchor="end" fill="#c4c4c4">H1104L</text>
<text transform="translate(59.8,336.99) rotate(457.2) scale(0.8,1)" dy="0.35em" text-anchor="end" fill="#3326ff">K1105A</text>
<text transform="translate(64.35,335.82) rotate(461.2) scale(0.8,1)" dy="0.35em" text-anchor="end" fill="#3326ff">K1105V</text>
<text transform="translate(68.98,334.96) rotate(465.2) scale(0.8,1)" dy="0.35em" text-anchor="end" fill="#c4c4c4">K1105H</text>
</g>
<text transform="translate(25.4,338.92) rotate(-22)" font-size="10.5" font-weight="bold">TL-N</text>
<text transform="translate(48.5,327.52) rotate(-14)" font-size="10.5" font-weight="bold">TL-C</text>
<g stroke="#6a4cc6" stroke-width="0.4" stroke-opacity="0.6" fill="none">
<path d="M248.92,344.7L297.82,424.01"/>
<path d="M248.92,344.7L286.29,439.82"/>
<path d="M248.92,344.7L262.35,453.61"/>
<path d="M248.92,344.7L250.52,455.8"/>
<path d="M248.92,344.7L242.48,455.9"/>
<path d="M252.92,345.05L302.28,389.86"/>
<path d="M252.92,345.05L293.9,430.79"/>
<path d="M252.92,345.05L262.35,453.61"/>
<path d="M252.92,345.05L250.52,455.8"/>
<path d="M252.92,345.05L242.48,455.9"/>
<path d="M264.64,347.71L250.52,455.8"/>
<path d="M264.64,347.71L194.29,425.41"/>
<path d="M264.64,347.71L188.51,406.89"/>
<path d="M268.39,349.11L289.04,436.98"/>
<path d="M268.39,349.11L262.35,453.61"/>
<path d="M268.39,349.11L250.52,455.8"/>
<path d="M268.39,349.11L242.48,455.9"/>
<path d="M268.39,349.11L194.29,425.41"/>
<path d="M272.03,350.77L250.52,455.8"/>
<path d="M272.03,350.77L242.48,455.9"/>
<path d="M272.03,350.77L190.01,414.53"/>
<path d="M275.54,352.66L250.52,455.8"/>
<path d="M275.54,352.66L242.48,455.9"/>
<path d="M275.54,352.66L194.29,425.41"/>
<path d="M275.54,352.66L188.51,406.89"/>
<path d="M278.9,354.79L262.35,453.61"/>
<path d="M278.9,354.79L250.52,455.8"/>
<path d="M278.9,354.79L242.48,455.9"/>
<path d="M278.9,354.79L194.29,425.41"/>
<path d="M282.1,357.14L250.52,455.8"/>
<path d="M282.1,357.14L242.48,455.9"/>
<path d="M282.1,357.14L188.51,406.89"/>
<path d="M285.13,359.7L194.29,425.41"/>
<path d="M285.13,359.7L188.51,406.89"/>
<path d="M287.96,362.46L194.29,425.41"/>
<path d="M287.96,362.46L190.01,414.53"/>
<path d="M287.96,362.46L188.11,399.13"/>
<path d="M287.96,362.46L197.5,369.81"/>
<path d="M297.11,375.19L262.35,453.61"/>
<path d="M297.11,375.19L250.52,455.8"/>
<path d="M297.11,375.19L242.48,455.9"/>
<path d="M297.11,375.19L190.01,414.53"/>
<path d="M297.11,375.19L188.51,406.89"/>
<path d="M298.8,378.72L194.29,425.41"/>
<path d="M298.8,378.72L188.51,406.89"/>
<path d="M300.23,382.35L194.29,425.41"/>
<path d="M300.23,382.35L188.11,399.13"/>
<path d="M300.23,382.35L197.5,369.81"/>
<path d="M300.23,382.35L208.06,358.14"/>
<path d="M300.23,382.35L221.54,349.75"/>
<path d="M301.39,386.07L194.29,425.41"/>
<path d="M301.39,386.07L190.01,414.53"/>
<path d="M301.39,386.07L188.51,406.89"/>
<path d="M301.39,386.07L188.11,399.13"/>
<path d="M301.39,386.07L195.42,373.13"/>
<path d="M301.39,386.07L197.5,369.81"/>
<path d="M301.39,386.07L208.06,358.14"/>
<path d="M302.28,389.86L188.51,406.89"/>
<path d="M302.28,389.86L188.11,399.13"/>
<path d="M302.28,389.86L195.42,373.13"/>
<path d="M302.28,389.86L197.5,369.81"/>
<path d="M302.28,389.86L208.06,358.14"/>
<path d="M302.28,389.86L229.05,346.99"/>
<path d="M302.28,389.86L236.89,345.27"/>
<path d="M302.89,393.71L194.29,425.41"/>
<path d="M302.89,393.71L188.51,406.89"/>
<path d="M302.89,393.71L188.11,399.13"/>
<path d="M302.89,393.71L195.42,373.13"/>
<path d="M302.89,393.71L208.06,358.14"/>
<path d="M303.23,397.58L221.54,349.75"/>
<path d="M303.29,401.47L194.29,425.41"/>
<path d="M303.29,401.47L190.01,414.53"/>
<path d="M303.29,401.47L188.11,399.13"/>
<path d="M303.29,401.47L221.54,349.75"/>
<path d="M302.56,409.2L194.29,425.41"/>
<path d="M302.56,409.2L190.01,414.53"/>
<path d="M302.56,409.2L188.51,406.89"/>
<path d="M302.56,409.2L195.42,373.13"/>
<path d="M302.56,409.2L197.5,369.81"/>
<path d="M302.56,409.2L221.54,349.75"/>
<path d="M301.78,413.02L242.48,455.9"/>
<path d="M301.78,413.02L194.29,425.41"/>
<path d="M301.78,413.02L190.01,414.53"/>
<path d="M301.78,413.02L188.51,406.89"/>
<path d="M301.78,413.02L221.54,349.75"/>
<path d="M300.72,416.77L194.29,425.41"/>
<path d="M300.72,416.77L190.01,414.53"/>
<path d="M300.72,416.77L188.11,399.13"/>
<path d="M300.72,416.77L221.54,349.75"/>
<path d="M299.4,420.44L194.29,425.41"/>
<path d="M299.4,420.44L190.01,414.53"/>
<path d="M299.4,420.44L188.11,399.13"/>
<path d="M299.4,420.44L197.5,369.81"/>
<path d="M297.82,424.01L221.54,349.75"/>
<path d="M297.82,424.01L229.05,346.99"/>
<path d="M297.82,424.01L236.89,345.27"/>
<path d="M295.98,427.47L194.29,425.41"/>
<path d="M295.98,427.47L188.51,406.89"/>
<path d="M295.98,427.47L188.11,399.13"/>
<path d="M295.98,427.47L197.5,369.81"/>
<path d="M295.98,427.47L221.54,349.75"/>
<path d="M293.9,430.79L188.11,399.13"/>
<path d="M293.9,430.79L195.42,373.13"/>
<path d="M293.9,430.79L221.54,349.75"/>
<path d="M293.9,430.79L229.05,346.99"/>
<path d="M293.9,430.79L236.89,345.27"/>
<path d="M289.04,436.98L188.51,406.89"/>
<path d="M289.04,436.98L188.11,399.13"/>
<path d="M289.04,436.98L195.42,373.13"/>
<path d="M289.04,436.98L197.5,369.81"/>
<path d="M289.04,436.98L208.06,358.14"/>
<path d="M289.04,436.98L221.54,349.75"/>
<path d="M286.29,439.82L190.01,414.53"/>
<path d="M286.29,439.82L188.11,399.13"/>
<path d="M286.29,439.82L195.42,373.13"/>
<path d="M286.29,439.82L197.5,369.81"/>
<path d="M286.29,439.82L221.54,349.75"/>
<path d="M262.35,453.61L188.11,399.13"/>
<path d="M262.35,453.61L195.42,373.13"/>
<path d="M262.35,453.61L197.5,369.81"/>
<path d="M262.35,453.61L208.06,358.14"/>
<path d="M262.35,453.61L221.54,349.75"/>
<path d="M262.35,453.61L229.05,346.99"/>
<path d="M250.52,455.8L195.42,373.13"/>
<path d="M250.52,455.8L197.5,369.81"/>
<path d="M250.52,455.8L221.54,349.75"/>
<path d="M242.48,455.9L195.42,373.13"/>
<path d="M242.48,455.9L208.06,358.14"/>
<path d="M242.48,455.9L221.54,349.75"/>
<path d="M242.48,455.9L229.05,346.99"/>
<path d="M242.48,455.9L236.89,345.27"/>
</g>
<polyline points="238.58,337.57 239.71,337.46 240.84,337.36 241.97,337.29 243.1,337.24 244.23,337.2 245.36,337.19 246.49,337.19" fill="none" stroke="#f892f1" stroke-width="1.6"/>
<polyline points="247.62,337.21 248.76,337.26 249.89,337.32 251.01,337.4 252.14,337.5 253.27,337.62 254.39,337.76 255.51,337.91 256.63,338.09 257.74,338.28 258.85,338.5 259.96,338.73 261.06,338.98 262.16,339.25 263.25,339.54 264.34,339.85" fill="none" stroke="#f892f1" stroke-width="1.6"/>
<polyline points="265.42,340.17 266.5,340.52 267.57,340.88 268.63,341.26 269.68,341.66 270.73,342.08 271.77,342.51 272.8,342.96 273.83,343.43 274.84,343.92 275.85,344.42 276.85,344.94" fill="none" stroke="#f892f1" stroke-width="1.6"/>
<polyline points="277.84,345.48 278.82,346.03 279.78,346.6 280.74,347.19 281.69,347.79 282.63,348.41 283.55,349.05 284.46,349.7 285.37,350.36 286.26,351.04 287.13,351.74 288,352.45" fill="none" stroke="#f892f1" stroke-width="1.6"/>
<polyline points="288.85,353.18 289.69,353.92 290.51,354.67 291.33,355.44 292.12,356.22 292.91,357.02 293.68,357.82 294.43,358.65 295.17,359.48 295.89,360.33 296.6,361.18 297.3,362.05 297.98,362.94 298.64,363.83 299.28,364.73 299.91,365.65" fill="none" stroke="#f892f1" stroke-width="1.6"/>
<polyline points="300.53,366.58 301.12,367.51 301.7,368.46 302.27,369.41 302.81,370.38 303.34,371.35 303.85,372.34 304.34,373.33 304.82,374.33 305.27,375.34 305.71,376.35 306.13,377.37" fill="none" stroke="#f892f1" stroke-width="1.6"/>
<polyline points="306.54,378.4 306.92,379.44 307.28,380.48 307.63,381.53 307.96,382.59 308.27,383.65 308.56,384.71 308.83,385.78 309.08,386.85 309.31,387.93 309.52,389.02 309.71,390.1" fill="none" stroke="#f892f1" stroke-width="1.6"/>
<polyline points="309.89,391.19 310.04,392.28 310.17,393.37 310.29,394.47 310.38,395.57 310.46,396.67 310.51,397.77 310.55,398.87 310.56,399.97 310.56,401.07 310.54,402.17 310.49,403.27" fill="none" stroke="#f892f1" stroke-width="1.6"/>
<polyline points="310.43,404.37 310.35,405.47 310.24,406.57 310.12,407.66 309.98,408.76 309.82,409.85 309.64,410.93 309.44,412.02" fill="none" stroke="#f892f1" stroke-width="1.6"/>
<polyline points="309.22,413.1 308.98,414.18 308.72,415.25 308.44,416.32 308.14,417.38 307.83,418.44 307.49,419.49 307.14,420.53 306.77,421.58 306.38,422.61 305.97,423.64 305.54,424.66" fill="none" stroke="#f892f1" stroke-width="1.6"/>
<polyline points="305.09,425.67 304.63,426.67 304.15,427.67 303.65,428.66 303.13,429.64 302.6,430.61 302.04,431.57 301.47,432.52 300.89,433.46 300.28,434.4 299.66,435.32 299.03,436.23" fill="none" stroke="#f892f1" stroke-width="1.6"/>
<polyline points="298.38,437.13 297.64,438.11 296.88,439.07 296.11,440.02 295.32,440.95 294.51,441.87 293.68,442.78 292.83,443.66 291.96,444.54 291.08,445.39 290.19,446.23" fill="none" stroke="#f892f1" stroke-width="1.6"/>
<polyline points="289.35,446.98 288.51,447.71 287.65,448.43 286.78,449.14 285.9,449.83 285.01,450.51 284.1,451.16 283.18,451.81 282.25,452.44 281.31,453.05 280.36,453.65 279.4,454.23" fill="none" stroke="#f892f1" stroke-width="1.6"/>
<polyline points="278.43,454.79 277.44,455.34 276.45,455.87 275.45,456.38 274.44,456.88 273.42,457.36 272.39,457.82 271.36,458.27 270.31,458.69 269.26,459.1 268.2,459.49 267.14,459.87" fill="none" stroke="#f892f1" stroke-width="1.6"/>
<polyline points="266.07,460.22 264.99,460.56 263.91,460.88 262.82,461.18 261.72,461.46 260.62,461.72 259.52,461.96 258.41,462.19 257.3,462.4 256.18,462.58 255.06,462.75 253.94,462.9" fill="none" stroke="#f892f1" stroke-width="1.6"/>
<polyline points="252.82,463.03 251.69,463.14 250.56,463.24 249.43,463.31 248.3,463.36 247.17,463.4 246.04,463.41 244.91,463.41 243.78,463.39 242.64,463.34 241.51,463.28 240.39,463.2" fill="none" stroke="#f892f1" stroke-width="1.6"/>
<polyline points="239.26,463.1 238.13,462.98 237.01,462.84 235.89,462.69 234.77,462.51 233.66,462.32 232.55,462.1 231.44,461.87 230.34,461.62 229.24,461.35 228.15,461.06 227.06,460.75" fill="none" stroke="#f892f1" stroke-width="1.6"/>
<polyline points="225.98,460.43 224.9,460.08 223.83,459.72 222.77,459.34 221.72,458.94 220.67,458.52 219.63,458.09 218.6,457.64 217.57,457.17 216.56,456.68 215.55,456.18 214.55,455.66" fill="none" stroke="#f892f1" stroke-width="1.6"/>
<polyline points="213.56,455.12 212.58,454.57 211.62,454 210.66,453.41 209.71,452.81 208.77,452.19 207.85,451.55 206.94,450.9 206.03,450.24 205.14,449.56 204.27,448.86 203.4,448.15" fill="none" stroke="#f892f1" stroke-width="1.6"/>
<polyline points="202.55,447.42 201.71,446.68 200.89,445.93 200.07,445.16 199.28,444.38 198.49,443.58 197.72,442.78 196.97,441.95 196.23,441.12 195.51,440.27 194.8,439.42 194.1,438.55" fill="none" stroke="#f892f1" stroke-width="1.6"/>
<polyline points="193.42,437.66 192.76,436.77 192.12,435.87 191.49,434.95 190.87,434.02 190.28,433.09 189.7,432.14 189.13,431.19 188.59,430.22 188.06,429.25 187.55,428.26 187.06,427.27 186.58,426.27 186.13,425.26 185.69,424.25 185.27,423.23" fill="none" stroke="#f892f1" stroke-width="1.6"/>
<polyline points="184.86,422.2 184.48,421.16 184.12,420.12 183.77,419.07 183.44,418.01 183.13,416.95 182.84,415.89 182.57,414.82 182.32,413.75 182.09,412.67 181.88,411.58 181.69,410.5" fill="none" stroke="#f892f1" stroke-width="1.6"/>
<polyline points="181.51,409.41 181.36,408.32 181.23,407.23 181.11,406.13 181.02,405.03 180.94,403.93 180.89,402.83 180.85,401.73 180.84,400.63 180.84,399.53 180.86,398.43 180.91,397.33" fill="none" stroke="#f892f1" stroke-width="1.6"/>
<polyline points="180.97,396.23 181.05,395.13 181.16,394.03 181.28,392.94 181.42,391.84 181.58,390.75 181.76,389.67 181.96,388.58 182.18,387.5 182.42,386.42 182.68,385.35 182.96,384.28" fill="none" stroke="#f892f1" stroke-width="1.6"/>
<polyline points="183.26,383.22 183.57,382.16 183.91,381.11 184.26,380.07 184.63,379.02 185.02,377.99 185.43,376.96 185.86,375.94 186.31,374.93 186.77,373.93 187.25,372.93 187.75,371.94" fill="none" stroke="#f892f1" stroke-width="1.6"/>
<polyline points="188.27,370.96 188.8,369.99 189.36,369.03 189.93,368.08 190.51,367.14 191.12,366.2 191.74,365.28 192.37,364.37 193.02,363.47 193.69,362.58 194.38,361.7 195.08,360.84" fill="none" stroke="#f892f1" stroke-width="1.6"/>
<polyline points="195.79,359.99 196.52,359.14 197.27,358.32 198.03,357.5 198.8,356.7 199.59,355.91 200.4,355.13 201.21,354.37 202.05,353.62 202.89,352.89 203.75,352.17 204.62,351.46" fill="none" stroke="#f892f1" stroke-width="1.6"/>
<polyline points="205.5,350.77 206.39,350.09 207.3,349.44 208.22,348.79 209.15,348.16 210.09,347.55 211.04,346.95 212,346.37 212.97,345.81 213.96,345.26 214.95,344.73 215.95,344.22" fill="none" stroke="#f892f1" stroke-width="1.6"/>
<polyline points="216.96,343.72 217.98,343.24 219.01,342.78 220.04,342.33 221.09,341.91 222.14,341.5 223.2,341.11 224.26,340.73" fill="none" stroke="#f892f1" stroke-width="1.6"/>
<polyline points="225.33,340.38 226.41,340.04 227.49,339.72 228.58,339.42 229.68,339.14 230.78,338.88 231.88,338.64 232.99,338.41 234.1,338.2 235.22,338.02 236.34,337.85 237.46,337.7" fill="none" stroke="#f892f1" stroke-width="1.6"/>
<circle cx="240.55" cy="340.82" r="1.25" fill="#3b9a22"/>
<circle cx="244.84" cy="340.62" r="1.25" fill="#2b1cff"/>
<circle cx="249.14" cy="340.7" r="1.25" fill="#3b9a22"/>
<circle cx="253.42" cy="341.08" r="1.25" fill="#3b9a22"/>
<circle cx="257.66" cy="341.75" r="1.25" fill="#3b9a22"/>
<circle cx="261.85" cy="342.7" r="1.25" fill="#2b1cff"/>
<circle cx="265.96" cy="343.93" r="1.25" fill="#2b1cff"/>
<circle cx="269.97" cy="345.44" r="1.25" fill="#2b1cff"/>
<circle cx="273.86" cy="347.21" r="1.25" fill="#cfcfcf"/>
<circle cx="277.61" cy="349.24" r="1.25" fill="#3b9a22"/>
<circle cx="281.21" cy="351.52" r="1.25" fill="#000000"/>
<circle cx="284.63" cy="354.04" r="1.25" fill="#000000"/>
<circle cx="287.87" cy="356.79" r="1.25" fill="#2b1cff"/>
<circle cx="290.9" cy="359.74" r="1.25" fill="#cfcfcf"/>
<circle cx="293.71" cy="362.9" r="1.25" fill="#cfcfcf"/>
<circle cx="296.28" cy="366.23" r="1.25" fill="#2b1cff"/>
<circle cx="298.61" cy="369.74" r="1.25" fill="#2b1cff"/>
<circle cx="300.68" cy="373.39" r="1.25" fill="#2b1cff"/>
<circle cx="302.49" cy="377.17" r="1.25" fill="#2b1cff"/>
<circle cx="304.01" cy="381.06" r="1.25" fill="#3b9a22"/>
<circle cx="305.26" cy="385.05" r="1.25" fill="#3b9a22"/>
<circle cx="306.21" cy="389.12" r="1.25" fill="#000000"/>
<circle cx="306.87" cy="393.23" r="1.25" fill="#3b9a22"/>
<circle cx="307.23" cy="397.38" r="1.25" fill="#3b9a22"/>
<circle cx="307.29" cy="401.55" r="1.25" fill="#2b1cff"/>
<circle cx="307.05" cy="405.71" r="1.25" fill="#2b1cff"/>
<circle cx="306.51" cy="409.84" r="1.25" fill="#cfcfcf"/>
<circle cx="305.67" cy="413.93" r="1.25" fill="#2b1cff"/>
<circle cx="304.55" cy="417.95" r="1.25" fill="#2b1cff"/>
<circle cx="303.13" cy="421.89" r="1.25" fill="#2b1cff"/>
<circle cx="301.44" cy="425.71" r="1.25" fill="#3b9a22"/>
<circle cx="299.47" cy="429.42" r="1.25" fill="#3b9a22"/>
<circle cx="297.24" cy="432.98" r="1.25" fill="#cfcfcf"/>
<circle cx="294.77" cy="436.39" r="1.25" fill="#cfcfcf"/>
<circle cx="292.05" cy="439.62" r="1.25" fill="#3b9a22"/>
<circle cx="289.11" cy="442.65" r="1.25" fill="#3b9a22"/>
<circle cx="285.95" cy="445.49" r="1.25" fill="#cfcfcf"/>
<circle cx="282.6" cy="448.1" r="1.25" fill="#cfcfcf"/>
<circle cx="279.07" cy="450.47" r="1.25" fill="#3b9a22"/>
<circle cx="275.38" cy="452.61" r="1.25" fill="#000000"/>
<circle cx="271.54" cy="454.49" r="1.25" fill="#2b1cff"/>
<circle cx="267.57" cy="456.1" r="1.25" fill="#2b1cff"/>
<circle cx="263.5" cy="457.44" r="1.25" fill="#2b1cff"/>
<circle cx="259.35" cy="458.51" r="1.25" fill="#2b1cff"/>
<circle cx="255.12" cy="459.29" r="1.25" fill="#2b1cff"/>
<circle cx="250.85" cy="459.78" r="1.25" fill="#cfcfcf"/>
<circle cx="246.56" cy="459.98" r="1.25" fill="#cfcfcf"/>
<circle cx="242.26" cy="459.9" r="1.25" fill="#cfcfcf"/>
<circle cx="237.98" cy="459.52" r="1.25" fill="#000000"/>
<circle cx="233.74" cy="458.85" r="1.25" fill="#cfcfcf"/>
<circle cx="229.55" cy="457.9" r="1.25" fill="#000000"/>
<circle cx="225.44" cy="456.67" r="1.25" fill="#2b1cff"/>
<circle cx="221.43" cy="455.16" r="1.25" fill="#000000"/>
<circle cx="217.54" cy="453.39" r="1.25" fill="#cfcfcf"/>
<circle cx="213.79" cy="451.36" r="1.25" fill="#2b1cff"/>
<circle cx="210.19" cy="449.08" r="1.25" fill="#2b1cff"/>
<circle cx="206.77" cy="446.56" r="1.25" fill="#2b1cff"/>
<circle cx="203.53" cy="443.81" r="1.25" fill="#000000"/>
<circle cx="200.5" cy="440.86" r="1.25" fill="#3b9a22"/>
<circle cx="197.69" cy="437.7" r="1.25" fill="#2b1cff"/>
<circle cx="195.12" cy="434.37" r="1.25" fill="#000000"/>
<circle cx="192.79" cy="430.86" r="1.25" fill="#000000"/>
<circle cx="190.72" cy="427.21" r="1.25" fill="#000000"/>
<circle cx="188.91" cy="423.43" r="1.25" fill="#000000"/>
<circle cx="187.39" cy="419.54" r="1.25" fill="#2b1cff"/>
<circle cx="186.14" cy="415.55" r="1.25" fill="#cfcfcf"/>
<circle cx="185.19" cy="411.48" r="1.25" fill="#000000"/>
<circle cx="184.53" cy="407.37" r="1.25" fill="#000000"/>
<circle cx="184.17" cy="403.22" r="1.25" fill="#000000"/>
<circle cx="184.11" cy="399.05" r="1.25" fill="#cfcfcf"/>
<circle cx="184.35" cy="394.89" r="1.25" fill="#3b9a22"/>
<circle cx="184.89" cy="390.76" r="1.25" fill="#2b1cff"/>
<circle cx="185.73" cy="386.67" r="1.25" fill="#000000"/>
<circle cx="186.85" cy="382.65" r="1.25" fill="#3b9a22"/>
<circle cx="188.27" cy="378.71" r="1.25" fill="#3b9a22"/>
<circle cx="189.96" cy="374.89" r="1.25" fill="#3b9a22"/>
<circle cx="191.93" cy="371.18" r="1.25" fill="#000000"/>
<circle cx="194.16" cy="367.62" r="1.25" fill="#000000"/>
<circle cx="196.63" cy="364.21" r="1.25" fill="#000000"/>
<circle cx="199.35" cy="360.98" r="1.25" fill="#2b1cff"/>
<circle cx="202.29" cy="357.95" r="1.25" fill="#000000"/>
<circle cx="205.45" cy="355.11" r="1.25" fill="#cfcfcf"/>
<circle cx="208.8" cy="352.5" r="1.25" fill="#000000"/>
<circle cx="212.33" cy="350.13" r="1.25" fill="#000000"/>
<circle cx="216.02" cy="347.99" r="1.25" fill="#2b1cff"/>
<circle cx="219.86" cy="346.11" r="1.25" fill="#2b1cff"/>
<circle cx="223.83" cy="344.5" r="1.25" fill="#cfcfcf"/>
<circle cx="227.9" cy="343.16" r="1.25" fill="#2b1cff"/>
<circle cx="232.05" cy="342.09" r="1.25" fill="#2b1cff"/>
<circle cx="236.28" cy="341.31" r="1.25" fill="#cfcfcf"/>
<g font-size="4.5" font-weight="bold">
<text transform="translate(240.05,334.82) rotate(109.2) scale(0.8,1)" dy="0.35em" text-anchor="end" fill="#44a02c">N1076G</text>
<text transform="translate(244.76,334.59) rotate(113.2) scale(0.8,1)" dy="0.35em" text-anchor="end" fill="#3326ff">N1076R</text>
<text transform="translate(249.47,334.69) rotate(-62.8) scale(0.8,1)" dy="0.35em" fill="#44a02c">D1077F</text>
<text transform="translate(254.16,335.1) rotate(-58.8) scale(0.8,1)" dy="0.35em" fill="#44a02c">D1077G</text>
<text transform="translate(258.8,335.84) rotate(-54.8) scale(0.8,1)" dy="0.35em" fill="#44a02c">D1077Q</text>
<text transform="translate(263.39,336.89) rotate(-50.8) scale(0.8,1)" dy="0.35em" fill="#3326ff">D1077E</text>
<text transform="translate(267.89,338.24) rotate(-46.8) scale(0.8,1)" dy="0.35em" fill="#3326ff">V1078I</text>
<text transform="translate(272.28,339.9) rotate(-42.8) scale(0.8,1)" dy="0.35em" fill="#3326ff">V1078D</text>
<text transform="translate(276.54,341.85) rotate(-38.8) scale(0.8,1)" dy="0.35em" fill="#c4c4c4">V1078E</text>
<text transform="translate(280.65,344.09) rotate(-34.8) scale(0.8,1)" dy="0.35em" fill="#44a02c">R1079S</text>
<text transform="translate(284.59,346.6) rotate(-30.8) scale(0.8,1)" dy="0.35em" fill="#111111">R1079E</text>
<text transform="translate(288.34,349.38) rotate(-26.8) scale(0.8,1)" dy="0.35em" fill="#111111">R1079K</text>
<text transform="translate(291.88,352.4) rotate(-22.8) scale(0.8,1)" dy="0.35em" fill="#3326ff">E1080S</text>
<text transform="translate(295.2,355.65) rotate(-18.8) scale(0.8,1)" dy="0.35em" fill="#c4c4c4">E1080D</text>
<text transform="translate(298.28,359.12) rotate(-14.8) scale(0.8,1)" dy="0.35em" fill="#c4c4c4">E1080G</text>
<text transform="translate(301.1,362.8) rotate(-10.8) scale(0.8,1)" dy="0.35em" fill="#3326ff">E1080L</text>
<text transform="translate(303.65,366.65) rotate(-6.8) scale(0.8,1)" dy="0.35em" fill="#3326ff">D1081R</text>
<text transform="translate(305.92,370.67) rotate(-2.8) scale(0.8,1)" dy="0.35em" fill="#3326ff">D1081E</text>
<text transform="translate(307.89,374.84) rotate(1.2) scale(0.8,1)" dy="0.35em" fill="#3326ff">D1081L</text>
<text transform="translate(309.57,379.12) rotate(5.2) scale(0.8,1)" dy="0.35em" fill="#44a02c">D1082H</text>
<text transform="translate(310.93,383.51) rotate(9.2) scale(0.8,1)" dy="0.35em" fill="#44a02c">D1082N</text>
<text transform="translate(311.97,387.99) rotate(13.2) scale(0.8,1)" dy="0.35em" fill="#111111">D1082S</text>
<text transform="translate(312.69,392.52) rotate(17.2) scale(0.8,1)" dy="0.35em" fill="#44a02c">G1083F</text>
<text transform="translate(313.08,397.09) rotate(21.2) scale(0.8,1)" dy="0.35em" fill="#44a02c">G1083N</text>
<text transform="translate(313.15,401.68) rotate(25.2) scale(0.8,1)" dy="0.35em" fill="#3326ff">G1083I</text>
<text transform="translate(312.89,406.26) rotate(29.2) scale(0.8,1)" dy="0.35em" fill="#3326ff">F1084K</text>
<text transform="translate(312.3,410.81) rotate(33.2) scale(0.8,1)" dy="0.35em" fill="#c4c4c4">F1084Q</text>
<text transform="translate(311.38,415.31) rotate(37.2) scale(0.8,1)" dy="0.35em" fill="#3326ff">F1085E</text>
<text transform="translate(310.15,419.73) rotate(41.2) scale(0.8,1)" dy="0.35em" fill="#3326ff">F1085D</text>
<text transform="translate(308.6,424.06) rotate(45.2) scale(0.8,1)" dy="0.35em" fill="#3326ff">F1085K</text>
<text transform="translate(306.74,428.28) rotate(49.2) scale(0.8,1)" dy="0.35em" fill="#44a02c">T1086R</text>
<text transform="translate(304.59,432.36) rotate(53.2) scale(0.8,1)" dy="0.35em" fill="#44a02c">T1086N</text>
<text transform="translate(302.15,436.28) rotate(57.2) scale(0.8,1)" dy="0.35em" fill="#c4c4c4">T1086S</text>
<text transform="translate(299.44,440.03) rotate(61.2) scale(0.8,1)" dy="0.35em" fill="#c4c4c4">S1087P</text>
<text transform="translate(296.46,443.58) rotate(65.2) scale(0.8,1)" dy="0.35em" fill="#44a02c">S1087M</text>
<text transform="translate(293.24,446.93) rotate(69.2) scale(0.8,1)" dy="0.35em" fill="#44a02c">S1087K</text>
<text transform="translate(289.78,450.04) rotate(73.2) scale(0.8,1)" dy="0.35em" fill="#c4c4c4">H1088L</text>
<text transform="translate(286.11,452.92) rotate(77.2) scale(0.8,1)" dy="0.35em" fill="#c4c4c4">H1088E</text>
<text transform="translate(282.25,455.54) rotate(81.2) scale(0.8,1)" dy="0.35em" fill="#44a02c">H1088N</text>
<text transform="translate(278.2,457.89) rotate(85.2) scale(0.8,1)" dy="0.35em" fill="#111111">V1089T</text>
<text transform="translate(274,459.95) rotate(89.2) scale(0.8,1)" dy="0.35em" fill="#3326ff">V1089N</text>
<text transform="translate(269.66,461.73) rotate(93.2) scale(0.8,1)" dy="0.35em" fill="#3326ff">V1089S</text>
<text transform="translate(265.2,463.21) rotate(97.2) scale(0.8,1)" dy="0.35em" fill="#3326ff">M1090E</text>
<text transform="translate(260.65,464.38) rotate(101.2) scale(0.8,1)" dy="0.35em" fill="#3326ff">M1090F</text>
<text transform="translate(256.02,465.24) rotate(105.2) scale(0.8,1)" dy="0.35em" fill="#3326ff">M1090Y</text>
<text transform="translate(251.35,465.78) rotate(109.2) scale(0.8,1)" dy="0.35em" fill="#c4c4c4">R1091H</text>
<text transform="translate(246.64,466.01) rotate(113.2) scale(0.8,1)" dy="0.35em" fill="#c4c4c4">R1091N</text>
<text transform="translate(241.93,465.91) rotate(297.2) scale(0.8,1)" dy="0.35em" text-anchor="end" fill="#c4c4c4">R1091G</text>
<text transform="translate(237.24,465.5) rotate(301.2) scale(0.8,1)" dy="0.35em" text-anchor="end" fill="#111111">T1092R</text>
<text transform="translate(232.6,464.76) rotate(305.2) scale(0.8,1)" dy="0.35em" text-anchor="end" fill="#c4c4c4">T1092D</text>
<text transform="translate(228.01,463.71) rotate(309.2) scale(0.8,1)" dy="0.35em" text-anchor="end" fill="#111111">T1092E</text>
<text transform="translate(223.51,462.36) rotate(313.2) scale(0.8,1)" dy="0.35em" text-anchor="end" fill="#3326ff">Y1093N</text>
<text transform="translate(219.12,460.7) rotate(317.2) scale(0.8,1)" dy="0.35em" text-anchor="end" fill="#111111">Y1093N</text>
<text transform="translate(214.86,458.75) rotate(321.2) scale(0.8,1)" dy="0.35em" text-anchor="end" fill="#c4c4c4">Y1093P</text>
<text transform="translate(210.75,456.51) rotate(325.2) scale(0.8,1)" dy="0.35em" text-anchor="end" fill="#3326ff">T1094S</text>
<text transform="translate(206.81,454) rotate(329.2) scale(0.8,1)" dy="0.35em" text-anchor="end" fill="#3326ff">T1094E</text>
<text transform="translate(203.06,451.22) rotate(333.2) scale(0.8,1)" dy="0.35em" text-anchor="end" fill="#3326ff">T1094E</text>
<text transform="translate(199.52,448.2) rotate(337.2) scale(0.8,1)" dy="0.35em" text-anchor="end" fill="#111111">L1095V</text>
<text transform="translate(196.2,444.95) rotate(341.2) scale(0.8,1)" dy="0.35em" text-anchor="end" fill="#44a02c">L1095E</text>
<text transform="translate(193.12,441.48) rotate(345.2) scale(0.8,1)" dy="0.35em" text-anchor="end" fill="#3326ff">L1095D</text>
<text transform="translate(190.3,437.8) rotate(349.2) scale(0.8,1)" dy="0.35em" text-anchor="end" fill="#111111">M1096T</text>
<text transform="translate(187.75,433.95) rotate(353.2) scale(0.8,1)" dy="0.35em" text-anchor="end" fill="#111111">M1096N</text>
<text transform="translate(185.48,429.93) rotate(357.2) scale(0.8,1)" dy="0.35em" text-anchor="end" fill="#111111">M1096R</text>
<text transform="translate(183.51,425.76) rotate(361.2) scale(0.8,1)" dy="0.35em" text-anchor="end" fill="#111111">M1096Q</text>
<text transform="translate(181.83,421.48) rotate(365.2) scale(0.8,1)" dy="0.35em" text-anchor="end" fill="#3326ff">A1097T</text>
<text transform="translate(180.47,417.09) rotate(369.2) scale(0.8,1)" dy="0.35em" text-anchor="end" fill="#c4c4c4">A1097Q</text>
<text transform="translate(179.43,412.61) rotate(373.2) scale(0.8,1)" dy="0.35em" text-anchor="end" fill="#111111">A1097I</text>
<text transform="translate(178.71,408.08) rotate(377.2) scale(0.8,1)" dy="0.35em" text-anchor="end" fill="#111111">F1098V</text>
<text transform="translate(178.32,403.51) rotate(381.2) scale(0.8,1)" dy="0.35em" text-anchor="end" fill="#111111">F1098D</text>
<text transform="translate(178.25,398.92) rotate(385.2) scale(0.8,1)" dy="0.35em" text-anchor="end" fill="#c4c4c4">F1098K</text>
<text transform="translate(178.51,394.34) rotate(389.2) scale(0.8,1)" dy="0.35em" text-anchor="end" fill="#44a02c">M1099G</text>
<text transform="translate(179.1,389.79) rotate(393.2) scale(0.8,1)" dy="0.35em" text-anchor="end" fill="#3326ff">M1099K</text>
<text transform="translate(180.02,385.29) rotate(397.2) scale(0.8,1)" dy="0.35em" text-anchor="end" fill="#111111">M1099R</text>
<text transform="translate(181.25,380.87) rotate(401.2) scale(0.8,1)" dy="0.35em" text-anchor="end" fill="#44a02c">Q1100V</text>
<text transform="translate(182.8,376.54) rotate(405.2) scale(0.8,1)" dy="0.35em" text-anchor="end" fill="#44a02c">Q1100E</text>
<text transform="translate(184.66,372.32) rotate(409.2) scale(0.8,1)" dy="0.35em" text-anchor="end" fill="#44a02c">Q1100H</text>
<text transform="translate(186.81,368.24) rotate(413.2) scale(0.8,1)" dy="0.35em" text-anchor="end" fill="#111111">S1101Q</text>
<text transform="translate(189.25,364.32) rotate(417.2) scale(0.8,1)" dy="0.35em" text-anchor="end" fill="#111111">S1101L</text>
<text transform="translate(191.96,360.57) rotate(421.2) scale(0.8,1)" dy="0.35em" text-anchor="end" fill="#111111">S1101G</text>
<text transform="translate(194.94,357.02) rotate(425.2) scale(0.8,1)" dy="0.35em" text-anchor="end" fill="#3326ff">R1102L</text>
<text transform="translate(198.16,353.67) rotate(429.2) scale(0.8,1)" dy="0.35em" text-anchor="end" fill="#111111">R1102S</text>
<text transform="translate(201.62,350.56) rotate(433.2) scale(0.8,1)" dy="0.35em" text-anchor="end" fill="#c4c4c4">R1102P</text>
<text transform="translate(205.29,347.68) rotate(437.2) scale(0.8,1)" dy="0.35em" text-anchor="end" fill="#111111">Q1103K</text>
<text transform="translate(209.15,345.06) rotate(441.2) scale(0.8,1)" dy="0.35em" text-anchor="end" fill="#111111">Q1103G</text>
<text transform="translate(213.2,342.71) rotate(445.2) scale(0.8,1)" dy="0.35em" text-anchor="end" fill="#3326ff">Q1103E</text>
<text transform="translate(217.4,340.65) rotate(449.2) scale(0.8,1)" dy="0.35em" text-anchor="end" fill="#3326ff">H1104G</text>
<text transform="translate(221.74,338.87) rotate(453.2) scale(0.8,1)" dy="0.35em" text-anchor="end" fill="#c4c4c4">H1104L</text>
<text transform="translate(226.2,337.39) rotate(457.2) scale(0.8,1)" dy="0.35em" text-anchor="end" fill="#3326ff">K1105A</text>
<text transform="translate(230.75,336.22) rotate(461.2) scale(0.8,1)" dy="0.35em" text-anchor="end" fill="#3326ff">K1105V</text>
<text transform="translate(235.38,335.36) rotate(465.2) scale(0.8,1)" dy="0.35em" text-anchor="end" fill="#c4c4c4">K1105H</text>
</g>
<text transform="translate(191.8,339.32) rotate(-22)" font-size="10.5" font-weight="bold">TL-N</text>
<text transform="translate(214.9,327.92) rotate(-14)" font-size="10.5" font-weight="bold">TL-C</text>
<g stroke="#000" stroke-width="0.45" stroke-opacity="0.58" fill="none">
<path d="M412.65,342.26L475.24,412.37"/>
<path d="M412.65,342.26L467.14,430.64"/>
<path d="M412.65,342.26L464.75,433.91"/>
<path d="M412.65,342.26L459.31,439.92"/>
<path d="M412.65,342.26L456.28,442.63"/>
<path d="M412.65,342.26L453.06,445.13"/>
<path d="M412.65,342.26L449.67,447.41"/>
<path d="M412.65,342.26L438.62,452.81"/>
<path d="M412.65,342.26L434.71,454.1"/>
<path d="M412.65,342.26L430.72,455.12"/>
<path d="M412.65,342.26L426.66,455.87"/>
<path d="M412.65,342.26L422.55,456.34"/>
<path d="M412.65,342.26L398.13,453.36"/>
<path d="M412.65,342.26L390.54,450.21"/>
<path d="M412.65,342.26L386.93,448.26"/>
<path d="M412.65,342.26L383.48,446.07"/>
<path d="M412.65,342.26L380.18,443.66"/>
<path d="M412.65,342.26L371.46,435.17"/>
<path d="M416.77,342.06L474.15,416.23"/>
<path d="M416.77,342.06L471.17,423.67"/>
<path d="M416.77,342.06L467.14,430.64"/>
<path d="M416.77,342.06L464.75,433.91"/>
<path d="M416.77,342.06L459.31,439.92"/>
<path d="M416.77,342.06L456.28,442.63"/>
<path d="M416.77,342.06L453.06,445.13"/>
<path d="M416.77,342.06L449.67,447.41"/>
<path d="M416.77,342.06L438.62,452.81"/>
<path d="M416.77,342.06L434.71,454.1"/>
<path d="M416.77,342.06L430.72,455.12"/>
<path d="M416.77,342.06L426.66,455.87"/>
<path d="M416.77,342.06L422.55,456.34"/>
<path d="M416.77,342.06L398.13,453.36"/>
<path d="M416.77,342.06L390.54,450.21"/>
<path d="M416.77,342.06L386.93,448.26"/>
<path d="M416.77,342.06L383.48,446.07"/>
<path d="M416.77,342.06L380.18,443.66"/>
<path d="M416.77,342.06L371.46,435.17"/>
<path d="M420.9,342.15L474.15,416.23"/>
<path d="M420.9,342.15L467.14,430.64"/>
<path d="M420.9,342.15L464.75,433.91"/>
<path d="M420.9,342.15L459.31,439.92"/>
<path d="M420.9,342.15L456.28,442.63"/>
<path d="M420.9,342.15L453.06,445.13"/>
<path d="M420.9,342.15L449.67,447.41"/>
<path d="M420.9,342.15L434.71,454.1"/>
<path d="M420.9,342.15L430.72,455.12"/>
<path d="M420.9,342.15L426.66,455.87"/>
<path d="M420.9,342.15L422.55,456.34"/>
<path d="M420.9,342.15L398.13,453.36"/>
<path d="M420.9,342.15L390.54,450.21"/>
<path d="M420.9,342.15L386.93,448.26"/>
<path d="M420.9,342.15L383.48,446.07"/>
<path d="M420.9,342.15L380.18,443.66"/>
<path d="M420.9,342.15L371.46,435.17"/>
<path d="M425.02,342.51L474.15,416.23"/>
<path d="M425.02,342.51L459.31,439.92"/>
<path d="M425.02,342.51L453.06,445.13"/>
<path d="M425.02,342.51L449.67,447.41"/>
<path d="M425.02,342.51L434.71,454.1"/>
<path d="M425.02,342.51L430.72,455.12"/>
<path d="M425.02,342.51L426.66,455.87"/>
<path d="M425.02,342.51L422.55,456.34"/>
<path d="M425.02,342.51L398.13,453.36"/>
<path d="M425.02,342.51L390.54,450.21"/>
<path d="M425.02,342.51L386.93,448.26"/>
<path d="M425.02,342.51L383.48,446.07"/>
<path d="M425.02,342.51L380.18,443.66"/>
<path d="M425.02,342.51L371.46,435.17"/>
<path d="M425.02,342.51L360.36,413.92"/>
<path d="M429.1,343.15L459.31,439.92"/>
<path d="M429.1,343.15L453.06,445.13"/>
<path d="M429.1,343.15L449.67,447.41"/>
<path d="M429.1,343.15L438.62,452.81"/>
<path d="M429.1,343.15L434.71,454.1"/>
<path d="M429.1,343.15L430.72,455.12"/>
<path d="M429.1,343.15L426.66,455.87"/>
<path d="M429.1,343.15L422.55,456.34"/>
<path d="M429.1,343.15L398.13,453.36"/>
<path d="M429.1,343.15L390.54,450.21"/>
<path d="M429.1,343.15L386.93,448.26"/>
<path d="M429.1,343.15L383.48,446.07"/>
<path d="M429.1,343.15L380.18,443.66"/>
<path d="M429.1,343.15L371.46,435.17"/>
<path d="M429.1,343.15L361.56,417.75"/>
<path d="M429.1,343.15L360.36,413.92"/>
<path d="M437.07,345.24L459.31,439.92"/>
<path d="M437.07,345.24L453.06,445.13"/>
<path d="M437.07,345.24L449.67,447.41"/>
<path d="M437.07,345.24L438.62,452.81"/>
<path d="M437.07,345.24L434.71,454.1"/>
<path d="M437.07,345.24L430.72,455.12"/>
<path d="M437.07,345.24L426.66,455.87"/>
<path d="M437.07,345.24L422.55,456.34"/>
<path d="M437.07,345.24L398.13,453.36"/>
<path d="M437.07,345.24L390.54,450.21"/>
<path d="M437.07,345.24L386.93,448.26"/>
<path d="M437.07,345.24L383.48,446.07"/>
<path d="M437.07,345.24L380.18,443.66"/>
<path d="M437.07,345.24L371.46,435.17"/>
<path d="M437.07,345.24L361.56,417.75"/>
<path d="M437.07,345.24L360.36,413.92"/>
<path d="M444.66,348.39L449.67,447.41"/>
<path d="M444.66,348.39L434.71,454.1"/>
<path d="M444.66,348.39L430.72,455.12"/>
<path d="M444.66,348.39L426.66,455.87"/>
<path d="M444.66,348.39L422.55,456.34"/>
<path d="M444.66,348.39L398.13,453.36"/>
<path d="M444.66,348.39L390.54,450.21"/>
<path d="M444.66,348.39L386.93,448.26"/>
<path d="M444.66,348.39L383.48,446.07"/>
<path d="M444.66,348.39L380.18,443.66"/>
<path d="M444.66,348.39L371.46,435.17"/>
<path d="M444.66,348.39L361.56,417.75"/>
<path d="M444.66,348.39L360.36,413.92"/>
<path d="M448.27,350.34L453.06,445.13"/>
<path d="M448.27,350.34L449.67,447.41"/>
<path d="M448.27,350.34L438.62,452.81"/>
<path d="M448.27,350.34L434.71,454.1"/>
<path d="M448.27,350.34L430.72,455.12"/>
<path d="M448.27,350.34L426.66,455.87"/>
<path d="M448.27,350.34L422.55,456.34"/>
<path d="M448.27,350.34L398.13,453.36"/>
<path d="M448.27,350.34L390.54,450.21"/>
<path d="M448.27,350.34L386.93,448.26"/>
<path d="M448.27,350.34L383.48,446.07"/>
<path d="M448.27,350.34L380.18,443.66"/>
<path d="M448.27,350.34L371.46,435.17"/>
<path d="M448.27,350.34L361.56,417.75"/>
<path d="M448.27,350.34L360.36,413.92"/>
<path d="M458.13,357.57L449.67,447.41"/>
<path d="M458.13,357.57L434.71,454.1"/>
<path d="M458.13,357.57L430.72,455.12"/>
<path d="M458.13,357.57L426.66,455.87"/>
<path d="M458.13,357.57L422.55,456.34"/>
<path d="M458.13,357.57L398.13,453.36"/>
<path d="M458.13,357.57L390.54,450.21"/>
<path d="M458.13,357.57L386.93,448.26"/>
<path d="M458.13,357.57L383.48,446.07"/>
<path d="M458.13,357.57L380.18,443.66"/>
<path d="M458.13,357.57L371.46,435.17"/>
<path d="M458.13,357.57L360.36,413.92"/>
<path d="M458.13,357.57L358.41,398.1"/>
<path d="M461.04,360.41L449.67,447.41"/>
<path d="M461.04,360.41L434.71,454.1"/>
<path d="M461.04,360.41L398.13,453.36"/>
<path d="M461.04,360.41L390.54,450.21"/>
<path d="M461.04,360.41L386.93,448.26"/>
<path d="M461.04,360.41L383.48,446.07"/>
<path d="M461.04,360.41L380.18,443.66"/>
<path d="M461.04,360.41L371.46,435.17"/>
<path d="M461.04,360.41L361.56,417.75"/>
<path d="M461.04,360.41L360.36,413.92"/>
<path d="M463.74,363.43L449.67,447.41"/>
<path d="M463.74,363.43L434.71,454.1"/>
<path d="M463.74,363.43L390.54,450.21"/>
<path d="M463.74,363.43L386.93,448.26"/>
<path d="M463.74,363.43L383.48,446.07"/>
<path d="M463.74,363.43L380.18,443.66"/>
<path d="M463.74,363.43L371.46,435.17"/>
<path d="M463.74,363.43L361.56,417.75"/>
<path d="M463.74,363.43L360.36,413.92"/>
<path d="M463.74,363.43L358.41,398.1"/>
<path d="M463.74,363.43L358.64,394.11"/>
<path d="M463.74,363.43L359.16,390.15"/>
<path d="M463.74,363.43L361.05,382.37"/>
<path d="M463.74,363.43L362.41,378.6"/>
<path d="M463.74,363.43L364.03,374.93"/>
<path d="M463.74,363.43L373.06,361.6"/>
<path d="M466.21,366.63L449.67,447.41"/>
<path d="M466.21,366.63L434.71,454.1"/>
<path d="M466.21,366.63L390.54,450.21"/>
<path d="M466.21,366.63L386.93,448.26"/>
<path d="M466.21,366.63L383.48,446.07"/>
<path d="M466.21,366.63L380.18,443.66"/>
<path d="M466.21,366.63L371.46,435.17"/>
<path d="M466.21,366.63L361.56,417.75"/>
<path d="M466.21,366.63L360.36,413.92"/>
<path d="M466.21,366.63L358.41,398.1"/>
<path d="M466.21,366.63L358.64,394.11"/>
<path d="M466.21,366.63L359.16,390.15"/>
<path d="M466.21,366.63L361.05,382.37"/>
<path d="M466.21,366.63L362.41,378.6"/>
<path d="M466.21,366.63L364.03,374.93"/>
<path d="M466.21,366.63L373.06,361.6"/>
<path d="M468.45,369.99L438.62,452.81"/>
<path d="M468.45,369.99L434.71,454.1"/>
<path d="M468.45,369.99L430.72,455.12"/>
<path d="M468.45,369.99L426.66,455.87"/>
<path d="M468.45,369.99L422.55,456.34"/>
<path d="M468.45,369.99L398.13,453.36"/>
<path d="M468.45,369.99L390.54,450.21"/>
<path d="M468.45,369.99L386.93,448.26"/>
<path d="M468.45,369.99L383.48,446.07"/>
<path d="M468.45,369.99L380.18,443.66"/>
<path d="M468.45,369.99L371.46,435.17"/>
<path d="M468.45,369.99L361.56,417.75"/>
<path d="M468.45,369.99L360.36,413.92"/>
<path d="M468.45,369.99L358.41,398.1"/>
<path d="M468.45,369.99L358.64,394.11"/>
<path d="M468.45,369.99L359.16,390.15"/>
<path d="M468.45,369.99L361.05,382.37"/>
<path d="M468.45,369.99L373.06,361.6"/>
<path d="M470.44,373.49L438.62,452.81"/>
<path d="M470.44,373.49L434.71,454.1"/>
<path d="M470.44,373.49L430.72,455.12"/>
<path d="M470.44,373.49L426.66,455.87"/>
<path d="M470.44,373.49L422.55,456.34"/>
<path d="M470.44,373.49L398.13,453.36"/>
<path d="M470.44,373.49L390.54,450.21"/>
<path d="M470.44,373.49L386.93,448.26"/>
<path d="M470.44,373.49L383.48,446.07"/>
<path d="M470.44,373.49L380.18,443.66"/>
<path d="M470.44,373.49L371.46,435.17"/>
<path d="M470.44,373.49L361.56,417.75"/>
<path d="M470.44,373.49L360.36,413.92"/>
<path d="M470.44,373.49L358.41,398.1"/>
<path d="M470.44,373.49L359.16,390.15"/>
<path d="M470.44,373.49L361.05,382.37"/>
<path d="M470.44,373.49L362.41,378.6"/>
<path d="M470.44,373.49L373.06,361.6"/>
<path d="M472.17,377.12L390.54,450.21"/>
<path d="M472.17,377.12L386.93,448.26"/>
<path d="M472.17,377.12L383.48,446.07"/>
<path d="M472.17,377.12L380.18,443.66"/>
<path d="M472.17,377.12L371.46,435.17"/>
<path d="M472.17,377.12L361.56,417.75"/>
<path d="M472.17,377.12L360.36,413.92"/>
<path d="M472.17,377.12L358.41,398.1"/>
<path d="M472.17,377.12L358.64,394.11"/>
<path d="M472.17,377.12L359.16,390.15"/>
<path d="M472.17,377.12L361.05,382.37"/>
<path d="M472.17,377.12L362.41,378.6"/>
<path d="M472.17,377.12L364.03,374.93"/>
<path d="M472.17,377.12L373.06,361.6"/>
<path d="M473.64,380.85L434.71,454.1"/>
<path d="M473.64,380.85L430.72,455.12"/>
<path d="M473.64,380.85L426.66,455.87"/>
<path d="M473.64,380.85L422.55,456.34"/>
<path d="M473.64,380.85L398.13,453.36"/>
<path d="M473.64,380.85L390.54,450.21"/>
<path d="M473.64,380.85L386.93,448.26"/>
<path d="M473.64,380.85L383.48,446.07"/>
<path d="M473.64,380.85L380.18,443.66"/>
<path d="M473.64,380.85L371.46,435.17"/>
<path d="M473.64,380.85L361.56,417.75"/>
<path d="M473.64,380.85L360.36,413.92"/>
<path d="M473.64,380.85L358.41,398.1"/>
<path d="M473.64,380.85L358.64,394.11"/>
<path d="M473.64,380.85L359.16,390.15"/>
<path d="M473.64,380.85L361.05,382.37"/>
<path d="M473.64,380.85L362.41,378.6"/>
<path d="M473.64,380.85L373.06,361.6"/>
<path d="M474.84,384.68L426.66,455.87"/>
<path d="M474.84,384.68L422.55,456.34"/>
<path d="M474.84,384.68L398.13,453.36"/>
<path d="M474.84,384.68L390.54,450.21"/>
<path d="M474.84,384.68L386.93,448.26"/>
<path d="M474.84,384.68L383.48,446.07"/>
<path d="M474.84,384.68L380.18,443.66"/>
<path d="M474.84,384.68L371.46,435.17"/>
<path d="M474.84,384.68L361.56,417.75"/>
<path d="M474.84,384.68L360.36,413.92"/>
<path d="M474.84,384.68L358.41,398.1"/>
<path d="M474.84,384.68L358.64,394.11"/>
<path d="M474.84,384.68L359.16,390.15"/>
<path d="M474.84,384.68L361.05,382.37"/>
<path d="M474.84,384.68L362.41,378.6"/>
<path d="M474.84,384.68L364.03,374.93"/>
<path d="M474.84,384.68L373.06,361.6"/>
<path d="M476.38,392.52L398.13,453.36"/>
<path d="M476.38,392.52L390.54,450.21"/>
<path d="M476.38,392.52L386.93,448.26"/>
<path d="M476.38,392.52L383.48,446.07"/>
<path d="M476.38,392.52L380.18,443.66"/>
<path d="M476.38,392.52L371.46,435.17"/>
<path d="M476.38,392.52L361.56,417.75"/>
<path d="M476.38,392.52L360.36,413.92"/>
<path d="M476.38,392.52L358.41,398.1"/>
<path d="M476.38,392.52L358.64,394.11"/>
<path d="M476.38,392.52L359.16,390.15"/>
<path d="M476.38,392.52L361.05,382.37"/>
<path d="M476.38,392.52L362.41,378.6"/>
<path d="M476.38,392.52L364.03,374.93"/>
<path d="M476.38,392.52L373.06,361.6"/>
<path d="M476.56,404.49L386.93,448.26"/>
<path d="M476.56,404.49L383.48,446.07"/>
<path d="M476.56,404.49L380.18,443.66"/>
<path d="M476.56,404.49L371.46,435.17"/>
<path d="M476.56,404.49L361.56,417.75"/>
<path d="M476.56,404.49L360.36,413.92"/>
<path d="M476.56,404.49L358.41,398.1"/>
<path d="M476.56,404.49L358.64,394.11"/>
<path d="M476.56,404.49L359.16,390.15"/>
<path d="M476.56,404.49L361.05,382.37"/>
<path d="M476.56,404.49L362.41,378.6"/>
<path d="M476.56,404.49L364.03,374.93"/>
<path d="M476.56,404.49L373.06,361.6"/>
<path d="M476.56,404.49L378.92,355.97"/>
<path d="M476.56,404.49L396.58,345.79"/>
<path d="M476.56,404.49L400.49,344.5"/>
<path d="M476.04,408.45L398.13,453.36"/>
<path d="M476.04,408.45L390.54,450.21"/>
<path d="M476.04,408.45L386.93,448.26"/>
<path d="M476.04,408.45L383.48,446.07"/>
<path d="M476.04,408.45L380.18,443.66"/>
<path d="M476.04,408.45L371.46,435.17"/>
<path d="M476.04,408.45L361.56,417.75"/>
<path d="M476.04,408.45L360.36,413.92"/>
<path d="M476.04,408.45L358.41,398.1"/>
<path d="M476.04,408.45L358.64,394.11"/>
<path d="M476.04,408.45L359.16,390.15"/>
<path d="M476.04,408.45L361.05,382.37"/>
<path d="M476.04,408.45L362.41,378.6"/>
<path d="M476.04,408.45L364.03,374.93"/>
<path d="M476.04,408.45L373.06,361.6"/>
<path d="M476.04,408.45L378.92,355.97"/>
<path d="M476.04,408.45L396.58,345.79"/>
<path d="M476.04,408.45L400.49,344.5"/>
<path d="M476.04,408.45L404.48,343.48"/>
<path d="M475.24,412.37L380.18,443.66"/>
<path d="M475.24,412.37L361.56,417.75"/>
<path d="M475.24,412.37L360.36,413.92"/>
<path d="M475.24,412.37L358.41,398.1"/>
<path d="M475.24,412.37L358.64,394.11"/>
<path d="M475.24,412.37L359.16,390.15"/>
<path d="M475.24,412.37L361.05,382.37"/>
<path d="M475.24,412.37L362.41,378.6"/>
<path d="M475.24,412.37L364.03,374.93"/>
<path d="M475.24,412.37L373.06,361.6"/>
<path d="M475.24,412.37L378.92,355.97"/>
<path d="M475.24,412.37L389.08,349.14"/>
<path d="M475.24,412.37L392.77,347.34"/>
<path d="M475.24,412.37L396.58,345.79"/>
<path d="M475.24,412.37L400.49,344.5"/>
<path d="M475.24,412.37L404.48,343.48"/>
<path d="M475.24,412.37L408.54,342.73"/>
<path d="M474.15,416.23L380.18,443.66"/>
<path d="M474.15,416.23L361.56,417.75"/>
<path d="M474.15,416.23L360.36,413.92"/>
<path d="M474.15,416.23L358.41,398.1"/>
<path d="M474.15,416.23L358.64,394.11"/>
<path d="M474.15,416.23L359.16,390.15"/>
<path d="M474.15,416.23L361.05,382.37"/>
<path d="M474.15,416.23L362.41,378.6"/>
<path d="M474.15,416.23L364.03,374.93"/>
<path d="M474.15,416.23L373.06,361.6"/>
<path d="M474.15,416.23L378.92,355.97"/>
<path d="M474.15,416.23L389.08,349.14"/>
<path d="M474.15,416.23L392.77,347.34"/>
<path d="M474.15,416.23L396.58,345.79"/>
<path d="M474.15,416.23L400.49,344.5"/>
<path d="M474.15,416.23L404.48,343.48"/>
<path d="M474.15,416.23L408.54,342.73"/>
<path d="M471.17,423.67L361.56,417.75"/>
<path d="M471.17,423.67L360.36,413.92"/>
<path d="M471.17,423.67L358.41,398.1"/>
<path d="M471.17,423.67L358.64,394.11"/>
<path d="M471.17,423.67L359.16,390.15"/>
<path d="M471.17,423.67L361.05,382.37"/>
<path d="M471.17,423.67L362.41,378.6"/>
<path d="M471.17,423.67L364.03,374.93"/>
<path d="M471.17,423.67L373.06,361.6"/>
<path d="M471.17,423.67L378.92,355.97"/>
<path d="M471.17,423.67L389.08,349.14"/>
<path d="M471.17,423.67L392.77,347.34"/>
<path d="M471.17,423.67L396.58,345.79"/>
<path d="M471.17,423.67L400.49,344.5"/>
<path d="M471.17,423.67L404.48,343.48"/>
<path d="M471.17,423.67L408.54,342.73"/>
<path d="M467.14,430.64L361.56,417.75"/>
<path d="M467.14,430.64L360.36,413.92"/>
<path d="M467.14,430.64L358.41,398.1"/>
<path d="M467.14,430.64L358.64,394.11"/>
<path d="M467.14,430.64L359.16,390.15"/>
<path d="M467.14,430.64L361.05,382.37"/>
<path d="M467.14,430.64L362.41,378.6"/>
<path d="M467.14,430.64L364.03,374.93"/>
<path d="M467.14,430.64L373.06,361.6"/>
<path d="M467.14,430.64L378.92,355.97"/>
<path d="M467.14,430.64L389.08,349.14"/>
<path d="M467.14,430.64L392.77,347.34"/>
<path d="M467.14,430.64L396.58,345.79"/>
<path d="M467.14,430.64L400.49,344.5"/>
<path d="M467.14,430.64L404.48,343.48"/>
<path d="M467.14,430.64L408.54,342.73"/>
<path d="M464.75,433.91L361.56,417.75"/>
<path d="M464.75,433.91L360.36,413.92"/>
<path d="M464.75,433.91L358.41,398.1"/>
<path d="M464.75,433.91L358.64,394.11"/>
<path d="M464.75,433.91L359.16,390.15"/>
<path d="M464.75,433.91L361.05,382.37"/>
<path d="M464.75,433.91L362.41,378.6"/>
<path d="M464.75,433.91L364.03,374.93"/>
<path d="M464.75,433.91L373.06,361.6"/>
<path d="M464.75,433.91L378.92,355.97"/>
<path d="M464.75,433.91L389.08,349.14"/>
<path d="M464.75,433.91L392.77,347.34"/>
<path d="M464.75,433.91L396.58,345.79"/>
<path d="M464.75,433.91L400.49,344.5"/>
<path d="M464.75,433.91L404.48,343.48"/>
<path d="M464.75,433.91L408.54,342.73"/>
<path d="M459.31,439.92L361.56,417.75"/>
<path d="M459.31,439.92L360.36,413.92"/>
<path d="M459.31,439.92L358.64,394.11"/>
<path d="M459.31,439.92L359.16,390.15"/>
<path d="M459.31,439.92L361.05,382.37"/>
<path d="M459.31,439.92L362.41,378.6"/>
<path d="M459.31,439.92L364.03,374.93"/>
<path d="M459.31,439.92L373.06,361.6"/>
<path d="M459.31,439.92L378.92,355.97"/>
<path d="M459.31,439.92L389.08,349.14"/>
<path d="M459.31,439.92L392.77,347.34"/>
<path d="M459.31,439.92L396.58,345.79"/>
<path d="M459.31,439.92L400.49,344.5"/>
<path d="M459.31,439.92L404.48,343.48"/>
<path d="M459.31,439.92L408.54,342.73"/>
<path d="M456.28,442.63L361.56,417.75"/>
<path d="M456.28,442.63L358.64,394.11"/>
<path d="M456.28,442.63L359.16,390.15"/>
<path d="M456.28,442.63L361.05,382.37"/>
<path d="M456.28,442.63L362.41,378.6"/>
<path d="M456.28,442.63L364.03,374.93"/>
<path d="M456.28,442.63L373.06,361.6"/>
<path d="M456.28,442.63L378.92,355.97"/>
<path d="M456.28,442.63L389.08,349.14"/>
<path d="M456.28,442.63L392.77,347.34"/>
<path d="M456.28,442.63L396.58,345.79"/>
<path d="M456.28,442.63L400.49,344.5"/>
<path d="M456.28,442.63L404.48,343.48"/>
<path d="M456.28,442.63L408.54,342.73"/>
<path d="M453.06,445.13L361.56,417.75"/>
<path d="M453.06,445.13L358.64,394.11"/>
<path d="M453.06,445.13L359.16,390.15"/>
<path d="M453.06,445.13L361.05,382.37"/>
<path d="M453.06,445.13L362.41,378.6"/>
<path d="M453.06,445.13L364.03,374.93"/>
<path d="M453.06,445.13L373.06,361.6"/>
<path d="M453.06,445.13L378.92,355.97"/>
<path d="M453.06,445.13L389.08,349.14"/>
<path d="M453.06,445.13L392.77,347.34"/>
<path d="M453.06,445.13L396.58,345.79"/>
<path d="M453.06,445.13L400.49,344.5"/>
<path d="M453.06,445.13L404.48,343.48"/>
<path d="M453.06,445.13L408.54,342.73"/>
<path d="M449.67,447.41L361.56,417.75"/>
<path d="M449.67,447.41L358.64,394.11"/>
<path d="M449.67,447.41L361.05,382.37"/>
<path d="M449.67,447.41L362.41,378.6"/>
<path d="M449.67,447.41L373.06,361.6"/>
<path d="M449.67,447.41L378.92,355.97"/>
<path d="M449.67,447.41L389.08,349.14"/>
<path d="M449.67,447.41L392.77,347.34"/>
<path d="M449.67,447.41L396.58,345.79"/>
<path d="M449.67,447.41L400.49,344.5"/>
<path d="M449.67,447.41L404.48,343.48"/>
<path d="M449.67,447.41L408.54,342.73"/>
<path d="M438.62,452.81L358.41,398.1"/>
<path d="M438.62,452.81L358.64,394.11"/>
<path d="M438.62,452.81L359.16,390.15"/>
<path d="M438.62,452.81L361.05,382.37"/>
<path d="M438.62,452.81L362.41,378.6"/>
<path d="M438.62,452.81L364.03,374.93"/>
<path d="M438.62,452.81L373.06,361.6"/>
<path d="M438.62,452.81L378.92,355.97"/>
<path d="M438.62,452.81L389.08,349.14"/>
<path d="M438.62,452.81L392.77,347.34"/>
<path d="M438.62,452.81L396.58,345.79"/>
<path d="M438.62,452.81L400.49,344.5"/>
<path d="M438.62,452.81L404.48,343.48"/>
<path d="M438.62,452.81L408.54,342.73"/>
<path d="M434.71,454.1L358.64,394.11"/>
<path d="M434.71,454.1L362.41,378.6"/>
<path d="M434.71,454.1L364.03,374.93"/>
<path d="M434.71,454.1L373.06,361.6"/>
<path d="M434.71,454.1L378.92,355.97"/>
<path d="M434.71,454.1L389.08,349.14"/>
<path d="M434.71,454.1L392.77,347.34"/>
<path d="M434.71,454.1L396.58,345.79"/>
<path d="M434.71,454.1L400.49,344.5"/>
<path d="M434.71,454.1L404.48,343.48"/>
<path d="M434.71,454.1L408.54,342.73"/>
<path d="M430.72,455.12L358.41,398.1"/>
<path d="M430.72,455.12L358.64,394.11"/>
<path d="M430.72,455.12L359.16,390.15"/>
<path d="M430.72,455.12L361.05,382.37"/>
<path d="M430.72,455.12L362.41,378.6"/>
<path d="M430.72,455.12L364.03,374.93"/>
<path d="M430.72,455.12L373.06,361.6"/>
<path d="M430.72,455.12L378.92,355.97"/>
<path d="M430.72,455.12L389.08,349.14"/>
<path d="M430.72,455.12L392.77,347.34"/>
<path d="M430.72,455.12L396.58,345.79"/>
<path d="M430.72,455.12L400.49,344.5"/>
<path d="M430.72,455.12L404.48,343.48"/>
<path d="M430.72,455.12L408.54,342.73"/>
<path d="M426.66,455.87L359.16,390.15"/>
<path d="M426.66,455.87L361.05,382.37"/>
<path d="M426.66,455.87L362.41,378.6"/>
<path d="M426.66,455.87L364.03,374.93"/>
<path d="M426.66,455.87L373.06,361.6"/>
<path d="M426.66,455.87L378.92,355.97"/>
<path d="M426.66,455.87L389.08,349.14"/>
<path d="M426.66,455.87L392.77,347.34"/>
<path d="M426.66,455.87L396.58,345.79"/>
<path d="M426.66,455.87L400.49,344.5"/>
<path d="M426.66,455.87L404.48,343.48"/>
<path d="M426.66,455.87L408.54,342.73"/>
<path d="M422.55,456.34L358.41,398.1"/>
<path d="M422.55,456.34L358.64,394.11"/>
<path d="M422.55,456.34L359.16,390.15"/>
<path d="M422.55,456.34L361.05,382.37"/>
<path d="M422.55,456.34L362.41,378.6"/>
<path d="M422.55,456.34L364.03,374.93"/>
<path d="M422.55,456.34L373.06,361.6"/>
<path d="M422.55,456.34L378.92,355.97"/>
<path d="M422.55,456.34L389.08,349.14"/>
<path d="M422.55,456.34L392.77,347.34"/>
<path d="M422.55,456.34L396.58,345.79"/>
<path d="M422.55,456.34L400.49,344.5"/>
<path d="M422.55,456.34L404.48,343.48"/>
<path d="M422.55,456.34L408.54,342.73"/>
<path d="M398.13,453.36L378.92,355.97"/>
<path d="M398.13,453.36L389.08,349.14"/>
<path d="M398.13,453.36L392.77,347.34"/>
<path d="M398.13,453.36L396.58,345.79"/>
<path d="M398.13,453.36L400.49,344.5"/>
<path d="M398.13,453.36L404.48,343.48"/>
<path d="M398.13,453.36L408.54,342.73"/>
<path d="M390.54,450.21L389.08,349.14"/>
<path d="M390.54,450.21L392.77,347.34"/>
<path d="M390.54,450.21L396.58,345.79"/>
<path d="M390.54,450.21L400.49,344.5"/>
<path d="M390.54,450.21L404.48,343.48"/>
<path d="M390.54,450.21L408.54,342.73"/>
<path d="M386.93,448.26L389.08,349.14"/>
<path d="M386.93,448.26L392.77,347.34"/>
<path d="M386.93,448.26L404.48,343.48"/>
<path d="M386.93,448.26L408.54,342.73"/>
<path d="M383.48,446.07L373.06,361.6"/>
<path d="M383.48,446.07L378.92,355.97"/>
<path d="M383.48,446.07L389.08,349.14"/>
<path d="M383.48,446.07L392.77,347.34"/>
<path d="M383.48,446.07L396.58,345.79"/>
<path d="M383.48,446.07L400.49,344.5"/>
<path d="M383.48,446.07L404.48,343.48"/>
<path d="M383.48,446.07L408.54,342.73"/>
<path d="M380.18,443.66L389.08,349.14"/>
<path d="M380.18,443.66L392.77,347.34"/>
<path d="M380.18,443.66L408.54,342.73"/>
<path d="M371.46,435.17L389.08,349.14"/>
<path d="M371.46,435.17L392.77,347.34"/>
<path d="M371.46,435.17L396.58,345.79"/>
<path d="M371.46,435.17L404.48,343.48"/>
<path d="M371.46,435.17L408.54,342.73"/>
</g>
<polyline points="410.3,334.94 411.45,334.82 412.61,334.73 413.77,334.65 414.93,334.6 416.09,334.56 417.25,334.55 418.41,334.55" fill="none" stroke="#f892f1" stroke-width="1.6"/>
<polyline points="419.57,334.58 420.73,334.62 421.89,334.68 423.05,334.76 424.21,334.87 425.36,334.99 426.52,335.13 427.67,335.29 428.81,335.47 429.96,335.67 431.1,335.89 432.23,336.13 433.36,336.39 434.49,336.67 435.61,336.96 436.72,337.28" fill="none" stroke="#f892f1" stroke-width="1.6"/>
<polyline points="437.83,337.61 438.94,337.97 440.03,338.34 441.12,338.73 442.21,339.14 443.28,339.56 444.35,340.01 445.41,340.47 446.46,340.95 447.5,341.45 448.54,341.97 449.56,342.5" fill="none" stroke="#f892f1" stroke-width="1.6"/>
<polyline points="450.57,343.05 451.58,343.62 452.57,344.21 453.55,344.81 454.52,345.43 455.49,346.06 456.43,346.72 457.37,347.38 458.3,348.07 459.21,348.76 460.11,349.48 461,350.21" fill="none" stroke="#f892f1" stroke-width="1.6"/>
<polyline points="461.87,350.95 462.73,351.71 463.58,352.49 464.41,353.27 465.23,354.08 466.03,354.89 466.82,355.72 467.6,356.56 468.36,357.42 469.1,358.29 469.83,359.17 470.54,360.06 471.23,360.97 471.91,361.88 472.58,362.81 473.22,363.75" fill="none" stroke="#f892f1" stroke-width="1.6"/>
<polyline points="473.85,364.7 474.46,365.66 475.06,366.63 475.64,367.61 476.2,368.6 476.74,369.6 477.26,370.61 477.77,371.63 478.25,372.65 478.72,373.69 479.17,374.73 479.6,375.78" fill="none" stroke="#f892f1" stroke-width="1.6"/>
<polyline points="480.02,376.83 480.41,377.9 480.78,378.97 481.14,380.04 481.47,381.13 481.79,382.21 482.09,383.31 482.36,384.4 482.62,385.51 482.86,386.61 483.08,387.72 483.27,388.84" fill="none" stroke="#f892f1" stroke-width="1.6"/>
<polyline points="483.45,389.95 483.61,391.07 483.75,392.19 483.87,393.32 483.96,394.44 484.04,395.57 484.1,396.7 484.13,397.83 484.15,398.96 484.14,400.09 484.12,401.22 484.08,402.35" fill="none" stroke="#f892f1" stroke-width="1.6"/>
<polyline points="484.01,403.48 483.93,404.61 483.82,405.73 483.7,406.85 483.55,407.98 483.38,409.09 483.2,410.21 482.99,411.32" fill="none" stroke="#f892f1" stroke-width="1.6"/>
<polyline points="482.77,412.43 482.52,413.54 482.26,414.64 481.97,415.73 481.67,416.82 481.34,417.91 481,418.99 480.64,420.06 480.25,421.13 479.85,422.19 479.43,423.24 478.99,424.29" fill="none" stroke="#f892f1" stroke-width="1.6"/>
<polyline points="478.54,425.33 478.06,426.36 477.57,427.38 477.05,428.39 476.52,429.4 475.97,430.4 475.41,431.38 474.82,432.36 474.22,433.33 473.6,434.28 472.97,435.23 472.31,436.16" fill="none" stroke="#f892f1" stroke-width="1.6"/>
<polyline points="471.64,437.09 470.89,438.09 470.11,439.08 469.32,440.05 468.51,441.01 467.67,441.95 466.82,442.88 465.95,443.79 465.07,444.69 464.16,445.56 463.24,446.43" fill="none" stroke="#f892f1" stroke-width="1.6"/>
<polyline points="462.39,447.19 461.52,447.95 460.64,448.68 459.75,449.41 458.85,450.12 457.93,450.81 457,451.49 456.06,452.15 455.1,452.79 454.14,453.42 453.16,454.03 452.17,454.63" fill="none" stroke="#f892f1" stroke-width="1.6"/>
<polyline points="451.18,455.21 450.17,455.77 449.15,456.31 448.12,456.84 447.09,457.35 446.04,457.84 444.99,458.32 443.92,458.77 442.85,459.21 441.77,459.63 440.69,460.03 439.6,460.41" fill="none" stroke="#f892f1" stroke-width="1.6"/>
<polyline points="438.5,460.78 437.39,461.12 436.28,461.45 435.16,461.76 434.04,462.05 432.91,462.32 431.78,462.57 430.64,462.8 429.5,463.01 428.35,463.2 427.21,463.37 426.06,463.53" fill="none" stroke="#f892f1" stroke-width="1.6"/>
<polyline points="424.9,463.66 423.75,463.78 422.59,463.87 421.43,463.95 420.27,464 419.11,464.04 417.95,464.05 416.79,464.05 415.63,464.02 414.47,463.98 413.31,463.92 412.15,463.84" fill="none" stroke="#f892f1" stroke-width="1.6"/>
<polyline points="410.99,463.73 409.84,463.61 408.68,463.47 407.53,463.31 406.39,463.13 405.24,462.93 404.1,462.71 402.97,462.47 401.84,462.21 400.71,461.93 399.59,461.64 398.48,461.32" fill="none" stroke="#f892f1" stroke-width="1.6"/>
<polyline points="397.37,460.99 396.26,460.63 395.17,460.26 394.08,459.87 392.99,459.46 391.92,459.04 390.85,458.59 389.79,458.13 388.74,457.65 387.7,457.15 386.66,456.63 385.64,456.1" fill="none" stroke="#f892f1" stroke-width="1.6"/>
<polyline points="384.63,455.55 383.62,454.98 382.63,454.39 381.65,453.79 380.68,453.17 379.71,452.54 378.77,451.88 377.83,451.22 376.9,450.53 375.99,449.84 375.09,449.12 374.2,448.39" fill="none" stroke="#f892f1" stroke-width="1.6"/>
<polyline points="373.33,447.65 372.47,446.89 371.62,446.11 370.79,445.33 369.97,444.52 369.17,443.71 368.38,442.88 367.6,442.04 366.84,441.18 366.1,440.31 365.37,439.43 364.66,438.54" fill="none" stroke="#f892f1" stroke-width="1.6"/>
<polyline points="363.97,437.63 363.29,436.72 362.62,435.79 361.98,434.85 361.35,433.9 360.74,432.94 360.14,431.97 359.56,430.99 359,430 358.46,429 357.94,427.99 357.43,426.97 356.95,425.95 356.48,424.91 356.03,423.87 355.6,422.82" fill="none" stroke="#f892f1" stroke-width="1.6"/>
<polyline points="355.18,421.77 354.79,420.7 354.42,419.63 354.06,418.56 353.73,417.47 353.41,416.39 353.11,415.29 352.84,414.2 352.58,413.09 352.34,411.99 352.12,410.88 351.93,409.76" fill="none" stroke="#f892f1" stroke-width="1.6"/>
<polyline points="351.75,408.65 351.59,407.53 351.45,406.41 351.33,405.28 351.24,404.16 351.16,403.03 351.1,401.9 351.07,400.77 351.05,399.64 351.06,398.51 351.08,397.38 351.12,396.25" fill="none" stroke="#f892f1" stroke-width="1.6"/>
<polyline points="351.19,395.12 351.27,393.99 351.38,392.87 351.5,391.75 351.65,390.62 351.82,389.51 352,388.39 352.21,387.28 352.43,386.17 352.68,385.06 352.94,383.96 353.23,382.87" fill="none" stroke="#f892f1" stroke-width="1.6"/>
<polyline points="353.53,381.78 353.86,380.69 354.2,379.61 354.56,378.54 354.95,377.47 355.35,376.41 355.77,375.36 356.21,374.31 356.66,373.27 357.14,372.24 357.63,371.22 358.15,370.21" fill="none" stroke="#f892f1" stroke-width="1.6"/>
<polyline points="358.68,369.2 359.23,368.2 359.79,367.22 360.38,366.24 360.98,365.27 361.6,364.32 362.23,363.37 362.89,362.44 363.56,361.51 364.24,360.6 364.94,359.7 365.66,358.81" fill="none" stroke="#f892f1" stroke-width="1.6"/>
<polyline points="366.4,357.94 367.15,357.07 367.91,356.22 368.69,355.39 369.49,354.56 370.3,353.75 371.12,352.96 371.96,352.17 372.81,351.41 373.68,350.65 374.56,349.92 375.45,349.19" fill="none" stroke="#f892f1" stroke-width="1.6"/>
<polyline points="376.35,348.48 377.27,347.79 378.2,347.11 379.14,346.45 380.1,345.81 381.06,345.18 382.04,344.57 383.03,343.97 384.02,343.39 385.03,342.83 386.05,342.29 387.08,341.76" fill="none" stroke="#f892f1" stroke-width="1.6"/>
<polyline points="388.11,341.25 389.16,340.76 390.21,340.28 391.28,339.83 392.35,339.39 393.43,338.97 394.51,338.57 395.6,338.19" fill="none" stroke="#f892f1" stroke-width="1.6"/>
<polyline points="396.7,337.82 397.81,337.48 398.92,337.15 400.04,336.84 401.16,336.55 402.29,336.28 403.42,336.03 404.56,335.8 405.7,335.59 406.85,335.4 407.99,335.23 409.14,335.07" fill="none" stroke="#f892f1" stroke-width="1.6"/>
<circle cx="412.31" cy="338.27" r="1.25" fill="#3b9a22"/>
<circle cx="416.72" cy="338.07" r="1.25" fill="#2b1cff"/>
<circle cx="421.13" cy="338.15" r="1.25" fill="#3b9a22"/>
<circle cx="425.52" cy="338.54" r="1.25" fill="#3b9a22"/>
<circle cx="429.88" cy="339.23" r="1.25" fill="#3b9a22"/>
<circle cx="434.17" cy="340.2" r="1.25" fill="#2b1cff"/>
<circle cx="438.38" cy="341.47" r="1.25" fill="#2b1cff"/>
<circle cx="442.5" cy="343.01" r="1.25" fill="#2b1cff"/>
<circle cx="446.49" cy="344.83" r="1.25" fill="#cfcfcf"/>
<circle cx="450.34" cy="346.92" r="1.25" fill="#3b9a22"/>
<circle cx="454.03" cy="349.26" r="1.25" fill="#000000"/>
<circle cx="457.54" cy="351.84" r="1.25" fill="#000000"/>
<circle cx="460.86" cy="354.66" r="1.25" fill="#2b1cff"/>
<circle cx="463.97" cy="357.69" r="1.25" fill="#cfcfcf"/>
<circle cx="466.85" cy="360.93" r="1.25" fill="#cfcfcf"/>
<circle cx="469.5" cy="364.35" r="1.25" fill="#2b1cff"/>
<circle cx="471.89" cy="367.94" r="1.25" fill="#2b1cff"/>
<circle cx="474.01" cy="371.69" r="1.25" fill="#2b1cff"/>
<circle cx="475.86" cy="375.57" r="1.25" fill="#2b1cff"/>
<circle cx="477.43" cy="379.56" r="1.25" fill="#3b9a22"/>
<circle cx="478.7" cy="383.66" r="1.25" fill="#3b9a22"/>
<circle cx="479.68" cy="387.82" r="1.25" fill="#000000"/>
<circle cx="480.36" cy="392.05" r="1.25" fill="#3b9a22"/>
<circle cx="480.72" cy="396.31" r="1.25" fill="#3b9a22"/>
<circle cx="480.79" cy="400.58" r="1.25" fill="#2b1cff"/>
<circle cx="480.54" cy="404.85" r="1.25" fill="#2b1cff"/>
<circle cx="479.99" cy="409.09" r="1.25" fill="#cfcfcf"/>
<circle cx="479.13" cy="413.28" r="1.25" fill="#2b1cff"/>
<circle cx="477.97" cy="417.41" r="1.25" fill="#2b1cff"/>
<circle cx="476.52" cy="421.45" r="1.25" fill="#2b1cff"/>
<circle cx="474.79" cy="425.38" r="1.25" fill="#3b9a22"/>
<circle cx="472.77" cy="429.18" r="1.25" fill="#3b9a22"/>
<circle cx="470.48" cy="432.83" r="1.25" fill="#cfcfcf"/>
<circle cx="467.94" cy="436.33" r="1.25" fill="#cfcfcf"/>
<circle cx="465.15" cy="439.64" r="1.25" fill="#3b9a22"/>
<circle cx="462.13" cy="442.75" r="1.25" fill="#3b9a22"/>
<circle cx="458.9" cy="445.66" r="1.25" fill="#cfcfcf"/>
<circle cx="455.46" cy="448.34" r="1.25" fill="#cfcfcf"/>
<circle cx="451.84" cy="450.78" r="1.25" fill="#3b9a22"/>
<circle cx="448.05" cy="452.97" r="1.25" fill="#000000"/>
<circle cx="444.11" cy="454.89" r="1.25" fill="#2b1cff"/>
<circle cx="440.04" cy="456.55" r="1.25" fill="#2b1cff"/>
<circle cx="435.87" cy="457.93" r="1.25" fill="#2b1cff"/>
<circle cx="431.6" cy="459.02" r="1.25" fill="#2b1cff"/>
<circle cx="427.27" cy="459.82" r="1.25" fill="#2b1cff"/>
<circle cx="422.89" cy="460.33" r="1.25" fill="#cfcfcf"/>
<circle cx="418.48" cy="460.53" r="1.25" fill="#cfcfcf"/>
<circle cx="414.07" cy="460.45" r="1.25" fill="#cfcfcf"/>
<circle cx="409.68" cy="460.06" r="1.25" fill="#000000"/>
<circle cx="405.32" cy="459.37" r="1.25" fill="#cfcfcf"/>
<circle cx="401.03" cy="458.4" r="1.25" fill="#000000"/>
<circle cx="396.82" cy="457.13" r="1.25" fill="#2b1cff"/>
<circle cx="392.7" cy="455.59" r="1.25" fill="#000000"/>
<circle cx="388.71" cy="453.77" r="1.25" fill="#cfcfcf"/>
<circle cx="384.86" cy="451.68" r="1.25" fill="#2b1cff"/>
<circle cx="381.17" cy="449.34" r="1.25" fill="#2b1cff"/>
<circle cx="377.66" cy="446.76" r="1.25" fill="#2b1cff"/>
<circle cx="374.34" cy="443.94" r="1.25" fill="#000000"/>
<circle cx="371.23" cy="440.91" r="1.25" fill="#3b9a22"/>
<circle cx="368.35" cy="437.67" r="1.25" fill="#2b1cff"/>
<circle cx="365.7" cy="434.25" r="1.25" fill="#000000"/>
<circle cx="363.31" cy="430.66" r="1.25" fill="#000000"/>
<circle cx="361.19" cy="426.91" r="1.25" fill="#000000"/>
<circle cx="359.34" cy="423.03" r="1.25" fill="#000000"/>
<circle cx="357.77" cy="419.04" r="1.25" fill="#2b1cff"/>
<circle cx="356.5" cy="414.94" r="1.25" fill="#cfcfcf"/>
<circle cx="355.52" cy="410.78" r="1.25" fill="#000000"/>
<circle cx="354.84" cy="406.55" r="1.25" fill="#000000"/>
<circle cx="354.48" cy="402.29" r="1.25" fill="#000000"/>
<circle cx="354.41" cy="398.02" r="1.25" fill="#cfcfcf"/>
<circle cx="354.66" cy="393.75" r="1.25" fill="#3b9a22"/>
<circle cx="355.21" cy="389.51" r="1.25" fill="#2b1cff"/>
<circle cx="356.07" cy="385.32" r="1.25" fill="#000000"/>
<circle cx="357.23" cy="381.19" r="1.25" fill="#3b9a22"/>
<circle cx="358.68" cy="377.15" r="1.25" fill="#3b9a22"/>
<circle cx="360.41" cy="373.22" r="1.25" fill="#3b9a22"/>
<circle cx="362.43" cy="369.42" r="1.25" fill="#000000"/>
<circle cx="364.72" cy="365.77" r="1.25" fill="#000000"/>
<circle cx="367.26" cy="362.27" r="1.25" fill="#000000"/>
<circle cx="370.05" cy="358.96" r="1.25" fill="#2b1cff"/>
<circle cx="373.07" cy="355.85" r="1.25" fill="#000000"/>
<circle cx="376.3" cy="352.94" r="1.25" fill="#cfcfcf"/>
<circle cx="379.74" cy="350.26" r="1.25" fill="#000000"/>
<circle cx="383.36" cy="347.82" r="1.25" fill="#000000"/>
<circle cx="387.15" cy="345.63" r="1.25" fill="#2b1cff"/>
<circle cx="391.09" cy="343.71" r="1.25" fill="#2b1cff"/>
<circle cx="395.16" cy="342.05" r="1.25" fill="#cfcfcf"/>
<circle cx="399.33" cy="340.67" r="1.25" fill="#2b1cff"/>
<circle cx="403.6" cy="339.58" r="1.25" fill="#2b1cff"/>
<circle cx="407.93" cy="338.78" r="1.25" fill="#cfcfcf"/>
<g font-size="4.5" font-weight="bold">
<text transform="translate(411.81,332.18) rotate(109.2) scale(0.8,1)" dy="0.35em" text-anchor="end" fill="#44a02c">N1076G</text>
<text transform="translate(416.63,331.95) rotate(113.2) scale(0.8,1)" dy="0.35em" text-anchor="end" fill="#3326ff">N1076R</text>
<text transform="translate(421.46,332.05) rotate(-62.8) scale(0.8,1)" dy="0.35em" fill="#44a02c">D1077F</text>
<text transform="translate(426.27,332.48) rotate(-58.8) scale(0.8,1)" dy="0.35em" fill="#44a02c">D1077G</text>
<text transform="translate(431.03,333.23) rotate(-54.8) scale(0.8,1)" dy="0.35em" fill="#44a02c">D1077Q</text>
<text transform="translate(435.73,334.3) rotate(-50.8) scale(0.8,1)" dy="0.35em" fill="#3326ff">D1077E</text>
<text transform="translate(440.34,335.69) rotate(-46.8) scale(0.8,1)" dy="0.35em" fill="#3326ff">V1078I</text>
<text transform="translate(444.84,337.39) rotate(-42.8) scale(0.8,1)" dy="0.35em" fill="#3326ff">V1078D</text>
<text transform="translate(449.21,339.4) rotate(-38.8) scale(0.8,1)" dy="0.35em" fill="#c4c4c4">V1078E</text>
<text transform="translate(453.42,341.69) rotate(-34.8) scale(0.8,1)" dy="0.35em" fill="#44a02c">R1079S</text>
<text transform="translate(457.46,344.26) rotate(-30.8) scale(0.8,1)" dy="0.35em" fill="#111111">R1079E</text>
<text transform="translate(461.3,347.11) rotate(-26.8) scale(0.8,1)" dy="0.35em" fill="#111111">R1079K</text>
<text transform="translate(464.94,350.2) rotate(-22.8) scale(0.8,1)" dy="0.35em" fill="#3326ff">E1080S</text>
<text transform="translate(468.34,353.54) rotate(-18.8) scale(0.8,1)" dy="0.35em" fill="#c4c4c4">E1080D</text>
<text transform="translate(471.49,357.1) rotate(-14.8) scale(0.8,1)" dy="0.35em" fill="#c4c4c4">E1080G</text>
<text transform="translate(474.38,360.86) rotate(-10.8) scale(0.8,1)" dy="0.35em" fill="#3326ff">E1080L</text>
<text transform="translate(477,364.81) rotate(-6.8) scale(0.8,1)" dy="0.35em" fill="#3326ff">D1081R</text>
<text transform="translate(479.32,368.93) rotate(-2.8) scale(0.8,1)" dy="0.35em" fill="#3326ff">D1081E</text>
<text transform="translate(481.35,373.2) rotate(1.2) scale(0.8,1)" dy="0.35em" fill="#3326ff">D1081L</text>
<text transform="translate(483.06,377.59) rotate(5.2) scale(0.8,1)" dy="0.35em" fill="#44a02c">D1082H</text>
<text transform="translate(484.46,382.1) rotate(9.2) scale(0.8,1)" dy="0.35em" fill="#44a02c">D1082N</text>
<text transform="translate(485.52,386.68) rotate(13.2) scale(0.8,1)" dy="0.35em" fill="#111111">D1082S</text>
<text transform="translate(486.26,391.33) rotate(17.2) scale(0.8,1)" dy="0.35em" fill="#44a02c">G1083F</text>
<text transform="translate(486.67,396.01) rotate(21.2) scale(0.8,1)" dy="0.35em" fill="#44a02c">G1083N</text>
<text transform="translate(486.73,400.71) rotate(25.2) scale(0.8,1)" dy="0.35em" fill="#3326ff">G1083I</text>
<text transform="translate(486.47,405.4) rotate(29.2) scale(0.8,1)" dy="0.35em" fill="#3326ff">F1084K</text>
<text transform="translate(485.86,410.07) rotate(33.2) scale(0.8,1)" dy="0.35em" fill="#c4c4c4">F1084Q</text>
<text transform="translate(484.92,414.68) rotate(37.2) scale(0.8,1)" dy="0.35em" fill="#3326ff">F1085E</text>
<text transform="translate(483.66,419.22) rotate(41.2) scale(0.8,1)" dy="0.35em" fill="#3326ff">F1085D</text>
<text transform="translate(482.07,423.66) rotate(45.2) scale(0.8,1)" dy="0.35em" fill="#3326ff">F1085K</text>
<text transform="translate(480.17,427.98) rotate(49.2) scale(0.8,1)" dy="0.35em" fill="#44a02c">T1086R</text>
<text transform="translate(477.96,432.16) rotate(53.2) scale(0.8,1)" dy="0.35em" fill="#44a02c">T1086N</text>
<text transform="translate(475.46,436.18) rotate(57.2) scale(0.8,1)" dy="0.35em" fill="#c4c4c4">T1086S</text>
<text transform="translate(472.68,440.02) rotate(61.2) scale(0.8,1)" dy="0.35em" fill="#c4c4c4">S1087P</text>
<text transform="translate(469.63,443.66) rotate(65.2) scale(0.8,1)" dy="0.35em" fill="#44a02c">S1087M</text>
<text transform="translate(466.33,447.09) rotate(69.2) scale(0.8,1)" dy="0.35em" fill="#44a02c">S1087K</text>
<text transform="translate(462.78,450.29) rotate(73.2) scale(0.8,1)" dy="0.35em" fill="#c4c4c4">H1088L</text>
<text transform="translate(459.02,453.23) rotate(77.2) scale(0.8,1)" dy="0.35em" fill="#c4c4c4">H1088E</text>
<text transform="translate(455.06,455.91) rotate(81.2) scale(0.8,1)" dy="0.35em" fill="#44a02c">H1088N</text>
<text transform="translate(450.91,458.32) rotate(85.2) scale(0.8,1)" dy="0.35em" fill="#111111">V1089T</text>
<text transform="translate(446.6,460.44) rotate(89.2) scale(0.8,1)" dy="0.35em" fill="#3326ff">V1089N</text>
<text transform="translate(442.16,462.26) rotate(93.2) scale(0.8,1)" dy="0.35em" fill="#3326ff">V1089S</text>
<text transform="translate(437.59,463.78) rotate(97.2) scale(0.8,1)" dy="0.35em" fill="#3326ff">M1090E</text>
<text transform="translate(432.92,464.98) rotate(101.2) scale(0.8,1)" dy="0.35em" fill="#3326ff">M1090F</text>
<text transform="translate(428.18,465.86) rotate(105.2) scale(0.8,1)" dy="0.35em" fill="#3326ff">M1090Y</text>
<text transform="translate(423.39,466.42) rotate(109.2) scale(0.8,1)" dy="0.35em" fill="#c4c4c4">R1091H</text>
<text transform="translate(418.57,466.65) rotate(113.2) scale(0.8,1)" dy="0.35em" fill="#c4c4c4">R1091N</text>
<text transform="translate(413.74,466.55) rotate(297.2) scale(0.8,1)" dy="0.35em" text-anchor="end" fill="#c4c4c4">R1091G</text>
<text transform="translate(408.93,466.12) rotate(301.2) scale(0.8,1)" dy="0.35em" text-anchor="end" fill="#111111">T1092R</text>
<text transform="translate(404.17,465.37) rotate(305.2) scale(0.8,1)" dy="0.35em" text-anchor="end" fill="#c4c4c4">T1092D</text>
<text transform="translate(399.47,464.3) rotate(309.2) scale(0.8,1)" dy="0.35em" text-anchor="end" fill="#111111">T1092E</text>
<text transform="translate(394.86,462.91) rotate(313.2) scale(0.8,1)" dy="0.35em" text-anchor="end" fill="#3326ff">Y1093N</text>
<text transform="translate(390.36,461.21) rotate(317.2) scale(0.8,1)" dy="0.35em" text-anchor="end" fill="#111111">Y1093N</text>
<text transform="translate(385.99,459.2) rotate(321.2) scale(0.8,1)" dy="0.35em" text-anchor="end" fill="#c4c4c4">Y1093P</text>
<text transform="translate(381.78,456.91) rotate(325.2) scale(0.8,1)" dy="0.35em" text-anchor="end" fill="#3326ff">T1094S</text>
<text transform="translate(377.74,454.34) rotate(329.2) scale(0.8,1)" dy="0.35em" text-anchor="end" fill="#3326ff">T1094E</text>
<text transform="translate(373.9,451.49) rotate(333.2) scale(0.8,1)" dy="0.35em" text-anchor="end" fill="#3326ff">T1094E</text>
<text transform="translate(370.26,448.4) rotate(337.2) scale(0.8,1)" dy="0.35em" text-anchor="end" fill="#111111">L1095V</text>
<text transform="translate(366.86,445.06) rotate(341.2) scale(0.8,1)" dy="0.35em" text-anchor="end" fill="#44a02c">L1095E</text>
<text transform="translate(363.71,441.5) rotate(345.2) scale(0.8,1)" dy="0.35em" text-anchor="end" fill="#3326ff">L1095D</text>
<text transform="translate(360.82,437.74) rotate(349.2) scale(0.8,1)" dy="0.35em" text-anchor="end" fill="#111111">M1096T</text>
<text transform="translate(358.2,433.79) rotate(353.2) scale(0.8,1)" dy="0.35em" text-anchor="end" fill="#111111">M1096N</text>
<text transform="translate(355.88,429.67) rotate(357.2) scale(0.8,1)" dy="0.35em" text-anchor="end" fill="#111111">M1096R</text>
<text transform="translate(353.85,425.4) rotate(361.2) scale(0.8,1)" dy="0.35em" text-anchor="end" fill="#111111">M1096Q</text>
<text transform="translate(352.14,421.01) rotate(365.2) scale(0.8,1)" dy="0.35em" text-anchor="end" fill="#3326ff">A1097T</text>
<text transform="translate(350.74,416.5) rotate(369.2) scale(0.8,1)" dy="0.35em" text-anchor="end" fill="#c4c4c4">A1097Q</text>
<text transform="translate(349.68,411.92) rotate(373.2) scale(0.8,1)" dy="0.35em" text-anchor="end" fill="#111111">A1097I</text>
<text transform="translate(348.94,407.27) rotate(377.2) scale(0.8,1)" dy="0.35em" text-anchor="end" fill="#111111">F1098V</text>
<text transform="translate(348.53,402.59) rotate(381.2) scale(0.8,1)" dy="0.35em" text-anchor="end" fill="#111111">F1098D</text>
<text transform="translate(348.47,397.89) rotate(385.2) scale(0.8,1)" dy="0.35em" text-anchor="end" fill="#c4c4c4">F1098K</text>
<text transform="translate(348.73,393.2) rotate(389.2) scale(0.8,1)" dy="0.35em" text-anchor="end" fill="#44a02c">M1099G</text>
<text transform="translate(349.34,388.53) rotate(393.2) scale(0.8,1)" dy="0.35em" text-anchor="end" fill="#3326ff">M1099K</text>
<text transform="translate(350.28,383.92) rotate(397.2) scale(0.8,1)" dy="0.35em" text-anchor="end" fill="#111111">M1099R</text>
<text transform="translate(351.54,379.38) rotate(401.2) scale(0.8,1)" dy="0.35em" text-anchor="end" fill="#44a02c">Q1100V</text>
<text transform="translate(353.13,374.94) rotate(405.2) scale(0.8,1)" dy="0.35em" text-anchor="end" fill="#44a02c">Q1100E</text>
<text transform="translate(355.03,370.62) rotate(409.2) scale(0.8,1)" dy="0.35em" text-anchor="end" fill="#44a02c">Q1100H</text>
<text transform="translate(357.24,366.44) rotate(413.2) scale(0.8,1)" dy="0.35em" text-anchor="end" fill="#111111">S1101Q</text>
<text transform="translate(359.74,362.42) rotate(417.2) scale(0.8,1)" dy="0.35em" text-anchor="end" fill="#111111">S1101L</text>
<text transform="translate(362.52,358.58) rotate(421.2) scale(0.8,1)" dy="0.35em" text-anchor="end" fill="#111111">S1101G</text>
<text transform="translate(365.57,354.94) rotate(425.2) scale(0.8,1)" dy="0.35em" text-anchor="end" fill="#3326ff">R1102L</text>
<text transform="translate(368.87,351.51) rotate(429.2) scale(0.8,1)" dy="0.35em" text-anchor="end" fill="#111111">R1102S</text>
<text transform="translate(372.42,348.31) rotate(433.2) scale(0.8,1)" dy="0.35em" text-anchor="end" fill="#c4c4c4">R1102P</text>
<text transform="translate(376.18,345.37) rotate(437.2) scale(0.8,1)" dy="0.35em" text-anchor="end" fill="#111111">Q1103K</text>
<text transform="translate(380.14,342.69) rotate(441.2) scale(0.8,1)" dy="0.35em" text-anchor="end" fill="#111111">Q1103G</text>
<text transform="translate(384.29,340.28) rotate(445.2) scale(0.8,1)" dy="0.35em" text-anchor="end" fill="#3326ff">Q1103E</text>
<text transform="translate(388.6,338.16) rotate(449.2) scale(0.8,1)" dy="0.35em" text-anchor="end" fill="#3326ff">H1104G</text>
<text transform="translate(393.04,336.34) rotate(453.2) scale(0.8,1)" dy="0.35em" text-anchor="end" fill="#c4c4c4">H1104L</text>
<text transform="translate(397.61,334.82) rotate(457.2) scale(0.8,1)" dy="0.35em" text-anchor="end" fill="#3326ff">K1105A</text>
<text transform="translate(402.28,333.62) rotate(461.2) scale(0.8,1)" dy="0.35em" text-anchor="end" fill="#3326ff">K1105V</text>
<text transform="translate(407.02,332.74) rotate(465.2) scale(0.8,1)" dy="0.35em" text-anchor="end" fill="#c4c4c4">K1105H</text>
</g>
<text transform="translate(362.3,336.73) rotate(-22)" font-size="10.5" font-weight="bold">TL-N</text>
<text transform="translate(386,325.04) rotate(-14)" font-size="10.5" font-weight="bold">TL-C</text>
<g stroke="#2f80ba" stroke-width="0.45" stroke-opacity="0.62" fill="none">
<path d="M592.6,342.25Q599.85,397.45 614.13,451.36"/>
<path d="M592.6,342.25Q590.85,399.43 590.13,456.64"/>
<path d="M592.6,342.25Q584.72,398.68 573.78,454.64"/>
<path d="M592.6,342.25Q577.74,395.51 555.18,446.17"/>
<path d="M592.6,342.25Q575.34,393.62 548.77,441.13"/>
<path d="M596.72,342.61Q612.17,387.24 642.87,423.77"/>
<path d="M596.72,342.61Q610.66,389.86 638.84,430.74"/>
<path d="M596.72,342.61Q604.11,396.15 621.37,447.51"/>
<path d="M596.72,342.61Q592.39,399.57 590.13,456.64"/>
<path d="M596.72,342.61Q589.3,399.4 581.88,456.19"/>
<path d="M596.72,342.61Q586.26,398.82 573.78,454.64"/>
<path d="M596.72,342.61Q573.01,389.1 538.45,428.71"/>
<path d="M596.72,342.61Q571.62,386.42 534.73,421.58"/>
<path d="M596.72,342.61Q570.28,382.13 531.15,410.13"/>
<path d="M596.72,342.61Q569.91,379.15 530.17,402.2"/>
<path d="M596.72,342.61Q569.97,376.16 530.34,394.21"/>
<path d="M604.82,344.16Q608.42,395.87 624.76,445.23"/>
<path d="M604.82,344.16Q592.34,399.98 581.88,456.19"/>
<path d="M604.82,344.16Q589.3,399.4 573.78,454.64"/>
<path d="M604.82,344.16Q587.82,398.96 569.83,453.46"/>
<path d="M604.82,344.16Q582.32,396.23 555.18,446.17"/>
<path d="M612.62,346.79Q616.62,391.42 638.84,430.74"/>
<path d="M612.62,346.79Q611.34,396.86 624.76,445.23"/>
<path d="M612.62,346.79Q607.36,399.16 614.13,451.36"/>
<path d="M612.62,346.79Q598.36,401.13 590.13,456.64"/>
<path d="M612.62,346.79Q595.26,400.97 581.88,456.19"/>
<path d="M612.62,346.79Q592.22,400.38 573.78,454.64"/>
<path d="M612.62,346.79Q590.74,399.94 569.83,453.46"/>
<path d="M612.62,346.79Q585.25,397.21 555.18,446.17"/>
<path d="M612.62,346.79Q582.85,395.32 548.77,441.13"/>
<path d="M612.62,346.79Q577.58,387.99 534.73,421.58"/>
<path d="M612.62,346.79Q576.43,374.77 531.66,386.33"/>
<path d="M616.36,348.49Q618.02,392.06 638.84,430.74"/>
<path d="M616.36,348.49Q612.75,397.5 624.76,445.23"/>
<path d="M616.36,348.49Q605.86,400.86 606.41,454.2"/>
<path d="M616.36,348.49Q599.76,401.77 590.13,456.64"/>
<path d="M616.36,348.49Q596.67,401.6 581.88,456.19"/>
<path d="M616.36,348.49Q593.63,401.02 573.78,454.64"/>
<path d="M616.36,348.49Q592.15,400.58 569.83,453.46"/>
<path d="M616.36,348.49Q586.65,397.85 555.18,446.17"/>
<path d="M616.36,348.49Q584.25,395.96 548.77,441.13"/>
<path d="M616.36,348.49Q577.27,381.36 530.17,402.2"/>
<path d="M616.36,348.49Q577.83,375.41 531.66,386.33"/>
<path d="M626.72,355.04Q603.64,404.23 590.13,456.64"/>
<path d="M626.72,355.04Q597.51,403.48 573.78,454.64"/>
<path d="M626.72,355.04Q596.03,403.04 569.83,453.46"/>
<path d="M626.72,355.04Q590.53,400.31 555.18,446.17"/>
<path d="M632.74,360.51Q618.89,402 624.76,445.23"/>
<path d="M632.74,360.51Q583.42,385.86 530.17,402.2"/>
<path d="M632.74,360.51Q583.39,384.37 530.11,398.2"/>
<path d="M632.74,360.51Q583.98,379.91 531.66,386.33"/>
<path d="M632.74,360.51Q584.38,378.47 532.75,382.47"/>
<path d="M637.91,366.73Q613.95,407.7 606.41,454.2"/>
<path d="M637.91,366.73Q607.84,408.61 590.13,456.64"/>
<path d="M637.91,366.73Q601.71,407.86 573.78,454.64"/>
<path d="M637.91,366.73Q600.23,407.42 569.83,453.46"/>
<path d="M637.91,366.73Q596.03,405.51 558.63,448.36"/>
<path d="M637.91,366.73Q592.33,402.8 548.77,441.13"/>
<path d="M637.91,366.73Q586.51,394.07 533.26,417.85"/>
<path d="M642.14,373.59Q590.05,400.71 538.45,428.71"/>
<path d="M642.14,373.59Q588.1,396.64 533.26,417.85"/>
<path d="M642.14,373.59Q586.94,390.77 530.17,402.2"/>
<path d="M642.14,373.59Q587.01,387.78 530.34,394.21"/>
<path d="M643.87,377.22Q595.73,407.72 551.88,443.76"/>
<path d="M643.87,377.22Q587.96,395.1 531.15,410.13"/>
<path d="M643.87,377.22Q587.59,392.13 530.17,402.2"/>
<path d="M643.87,377.22Q587.57,390.63 530.11,398.2"/>
<path d="M643.87,377.22Q587.66,389.14 530.34,394.21"/>
<path d="M643.87,377.22Q588.15,386.18 531.66,386.33"/>
<path d="M643.87,377.22Q599.07,372.27 560.78,349.24"/>
<path d="M645.34,380.95Q610.63,413.95 590.13,456.64"/>
<path d="M645.34,380.95Q588.51,396.5 531.15,410.13"/>
<path d="M645.34,380.95Q599.62,373.67 560.78,349.24"/>
<path d="M647.45,388.67Q592.04,406.37 538.45,428.71"/>
<path d="M647.45,388.67Q589.3,399.4 531.15,410.13"/>
<path d="M647.45,388.67Q588.93,396.43 530.17,402.2"/>
<path d="M647.45,388.67Q588.91,394.93 530.11,398.2"/>
<path d="M647.45,388.67Q600.41,376.57 560.78,349.24"/>
<path d="M648.08,392.62Q604.04,417.13 569.83,453.46"/>
<path d="M648.08,392.62Q590.33,403.78 533.26,417.85"/>
<path d="M648.08,392.62Q589.54,400.88 531.15,410.13"/>
<path d="M648.08,392.62Q589.15,396.41 530.11,398.2"/>
<path d="M648.08,392.62Q590.14,390.51 532.75,382.47"/>
<path d="M648.43,396.6Q617.89,418.9 606.41,454.2"/>
<path d="M648.43,396.6Q605.65,419.07 573.78,454.64"/>
<path d="M648.43,396.6Q604.17,418.62 569.83,453.46"/>
<path d="M648.43,396.6Q597.44,414.99 551.88,443.76"/>
<path d="M648.43,396.6Q589.86,393.45 531.66,386.33"/>
<path d="M648.49,400.6Q604.19,420.12 569.83,453.46"/>
<path d="M648.49,400.6Q598.7,417.39 555.18,446.17"/>
<path d="M648.49,400.6Q597.46,416.48 551.88,443.76"/>
<path d="M648.49,400.6Q592.43,410.84 538.45,428.71"/>
<path d="M648.49,400.6Q589.32,400.9 530.17,402.2"/>
<path d="M648.49,400.6Q589.3,399.4 530.11,398.2"/>
<path d="M648.49,400.6Q589.88,394.95 531.66,386.33"/>
<path d="M646.94,412.47Q603.61,424.57 569.83,453.46"/>
<path d="M646.94,412.47Q596.88,420.94 551.88,443.76"/>
<path d="M646.94,412.47Q591.84,415.29 538.45,428.71"/>
<path d="M646.94,412.47Q588.74,405.35 530.17,402.2"/>
<path d="M646.94,412.47Q588.72,403.85 530.11,398.2"/>
<path d="M646.94,412.47Q604.5,383.75 572.19,344.6"/>
<path d="M645.85,416.33Q596.48,422.38 551.88,443.76"/>
<path d="M645.85,416.33Q590.04,414.07 534.73,421.58"/>
<path d="M645.85,416.33Q589.49,412.66 533.26,417.85"/>
<path d="M645.85,416.33Q588.31,405.3 530.11,398.2"/>
<path d="M645.85,416.33Q588.89,400.85 531.66,386.33"/>
<path d="M642.87,423.77Q597.36,390.5 557.23,351.29"/>
<path d="M642.87,423.77Q602.97,387.99 572.19,344.6"/>
<path d="M642.87,423.77Q604.47,387.61 576.18,343.58"/>
<path d="M638.84,430.74Q602.96,390.22 576.18,343.58"/>
<path d="M636.45,434.01Q586.52,420.7 534.73,421.58"/>
<path d="M636.45,434.01Q585.97,419.3 533.26,417.85"/>
<path d="M636.45,434.01Q585.78,406.03 532.75,382.47"/>
<path d="M636.45,434.01Q596.29,393.57 560.78,349.24"/>
<path d="M633.84,437.1Q583.81,413.09 530.11,398.2"/>
<path d="M633.84,437.1Q595.31,394.73 560.78,349.24"/>
<path d="M631.01,440.02Q593.44,432.99 558.63,448.36"/>
<path d="M631.01,440.02Q582.77,415.68 530.17,402.2"/>
<path d="M631.01,440.02Q582.75,414.18 530.11,398.2"/>
<path d="M631.01,440.02Q582.83,412.69 530.34,394.21"/>
<path d="M631.01,440.02Q583.74,408.28 532.75,382.47"/>
<path d="M624.76,445.23Q597.68,395.66 576.18,343.58"/>
<path d="M621.37,447.51Q579.22,415.5 530.34,394.21"/>
<path d="M621.37,447.51Q594.91,396.89 572.19,344.6"/>
<path d="M621.37,447.51Q596.41,396.51 576.18,343.58"/>
<path d="M614.13,451.36Q576.42,418.44 530.11,398.2"/>
<path d="M614.13,451.36Q586.59,400.84 557.23,351.29"/>
<path d="M614.13,451.36Q593.69,397.95 576.18,343.58"/>
<path d="M606.41,454.2Q573.61,418 530.34,394.21"/>
<path d="M606.41,454.2Q574.1,415.05 531.66,386.33"/>
<path d="M606.41,454.2Q585.02,401.14 560.78,349.24"/>
<path d="M606.41,454.2Q592.32,398.74 580.24,342.83"/>
<path d="M590.13,456.64Q567.5,418.92 530.34,394.21"/>
<path d="M590.13,456.64Q586.21,399.65 580.24,342.83"/>
<path d="M581.88,456.19Q564.41,418.75 530.34,394.21"/>
<path d="M581.88,456.19Q583.12,399.48 580.24,342.83"/>
<path d="M573.78,454.64Q562.27,413.77 532.75,382.47"/>
<path d="M573.78,454.64Q580.08,398.9 580.24,342.83"/>
<path d="M569.83,453.46Q559.89,417.73 530.34,394.21"/>
<path d="M558.63,448.36Q556.19,412.86 531.66,386.33"/>
<path d="M558.63,448.36Q556.59,411.41 532.75,382.47"/>
<path d="M558.63,448.36Q574.4,396.55 580.24,342.83"/>
<path d="M555.18,446.17Q554.39,414.99 530.34,394.21"/>
<path d="M555.18,446.17Q565.81,398.13 560.78,349.24"/>
<path d="M555.18,446.17Q571.58,396.01 576.18,343.58"/>
<path d="M555.18,446.17Q573.11,395.73 580.24,342.83"/>
<path d="M551.88,443.76Q563.24,397.99 557.23,351.29"/>
<path d="M548.77,441.13Q567.69,394.5 572.19,344.6"/>
<path d="M548.77,441.13Q570.71,393.83 580.24,342.83"/>
<path d="M538.45,428.71Q558.21,392.35 557.23,351.29"/>
<path d="M534.73,421.58Q556.81,389.68 557.23,351.29"/>
<path d="M533.26,417.85Q556.26,388.27 557.23,351.29"/>
<path d="M530.17,402.2Q556.43,381.64 560.78,349.24"/>
<path d="M530.17,402.2Q560.71,379.9 572.19,344.6"/>
</g>
<g stroke="#c83a4a" stroke-width="0.45" stroke-opacity="0.6" fill="none">
<path d="M626.72,355.04Q613.06,391.58 646.94,412.47"/>
<path d="M623.42,352.63Q612.53,386.01 648.08,392.62"/>
<path d="M619.97,350.44Q611.28,383.5 646.54,384.78"/>
<path d="M632.74,360.51Q613.8,384.13 643.87,377.22"/>
<path d="M623.42,352.63Q612.44,389.99 647.74,408.55"/>
<path d="M626.72,355.04Q613.06,391.58 646.94,412.47"/>
<path d="M616.36,348.49Q610.85,385.97 648.43,396.6"/>
<path d="M530.86,390.25Q589.3,387.4 637.91,366.73"/>
</g>
<polyline points="582,335.04 583.15,334.92 584.31,334.83 585.47,334.75 586.63,334.7 587.79,334.66 588.95,334.65 590.11,334.65" fill="none" stroke="#f892f1" stroke-width="1.6"/>
<polyline points="591.27,334.68 592.43,334.72 593.59,334.78 594.75,334.86 595.91,334.97 597.06,335.09 598.22,335.23 599.37,335.39 600.51,335.57 601.66,335.77 602.8,335.99 603.93,336.23 605.06,336.49 606.19,336.77 607.31,337.06 608.42,337.38" fill="none" stroke="#f892f1" stroke-width="1.6"/>
<polyline points="609.53,337.71 610.64,338.07 611.73,338.44 612.82,338.83 613.91,339.24 614.98,339.66 616.05,340.11 617.11,340.57 618.16,341.05 619.2,341.55 620.24,342.07 621.26,342.6" fill="none" stroke="#f892f1" stroke-width="1.6"/>
<polyline points="622.27,343.15 623.28,343.72 624.27,344.31 625.25,344.91 626.22,345.53 627.19,346.16 628.13,346.82 629.07,347.48 630,348.17 630.91,348.86 631.81,349.58 632.7,350.31" fill="none" stroke="#f892f1" stroke-width="1.6"/>
<polyline points="633.57,351.05 634.43,351.81 635.28,352.59 636.11,353.37 636.93,354.18 637.73,354.99 638.52,355.82 639.3,356.66 640.06,357.52 640.8,358.39 641.53,359.27 642.24,360.16 642.93,361.07 643.61,361.98 644.28,362.91 644.92,363.85" fill="none" stroke="#f892f1" stroke-width="1.6"/>
<polyline points="645.55,364.8 646.16,365.76 646.76,366.73 647.34,367.71 647.9,368.7 648.44,369.7 648.96,370.71 649.47,371.73 649.95,372.75 650.42,373.79 650.87,374.83 651.3,375.88" fill="none" stroke="#f892f1" stroke-width="1.6"/>
<polyline points="651.72,376.93 652.11,378 652.48,379.07 652.84,380.14 653.17,381.23 653.49,382.31 653.79,383.41 654.06,384.5 654.32,385.61 654.56,386.71 654.78,387.82 654.97,388.94" fill="none" stroke="#f892f1" stroke-width="1.6"/>
<polyline points="655.15,390.05 655.31,391.17 655.45,392.29 655.57,393.42 655.66,394.54 655.74,395.67 655.8,396.8 655.83,397.93 655.85,399.06 655.84,400.19 655.82,401.32 655.78,402.45" fill="none" stroke="#f892f1" stroke-width="1.6"/>
<polyline points="655.71,403.58 655.63,404.71 655.52,405.83 655.4,406.95 655.25,408.08 655.08,409.19 654.9,410.31 654.69,411.42" fill="none" stroke="#f892f1" stroke-width="1.6"/>
<polyline points="654.47,412.53 654.22,413.64 653.96,414.74 653.67,415.83 653.37,416.92 653.04,418.01 652.7,419.09 652.34,420.16 651.95,421.23 651.55,422.29 651.13,423.34 650.69,424.39" fill="none" stroke="#f892f1" stroke-width="1.6"/>
<polyline points="650.24,425.43 649.76,426.46 649.27,427.48 648.75,428.49 648.22,429.5 647.67,430.5 647.11,431.48 646.52,432.46 645.92,433.43 645.3,434.38 644.67,435.33 644.01,436.26" fill="none" stroke="#f892f1" stroke-width="1.6"/>
<polyline points="643.34,437.19 642.59,438.19 641.81,439.18 641.02,440.15 640.21,441.11 639.37,442.05 638.52,442.98 637.65,443.89 636.77,444.79 635.86,445.66 634.94,446.53" fill="none" stroke="#f892f1" stroke-width="1.6"/>
<polyline points="634.09,447.29 633.22,448.05 632.34,448.78 631.45,449.51 630.55,450.22 629.63,450.91 628.7,451.59 627.76,452.25 626.8,452.89 625.84,453.52 624.86,454.13 623.87,454.73" fill="none" stroke="#f892f1" stroke-width="1.6"/>
<polyline points="622.88,455.31 621.87,455.87 620.85,456.41 619.82,456.94 618.79,457.45 617.74,457.94 616.69,458.42 615.62,458.87 614.55,459.31 613.47,459.73 612.39,460.13 611.3,460.51" fill="none" stroke="#f892f1" stroke-width="1.6"/>
<polyline points="610.2,460.88 609.09,461.22 607.98,461.55 606.86,461.86 605.74,462.15 604.61,462.42 603.48,462.67 602.34,462.9 601.2,463.11 600.05,463.3 598.91,463.47 597.76,463.63" fill="none" stroke="#f892f1" stroke-width="1.6"/>
<polyline points="596.6,463.76 595.45,463.88 594.29,463.97 593.13,464.05 591.97,464.1 590.81,464.14 589.65,464.15 588.49,464.15 587.33,464.12 586.17,464.08 585.01,464.02 583.85,463.94" fill="none" stroke="#f892f1" stroke-width="1.6"/>
<polyline points="582.69,463.83 581.54,463.71 580.38,463.57 579.23,463.41 578.09,463.23 576.94,463.03 575.8,462.81 574.67,462.57 573.54,462.31 572.41,462.03 571.29,461.74 570.18,461.42" fill="none" stroke="#f892f1" stroke-width="1.6"/>
<polyline points="569.07,461.09 567.96,460.73 566.87,460.36 565.78,459.97 564.69,459.56 563.62,459.14 562.55,458.69 561.49,458.23 560.44,457.75 559.4,457.25 558.36,456.73 557.34,456.2" fill="none" stroke="#f892f1" stroke-width="1.6"/>
<polyline points="556.33,455.65 555.32,455.08 554.33,454.49 553.35,453.89 552.38,453.27 551.41,452.64 550.47,451.98 549.53,451.32 548.6,450.63 547.69,449.94 546.79,449.22 545.9,448.49" fill="none" stroke="#f892f1" stroke-width="1.6"/>
<polyline points="545.03,447.75 544.17,446.99 543.32,446.21 542.49,445.43 541.67,444.62 540.87,443.81 540.08,442.98 539.3,442.14 538.54,441.28 537.8,440.41 537.07,439.53 536.36,438.64" fill="none" stroke="#f892f1" stroke-width="1.6"/>
<polyline points="535.67,437.73 534.99,436.82 534.32,435.89 533.68,434.95 533.05,434 532.44,433.04 531.84,432.07 531.26,431.09 530.7,430.1 530.16,429.1 529.64,428.09 529.13,427.07 528.65,426.05 528.18,425.01 527.73,423.97 527.3,422.92" fill="none" stroke="#f892f1" stroke-width="1.6"/>
<polyline points="526.88,421.87 526.49,420.8 526.12,419.73 525.76,418.66 525.43,417.57 525.11,416.49 524.81,415.39 524.54,414.3 524.28,413.19 524.04,412.09 523.82,410.98 523.63,409.86" fill="none" stroke="#f892f1" stroke-width="1.6"/>
<polyline points="523.45,408.75 523.29,407.63 523.15,406.51 523.03,405.38 522.94,404.26 522.86,403.13 522.8,402 522.77,400.87 522.75,399.74 522.76,398.61 522.78,397.48 522.82,396.35" fill="none" stroke="#f892f1" stroke-width="1.6"/>
<polyline points="522.89,395.22 522.97,394.09 523.08,392.97 523.2,391.85 523.35,390.72 523.52,389.61 523.7,388.49 523.91,387.38 524.13,386.27 524.38,385.16 524.64,384.06 524.93,382.97" fill="none" stroke="#f892f1" stroke-width="1.6"/>
<polyline points="525.23,381.88 525.56,380.79 525.9,379.71 526.26,378.64 526.65,377.57 527.05,376.51 527.47,375.46 527.91,374.41 528.36,373.37 528.84,372.34 529.33,371.32 529.85,370.31" fill="none" stroke="#f892f1" stroke-width="1.6"/>
<polyline points="530.38,369.3 530.93,368.3 531.49,367.32 532.08,366.34 532.68,365.37 533.3,364.42 533.93,363.47 534.59,362.54 535.26,361.61 535.94,360.7 536.64,359.8 537.36,358.91" fill="none" stroke="#f892f1" stroke-width="1.6"/>
<polyline points="538.1,358.04 538.85,357.17 539.61,356.32 540.39,355.49 541.19,354.66 542,353.85 542.82,353.06 543.66,352.27 544.51,351.51 545.38,350.75 546.26,350.02 547.15,349.29" fill="none" stroke="#f892f1" stroke-width="1.6"/>
<polyline points="548.05,348.58 548.97,347.89 549.9,347.21 550.84,346.55 551.8,345.91 552.76,345.28 553.74,344.67 554.73,344.07 555.72,343.49 556.73,342.93 557.75,342.39 558.78,341.86" fill="none" stroke="#f892f1" stroke-width="1.6"/>
<polyline points="559.81,341.35 560.86,340.86 561.91,340.38 562.98,339.93 564.05,339.49 565.13,339.07 566.21,338.67 567.3,338.29" fill="none" stroke="#f892f1" stroke-width="1.6"/>
<polyline points="568.4,337.92 569.51,337.58 570.62,337.25 571.74,336.94 572.86,336.65 573.99,336.38 575.12,336.13 576.26,335.9 577.4,335.69 578.55,335.5 579.69,335.33 580.84,335.17" fill="none" stroke="#f892f1" stroke-width="1.6"/>
<circle cx="584.01" cy="338.37" r="1.25" fill="#3b9a22"/>
<circle cx="588.42" cy="338.17" r="1.25" fill="#2b1cff"/>
<circle cx="592.83" cy="338.25" r="1.25" fill="#3b9a22"/>
<circle cx="597.22" cy="338.64" r="1.25" fill="#3b9a22"/>
<circle cx="601.58" cy="339.33" r="1.25" fill="#3b9a22"/>
<circle cx="605.87" cy="340.3" r="1.25" fill="#2b1cff"/>
<circle cx="610.08" cy="341.57" r="1.25" fill="#2b1cff"/>
<circle cx="614.2" cy="343.11" r="1.25" fill="#2b1cff"/>
<circle cx="618.19" cy="344.93" r="1.25" fill="#cfcfcf"/>
<circle cx="622.04" cy="347.02" r="1.25" fill="#3b9a22"/>
<circle cx="625.73" cy="349.36" r="1.25" fill="#000000"/>
<circle cx="629.24" cy="351.94" r="1.25" fill="#000000"/>
<circle cx="632.56" cy="354.76" r="1.25" fill="#2b1cff"/>
<circle cx="635.67" cy="357.79" r="1.25" fill="#cfcfcf"/>
<circle cx="638.55" cy="361.03" r="1.25" fill="#cfcfcf"/>
<circle cx="641.2" cy="364.45" r="1.25" fill="#2b1cff"/>
<circle cx="643.59" cy="368.04" r="1.25" fill="#2b1cff"/>
<circle cx="645.71" cy="371.79" r="1.25" fill="#2b1cff"/>
<circle cx="647.56" cy="375.67" r="1.25" fill="#2b1cff"/>
<circle cx="649.13" cy="379.66" r="1.25" fill="#3b9a22"/>
<circle cx="650.4" cy="383.76" r="1.25" fill="#3b9a22"/>
<circle cx="651.38" cy="387.92" r="1.25" fill="#000000"/>
<circle cx="652.06" cy="392.15" r="1.25" fill="#3b9a22"/>
<circle cx="652.42" cy="396.41" r="1.25" fill="#3b9a22"/>
<circle cx="652.49" cy="400.68" r="1.25" fill="#2b1cff"/>
<circle cx="652.24" cy="404.95" r="1.25" fill="#2b1cff"/>
<circle cx="651.69" cy="409.19" r="1.25" fill="#cfcfcf"/>
<circle cx="650.83" cy="413.38" r="1.25" fill="#2b1cff"/>
<circle cx="649.67" cy="417.51" r="1.25" fill="#2b1cff"/>
<circle cx="648.22" cy="421.55" r="1.25" fill="#2b1cff"/>
<circle cx="646.49" cy="425.48" r="1.25" fill="#3b9a22"/>
<circle cx="644.47" cy="429.28" r="1.25" fill="#3b9a22"/>
<circle cx="642.18" cy="432.93" r="1.25" fill="#cfcfcf"/>
<circle cx="639.64" cy="436.43" r="1.25" fill="#cfcfcf"/>
<circle cx="636.85" cy="439.74" r="1.25" fill="#3b9a22"/>
<circle cx="633.83" cy="442.85" r="1.25" fill="#3b9a22"/>
<circle cx="630.6" cy="445.76" r="1.25" fill="#cfcfcf"/>
<circle cx="627.16" cy="448.44" r="1.25" fill="#cfcfcf"/>
<circle cx="623.54" cy="450.88" r="1.25" fill="#3b9a22"/>
<circle cx="619.75" cy="453.07" r="1.25" fill="#000000"/>
<circle cx="615.81" cy="454.99" r="1.25" fill="#2b1cff"/>
<circle cx="611.74" cy="456.65" r="1.25" fill="#2b1cff"/>
<circle cx="607.57" cy="458.03" r="1.25" fill="#2b1cff"/>
<circle cx="603.3" cy="459.12" r="1.25" fill="#2b1cff"/>
<circle cx="598.97" cy="459.92" r="1.25" fill="#2b1cff"/>
<circle cx="594.59" cy="460.43" r="1.25" fill="#cfcfcf"/>
<circle cx="590.18" cy="460.63" r="1.25" fill="#cfcfcf"/>
<circle cx="585.77" cy="460.55" r="1.25" fill="#cfcfcf"/>
<circle cx="581.38" cy="460.16" r="1.25" fill="#000000"/>
<circle cx="577.02" cy="459.47" r="1.25" fill="#cfcfcf"/>
<circle cx="572.73" cy="458.5" r="1.25" fill="#000000"/>
<circle cx="568.52" cy="457.23" r="1.25" fill="#2b1cff"/>
<circle cx="564.4" cy="455.69" r="1.25" fill="#000000"/>
<circle cx="560.41" cy="453.87" r="1.25" fill="#cfcfcf"/>
<circle cx="556.56" cy="451.78" r="1.25" fill="#2b1cff"/>
<circle cx="552.87" cy="449.44" r="1.25" fill="#2b1cff"/>
<circle cx="549.36" cy="446.86" r="1.25" fill="#2b1cff"/>
<circle cx="546.04" cy="444.04" r="1.25" fill="#000000"/>
<circle cx="542.93" cy="441.01" r="1.25" fill="#3b9a22"/>
<circle cx="540.05" cy="437.77" r="1.25" fill="#2b1cff"/>
<circle cx="537.4" cy="434.35" r="1.25" fill="#000000"/>
<circle cx="535.01" cy="430.76" r="1.25" fill="#000000"/>
<circle cx="532.89" cy="427.01" r="1.25" fill="#000000"/>
<circle cx="531.04" cy="423.13" r="1.25" fill="#000000"/>
<circle cx="529.47" cy="419.14" r="1.25" fill="#2b1cff"/>
<circle cx="528.2" cy="415.04" r="1.25" fill="#cfcfcf"/>
<circle cx="527.22" cy="410.88" r="1.25" fill="#000000"/>
<circle cx="526.54" cy="406.65" r="1.25" fill="#000000"/>
<circle cx="526.18" cy="402.39" r="1.25" fill="#000000"/>
<circle cx="526.11" cy="398.12" r="1.25" fill="#cfcfcf"/>
<circle cx="526.36" cy="393.85" r="1.25" fill="#3b9a22"/>
<circle cx="526.91" cy="389.61" r="1.25" fill="#2b1cff"/>
<circle cx="527.77" cy="385.42" r="1.25" fill="#000000"/>
<circle cx="528.93" cy="381.29" r="1.25" fill="#3b9a22"/>
<circle cx="530.38" cy="377.25" r="1.25" fill="#3b9a22"/>
<circle cx="532.11" cy="373.32" r="1.25" fill="#3b9a22"/>
<circle cx="534.13" cy="369.52" r="1.25" fill="#000000"/>
<circle cx="536.42" cy="365.87" r="1.25" fill="#000000"/>
<circle cx="538.96" cy="362.37" r="1.25" fill="#000000"/>
<circle cx="541.75" cy="359.06" r="1.25" fill="#2b1cff"/>
<circle cx="544.77" cy="355.95" r="1.25" fill="#000000"/>
<circle cx="548" cy="353.04" r="1.25" fill="#cfcfcf"/>
<circle cx="551.44" cy="350.36" r="1.25" fill="#000000"/>
<circle cx="555.06" cy="347.92" r="1.25" fill="#000000"/>
<circle cx="558.85" cy="345.73" r="1.25" fill="#2b1cff"/>
<circle cx="562.79" cy="343.81" r="1.25" fill="#2b1cff"/>
<circle cx="566.86" cy="342.15" r="1.25" fill="#cfcfcf"/>
<circle cx="571.03" cy="340.77" r="1.25" fill="#2b1cff"/>
<circle cx="575.3" cy="339.68" r="1.25" fill="#2b1cff"/>
<circle cx="579.63" cy="338.88" r="1.25" fill="#cfcfcf"/>
<g font-size="4.5" font-weight="bold">
<text transform="translate(583.51,332.28) rotate(109.2) scale(0.8,1)" dy="0.35em" text-anchor="end" fill="#44a02c">N1076G</text>
<text transform="translate(588.33,332.05) rotate(113.2) scale(0.8,1)" dy="0.35em" text-anchor="end" fill="#3326ff">N1076R</text>
<text transform="translate(593.16,332.15) rotate(-62.8) scale(0.8,1)" dy="0.35em" fill="#44a02c">D1077F</text>
<text transform="translate(597.97,332.58) rotate(-58.8) scale(0.8,1)" dy="0.35em" fill="#44a02c">D1077G</text>
<text transform="translate(602.73,333.33) rotate(-54.8) scale(0.8,1)" dy="0.35em" fill="#44a02c">D1077Q</text>
<text transform="translate(607.43,334.4) rotate(-50.8) scale(0.8,1)" dy="0.35em" fill="#3326ff">D1077E</text>
<text transform="translate(612.04,335.79) rotate(-46.8) scale(0.8,1)" dy="0.35em" fill="#3326ff">V1078I</text>
<text transform="translate(616.54,337.49) rotate(-42.8) scale(0.8,1)" dy="0.35em" fill="#3326ff">V1078D</text>
<text transform="translate(620.91,339.5) rotate(-38.8) scale(0.8,1)" dy="0.35em" fill="#c4c4c4">V1078E</text>
<text transform="translate(625.12,341.79) rotate(-34.8) scale(0.8,1)" dy="0.35em" fill="#44a02c">R1079S</text>
<text transform="translate(629.16,344.36) rotate(-30.8) scale(0.8,1)" dy="0.35em" fill="#111111">R1079E</text>
<text transform="translate(633,347.21) rotate(-26.8) scale(0.8,1)" dy="0.35em" fill="#111111">R1079K</text>
<text transform="translate(636.64,350.3) rotate(-22.8) scale(0.8,1)" dy="0.35em" fill="#3326ff">E1080S</text>
<text transform="translate(640.04,353.64) rotate(-18.8) scale(0.8,1)" dy="0.35em" fill="#c4c4c4">E1080D</text>
<text transform="translate(643.19,357.2) rotate(-14.8) scale(0.8,1)" dy="0.35em" fill="#c4c4c4">E1080G</text>
<text transform="translate(646.08,360.96) rotate(-10.8) scale(0.8,1)" dy="0.35em" fill="#3326ff">E1080L</text>
<text transform="translate(648.7,364.91) rotate(-6.8) scale(0.8,1)" dy="0.35em" fill="#3326ff">D1081R</text>
<text transform="translate(651.02,369.03) rotate(-2.8) scale(0.8,1)" dy="0.35em" fill="#3326ff">D1081E</text>
<text transform="translate(653.05,373.3) rotate(1.2) scale(0.8,1)" dy="0.35em" fill="#3326ff">D1081L</text>
<text transform="translate(654.76,377.69) rotate(5.2) scale(0.8,1)" dy="0.35em" fill="#44a02c">D1082H</text>
<text transform="translate(656.16,382.2) rotate(9.2) scale(0.8,1)" dy="0.35em" fill="#44a02c">D1082N</text>
<text transform="translate(657.22,386.78) rotate(13.2) scale(0.8,1)" dy="0.35em" fill="#111111">D1082S</text>
<text transform="translate(657.96,391.43) rotate(17.2) scale(0.8,1)" dy="0.35em" fill="#44a02c">G1083F</text>
<text transform="translate(658.37,396.11) rotate(21.2) scale(0.8,1)" dy="0.35em" fill="#44a02c">G1083N</text>
<text transform="translate(658.43,400.81) rotate(25.2) scale(0.8,1)" dy="0.35em" fill="#3326ff">G1083I</text>
<text transform="translate(658.17,405.5) rotate(29.2) scale(0.8,1)" dy="0.35em" fill="#3326ff">F1084K</text>
<text transform="translate(657.56,410.17) rotate(33.2) scale(0.8,1)" dy="0.35em" fill="#c4c4c4">F1084Q</text>
<text transform="translate(656.62,414.78) rotate(37.2) scale(0.8,1)" dy="0.35em" fill="#3326ff">F1085E</text>
<text transform="translate(655.36,419.32) rotate(41.2) scale(0.8,1)" dy="0.35em" fill="#3326ff">F1085D</text>
<text transform="translate(653.77,423.76) rotate(45.2) scale(0.8,1)" dy="0.35em" fill="#3326ff">F1085K</text>
<text transform="translate(651.87,428.08) rotate(49.2) scale(0.8,1)" dy="0.35em" fill="#44a02c">T1086R</text>
<text transform="translate(649.66,432.26) rotate(53.2) scale(0.8,1)" dy="0.35em" fill="#44a02c">T1086N</text>
<text transform="translate(647.16,436.28) rotate(57.2) scale(0.8,1)" dy="0.35em" fill="#c4c4c4">T1086S</text>
<text transform="translate(644.38,440.12) rotate(61.2) scale(0.8,1)" dy="0.35em" fill="#c4c4c4">S1087P</text>
<text transform="translate(641.33,443.76) rotate(65.2) scale(0.8,1)" dy="0.35em" fill="#44a02c">S1087M</text>
<text transform="translate(638.03,447.19) rotate(69.2) scale(0.8,1)" dy="0.35em" fill="#44a02c">S1087K</text>
<text transform="translate(634.48,450.39) rotate(73.2) scale(0.8,1)" dy="0.35em" fill="#c4c4c4">H1088L</text>
<text transform="translate(630.72,453.33) rotate(77.2) scale(0.8,1)" dy="0.35em" fill="#c4c4c4">H1088E</text>
<text transform="translate(626.76,456.01) rotate(81.2) scale(0.8,1)" dy="0.35em" fill="#44a02c">H1088N</text>
<text transform="translate(622.61,458.42) rotate(85.2) scale(0.8,1)" dy="0.35em" fill="#111111">V1089T</text>
<text transform="translate(618.3,460.54) rotate(89.2) scale(0.8,1)" dy="0.35em" fill="#3326ff">V1089N</text>
<text transform="translate(613.86,462.36) rotate(93.2) scale(0.8,1)" dy="0.35em" fill="#3326ff">V1089S</text>
<text transform="translate(609.29,463.88) rotate(97.2) scale(0.8,1)" dy="0.35em" fill="#3326ff">M1090E</text>
<text transform="translate(604.62,465.08) rotate(101.2) scale(0.8,1)" dy="0.35em" fill="#3326ff">M1090F</text>
<text transform="translate(599.88,465.96) rotate(105.2) scale(0.8,1)" dy="0.35em" fill="#3326ff">M1090Y</text>
<text transform="translate(595.09,466.52) rotate(109.2) scale(0.8,1)" dy="0.35em" fill="#c4c4c4">R1091H</text>
<text transform="translate(590.27,466.75) rotate(113.2) scale(0.8,1)" dy="0.35em" fill="#c4c4c4">R1091N</text>
<text transform="translate(585.44,466.65) rotate(297.2) scale(0.8,1)" dy="0.35em" text-anchor="end" fill="#c4c4c4">R1091G</text>
<text transform="translate(580.63,466.22) rotate(301.2) scale(0.8,1)" dy="0.35em" text-anchor="end" fill="#111111">T1092R</text>
<text transform="translate(575.87,465.47) rotate(305.2) scale(0.8,1)" dy="0.35em" text-anchor="end" fill="#c4c4c4">T1092D</text>
<text transform="translate(571.17,464.4) rotate(309.2) scale(0.8,1)" dy="0.35em" text-anchor="end" fill="#111111">T1092E</text>
<text transform="translate(566.56,463.01) rotate(313.2) scale(0.8,1)" dy="0.35em" text-anchor="end" fill="#3326ff">Y1093N</text>
<text transform="translate(562.06,461.31) rotate(317.2) scale(0.8,1)" dy="0.35em" text-anchor="end" fill="#111111">Y1093N</text>
<text transform="translate(557.69,459.3) rotate(321.2) scale(0.8,1)" dy="0.35em" text-anchor="end" fill="#c4c4c4">Y1093P</text>
<text transform="translate(553.48,457.01) rotate(325.2) scale(0.8,1)" dy="0.35em" text-anchor="end" fill="#3326ff">T1094S</text>
<text transform="translate(549.44,454.44) rotate(329.2) scale(0.8,1)" dy="0.35em" text-anchor="end" fill="#3326ff">T1094E</text>
<text transform="translate(545.6,451.59) rotate(333.2) scale(0.8,1)" dy="0.35em" text-anchor="end" fill="#3326ff">T1094E</text>
<text transform="translate(541.96,448.5) rotate(337.2) scale(0.8,1)" dy="0.35em" text-anchor="end" fill="#111111">L1095V</text>
<text transform="translate(538.56,445.16) rotate(341.2) scale(0.8,1)" dy="0.35em" text-anchor="end" fill="#44a02c">L1095E</text>
<text transform="translate(535.41,441.6) rotate(345.2) scale(0.8,1)" dy="0.35em" text-anchor="end" fill="#3326ff">L1095D</text>
<text transform="translate(532.52,437.84) rotate(349.2) scale(0.8,1)" dy="0.35em" text-anchor="end" fill="#111111">M1096T</text>
<text transform="translate(529.9,433.89) rotate(353.2) scale(0.8,1)" dy="0.35em" text-anchor="end" fill="#111111">M1096N</text>
<text transform="translate(527.58,429.77) rotate(357.2) scale(0.8,1)" dy="0.35em" text-anchor="end" fill="#111111">M1096R</text>
<text transform="translate(525.55,425.5) rotate(361.2) scale(0.8,1)" dy="0.35em" text-anchor="end" fill="#111111">M1096Q</text>
<text transform="translate(523.84,421.11) rotate(365.2) scale(0.8,1)" dy="0.35em" text-anchor="end" fill="#3326ff">A1097T</text>
<text transform="translate(522.44,416.6) rotate(369.2) scale(0.8,1)" dy="0.35em" text-anchor="end" fill="#c4c4c4">A1097Q</text>
<text transform="translate(521.38,412.02) rotate(373.2) scale(0.8,1)" dy="0.35em" text-anchor="end" fill="#111111">A1097I</text>
<text transform="translate(520.64,407.37) rotate(377.2) scale(0.8,1)" dy="0.35em" text-anchor="end" fill="#111111">F1098V</text>
<text transform="translate(520.23,402.69) rotate(381.2) scale(0.8,1)" dy="0.35em" text-anchor="end" fill="#111111">F1098D</text>
<text transform="translate(520.17,397.99) rotate(385.2) scale(0.8,1)" dy="0.35em" text-anchor="end" fill="#c4c4c4">F1098K</text>
<text transform="translate(520.43,393.3) rotate(389.2) scale(0.8,1)" dy="0.35em" text-anchor="end" fill="#44a02c">M1099G</text>
<text transform="translate(521.04,388.63) rotate(393.2) scale(0.8,1)" dy="0.35em" text-anchor="end" fill="#3326ff">M1099K</text>
<text transform="translate(521.98,384.02) rotate(397.2) scale(0.8,1)" dy="0.35em" text-anchor="end" fill="#111111">M1099R</text>
<text transform="translate(523.24,379.48) rotate(401.2) scale(0.8,1)" dy="0.35em" text-anchor="end" fill="#44a02c">Q1100V</text>
<text transform="translate(524.83,375.04) rotate(405.2) scale(0.8,1)" dy="0.35em" text-anchor="end" fill="#44a02c">Q1100E</text>
<text transform="translate(526.73,370.72) rotate(409.2) scale(0.8,1)" dy="0.35em" text-anchor="end" fill="#44a02c">Q1100H</text>
<text transform="translate(528.94,366.54) rotate(413.2) scale(0.8,1)" dy="0.35em" text-anchor="end" fill="#111111">S1101Q</text>
<text transform="translate(531.44,362.52) rotate(417.2) scale(0.8,1)" dy="0.35em" text-anchor="end" fill="#111111">S1101L</text>
<text transform="translate(534.22,358.68) rotate(421.2) scale(0.8,1)" dy="0.35em" text-anchor="end" fill="#111111">S1101G</text>
<text transform="translate(537.27,355.04) rotate(425.2) scale(0.8,1)" dy="0.35em" text-anchor="end" fill="#3326ff">R1102L</text>
<text transform="translate(540.57,351.61) rotate(429.2) scale(0.8,1)" dy="0.35em" text-anchor="end" fill="#111111">R1102S</text>
<text transform="translate(544.12,348.41) rotate(433.2) scale(0.8,1)" dy="0.35em" text-anchor="end" fill="#c4c4c4">R1102P</text>
<text transform="translate(547.88,345.47) rotate(437.2) scale(0.8,1)" dy="0.35em" text-anchor="end" fill="#111111">Q1103K</text>
<text transform="translate(551.84,342.79) rotate(441.2) scale(0.8,1)" dy="0.35em" text-anchor="end" fill="#111111">Q1103G</text>
<text transform="translate(555.99,340.38) rotate(445.2) scale(0.8,1)" dy="0.35em" text-anchor="end" fill="#3326ff">Q1103E</text>
<text transform="translate(560.3,338.26) rotate(449.2) scale(0.8,1)" dy="0.35em" text-anchor="end" fill="#3326ff">H1104G</text>
<text transform="translate(564.74,336.44) rotate(453.2) scale(0.8,1)" dy="0.35em" text-anchor="end" fill="#c4c4c4">H1104L</text>
<text transform="translate(569.31,334.92) rotate(457.2) scale(0.8,1)" dy="0.35em" text-anchor="end" fill="#3326ff">K1105A</text>
<text transform="translate(573.98,333.72) rotate(461.2) scale(0.8,1)" dy="0.35em" text-anchor="end" fill="#3326ff">K1105V</text>
<text transform="translate(578.72,332.84) rotate(465.2) scale(0.8,1)" dy="0.35em" text-anchor="end" fill="#c4c4c4">K1105H</text>
</g>
<text transform="translate(534,336.83) rotate(-22)" font-size="10.5" font-weight="bold">TL-N</text>
<text transform="translate(557.7,325.14) rotate(-14)" font-size="10.5" font-weight="bold">TL-C</text>
<text x="1.3" y="541.9" font-size="18" font-weight="bold" fill="#000" text-anchor="start">e</text>
<text x="91.4" y="535" font-size="15.4" font-weight="bold" fill="#3c9c24" text-anchor="middle">GOF</text>
<rect x="56.5" y="542.6" width="75.3" height="4.6" fill="#3c9c24"/>
<rect x="46.4" y="550" width="4.5" height="77.3" fill="#3c9c24"/>
<text transform="translate(36.0,589.5) rotate(-90)" font-size="15.5" font-weight="bold" fill="#3c9c24" text-anchor="middle">GOF</text>
<rect x="54.4" y="550.8" width="77.5" height="76.8" fill="#000000"/>
<path d="M58.27,550.8V627.6M62.15,550.8V627.6M66.03,550.8V627.6M69.9,550.8V627.6M73.78,550.8V627.6M77.65,550.8V627.6M81.53,550.8V627.6M85.4,550.8V627.6M89.28,550.8V627.6M93.15,550.8V627.6M97.03,550.8V627.6M100.9,550.8V627.6M104.78,550.8V627.6M108.65,550.8V627.6M112.53,550.8V627.6M116.4,550.8V627.6M120.28,550.8V627.6M124.15,550.8V627.6M128.03,550.8V627.6M54.4,554.64H131.9M54.4,558.48H131.9M54.4,562.32H131.9M54.4,566.16H131.9M54.4,570H131.9M54.4,573.84H131.9M54.4,577.68H131.9M54.4,581.52H131.9M54.4,585.36H131.9M54.4,589.2H131.9M54.4,593.04H131.9M54.4,596.88H131.9M54.4,600.72H131.9M54.4,604.56H131.9M54.4,608.4H131.9M54.4,612.24H131.9M54.4,616.08H131.9M54.4,619.92H131.9M54.4,623.76H131.9" stroke="#9a9a9a" stroke-width="0.35" opacity="0.15" fill="none"/>
<rect x="120.28" y="550.8" width="11.93" height="4.14" fill="#c3c3c3"/>
<rect x="54.4" y="554.64" width="4.17" height="4.14" fill="#ffffff"/>
<rect x="77.65" y="554.64" width="4.17" height="4.14" fill="#ffffff"/>
<rect x="108.65" y="554.64" width="4.17" height="4.14" fill="#b8aae0"/>
<rect x="116.4" y="554.64" width="4.17" height="4.14" fill="#ffffff"/>
<rect x="120.28" y="554.64" width="11.93" height="4.14" fill="#c3c3c3"/>
<rect x="58.27" y="558.48" width="4.17" height="4.14" fill="#ecb48a"/>
<rect x="116.4" y="558.48" width="4.17" height="4.14" fill="#ffffff"/>
<rect x="120.28" y="558.48" width="11.93" height="4.14" fill="#c3c3c3"/>
<rect x="54.4" y="562.32" width="4.17" height="4.14" fill="#f8dcc2"/>
<rect x="108.65" y="562.32" width="4.17" height="4.14" fill="#b8aae0"/>
<rect x="116.4" y="562.32" width="4.17" height="4.14" fill="#c3c3c3"/>
<rect x="120.28" y="562.32" width="8.05" height="4.14" fill="#ffffff"/>
<rect x="54.4" y="566.16" width="4.17" height="4.14" fill="#ffffff"/>
<rect x="112.53" y="566.16" width="4.17" height="4.14" fill="#c3c3c3"/>
<rect x="54.4" y="570" width="4.17" height="4.14" fill="#ffffff"/>
<rect x="108.65" y="570" width="4.17" height="4.14" fill="#c3c3c3"/>
<rect x="116.4" y="570" width="4.17" height="4.14" fill="#b8aae0"/>
<rect x="124.15" y="570" width="4.17" height="4.14" fill="#b8aae0"/>
<rect x="54.4" y="573.84" width="4.17" height="4.14" fill="#ffffff"/>
<rect x="81.53" y="573.84" width="4.17" height="4.14" fill="#e96f26"/>
<rect x="85.4" y="573.84" width="4.17" height="4.14" fill="#ffffff"/>
<rect x="93.15" y="573.84" width="4.17" height="4.14" fill="#b8aae0"/>
<rect x="104.78" y="573.84" width="4.17" height="4.14" fill="#c3c3c3"/>
<rect x="97.03" y="577.68" width="8.05" height="4.14" fill="#c3c3c3"/>
<rect x="54.4" y="581.52" width="8.05" height="4.14" fill="#ffffff"/>
<rect x="81.53" y="581.52" width="4.17" height="4.14" fill="#ffffff"/>
<rect x="97.03" y="581.52" width="8.05" height="4.14" fill="#c3c3c3"/>
<rect x="54.4" y="585.36" width="4.17" height="4.14" fill="#f8dcc2"/>
<rect x="89.28" y="585.36" width="8.05" height="4.14" fill="#c3c3c3"/>
<rect x="104.78" y="585.36" width="4.17" height="4.14" fill="#b8aae0"/>
<rect x="89.28" y="589.2" width="8.05" height="4.14" fill="#c3c3c3"/>
<rect x="81.53" y="593.04" width="8.05" height="4.14" fill="#c3c3c3"/>
<rect x="104.78" y="593.04" width="4.17" height="4.14" fill="#ffffff"/>
<rect x="54.4" y="596.88" width="4.17" height="4.14" fill="#ffffff"/>
<rect x="81.53" y="596.88" width="8.05" height="4.14" fill="#c3c3c3"/>
<rect x="97.03" y="596.88" width="4.17" height="4.14" fill="#ffffff"/>
<rect x="104.78" y="596.88" width="4.17" height="4.14" fill="#e96f26"/>
<rect x="54.4" y="600.72" width="4.17" height="4.14" fill="#e4def4"/>
<rect x="77.65" y="600.72" width="4.17" height="4.14" fill="#c3c3c3"/>
<rect x="124.15" y="600.72" width="4.17" height="4.14" fill="#ffffff"/>
<rect x="54.4" y="604.56" width="4.17" height="4.14" fill="#f8dcc2"/>
<rect x="66.03" y="604.56" width="11.93" height="4.14" fill="#c3c3c3"/>
<rect x="54.4" y="608.4" width="4.17" height="4.14" fill="#f8dcc2"/>
<rect x="66.03" y="608.4" width="11.93" height="4.14" fill="#c3c3c3"/>
<rect x="54.4" y="612.24" width="4.17" height="4.14" fill="#ffffff"/>
<rect x="66.03" y="612.24" width="11.93" height="4.14" fill="#c3c3c3"/>
<rect x="54.4" y="616.08" width="4.17" height="4.14" fill="#b8aae0"/>
<rect x="62.15" y="616.08" width="4.17" height="4.14" fill="#c3c3c3"/>
<rect x="58.27" y="619.92" width="4.17" height="4.14" fill="#c3c3c3"/>
<rect x="97.03" y="619.92" width="4.17" height="4.14" fill="#ffffff"/>
<rect x="120.28" y="619.92" width="4.17" height="4.14" fill="#ecb48a"/>
<rect x="54.4" y="623.76" width="4.17" height="4.14" fill="#c3c3c3"/>
<rect x="62.15" y="623.76" width="4.17" height="4.14" fill="#b8aae0"/>
<rect x="66.03" y="623.76" width="4.17" height="4.14" fill="#ffffff"/>
<rect x="69.9" y="623.76" width="8.05" height="4.14" fill="#f8dcc2"/>
<rect x="77.65" y="623.76" width="4.17" height="4.14" fill="#b8aae0"/>
<rect x="81.53" y="623.76" width="4.17" height="4.14" fill="#ffffff"/>
<rect x="93.15" y="623.76" width="4.17" height="4.14" fill="#f8dcc2"/>
<rect x="97.03" y="623.76" width="4.17" height="4.14" fill="#ffffff"/>
<rect x="104.78" y="623.76" width="11.93" height="4.14" fill="#ffffff"/>
<rect x="116.4" y="623.76" width="4.17" height="4.14" fill="#ecb48a"/>
<rect x="124.15" y="623.76" width="4.17" height="4.14" fill="#ffffff"/>
<rect x="54.4" y="550.8" width="77.5" height="76.8" fill="none" stroke="#a8a8a8" stroke-width="1"/>
<text x="227.7" y="533.8" font-size="15.4" font-weight="bold" fill="#1f10ff" text-anchor="middle">LOF</text>
<rect x="189.4" y="542" width="80.6" height="4.6" fill="#1f10ff"/>
<rect x="181.7" y="549.6" width="5.1" height="80.1" fill="#1f10ff"/>
<text transform="translate(171.6,591.9) rotate(-90)" font-size="15.5" font-weight="bold" fill="#1f10ff" text-anchor="middle">LOF</text>
<rect x="190.5" y="550.2" width="78.4" height="79.5" fill="#000000"/>
<path d="M193.2,550.2V629.7M195.91,550.2V629.7M198.61,550.2V629.7M201.31,550.2V629.7M204.02,550.2V629.7M206.72,550.2V629.7M209.42,550.2V629.7M212.13,550.2V629.7M214.83,550.2V629.7M217.53,550.2V629.7M220.24,550.2V629.7M222.94,550.2V629.7M225.64,550.2V629.7M228.35,550.2V629.7M231.05,550.2V629.7M233.76,550.2V629.7M236.46,550.2V629.7M239.16,550.2V629.7M241.87,550.2V629.7M244.57,550.2V629.7M247.27,550.2V629.7M249.98,550.2V629.7M252.68,550.2V629.7M255.38,550.2V629.7M258.09,550.2V629.7M260.79,550.2V629.7M263.49,550.2V629.7M266.2,550.2V629.7M190.5,552.94H268.9M190.5,555.68H268.9M190.5,558.42H268.9M190.5,561.17H268.9M190.5,563.91H268.9M190.5,566.65H268.9M190.5,569.39H268.9M190.5,572.13H268.9M190.5,574.87H268.9M190.5,577.61H268.9M190.5,580.36H268.9M190.5,583.1H268.9M190.5,585.84H268.9M190.5,588.58H268.9M190.5,591.32H268.9M190.5,594.06H268.9M190.5,596.8H268.9M190.5,599.54H268.9M190.5,602.29H268.9M190.5,605.03H268.9M190.5,607.77H268.9M190.5,610.51H268.9M190.5,613.25H268.9M190.5,615.99H268.9M190.5,618.73H268.9M190.5,621.48H268.9M190.5,624.22H268.9M190.5,626.96H268.9" stroke="#9a9a9a" stroke-width="0.35" opacity="0.15" fill="none"/>
<rect x="201.31" y="550.2" width="3" height="3.04" fill="#ffffff"/>
<rect x="212.13" y="550.2" width="3" height="3.04" fill="#ffffff"/>
<rect x="236.46" y="550.2" width="3" height="3.04" fill="#ffffff"/>
<rect x="266.2" y="550.2" width="3" height="3.04" fill="#c3c3c3"/>
<rect x="263.49" y="552.94" width="3" height="3.04" fill="#c3c3c3"/>
<rect x="260.79" y="555.68" width="3" height="3.04" fill="#c3c3c3"/>
<rect x="193.2" y="558.42" width="3" height="3.04" fill="#e4def4"/>
<rect x="209.42" y="558.42" width="5.71" height="3.04" fill="#ffffff"/>
<rect x="220.24" y="558.42" width="8.41" height="3.04" fill="#ffffff"/>
<rect x="255.38" y="558.42" width="5.71" height="3.04" fill="#c3c3c3"/>
<rect x="255.38" y="561.17" width="5.71" height="3.04" fill="#c3c3c3"/>
<rect x="252.68" y="563.91" width="3" height="3.04" fill="#c3c3c3"/>
<rect x="193.2" y="566.65" width="3" height="3.04" fill="#b8aae0"/>
<rect x="206.72" y="566.65" width="5.71" height="3.04" fill="#b8aae0"/>
<rect x="239.16" y="566.65" width="3" height="3.04" fill="#ffffff"/>
<rect x="241.87" y="566.65" width="3" height="3.04" fill="#e4def4"/>
<rect x="244.57" y="566.65" width="8.41" height="3.04" fill="#c3c3c3"/>
<rect x="193.2" y="569.39" width="3" height="3.04" fill="#b8aae0"/>
<rect x="209.42" y="569.39" width="3" height="3.04" fill="#b8aae0"/>
<rect x="212.13" y="569.39" width="8.41" height="3.04" fill="#ffffff"/>
<rect x="239.16" y="569.39" width="3" height="3.04" fill="#ffffff"/>
<rect x="244.57" y="569.39" width="8.41" height="3.04" fill="#c3c3c3"/>
<rect x="228.35" y="572.13" width="3" height="3.04" fill="#ffffff"/>
<rect x="239.16" y="572.13" width="3" height="3.04" fill="#ffffff"/>
<rect x="244.57" y="572.13" width="8.41" height="3.04" fill="#c3c3c3"/>
<rect x="193.2" y="574.87" width="3" height="3.04" fill="#ffffff"/>
<rect x="209.42" y="574.87" width="5.71" height="3.04" fill="#b8aae0"/>
<rect x="239.16" y="574.87" width="5.71" height="3.04" fill="#c3c3c3"/>
<rect x="249.98" y="574.87" width="3" height="3.04" fill="#b8aae0"/>
<rect x="193.2" y="577.61" width="3" height="3.04" fill="#ffffff"/>
<rect x="209.42" y="577.61" width="5.71" height="3.04" fill="#ffffff"/>
<rect x="239.16" y="577.61" width="5.71" height="3.04" fill="#c3c3c3"/>
<rect x="247.27" y="577.61" width="5.71" height="3.04" fill="#ffffff"/>
<rect x="193.2" y="580.36" width="3" height="3.04" fill="#ffffff"/>
<rect x="204.02" y="580.36" width="11.11" height="3.04" fill="#ffffff"/>
<rect x="220.24" y="580.36" width="11.11" height="3.04" fill="#ffffff"/>
<rect x="231.05" y="580.36" width="8.41" height="3.04" fill="#c3c3c3"/>
<rect x="266.2" y="580.36" width="3" height="3.04" fill="#ffffff"/>
<rect x="193.2" y="583.1" width="3" height="3.04" fill="#e4def4"/>
<rect x="204.02" y="583.1" width="11.11" height="3.04" fill="#ffffff"/>
<rect x="214.83" y="583.1" width="5.71" height="3.04" fill="#e4def4"/>
<rect x="220.24" y="583.1" width="8.41" height="3.04" fill="#ffffff"/>
<rect x="228.35" y="583.1" width="3" height="3.04" fill="#ecb48a"/>
<rect x="231.05" y="583.1" width="8.41" height="3.04" fill="#c3c3c3"/>
<rect x="193.2" y="585.84" width="3" height="3.04" fill="#ffffff"/>
<rect x="206.72" y="585.84" width="3" height="3.04" fill="#f8dcc2"/>
<rect x="209.42" y="585.84" width="5.71" height="3.04" fill="#ffffff"/>
<rect x="220.24" y="585.84" width="11.11" height="3.04" fill="#ffffff"/>
<rect x="231.05" y="585.84" width="8.41" height="3.04" fill="#c3c3c3"/>
<rect x="193.2" y="588.58" width="3" height="3.04" fill="#ffffff"/>
<rect x="206.72" y="588.58" width="3" height="3.04" fill="#ffffff"/>
<rect x="209.42" y="588.58" width="3" height="3.04" fill="#e4def4"/>
<rect x="212.13" y="588.58" width="3" height="3.04" fill="#ffffff"/>
<rect x="228.35" y="588.58" width="3" height="3.04" fill="#c3c3c3"/>
<rect x="231.05" y="588.58" width="3" height="3.04" fill="#ffffff"/>
<rect x="233.76" y="588.58" width="3" height="3.04" fill="#ecb48a"/>
<rect x="244.57" y="588.58" width="3" height="3.04" fill="#ffffff"/>
<rect x="206.72" y="591.32" width="3" height="3.04" fill="#e4def4"/>
<rect x="209.42" y="591.32" width="5.71" height="3.04" fill="#ffffff"/>
<rect x="217.53" y="591.32" width="8.41" height="3.04" fill="#ffffff"/>
<rect x="225.64" y="591.32" width="3" height="3.04" fill="#c3c3c3"/>
<rect x="231.05" y="591.32" width="8.41" height="3.04" fill="#ffffff"/>
<rect x="193.2" y="594.06" width="3" height="3.04" fill="#b8aae0"/>
<rect x="204.02" y="594.06" width="11.11" height="3.04" fill="#ffffff"/>
<rect x="220.24" y="594.06" width="5.71" height="3.04" fill="#c3c3c3"/>
<rect x="225.64" y="594.06" width="3" height="3.04" fill="#ffffff"/>
<rect x="231.05" y="594.06" width="8.41" height="3.04" fill="#ffffff"/>
<rect x="258.09" y="594.06" width="3" height="3.04" fill="#ffffff"/>
<rect x="204.02" y="596.8" width="3" height="3.04" fill="#ffffff"/>
<rect x="206.72" y="596.8" width="3" height="3.04" fill="#e4def4"/>
<rect x="209.42" y="596.8" width="5.71" height="3.04" fill="#ffffff"/>
<rect x="214.83" y="596.8" width="3" height="3.04" fill="#f8dcc2"/>
<rect x="220.24" y="596.8" width="5.71" height="3.04" fill="#c3c3c3"/>
<rect x="225.64" y="596.8" width="3" height="3.04" fill="#ffffff"/>
<rect x="231.05" y="596.8" width="5.71" height="3.04" fill="#ffffff"/>
<rect x="236.46" y="596.8" width="3" height="3.04" fill="#f8dcc2"/>
<rect x="258.09" y="596.8" width="3" height="3.04" fill="#ffffff"/>
<rect x="193.2" y="599.54" width="3" height="3.04" fill="#ffffff"/>
<rect x="201.31" y="599.54" width="5.71" height="3.04" fill="#ecb48a"/>
<rect x="206.72" y="599.54" width="8.41" height="3.04" fill="#ffffff"/>
<rect x="214.83" y="599.54" width="5.71" height="3.04" fill="#c3c3c3"/>
<rect x="220.24" y="599.54" width="3" height="3.04" fill="#f8dcc2"/>
<rect x="231.05" y="599.54" width="8.41" height="3.04" fill="#ffffff"/>
<rect x="247.27" y="599.54" width="3" height="3.04" fill="#ffffff"/>
<rect x="193.2" y="602.29" width="3" height="3.04" fill="#ffffff"/>
<rect x="201.31" y="602.29" width="3" height="3.04" fill="#ecb48a"/>
<rect x="204.02" y="602.29" width="5.71" height="3.04" fill="#ffffff"/>
<rect x="209.42" y="602.29" width="5.71" height="3.04" fill="#e4def4"/>
<rect x="214.83" y="602.29" width="5.71" height="3.04" fill="#c3c3c3"/>
<rect x="220.24" y="602.29" width="3" height="3.04" fill="#f8dcc2"/>
<rect x="231.05" y="602.29" width="8.41" height="3.04" fill="#ffffff"/>
<rect x="247.27" y="602.29" width="3" height="3.04" fill="#ffffff"/>
<rect x="193.2" y="605.03" width="3" height="3.04" fill="#ffffff"/>
<rect x="201.31" y="605.03" width="11.11" height="3.04" fill="#ffffff"/>
<rect x="212.13" y="605.03" width="3" height="3.04" fill="#c3c3c3"/>
<rect x="214.83" y="605.03" width="3" height="3.04" fill="#ffffff"/>
<rect x="217.53" y="605.03" width="3" height="3.04" fill="#f8dcc2"/>
<rect x="220.24" y="605.03" width="8.41" height="3.04" fill="#ffffff"/>
<rect x="228.35" y="605.03" width="3" height="3.04" fill="#e4def4"/>
<rect x="231.05" y="605.03" width="3" height="3.04" fill="#ffffff"/>
<rect x="233.76" y="605.03" width="3" height="3.04" fill="#b8aae0"/>
<rect x="236.46" y="605.03" width="3" height="3.04" fill="#ffffff"/>
<rect x="239.16" y="605.03" width="3" height="3.04" fill="#e4def4"/>
<rect x="241.87" y="605.03" width="3" height="3.04" fill="#ffffff"/>
<rect x="247.27" y="605.03" width="3" height="3.04" fill="#b8aae0"/>
<rect x="258.09" y="605.03" width="3" height="3.04" fill="#ffffff"/>
<rect x="266.2" y="605.03" width="3" height="3.04" fill="#ffffff"/>
<rect x="193.2" y="607.77" width="3" height="3.04" fill="#ffffff"/>
<rect x="201.31" y="607.77" width="5.71" height="3.04" fill="#ffffff"/>
<rect x="206.72" y="607.77" width="5.71" height="3.04" fill="#c3c3c3"/>
<rect x="212.13" y="607.77" width="8.41" height="3.04" fill="#ffffff"/>
<rect x="220.24" y="607.77" width="3" height="3.04" fill="#e4def4"/>
<rect x="222.94" y="607.77" width="5.71" height="3.04" fill="#ffffff"/>
<rect x="228.35" y="607.77" width="3" height="3.04" fill="#b8aae0"/>
<rect x="231.05" y="607.77" width="8.41" height="3.04" fill="#ffffff"/>
<rect x="247.27" y="607.77" width="5.71" height="3.04" fill="#b8aae0"/>
<rect x="258.09" y="607.77" width="3" height="3.04" fill="#ffffff"/>
<rect x="193.2" y="610.51" width="3" height="3.04" fill="#ffffff"/>
<rect x="204.02" y="610.51" width="3" height="3.04" fill="#ffffff"/>
<rect x="206.72" y="610.51" width="5.71" height="3.04" fill="#c3c3c3"/>
<rect x="212.13" y="610.51" width="5.71" height="3.04" fill="#f8dcc2"/>
<rect x="217.53" y="610.51" width="5.71" height="3.04" fill="#ffffff"/>
<rect x="222.94" y="610.51" width="3" height="3.04" fill="#e4def4"/>
<rect x="225.64" y="610.51" width="5.71" height="3.04" fill="#ffffff"/>
<rect x="231.05" y="610.51" width="3" height="3.04" fill="#f8dcc2"/>
<rect x="233.76" y="610.51" width="5.71" height="3.04" fill="#ffffff"/>
<rect x="249.98" y="610.51" width="3" height="3.04" fill="#e4def4"/>
<rect x="193.2" y="613.25" width="3" height="3.04" fill="#ffffff"/>
<rect x="198.61" y="613.25" width="3" height="3.04" fill="#ffffff"/>
<rect x="204.02" y="613.25" width="3" height="3.04" fill="#c3c3c3"/>
<rect x="206.72" y="613.25" width="8.41" height="3.04" fill="#ffffff"/>
<rect x="214.83" y="613.25" width="5.71" height="3.04" fill="#ecb48a"/>
<rect x="236.46" y="613.25" width="3" height="3.04" fill="#ffffff"/>
<rect x="201.31" y="615.99" width="3" height="3.04" fill="#c3c3c3"/>
<rect x="206.72" y="615.99" width="8.41" height="3.04" fill="#ffffff"/>
<rect x="214.83" y="615.99" width="5.71" height="3.04" fill="#f0a266"/>
<rect x="266.2" y="615.99" width="3" height="3.04" fill="#ffffff"/>
<rect x="195.91" y="618.73" width="5.71" height="3.04" fill="#c3c3c3"/>
<rect x="204.02" y="618.73" width="3" height="3.04" fill="#ffffff"/>
<rect x="195.91" y="621.48" width="5.71" height="3.04" fill="#c3c3c3"/>
<rect x="193.2" y="624.22" width="3" height="3.04" fill="#c3c3c3"/>
<rect x="204.02" y="624.22" width="16.52" height="3.04" fill="#ffffff"/>
<rect x="222.94" y="624.22" width="3" height="3.04" fill="#b8aae0"/>
<rect x="228.35" y="624.22" width="5.71" height="3.04" fill="#ffffff"/>
<rect x="233.76" y="624.22" width="5.71" height="3.04" fill="#e4def4"/>
<rect x="239.16" y="624.22" width="5.71" height="3.04" fill="#ffffff"/>
<rect x="244.57" y="624.22" width="8.41" height="3.04" fill="#b8aae0"/>
<rect x="258.09" y="624.22" width="3" height="3.04" fill="#ffffff"/>
<rect x="190.5" y="626.96" width="3" height="3.04" fill="#c3c3c3"/>
<rect x="190.5" y="550.2" width="78.4" height="79.5" fill="none" stroke="#a8a8a8" stroke-width="1"/>
<text x="379.8" y="533" font-size="15.4" font-weight="bold" fill="#1f10ff" text-anchor="middle">LOF</text>
<rect x="326.2" y="541" width="110.5" height="4.7" fill="#1f10ff"/>
<rect x="318.7" y="549.9" width="4.7" height="77.1" fill="#3c9c24"/>
<text transform="translate(308.8,590.9) rotate(-90)" font-size="15.5" font-weight="bold" fill="#3c9c24" text-anchor="middle">GOF</text>
<rect x="326.2" y="549.2" width="110.5" height="78.3" fill="#000000"/>
<path d="M330.01,549.2V627.5M333.82,549.2V627.5M337.63,549.2V627.5M341.44,549.2V627.5M345.25,549.2V627.5M349.06,549.2V627.5M352.87,549.2V627.5M356.68,549.2V627.5M360.49,549.2V627.5M364.3,549.2V627.5M368.11,549.2V627.5M371.92,549.2V627.5M375.73,549.2V627.5M379.54,549.2V627.5M383.36,549.2V627.5M387.17,549.2V627.5M390.98,549.2V627.5M394.79,549.2V627.5M398.6,549.2V627.5M402.41,549.2V627.5M406.22,549.2V627.5M410.03,549.2V627.5M413.84,549.2V627.5M417.65,549.2V627.5M421.46,549.2V627.5M425.27,549.2V627.5M429.08,549.2V627.5M432.89,549.2V627.5M326.2,553.12H436.7M326.2,557.03H436.7M326.2,560.95H436.7M326.2,564.86H436.7M326.2,568.78H436.7M326.2,572.69H436.7M326.2,576.61H436.7M326.2,580.52H436.7M326.2,584.44H436.7M326.2,588.35H436.7M326.2,592.26H436.7M326.2,596.18H436.7M326.2,600.1H436.7M326.2,604.01H436.7M326.2,607.92H436.7M326.2,611.84H436.7M326.2,615.75H436.7M326.2,619.67H436.7M326.2,623.59H436.7" stroke="#9a9a9a" stroke-width="0.35" opacity="0.15" fill="none"/>
<rect x="326.2" y="549.2" width="4.11" height="4.21" fill="#c3c3c3"/>
<rect x="330.01" y="549.2" width="4.11" height="4.21" fill="#ffffff"/>
<rect x="352.87" y="549.2" width="4.11" height="4.21" fill="#b8aae0"/>
<rect x="360.49" y="549.2" width="7.92" height="4.21" fill="#e4def4"/>
<rect x="352.87" y="553.12" width="4.11" height="4.21" fill="#e4def4"/>
<rect x="390.98" y="553.12" width="7.92" height="4.21" fill="#ffffff"/>
<rect x="406.22" y="553.12" width="4.11" height="4.21" fill="#ffffff"/>
<rect x="330.01" y="557.03" width="4.11" height="4.21" fill="#b8aae0"/>
<rect x="341.44" y="557.03" width="4.11" height="4.21" fill="#c3c3c3"/>
<rect x="352.87" y="557.03" width="4.11" height="4.21" fill="#ffffff"/>
<rect x="360.49" y="557.03" width="4.11" height="4.21" fill="#ecb48a"/>
<rect x="364.3" y="557.03" width="4.11" height="4.21" fill="#ffffff"/>
<rect x="375.73" y="557.03" width="4.11" height="4.21" fill="#ffffff"/>
<rect x="383.36" y="557.03" width="4.11" height="4.21" fill="#f8dcc2"/>
<rect x="390.98" y="557.03" width="4.11" height="4.21" fill="#ffffff"/>
<rect x="394.79" y="557.03" width="4.11" height="4.21" fill="#f8dcc2"/>
<rect x="398.6" y="557.03" width="4.11" height="4.21" fill="#e4def4"/>
<rect x="406.22" y="557.03" width="7.92" height="4.21" fill="#ffffff"/>
<rect x="413.84" y="557.03" width="4.11" height="4.21" fill="#f8dcc2"/>
<rect x="417.65" y="557.03" width="4.11" height="4.21" fill="#ecb48a"/>
<rect x="429.08" y="557.03" width="4.11" height="4.21" fill="#f8dcc2"/>
<rect x="432.89" y="557.03" width="4.11" height="4.21" fill="#ecb48a"/>
<rect x="345.25" y="560.95" width="4.11" height="4.21" fill="#c3c3c3"/>
<rect x="356.68" y="560.95" width="4.11" height="4.21" fill="#f8dcc2"/>
<rect x="360.49" y="560.95" width="4.11" height="4.21" fill="#ecb48a"/>
<rect x="364.3" y="560.95" width="4.11" height="4.21" fill="#e96f26"/>
<rect x="375.73" y="560.95" width="4.11" height="4.21" fill="#f0a266"/>
<rect x="379.54" y="560.95" width="4.11" height="4.21" fill="#ffffff"/>
<rect x="383.36" y="560.95" width="4.11" height="4.21" fill="#ecb48a"/>
<rect x="387.17" y="560.95" width="4.11" height="4.21" fill="#e96f26"/>
<rect x="390.98" y="560.95" width="4.11" height="4.21" fill="#f8dcc2"/>
<rect x="398.6" y="560.95" width="4.11" height="4.21" fill="#ffffff"/>
<rect x="406.22" y="560.95" width="4.11" height="4.21" fill="#ffffff"/>
<rect x="410.03" y="560.95" width="4.11" height="4.21" fill="#ecb48a"/>
<rect x="413.84" y="560.95" width="4.11" height="4.21" fill="#e96f26"/>
<rect x="417.65" y="560.95" width="4.11" height="4.21" fill="#ffffff"/>
<rect x="429.08" y="560.95" width="7.92" height="4.21" fill="#e96f26"/>
<rect x="330.01" y="564.86" width="4.11" height="4.21" fill="#f8dcc2"/>
<rect x="345.25" y="564.86" width="4.11" height="4.21" fill="#c3c3c3"/>
<rect x="352.87" y="564.86" width="4.11" height="4.21" fill="#ffffff"/>
<rect x="356.68" y="564.86" width="4.11" height="4.21" fill="#ecb48a"/>
<rect x="360.49" y="564.86" width="7.92" height="4.21" fill="#e96f26"/>
<rect x="368.11" y="564.86" width="4.11" height="4.21" fill="#ecb48a"/>
<rect x="375.73" y="564.86" width="4.11" height="4.21" fill="#e96f26"/>
<rect x="379.54" y="564.86" width="7.92" height="4.21" fill="#ecb48a"/>
<rect x="387.17" y="564.86" width="7.92" height="4.21" fill="#f8dcc2"/>
<rect x="394.79" y="564.86" width="4.11" height="4.21" fill="#e96f26"/>
<rect x="398.6" y="564.86" width="4.11" height="4.21" fill="#f8dcc2"/>
<rect x="406.22" y="564.86" width="4.11" height="4.21" fill="#f8dcc2"/>
<rect x="410.03" y="564.86" width="7.92" height="4.21" fill="#e96f26"/>
<rect x="417.65" y="564.86" width="4.11" height="4.21" fill="#ecb48a"/>
<rect x="425.27" y="564.86" width="4.11" height="4.21" fill="#ffffff"/>
<rect x="429.08" y="564.86" width="7.92" height="4.21" fill="#e96f26"/>
<rect x="330.01" y="568.78" width="4.11" height="4.21" fill="#f8dcc2"/>
<rect x="345.25" y="568.78" width="4.11" height="4.21" fill="#c3c3c3"/>
<rect x="349.06" y="568.78" width="4.11" height="4.21" fill="#ffffff"/>
<rect x="352.87" y="568.78" width="7.92" height="4.21" fill="#ecb48a"/>
<rect x="360.49" y="568.78" width="11.73" height="4.21" fill="#e96f26"/>
<rect x="375.73" y="568.78" width="4.11" height="4.21" fill="#e96f26"/>
<rect x="379.54" y="568.78" width="7.92" height="4.21" fill="#ecb48a"/>
<rect x="387.17" y="568.78" width="4.11" height="4.21" fill="#f8dcc2"/>
<rect x="390.98" y="568.78" width="4.11" height="4.21" fill="#ecb48a"/>
<rect x="394.79" y="568.78" width="4.11" height="4.21" fill="#e96f26"/>
<rect x="398.6" y="568.78" width="4.11" height="4.21" fill="#ffffff"/>
<rect x="406.22" y="568.78" width="4.11" height="4.21" fill="#ecb48a"/>
<rect x="410.03" y="568.78" width="4.11" height="4.21" fill="#e96f26"/>
<rect x="413.84" y="568.78" width="4.11" height="4.21" fill="#ecb48a"/>
<rect x="417.65" y="568.78" width="4.11" height="4.21" fill="#e96f26"/>
<rect x="425.27" y="568.78" width="4.11" height="4.21" fill="#ffffff"/>
<rect x="429.08" y="568.78" width="7.92" height="4.21" fill="#e96f26"/>
<rect x="330.01" y="572.69" width="4.11" height="4.21" fill="#ffffff"/>
<rect x="352.87" y="572.69" width="4.11" height="4.21" fill="#ffffff"/>
<rect x="360.49" y="572.69" width="7.92" height="4.21" fill="#ecb48a"/>
<rect x="368.11" y="572.69" width="4.11" height="4.21" fill="#ffffff"/>
<rect x="383.36" y="572.69" width="4.11" height="4.21" fill="#ecb48a"/>
<rect x="390.98" y="572.69" width="4.11" height="4.21" fill="#f8dcc2"/>
<rect x="394.79" y="572.69" width="7.92" height="4.21" fill="#ffffff"/>
<rect x="406.22" y="572.69" width="4.11" height="4.21" fill="#ffffff"/>
<rect x="410.03" y="572.69" width="4.11" height="4.21" fill="#f8dcc2"/>
<rect x="413.84" y="572.69" width="4.11" height="4.21" fill="#ecb48a"/>
<rect x="429.08" y="572.69" width="4.11" height="4.21" fill="#ecb48a"/>
<rect x="432.89" y="572.69" width="4.11" height="4.21" fill="#e96f26"/>
<rect x="330.01" y="576.61" width="4.11" height="4.21" fill="#ffffff"/>
<rect x="349.06" y="576.61" width="4.11" height="4.21" fill="#ffffff"/>
<rect x="352.87" y="576.61" width="7.92" height="4.21" fill="#ecb48a"/>
<rect x="360.49" y="576.61" width="4.11" height="4.21" fill="#e96f26"/>
<rect x="364.3" y="576.61" width="11.73" height="4.21" fill="#ecb48a"/>
<rect x="375.73" y="576.61" width="7.92" height="4.21" fill="#ffffff"/>
<rect x="383.36" y="576.61" width="4.11" height="4.21" fill="#e96f26"/>
<rect x="387.17" y="576.61" width="11.73" height="4.21" fill="#ecb48a"/>
<rect x="406.22" y="576.61" width="4.11" height="4.21" fill="#ecb48a"/>
<rect x="410.03" y="576.61" width="4.11" height="4.21" fill="#e96f26"/>
<rect x="413.84" y="576.61" width="4.11" height="4.21" fill="#f8dcc2"/>
<rect x="417.65" y="576.61" width="4.11" height="4.21" fill="#ffffff"/>
<rect x="429.08" y="576.61" width="4.11" height="4.21" fill="#ecb48a"/>
<rect x="432.89" y="576.61" width="4.11" height="4.21" fill="#e96f26"/>
<rect x="349.06" y="580.52" width="4.11" height="4.21" fill="#f8dcc2"/>
<rect x="356.68" y="580.52" width="4.11" height="4.21" fill="#ffffff"/>
<rect x="360.49" y="580.52" width="11.73" height="4.21" fill="#e96f26"/>
<rect x="371.92" y="580.52" width="4.11" height="4.21" fill="#ffffff"/>
<rect x="379.54" y="580.52" width="4.11" height="4.21" fill="#ffffff"/>
<rect x="383.36" y="580.52" width="4.11" height="4.21" fill="#ecb48a"/>
<rect x="387.17" y="580.52" width="4.11" height="4.21" fill="#f8dcc2"/>
<rect x="390.98" y="580.52" width="4.11" height="4.21" fill="#ecb48a"/>
<rect x="394.79" y="580.52" width="4.11" height="4.21" fill="#e96f26"/>
<rect x="406.22" y="580.52" width="4.11" height="4.21" fill="#e96f26"/>
<rect x="410.03" y="580.52" width="4.11" height="4.21" fill="#ecb48a"/>
<rect x="413.84" y="580.52" width="4.11" height="4.21" fill="#e96f26"/>
<rect x="429.08" y="580.52" width="7.92" height="4.21" fill="#e96f26"/>
<rect x="330.01" y="584.44" width="4.11" height="4.21" fill="#f8dcc2"/>
<rect x="345.25" y="584.44" width="4.11" height="4.21" fill="#ecb48a"/>
<rect x="349.06" y="584.44" width="4.11" height="4.21" fill="#e96f26"/>
<rect x="352.87" y="584.44" width="4.11" height="4.21" fill="#f8dcc2"/>
<rect x="356.68" y="584.44" width="15.54" height="4.21" fill="#e96f26"/>
<rect x="371.92" y="584.44" width="4.11" height="4.21" fill="#ecb48a"/>
<rect x="375.73" y="584.44" width="4.11" height="4.21" fill="#c3c3c3"/>
<rect x="379.54" y="584.44" width="4.11" height="4.21" fill="#ecb48a"/>
<rect x="383.36" y="584.44" width="4.11" height="4.21" fill="#e96f26"/>
<rect x="387.17" y="584.44" width="11.73" height="4.21" fill="#ecb48a"/>
<rect x="398.6" y="584.44" width="4.11" height="4.21" fill="#ffffff"/>
<rect x="406.22" y="584.44" width="4.11" height="4.21" fill="#ecb48a"/>
<rect x="410.03" y="584.44" width="7.92" height="4.21" fill="#e96f26"/>
<rect x="417.65" y="584.44" width="4.11" height="4.21" fill="#ffffff"/>
<rect x="429.08" y="584.44" width="4.11" height="4.21" fill="#e96f26"/>
<rect x="432.89" y="584.44" width="4.11" height="4.21" fill="#ecb48a"/>
<rect x="330.01" y="588.35" width="4.11" height="4.21" fill="#ffffff"/>
<rect x="349.06" y="588.35" width="11.73" height="4.21" fill="#ffffff"/>
<rect x="360.49" y="588.35" width="4.11" height="4.21" fill="#ecb48a"/>
<rect x="364.3" y="588.35" width="4.11" height="4.21" fill="#f8dcc2"/>
<rect x="368.11" y="588.35" width="4.11" height="4.21" fill="#ecb48a"/>
<rect x="371.92" y="588.35" width="4.11" height="4.21" fill="#f8dcc2"/>
<rect x="375.73" y="588.35" width="4.11" height="4.21" fill="#c3c3c3"/>
<rect x="379.54" y="588.35" width="4.11" height="4.21" fill="#ecb48a"/>
<rect x="383.36" y="588.35" width="4.11" height="4.21" fill="#f8dcc2"/>
<rect x="387.17" y="588.35" width="4.11" height="4.21" fill="#ecb48a"/>
<rect x="390.98" y="588.35" width="4.11" height="4.21" fill="#f8dcc2"/>
<rect x="394.79" y="588.35" width="4.11" height="4.21" fill="#ecb48a"/>
<rect x="398.6" y="588.35" width="4.11" height="4.21" fill="#ffffff"/>
<rect x="406.22" y="588.35" width="4.11" height="4.21" fill="#f8dcc2"/>
<rect x="410.03" y="588.35" width="4.11" height="4.21" fill="#ecb48a"/>
<rect x="413.84" y="588.35" width="4.11" height="4.21" fill="#f8dcc2"/>
<rect x="417.65" y="588.35" width="4.11" height="4.21" fill="#ecb48a"/>
<rect x="425.27" y="588.35" width="4.11" height="4.21" fill="#f8dcc2"/>
<rect x="429.08" y="588.35" width="7.92" height="4.21" fill="#e96f26"/>
<rect x="330.01" y="592.26" width="4.11" height="4.21" fill="#f8dcc2"/>
<rect x="349.06" y="592.26" width="11.73" height="4.21" fill="#ffffff"/>
<rect x="360.49" y="592.26" width="4.11" height="4.21" fill="#e96f26"/>
<rect x="364.3" y="592.26" width="4.11" height="4.21" fill="#f8dcc2"/>
<rect x="368.11" y="592.26" width="7.92" height="4.21" fill="#ecb48a"/>
<rect x="375.73" y="592.26" width="4.11" height="4.21" fill="#f8dcc2"/>
<rect x="379.54" y="592.26" width="4.11" height="4.21" fill="#ecb48a"/>
<rect x="383.36" y="592.26" width="4.11" height="4.21" fill="#f8dcc2"/>
<rect x="387.17" y="592.26" width="11.73" height="4.21" fill="#ecb48a"/>
<rect x="398.6" y="592.26" width="4.11" height="4.21" fill="#ffffff"/>
<rect x="406.22" y="592.26" width="4.11" height="4.21" fill="#f8dcc2"/>
<rect x="410.03" y="592.26" width="4.11" height="4.21" fill="#ffffff"/>
<rect x="413.84" y="592.26" width="7.92" height="4.21" fill="#e96f26"/>
<rect x="429.08" y="592.26" width="7.92" height="4.21" fill="#e96f26"/>
<rect x="360.49" y="596.18" width="4.11" height="4.21" fill="#e96f26"/>
<rect x="364.3" y="596.18" width="4.11" height="4.21" fill="#ecb48a"/>
<rect x="375.73" y="596.18" width="11.73" height="4.21" fill="#e96f26"/>
<rect x="387.17" y="596.18" width="4.11" height="4.21" fill="#f0a266"/>
<rect x="390.98" y="596.18" width="4.11" height="4.21" fill="#e96f26"/>
<rect x="394.79" y="596.18" width="4.11" height="4.21" fill="#ffffff"/>
<rect x="410.03" y="596.18" width="7.92" height="4.21" fill="#ecb48a"/>
<rect x="429.08" y="596.18" width="7.92" height="4.21" fill="#e96f26"/>
<rect x="330.01" y="600.1" width="4.11" height="4.21" fill="#ffffff"/>
<rect x="345.25" y="600.1" width="4.11" height="4.21" fill="#ffffff"/>
<rect x="349.06" y="600.1" width="4.11" height="4.21" fill="#f8dcc2"/>
<rect x="352.87" y="600.1" width="4.11" height="4.21" fill="#ffffff"/>
<rect x="356.68" y="600.1" width="4.11" height="4.21" fill="#e4def4"/>
<rect x="360.49" y="600.1" width="4.11" height="4.21" fill="#f8dcc2"/>
<rect x="364.3" y="600.1" width="4.11" height="4.21" fill="#ffffff"/>
<rect x="368.11" y="600.1" width="4.11" height="4.21" fill="#f8dcc2"/>
<rect x="371.92" y="600.1" width="7.92" height="4.21" fill="#ffffff"/>
<rect x="379.54" y="600.1" width="4.11" height="4.21" fill="#f8dcc2"/>
<rect x="383.36" y="600.1" width="4.11" height="4.21" fill="#ecb48a"/>
<rect x="387.17" y="600.1" width="4.11" height="4.21" fill="#ffffff"/>
<rect x="390.98" y="600.1" width="4.11" height="4.21" fill="#f8dcc2"/>
<rect x="394.79" y="600.1" width="4.11" height="4.21" fill="#e96f26"/>
<rect x="398.6" y="600.1" width="4.11" height="4.21" fill="#f8dcc2"/>
<rect x="406.22" y="600.1" width="4.11" height="4.21" fill="#f8dcc2"/>
<rect x="410.03" y="600.1" width="4.11" height="4.21" fill="#ffffff"/>
<rect x="413.84" y="600.1" width="4.11" height="4.21" fill="#ecb48a"/>
<rect x="417.65" y="600.1" width="4.11" height="4.21" fill="#e96f26"/>
<rect x="425.27" y="600.1" width="4.11" height="4.21" fill="#f8dcc2"/>
<rect x="429.08" y="600.1" width="4.11" height="4.21" fill="#e96f26"/>
<rect x="432.89" y="600.1" width="4.11" height="4.21" fill="#ecb48a"/>
<rect x="330.01" y="604.01" width="4.11" height="4.21" fill="#ffffff"/>
<rect x="337.63" y="604.01" width="4.11" height="4.21" fill="#6c4bc0"/>
<rect x="349.06" y="604.01" width="26.97" height="4.21" fill="#ffffff"/>
<rect x="375.73" y="604.01" width="4.11" height="4.21" fill="#e4def4"/>
<rect x="383.36" y="604.01" width="4.11" height="4.21" fill="#e4def4"/>
<rect x="387.17" y="604.01" width="7.92" height="4.21" fill="#ffffff"/>
<rect x="394.79" y="604.01" width="4.11" height="4.21" fill="#ecb48a"/>
<rect x="398.6" y="604.01" width="4.11" height="4.21" fill="#e4def4"/>
<rect x="406.22" y="604.01" width="7.92" height="4.21" fill="#ffffff"/>
<rect x="413.84" y="604.01" width="7.92" height="4.21" fill="#ecb48a"/>
<rect x="421.46" y="604.01" width="4.11" height="4.21" fill="#e4def4"/>
<rect x="425.27" y="604.01" width="4.11" height="4.21" fill="#ecb48a"/>
<rect x="429.08" y="604.01" width="4.11" height="4.21" fill="#e96f26"/>
<rect x="432.89" y="604.01" width="4.11" height="4.21" fill="#f8dcc2"/>
<rect x="330.01" y="607.92" width="4.11" height="4.21" fill="#ffffff"/>
<rect x="352.87" y="607.92" width="4.11" height="4.21" fill="#ffffff"/>
<rect x="360.49" y="607.92" width="4.11" height="4.21" fill="#ffffff"/>
<rect x="364.3" y="607.92" width="4.11" height="4.21" fill="#f8dcc2"/>
<rect x="368.11" y="607.92" width="7.92" height="4.21" fill="#ffffff"/>
<rect x="379.54" y="607.92" width="7.92" height="4.21" fill="#ffffff"/>
<rect x="390.98" y="607.92" width="4.11" height="4.21" fill="#ffffff"/>
<rect x="394.79" y="607.92" width="4.11" height="4.21" fill="#ecb48a"/>
<rect x="398.6" y="607.92" width="4.11" height="4.21" fill="#ffffff"/>
<rect x="406.22" y="607.92" width="11.73" height="4.21" fill="#ffffff"/>
<rect x="425.27" y="607.92" width="4.11" height="4.21" fill="#c3c3c3"/>
<rect x="432.89" y="607.92" width="4.11" height="4.21" fill="#f8dcc2"/>
<rect x="330.01" y="611.84" width="4.11" height="4.21" fill="#ffffff"/>
<rect x="349.06" y="611.84" width="4.11" height="4.21" fill="#f8dcc2"/>
<rect x="352.87" y="611.84" width="7.92" height="4.21" fill="#ffffff"/>
<rect x="360.49" y="611.84" width="4.11" height="4.21" fill="#ecb48a"/>
<rect x="364.3" y="611.84" width="4.11" height="4.21" fill="#e96f26"/>
<rect x="368.11" y="611.84" width="4.11" height="4.21" fill="#ecb48a"/>
<rect x="371.92" y="611.84" width="4.11" height="4.21" fill="#f8dcc2"/>
<rect x="375.73" y="611.84" width="4.11" height="4.21" fill="#ecb48a"/>
<rect x="379.54" y="611.84" width="4.11" height="4.21" fill="#ffffff"/>
<rect x="383.36" y="611.84" width="4.11" height="4.21" fill="#e96f26"/>
<rect x="387.17" y="611.84" width="4.11" height="4.21" fill="#f8dcc2"/>
<rect x="390.98" y="611.84" width="4.11" height="4.21" fill="#ecb48a"/>
<rect x="394.79" y="611.84" width="4.11" height="4.21" fill="#e96f26"/>
<rect x="398.6" y="611.84" width="4.11" height="4.21" fill="#ecb48a"/>
<rect x="406.22" y="611.84" width="4.11" height="4.21" fill="#ecb48a"/>
<rect x="410.03" y="611.84" width="7.92" height="4.21" fill="#e96f26"/>
<rect x="417.65" y="611.84" width="4.11" height="4.21" fill="#ecb48a"/>
<rect x="425.27" y="611.84" width="4.11" height="4.21" fill="#ecb48a"/>
<rect x="429.08" y="611.84" width="4.11" height="4.21" fill="#e96f26"/>
<rect x="432.89" y="611.84" width="4.11" height="4.21" fill="#c3c3c3"/>
<rect x="330.01" y="615.75" width="4.11" height="4.21" fill="#ffffff"/>
<rect x="352.87" y="615.75" width="4.11" height="4.21" fill="#ffffff"/>
<rect x="360.49" y="615.75" width="4.11" height="4.21" fill="#ecb48a"/>
<rect x="364.3" y="615.75" width="7.92" height="4.21" fill="#ffffff"/>
<rect x="390.98" y="615.75" width="4.11" height="4.21" fill="#ffffff"/>
<rect x="432.89" y="615.75" width="4.11" height="4.21" fill="#ffffff"/>
<rect x="330.01" y="619.67" width="4.11" height="4.21" fill="#ffffff"/>
<rect x="352.87" y="619.67" width="4.11" height="4.21" fill="#ffffff"/>
<rect x="360.49" y="619.67" width="4.11" height="4.21" fill="#ffffff"/>
<rect x="364.3" y="619.67" width="4.11" height="4.21" fill="#f8dcc2"/>
<rect x="368.11" y="619.67" width="4.11" height="4.21" fill="#ffffff"/>
<rect x="371.92" y="619.67" width="4.11" height="4.21" fill="#e4def4"/>
<rect x="375.73" y="619.67" width="4.11" height="4.21" fill="#ffffff"/>
<rect x="383.36" y="619.67" width="4.11" height="4.21" fill="#ffffff"/>
<rect x="387.17" y="619.67" width="4.11" height="4.21" fill="#f8dcc2"/>
<rect x="390.98" y="619.67" width="4.11" height="4.21" fill="#ffffff"/>
<rect x="394.79" y="619.67" width="4.11" height="4.21" fill="#f8dcc2"/>
<rect x="398.6" y="619.67" width="4.11" height="4.21" fill="#ffffff"/>
<rect x="406.22" y="619.67" width="19.35" height="4.21" fill="#ffffff"/>
<rect x="432.89" y="619.67" width="4.11" height="4.21" fill="#f8dcc2"/>
<rect x="349.06" y="623.59" width="4.11" height="4.21" fill="#f8dcc2"/>
<rect x="360.49" y="623.59" width="4.11" height="4.21" fill="#e96f26"/>
<rect x="364.3" y="623.59" width="4.11" height="4.21" fill="#ecb48a"/>
<rect x="368.11" y="623.59" width="4.11" height="4.21" fill="#e96f26"/>
<rect x="371.92" y="623.59" width="4.11" height="4.21" fill="#ffffff"/>
<rect x="383.36" y="623.59" width="4.11" height="4.21" fill="#e96f26"/>
<rect x="387.17" y="623.59" width="4.11" height="4.21" fill="#ecb48a"/>
<rect x="390.98" y="623.59" width="4.11" height="4.21" fill="#f8dcc2"/>
<rect x="394.79" y="623.59" width="4.11" height="4.21" fill="#ecb48a"/>
<rect x="406.22" y="623.59" width="7.92" height="4.21" fill="#ecb48a"/>
<rect x="413.84" y="623.59" width="4.11" height="4.21" fill="#f8dcc2"/>
<rect x="429.08" y="623.59" width="4.11" height="4.21" fill="#ecb48a"/>
<rect x="432.89" y="623.59" width="4.11" height="4.21" fill="#e96f26"/>
<rect x="326.2" y="549.2" width="110.5" height="78.3" fill="none" stroke="#a8a8a8" stroke-width="1"/>
<text x="2.4" y="671.5" font-size="18" font-weight="bold" fill="#000" text-anchor="start">f</text>
<text x="97.2" y="662.5" font-size="14.3" font-weight="bold" fill="#000" text-anchor="middle">Lethal</text>
<text x="176.2" y="662.5" font-size="14.3" font-weight="bold" fill="#a3a3a3" text-anchor="middle">Un.</text>
<text x="268.3" y="662.5" font-size="14.3" font-weight="bold" fill="#1f10ff" text-anchor="middle">LOF</text>
<text x="364.5" y="662.5" font-size="14.3" font-weight="bold" fill="#3c9c24" text-anchor="middle">GOF</text>
<rect x="52" y="667.3" width="90" height="4.2" fill="#000"/>
<rect x="143" y="667.3" width="69" height="4.2" fill="#a3a3a3"/>
<rect x="212.6" y="667.3" width="114.3" height="4.2" fill="#1f10ff"/>
<rect x="327.9" y="667.3" width="77.6" height="4.2" fill="#3c9c24"/>
<rect x="44.3" y="674.7" width="4.5" height="101.8" fill="#000"/>
<text transform="translate(32.1,725.2) rotate(-90)" font-size="14.3" font-weight="bold" fill="#000" text-anchor="middle">Lethal</text>
<rect x="51.4" y="675.4" width="352.9" height="102.2" fill="#656565"/>
<path d="M55.32,675.4V777.6M59.24,675.4V777.6M63.16,675.4V777.6M67.08,675.4V777.6M71.01,675.4V777.6M74.93,675.4V777.6M78.85,675.4V777.6M82.77,675.4V777.6M86.69,675.4V777.6M90.61,675.4V777.6M94.53,675.4V777.6M98.45,675.4V777.6M102.37,675.4V777.6M106.3,675.4V777.6M110.22,675.4V777.6M114.14,675.4V777.6M118.06,675.4V777.6M121.98,675.4V777.6M125.9,675.4V777.6M129.82,675.4V777.6M133.74,675.4V777.6M137.66,675.4V777.6M141.59,675.4V777.6M145.51,675.4V777.6M149.43,675.4V777.6M153.35,675.4V777.6M157.27,675.4V777.6M161.19,675.4V777.6M165.11,675.4V777.6M169.03,675.4V777.6M172.95,675.4V777.6M176.88,675.4V777.6M180.8,675.4V777.6M184.72,675.4V777.6M188.64,675.4V777.6M192.56,675.4V777.6M196.48,675.4V777.6M200.4,675.4V777.6M204.32,675.4V777.6M208.24,675.4V777.6M212.17,675.4V777.6M216.09,675.4V777.6M220.01,675.4V777.6M223.93,675.4V777.6M227.85,675.4V777.6M231.77,675.4V777.6M235.69,675.4V777.6M239.61,675.4V777.6M243.53,675.4V777.6M247.46,675.4V777.6M251.38,675.4V777.6M255.3,675.4V777.6M259.22,675.4V777.6M263.14,675.4V777.6M267.06,675.4V777.6M270.98,675.4V777.6M274.9,675.4V777.6M278.82,675.4V777.6M282.75,675.4V777.6M286.67,675.4V777.6M290.59,675.4V777.6M294.51,675.4V777.6M298.43,675.4V777.6M302.35,675.4V777.6M306.27,675.4V777.6M310.19,675.4V777.6M314.11,675.4V777.6M318.04,675.4V777.6M321.96,675.4V777.6M325.88,675.4V777.6M329.8,675.4V777.6M333.72,675.4V777.6M337.64,675.4V777.6M341.56,675.4V777.6M345.48,675.4V777.6M349.4,675.4V777.6M353.33,675.4V777.6M357.25,675.4V777.6M361.17,675.4V777.6M365.09,675.4V777.6M369.01,675.4V777.6M372.93,675.4V777.6M376.85,675.4V777.6M380.77,675.4V777.6M384.69,675.4V777.6M388.62,675.4V777.6M392.54,675.4V777.6M396.46,675.4V777.6M400.38,675.4V777.6M51.4,679.84H404.3M51.4,684.29H404.3M51.4,688.73H404.3M51.4,693.17H404.3M51.4,697.62H404.3M51.4,702.06H404.3M51.4,706.5H404.3M51.4,710.95H404.3M51.4,715.39H404.3M51.4,719.83H404.3M51.4,724.28H404.3M51.4,728.72H404.3M51.4,733.17H404.3M51.4,737.61H404.3M51.4,742.05H404.3M51.4,746.5H404.3M51.4,750.94H404.3M51.4,755.38H404.3M51.4,759.83H404.3M51.4,764.27H404.3M51.4,768.71H404.3M51.4,773.16H404.3" stroke="#a0a0a0" stroke-width="0.35" opacity="0.18" fill="none"/>
<rect x="55.32" y="675.4" width="4.22" height="4.74" fill="#ffffff"/>
<rect x="63.16" y="675.4" width="8.14" height="4.74" fill="#ffffff"/>
<rect x="71.01" y="675.4" width="4.22" height="4.74" fill="#f0a266"/>
<rect x="74.93" y="675.4" width="8.14" height="4.74" fill="#e96f26"/>
<rect x="82.77" y="675.4" width="4.22" height="4.74" fill="#f8dcc2"/>
<rect x="86.69" y="675.4" width="12.06" height="4.74" fill="#ecb48a"/>
<rect x="102.37" y="675.4" width="4.22" height="4.74" fill="#ffffff"/>
<rect x="106.3" y="675.4" width="4.22" height="4.74" fill="#ecb48a"/>
<rect x="110.22" y="675.4" width="4.22" height="4.74" fill="#ffffff"/>
<rect x="125.9" y="675.4" width="4.22" height="4.74" fill="#e96f26"/>
<rect x="133.74" y="675.4" width="8.14" height="4.74" fill="#c3c3c3"/>
<rect x="165.11" y="675.4" width="4.22" height="4.74" fill="#ecb48a"/>
<rect x="204.32" y="675.4" width="4.22" height="4.74" fill="#e96f26"/>
<rect x="235.69" y="675.4" width="4.22" height="4.74" fill="#ecb48a"/>
<rect x="247.46" y="675.4" width="4.22" height="4.74" fill="#ffffff"/>
<rect x="251.38" y="675.4" width="8.14" height="4.74" fill="#ecb48a"/>
<rect x="259.22" y="675.4" width="4.22" height="4.74" fill="#f8dcc2"/>
<rect x="267.06" y="675.4" width="4.22" height="4.74" fill="#ecb48a"/>
<rect x="270.98" y="675.4" width="8.14" height="4.74" fill="#f8dcc2"/>
<rect x="298.43" y="675.4" width="4.22" height="4.74" fill="#ffffff"/>
<rect x="302.35" y="675.4" width="4.22" height="4.74" fill="#f8dcc2"/>
<rect x="318.04" y="675.4" width="4.22" height="4.74" fill="#f8dcc2"/>
<rect x="321.96" y="675.4" width="4.22" height="4.74" fill="#ecb48a"/>
<rect x="329.8" y="675.4" width="4.22" height="4.74" fill="#c3c3c3"/>
<rect x="349.4" y="675.4" width="4.22" height="4.74" fill="#ecb48a"/>
<rect x="55.32" y="679.84" width="12.06" height="4.74" fill="#ffffff"/>
<rect x="71.01" y="679.84" width="4.22" height="4.74" fill="#f0a266"/>
<rect x="74.93" y="679.84" width="8.14" height="4.74" fill="#ecb48a"/>
<rect x="82.77" y="679.84" width="4.22" height="4.74" fill="#f8dcc2"/>
<rect x="86.69" y="679.84" width="4.22" height="4.74" fill="#ecb48a"/>
<rect x="90.61" y="679.84" width="4.22" height="4.74" fill="#f8dcc2"/>
<rect x="94.53" y="679.84" width="4.22" height="4.74" fill="#f0a266"/>
<rect x="102.37" y="679.84" width="4.22" height="4.74" fill="#ffffff"/>
<rect x="106.3" y="679.84" width="8.14" height="4.74" fill="#f8dcc2"/>
<rect x="125.9" y="679.84" width="4.22" height="4.74" fill="#e96f26"/>
<rect x="133.74" y="679.84" width="8.14" height="4.74" fill="#c3c3c3"/>
<rect x="157.27" y="679.84" width="4.22" height="4.74" fill="#ffffff"/>
<rect x="172.95" y="679.84" width="4.22" height="4.74" fill="#ffffff"/>
<rect x="196.48" y="679.84" width="4.22" height="4.74" fill="#ecb48a"/>
<rect x="204.32" y="679.84" width="4.22" height="4.74" fill="#e96f26"/>
<rect x="216.09" y="679.84" width="4.22" height="4.74" fill="#ffffff"/>
<rect x="231.77" y="679.84" width="4.22" height="4.74" fill="#f8dcc2"/>
<rect x="247.46" y="679.84" width="8.14" height="4.74" fill="#e96f26"/>
<rect x="255.3" y="679.84" width="8.14" height="4.74" fill="#ecb48a"/>
<rect x="267.06" y="679.84" width="4.22" height="4.74" fill="#ecb48a"/>
<rect x="270.98" y="679.84" width="4.22" height="4.74" fill="#ffffff"/>
<rect x="274.9" y="679.84" width="8.14" height="4.74" fill="#ecb48a"/>
<rect x="298.43" y="679.84" width="4.22" height="4.74" fill="#f8dcc2"/>
<rect x="302.35" y="679.84" width="4.22" height="4.74" fill="#ecb48a"/>
<rect x="318.04" y="679.84" width="4.22" height="4.74" fill="#ecb48a"/>
<rect x="321.96" y="679.84" width="4.22" height="4.74" fill="#e96f26"/>
<rect x="325.88" y="679.84" width="4.22" height="4.74" fill="#ecb48a"/>
<rect x="329.8" y="679.84" width="4.22" height="4.74" fill="#c3c3c3"/>
<rect x="349.4" y="679.84" width="4.22" height="4.74" fill="#ecb48a"/>
<rect x="376.85" y="679.84" width="4.22" height="4.74" fill="#ffffff"/>
<rect x="396.46" y="679.84" width="4.22" height="4.74" fill="#ffffff"/>
<rect x="110.22" y="684.29" width="8.14" height="4.74" fill="#c3c3c3"/>
<rect x="129.82" y="684.29" width="4.22" height="4.74" fill="#c3c3c3"/>
<rect x="165.11" y="684.29" width="4.22" height="4.74" fill="#e96f26"/>
<rect x="176.88" y="684.29" width="4.22" height="4.74" fill="#ffffff"/>
<rect x="337.64" y="684.29" width="4.22" height="4.74" fill="#e96f26"/>
<rect x="341.56" y="684.29" width="4.22" height="4.74" fill="#f8dcc2"/>
<rect x="345.48" y="684.29" width="4.22" height="4.74" fill="#e96f26"/>
<rect x="357.25" y="684.29" width="4.22" height="4.74" fill="#ecb48a"/>
<rect x="361.17" y="684.29" width="4.22" height="4.74" fill="#f8dcc2"/>
<rect x="365.09" y="684.29" width="4.22" height="4.74" fill="#ffffff"/>
<rect x="372.93" y="684.29" width="8.14" height="4.74" fill="#ecb48a"/>
<rect x="388.62" y="684.29" width="4.22" height="4.74" fill="#e96f26"/>
<rect x="55.32" y="688.73" width="4.22" height="4.74" fill="#ffffff"/>
<rect x="67.08" y="688.73" width="4.22" height="4.74" fill="#ffffff"/>
<rect x="78.85" y="688.73" width="8.14" height="4.74" fill="#c3c3c3"/>
<rect x="125.9" y="688.73" width="4.22" height="4.74" fill="#c3c3c3"/>
<rect x="133.74" y="688.73" width="8.14" height="4.74" fill="#f0a266"/>
<rect x="153.35" y="688.73" width="4.22" height="4.74" fill="#ffffff"/>
<rect x="169.03" y="688.73" width="4.22" height="4.74" fill="#f8dcc2"/>
<rect x="176.88" y="688.73" width="4.22" height="4.74" fill="#f8dcc2"/>
<rect x="333.72" y="688.73" width="4.22" height="4.74" fill="#ffffff"/>
<rect x="337.64" y="688.73" width="8.14" height="4.74" fill="#e96f26"/>
<rect x="345.48" y="688.73" width="4.22" height="4.74" fill="#ecb48a"/>
<rect x="349.4" y="688.73" width="4.22" height="4.74" fill="#ffffff"/>
<rect x="353.33" y="688.73" width="15.98" height="4.74" fill="#e96f26"/>
<rect x="369.01" y="688.73" width="15.98" height="4.74" fill="#ecb48a"/>
<rect x="384.69" y="688.73" width="4.22" height="4.74" fill="#ffffff"/>
<rect x="388.62" y="688.73" width="4.22" height="4.74" fill="#e96f26"/>
<rect x="400.38" y="688.73" width="4.22" height="4.74" fill="#e96f26"/>
<rect x="121.98" y="693.17" width="4.22" height="4.74" fill="#c3c3c3"/>
<rect x="321.96" y="693.17" width="4.22" height="4.74" fill="#c3c3c3"/>
<rect x="361.17" y="693.17" width="4.22" height="4.74" fill="#ecb48a"/>
<rect x="388.62" y="693.17" width="4.22" height="4.74" fill="#c3c3c3"/>
<rect x="74.93" y="697.62" width="4.22" height="4.74" fill="#c3c3c3"/>
<rect x="118.06" y="697.62" width="4.22" height="4.74" fill="#c3c3c3"/>
<rect x="208.24" y="697.62" width="8.14" height="4.74" fill="#c3c3c3"/>
<rect x="267.06" y="697.62" width="4.22" height="4.74" fill="#ffffff"/>
<rect x="290.59" y="697.62" width="4.22" height="4.74" fill="#ffffff"/>
<rect x="110.22" y="702.06" width="8.14" height="4.74" fill="#c3c3c3"/>
<rect x="133.74" y="702.06" width="4.22" height="4.74" fill="#ffffff"/>
<rect x="137.66" y="702.06" width="4.22" height="4.74" fill="#f8dcc2"/>
<rect x="337.64" y="702.06" width="8.14" height="4.74" fill="#f8dcc2"/>
<rect x="345.48" y="702.06" width="4.22" height="4.74" fill="#ecb48a"/>
<rect x="353.33" y="702.06" width="8.14" height="4.74" fill="#ffffff"/>
<rect x="365.09" y="702.06" width="4.22" height="4.74" fill="#ecb48a"/>
<rect x="376.85" y="702.06" width="4.22" height="4.74" fill="#ecb48a"/>
<rect x="388.62" y="702.06" width="4.22" height="4.74" fill="#e96f26"/>
<rect x="63.16" y="706.5" width="4.22" height="4.74" fill="#c3c3c3"/>
<rect x="110.22" y="706.5" width="8.14" height="4.74" fill="#c3c3c3"/>
<rect x="133.74" y="706.5" width="4.22" height="4.74" fill="#ecb48a"/>
<rect x="137.66" y="706.5" width="4.22" height="4.74" fill="#f8dcc2"/>
<rect x="157.27" y="706.5" width="4.22" height="4.74" fill="#ffffff"/>
<rect x="169.03" y="706.5" width="4.22" height="4.74" fill="#f8dcc2"/>
<rect x="176.88" y="706.5" width="4.22" height="4.74" fill="#e96f26"/>
<rect x="180.8" y="706.5" width="4.22" height="4.74" fill="#f8dcc2"/>
<rect x="337.64" y="706.5" width="12.06" height="4.74" fill="#e96f26"/>
<rect x="349.4" y="706.5" width="4.22" height="4.74" fill="#ecb48a"/>
<rect x="353.33" y="706.5" width="4.22" height="4.74" fill="#e96f26"/>
<rect x="357.25" y="706.5" width="8.14" height="4.74" fill="#ecb48a"/>
<rect x="365.09" y="706.5" width="4.22" height="4.74" fill="#e96f26"/>
<rect x="369.01" y="706.5" width="8.14" height="4.74" fill="#ecb48a"/>
<rect x="376.85" y="706.5" width="4.22" height="4.74" fill="#e96f26"/>
<rect x="380.77" y="706.5" width="4.22" height="4.74" fill="#f8dcc2"/>
<rect x="384.69" y="706.5" width="4.22" height="4.74" fill="#ffffff"/>
<rect x="388.62" y="706.5" width="4.22" height="4.74" fill="#e96f26"/>
<rect x="396.46" y="706.5" width="4.22" height="4.74" fill="#ffffff"/>
<rect x="400.38" y="706.5" width="4.22" height="4.74" fill="#ecb48a"/>
<rect x="106.3" y="710.95" width="4.22" height="4.74" fill="#c3c3c3"/>
<rect x="133.74" y="710.95" width="8.14" height="4.74" fill="#ffffff"/>
<rect x="153.35" y="710.95" width="4.22" height="4.74" fill="#ecb48a"/>
<rect x="176.88" y="710.95" width="4.22" height="4.74" fill="#ecb48a"/>
<rect x="243.53" y="710.95" width="4.22" height="4.74" fill="#ffffff"/>
<rect x="306.27" y="710.95" width="8.14" height="4.74" fill="#c3c3c3"/>
<rect x="337.64" y="710.95" width="4.22" height="4.74" fill="#ecb48a"/>
<rect x="341.56" y="710.95" width="8.14" height="4.74" fill="#e96f26"/>
<rect x="349.4" y="710.95" width="4.22" height="4.74" fill="#ecb48a"/>
<rect x="353.33" y="710.95" width="4.22" height="4.74" fill="#e96f26"/>
<rect x="357.25" y="710.95" width="4.22" height="4.74" fill="#ecb48a"/>
<rect x="361.17" y="710.95" width="4.22" height="4.74" fill="#e96f26"/>
<rect x="365.09" y="710.95" width="4.22" height="4.74" fill="#ecb48a"/>
<rect x="369.01" y="710.95" width="4.22" height="4.74" fill="#e96f26"/>
<rect x="372.93" y="710.95" width="4.22" height="4.74" fill="#f8dcc2"/>
<rect x="376.85" y="710.95" width="4.22" height="4.74" fill="#e96f26"/>
<rect x="380.77" y="710.95" width="4.22" height="4.74" fill="#f8dcc2"/>
<rect x="388.62" y="710.95" width="4.22" height="4.74" fill="#e96f26"/>
<rect x="396.46" y="710.95" width="4.22" height="4.74" fill="#ffffff"/>
<rect x="400.38" y="710.95" width="4.22" height="4.74" fill="#ecb48a"/>
<rect x="59.24" y="715.39" width="4.22" height="4.74" fill="#c3c3c3"/>
<rect x="102.37" y="715.39" width="4.22" height="4.74" fill="#c3c3c3"/>
<rect x="200.4" y="715.39" width="4.22" height="4.74" fill="#c3c3c3"/>
<rect x="302.35" y="715.39" width="4.22" height="4.74" fill="#c3c3c3"/>
<rect x="337.64" y="715.39" width="4.22" height="4.74" fill="#f8dcc2"/>
<rect x="341.56" y="715.39" width="4.22" height="4.74" fill="#ecb48a"/>
<rect x="345.48" y="715.39" width="4.22" height="4.74" fill="#ffffff"/>
<rect x="353.33" y="715.39" width="4.22" height="4.74" fill="#ffffff"/>
<rect x="357.25" y="715.39" width="8.14" height="4.74" fill="#f8dcc2"/>
<rect x="365.09" y="715.39" width="4.22" height="4.74" fill="#ecb48a"/>
<rect x="369.01" y="715.39" width="8.14" height="4.74" fill="#ffffff"/>
<rect x="376.85" y="715.39" width="4.22" height="4.74" fill="#f8dcc2"/>
<rect x="388.62" y="715.39" width="4.22" height="4.74" fill="#e96f26"/>
<rect x="55.32" y="719.83" width="4.22" height="4.74" fill="#ecb48a"/>
<rect x="98.45" y="719.83" width="4.22" height="4.74" fill="#c3c3c3"/>
<rect x="133.74" y="719.83" width="8.14" height="4.74" fill="#f0a266"/>
<rect x="196.48" y="719.83" width="4.22" height="4.74" fill="#c3c3c3"/>
<rect x="74.93" y="724.28" width="4.22" height="4.74" fill="#ffffff"/>
<rect x="94.53" y="724.28" width="4.22" height="4.74" fill="#c3c3c3"/>
<rect x="133.74" y="724.28" width="4.22" height="4.74" fill="#f8dcc2"/>
<rect x="137.66" y="724.28" width="4.22" height="4.74" fill="#ffffff"/>
<rect x="153.35" y="724.28" width="4.22" height="4.74" fill="#ecb48a"/>
<rect x="157.27" y="724.28" width="4.22" height="4.74" fill="#ffffff"/>
<rect x="169.03" y="724.28" width="4.22" height="4.74" fill="#ffffff"/>
<rect x="176.88" y="724.28" width="4.22" height="4.74" fill="#e96f26"/>
<rect x="243.53" y="724.28" width="4.22" height="4.74" fill="#ffffff"/>
<rect x="259.22" y="724.28" width="8.14" height="4.74" fill="#ffffff"/>
<rect x="274.9" y="724.28" width="4.22" height="4.74" fill="#f8dcc2"/>
<rect x="333.72" y="724.28" width="4.22" height="4.74" fill="#ffffff"/>
<rect x="337.64" y="724.28" width="12.06" height="4.74" fill="#e96f26"/>
<rect x="349.4" y="724.28" width="4.22" height="4.74" fill="#ffffff"/>
<rect x="353.33" y="724.28" width="4.22" height="4.74" fill="#e96f26"/>
<rect x="357.25" y="724.28" width="4.22" height="4.74" fill="#ecb48a"/>
<rect x="361.17" y="724.28" width="15.98" height="4.74" fill="#e96f26"/>
<rect x="376.85" y="724.28" width="4.22" height="4.74" fill="#ecb48a"/>
<rect x="380.77" y="724.28" width="4.22" height="4.74" fill="#c3c3c3"/>
<rect x="388.62" y="724.28" width="4.22" height="4.74" fill="#e96f26"/>
<rect x="392.54" y="724.28" width="4.22" height="4.74" fill="#ffffff"/>
<rect x="396.46" y="724.28" width="4.22" height="4.74" fill="#ecb48a"/>
<rect x="400.38" y="724.28" width="4.22" height="4.74" fill="#e96f26"/>
<rect x="90.61" y="728.72" width="4.22" height="4.74" fill="#c3c3c3"/>
<rect x="133.74" y="728.72" width="4.22" height="4.74" fill="#f8dcc2"/>
<rect x="157.27" y="728.72" width="4.22" height="4.74" fill="#ffffff"/>
<rect x="165.11" y="728.72" width="8.14" height="4.74" fill="#ffffff"/>
<rect x="176.88" y="728.72" width="8.14" height="4.74" fill="#f8dcc2"/>
<rect x="259.22" y="728.72" width="4.22" height="4.74" fill="#ffffff"/>
<rect x="337.64" y="728.72" width="8.14" height="4.74" fill="#f8dcc2"/>
<rect x="345.48" y="728.72" width="4.22" height="4.74" fill="#ffffff"/>
<rect x="353.33" y="728.72" width="8.14" height="4.74" fill="#c3c3c3"/>
<rect x="361.17" y="728.72" width="4.22" height="4.74" fill="#f8dcc2"/>
<rect x="376.85" y="728.72" width="4.22" height="4.74" fill="#ffffff"/>
<rect x="388.62" y="728.72" width="4.22" height="4.74" fill="#f8dcc2"/>
<rect x="396.46" y="728.72" width="4.22" height="4.74" fill="#ffffff"/>
<rect x="67.08" y="733.17" width="4.22" height="4.74" fill="#f8dcc2"/>
<rect x="86.69" y="733.17" width="4.22" height="4.74" fill="#c3c3c3"/>
<rect x="125.9" y="733.17" width="4.22" height="4.74" fill="#c3c3c3"/>
<rect x="133.74" y="733.17" width="8.14" height="4.74" fill="#ecb48a"/>
<rect x="169.03" y="733.17" width="4.22" height="4.74" fill="#ecb48a"/>
<rect x="176.88" y="733.17" width="4.22" height="4.74" fill="#f8dcc2"/>
<rect x="212.17" y="733.17" width="4.22" height="4.74" fill="#c3c3c3"/>
<rect x="325.88" y="733.17" width="4.22" height="4.74" fill="#c3c3c3"/>
<rect x="337.64" y="733.17" width="4.22" height="4.74" fill="#ecb48a"/>
<rect x="341.56" y="733.17" width="4.22" height="4.74" fill="#e96f26"/>
<rect x="345.48" y="733.17" width="4.22" height="4.74" fill="#ecb48a"/>
<rect x="353.33" y="733.17" width="8.14" height="4.74" fill="#ecb48a"/>
<rect x="361.17" y="733.17" width="4.22" height="4.74" fill="#e96f26"/>
<rect x="369.01" y="733.17" width="4.22" height="4.74" fill="#e96f26"/>
<rect x="372.93" y="733.17" width="4.22" height="4.74" fill="#ffffff"/>
<rect x="376.85" y="733.17" width="8.14" height="4.74" fill="#e96f26"/>
<rect x="388.62" y="733.17" width="4.22" height="4.74" fill="#e96f26"/>
<rect x="400.38" y="733.17" width="4.22" height="4.74" fill="#ffffff"/>
<rect x="55.32" y="737.61" width="4.22" height="4.74" fill="#ecb48a"/>
<rect x="78.85" y="737.61" width="8.14" height="4.74" fill="#c3c3c3"/>
<rect x="125.9" y="737.61" width="4.22" height="4.74" fill="#c3c3c3"/>
<rect x="133.74" y="737.61" width="8.14" height="4.74" fill="#f0a266"/>
<rect x="337.64" y="737.61" width="4.22" height="4.74" fill="#ecb48a"/>
<rect x="341.56" y="737.61" width="4.22" height="4.74" fill="#e96f26"/>
<rect x="345.48" y="737.61" width="4.22" height="4.74" fill="#ecb48a"/>
<rect x="353.33" y="737.61" width="4.22" height="4.74" fill="#ecb48a"/>
<rect x="357.25" y="737.61" width="4.22" height="4.74" fill="#e96f26"/>
<rect x="361.17" y="737.61" width="4.22" height="4.74" fill="#ecb48a"/>
<rect x="369.01" y="737.61" width="8.14" height="4.74" fill="#e96f26"/>
<rect x="388.62" y="737.61" width="4.22" height="4.74" fill="#ecb48a"/>
<rect x="400.38" y="737.61" width="4.22" height="4.74" fill="#ecb48a"/>
<rect x="55.32" y="742.05" width="4.22" height="4.74" fill="#f8dcc2"/>
<rect x="67.08" y="742.05" width="4.22" height="4.74" fill="#f8dcc2"/>
<rect x="78.85" y="742.05" width="8.14" height="4.74" fill="#c3c3c3"/>
<rect x="90.61" y="742.05" width="4.22" height="4.74" fill="#ffffff"/>
<rect x="118.06" y="742.05" width="4.22" height="4.74" fill="#c3c3c3"/>
<rect x="133.74" y="742.05" width="8.14" height="4.74" fill="#ecb48a"/>
<rect x="153.35" y="742.05" width="4.22" height="4.74" fill="#ecb48a"/>
<rect x="169.03" y="742.05" width="4.22" height="4.74" fill="#e96f26"/>
<rect x="176.88" y="742.05" width="4.22" height="4.74" fill="#ecb48a"/>
<rect x="333.72" y="742.05" width="4.22" height="4.74" fill="#ffffff"/>
<rect x="337.64" y="742.05" width="4.22" height="4.74" fill="#ecb48a"/>
<rect x="341.56" y="742.05" width="4.22" height="4.74" fill="#e96f26"/>
<rect x="345.48" y="742.05" width="4.22" height="4.74" fill="#f8dcc2"/>
<rect x="349.4" y="742.05" width="4.22" height="4.74" fill="#ecb48a"/>
<rect x="353.33" y="742.05" width="19.91" height="4.74" fill="#e96f26"/>
<rect x="372.93" y="742.05" width="4.22" height="4.74" fill="#ffffff"/>
<rect x="376.85" y="742.05" width="4.22" height="4.74" fill="#e96f26"/>
<rect x="380.77" y="742.05" width="4.22" height="4.74" fill="#ecb48a"/>
<rect x="384.69" y="742.05" width="4.22" height="4.74" fill="#ffffff"/>
<rect x="388.62" y="742.05" width="4.22" height="4.74" fill="#e96f26"/>
<rect x="396.46" y="742.05" width="4.22" height="4.74" fill="#f8dcc2"/>
<rect x="400.38" y="742.05" width="4.22" height="4.74" fill="#e96f26"/>
<rect x="55.32" y="746.5" width="4.22" height="4.74" fill="#ffffff"/>
<rect x="74.93" y="746.5" width="4.22" height="4.74" fill="#c3c3c3"/>
<rect x="133.74" y="746.5" width="8.14" height="4.74" fill="#f0a266"/>
<rect x="153.35" y="746.5" width="4.22" height="4.74" fill="#f8dcc2"/>
<rect x="169.03" y="746.5" width="4.22" height="4.74" fill="#ffffff"/>
<rect x="176.88" y="746.5" width="4.22" height="4.74" fill="#ecb48a"/>
<rect x="208.24" y="746.5" width="4.22" height="4.74" fill="#c3c3c3"/>
<rect x="243.53" y="746.5" width="4.22" height="4.74" fill="#ffffff"/>
<rect x="329.8" y="746.5" width="8.14" height="4.74" fill="#ecb48a"/>
<rect x="337.64" y="746.5" width="12.06" height="4.74" fill="#e96f26"/>
<rect x="349.4" y="746.5" width="8.14" height="4.74" fill="#ecb48a"/>
<rect x="357.25" y="746.5" width="4.22" height="4.74" fill="#e96f26"/>
<rect x="361.17" y="746.5" width="4.22" height="4.74" fill="#ecb48a"/>
<rect x="365.09" y="746.5" width="8.14" height="4.74" fill="#f8dcc2"/>
<rect x="372.93" y="746.5" width="8.14" height="4.74" fill="#ecb48a"/>
<rect x="380.77" y="746.5" width="8.14" height="4.74" fill="#ffffff"/>
<rect x="388.62" y="746.5" width="4.22" height="4.74" fill="#e96f26"/>
<rect x="396.46" y="746.5" width="4.22" height="4.74" fill="#ecb48a"/>
<rect x="400.38" y="746.5" width="4.22" height="4.74" fill="#e96f26"/>
<rect x="71.01" y="750.94" width="4.22" height="4.74" fill="#c3c3c3"/>
<rect x="74.93" y="750.94" width="4.22" height="4.74" fill="#f8dcc2"/>
<rect x="82.77" y="750.94" width="4.22" height="4.74" fill="#f8dcc2"/>
<rect x="125.9" y="750.94" width="4.22" height="4.74" fill="#ffffff"/>
<rect x="133.74" y="750.94" width="8.14" height="4.74" fill="#ecb48a"/>
<rect x="204.32" y="750.94" width="4.22" height="4.74" fill="#c3c3c3"/>
<rect x="318.04" y="750.94" width="4.22" height="4.74" fill="#c3c3c3"/>
<rect x="337.64" y="750.94" width="12.06" height="4.74" fill="#e96f26"/>
<rect x="349.4" y="750.94" width="4.22" height="4.74" fill="#ffffff"/>
<rect x="353.33" y="750.94" width="15.98" height="4.74" fill="#e96f26"/>
<rect x="369.01" y="750.94" width="12.06" height="4.74" fill="#ecb48a"/>
<rect x="380.77" y="750.94" width="4.22" height="4.74" fill="#f8dcc2"/>
<rect x="388.62" y="750.94" width="4.22" height="4.74" fill="#e96f26"/>
<rect x="400.38" y="750.94" width="4.22" height="4.74" fill="#e96f26"/>
<rect x="67.08" y="755.38" width="4.22" height="4.74" fill="#c3c3c3"/>
<rect x="106.3" y="755.38" width="4.22" height="4.74" fill="#c3c3c3"/>
<rect x="133.74" y="755.38" width="8.14" height="4.74" fill="#ffffff"/>
<rect x="314.11" y="755.38" width="4.22" height="4.74" fill="#c3c3c3"/>
<rect x="384.69" y="755.38" width="4.22" height="4.74" fill="#c3c3c3"/>
<rect x="63.16" y="759.83" width="4.22" height="4.74" fill="#c3c3c3"/>
<rect x="98.45" y="759.83" width="4.22" height="4.74" fill="#c3c3c3"/>
<rect x="133.74" y="759.83" width="4.22" height="4.74" fill="#ffffff"/>
<rect x="196.48" y="759.83" width="4.22" height="4.74" fill="#c3c3c3"/>
<rect x="306.27" y="759.83" width="8.14" height="4.74" fill="#c3c3c3"/>
<rect x="337.64" y="759.83" width="8.14" height="4.74" fill="#f8dcc2"/>
<rect x="345.48" y="759.83" width="4.22" height="4.74" fill="#ecb48a"/>
<rect x="353.33" y="759.83" width="8.14" height="4.74" fill="#f8dcc2"/>
<rect x="365.09" y="759.83" width="4.22" height="4.74" fill="#ecb48a"/>
<rect x="369.01" y="759.83" width="4.22" height="4.74" fill="#ffffff"/>
<rect x="376.85" y="759.83" width="4.22" height="4.74" fill="#ecb48a"/>
<rect x="380.77" y="759.83" width="4.22" height="4.74" fill="#f8dcc2"/>
<rect x="388.62" y="759.83" width="4.22" height="4.74" fill="#ecb48a"/>
<rect x="400.38" y="759.83" width="4.22" height="4.74" fill="#ffffff"/>
<rect x="59.24" y="764.27" width="4.22" height="4.74" fill="#c3c3c3"/>
<rect x="133.74" y="764.27" width="4.22" height="4.74" fill="#ffffff"/>
<rect x="337.64" y="764.27" width="8.14" height="4.74" fill="#f8dcc2"/>
<rect x="345.48" y="764.27" width="4.22" height="4.74" fill="#ffffff"/>
<rect x="353.33" y="764.27" width="4.22" height="4.74" fill="#ffffff"/>
<rect x="357.25" y="764.27" width="4.22" height="4.74" fill="#ecb48a"/>
<rect x="361.17" y="764.27" width="8.14" height="4.74" fill="#ffffff"/>
<rect x="388.62" y="764.27" width="4.22" height="4.74" fill="#f8dcc2"/>
<rect x="51.4" y="768.71" width="8.14" height="4.74" fill="#c3c3c3"/>
<rect x="71.01" y="768.71" width="4.22" height="4.74" fill="#ffffff"/>
<rect x="74.93" y="768.71" width="8.14" height="4.74" fill="#f8dcc2"/>
<rect x="94.53" y="768.71" width="4.22" height="4.74" fill="#f8dcc2"/>
<rect x="125.9" y="768.71" width="4.22" height="4.74" fill="#ffffff"/>
<rect x="172.95" y="768.71" width="4.22" height="4.74" fill="#ffffff"/>
<rect x="247.46" y="768.71" width="4.22" height="4.74" fill="#f8dcc2"/>
<rect x="251.38" y="768.71" width="8.14" height="4.74" fill="#ffffff"/>
<rect x="270.98" y="768.71" width="4.22" height="4.74" fill="#ffffff"/>
<rect x="282.75" y="768.71" width="4.22" height="4.74" fill="#ffffff"/>
<rect x="302.35" y="768.71" width="4.22" height="4.74" fill="#ffffff"/>
<rect x="321.96" y="768.71" width="4.22" height="4.74" fill="#ecb48a"/>
<rect x="349.4" y="768.71" width="4.22" height="4.74" fill="#c3c3c3"/>
<rect x="51.4" y="773.16" width="8.14" height="4.74" fill="#c3c3c3"/>
<rect x="247.46" y="773.16" width="4.22" height="4.74" fill="#ffffff"/>
<rect x="251.38" y="773.16" width="4.22" height="4.74" fill="#f8dcc2"/>
<rect x="349.4" y="773.16" width="4.22" height="4.74" fill="#c3c3c3"/>
<rect x="51.4" y="675.4" width="352.9" height="102.2" fill="none" stroke="#b5b5b5" stroke-width="1"/>
<line x1="406.6" y1="677" x2="406.6" y2="683.6" stroke="#000" stroke-width="1"/>
<line x1="410" y1="679.7" x2="433.3" y2="679.7" stroke="#000" stroke-width="1"/>
<path d="M407.6,679.7 L412.6,677.4 L412.6,682 Z" fill="#000"/>
<text x="442.3" y="685.8" font-size="13.8" fill="#111" text-anchor="start">A1076F, A1076N</text>
<text x="1.6" y="818" font-size="18" font-weight="bold" fill="#000" text-anchor="start">g</text>
<text x="94.3" y="812.1" font-size="14.3" font-weight="bold" fill="#000" text-anchor="middle">Lethal</text>
<text x="173.9" y="812.1" font-size="14.3" font-weight="bold" fill="#a3a3a3" text-anchor="middle">Un.</text>
<text x="265" y="812.1" font-size="14.3" font-weight="bold" fill="#1f10ff" text-anchor="middle">LOF</text>
<text x="362.5" y="812.1" font-size="14.3" font-weight="bold" fill="#3c9c24" text-anchor="middle">GOF</text>
<rect x="49.8" y="817.6" width="89.9" height="4.2" fill="#000"/>
<rect x="140.7" y="817.6" width="69" height="4.2" fill="#a3a3a3"/>
<rect x="211.2" y="817.6" width="113.5" height="4.2" fill="#1f10ff"/>
<rect x="326" y="817.6" width="78" height="4.2" fill="#3c9c24"/>
<rect x="41.8" y="825" width="4.8" height="80.3" fill="#a3a3a3"/>
<text transform="translate(32.1,865.2) rotate(-90)" font-size="14.3" font-weight="bold" fill="#a3a3a3" text-anchor="middle">Un.</text>
<rect x="48.6" y="824.8" width="353.7" height="81.2" fill="#656565"/>
<path d="M52.53,824.8V906M56.46,824.8V906M60.39,824.8V906M64.32,824.8V906M68.25,824.8V906M72.18,824.8V906M76.11,824.8V906M80.04,824.8V906M83.97,824.8V906M87.9,824.8V906M91.83,824.8V906M95.76,824.8V906M99.69,824.8V906M103.62,824.8V906M107.55,824.8V906M111.48,824.8V906M115.41,824.8V906M119.34,824.8V906M123.27,824.8V906M127.2,824.8V906M131.13,824.8V906M135.06,824.8V906M138.99,824.8V906M142.92,824.8V906M146.85,824.8V906M150.78,824.8V906M154.71,824.8V906M158.64,824.8V906M162.57,824.8V906M166.5,824.8V906M170.43,824.8V906M174.36,824.8V906M178.29,824.8V906M182.22,824.8V906M186.15,824.8V906M190.08,824.8V906M194.01,824.8V906M197.94,824.8V906M201.87,824.8V906M205.8,824.8V906M209.73,824.8V906M213.66,824.8V906M217.59,824.8V906M221.52,824.8V906M225.45,824.8V906M229.38,824.8V906M233.31,824.8V906M237.24,824.8V906M241.17,824.8V906M245.1,824.8V906M249.03,824.8V906M252.96,824.8V906M256.89,824.8V906M260.82,824.8V906M264.75,824.8V906M268.68,824.8V906M272.61,824.8V906M276.54,824.8V906M280.47,824.8V906M284.4,824.8V906M288.33,824.8V906M292.26,824.8V906M296.19,824.8V906M300.12,824.8V906M304.05,824.8V906M307.98,824.8V906M311.91,824.8V906M315.84,824.8V906M319.77,824.8V906M323.7,824.8V906M327.63,824.8V906M331.56,824.8V906M335.49,824.8V906M339.42,824.8V906M343.35,824.8V906M347.28,824.8V906M351.21,824.8V906M355.14,824.8V906M359.07,824.8V906M363,824.8V906M366.93,824.8V906M370.86,824.8V906M374.79,824.8V906M378.72,824.8V906M382.65,824.8V906M386.58,824.8V906M390.51,824.8V906M394.44,824.8V906M398.37,824.8V906M48.6,829.31H402.3M48.6,833.82H402.3M48.6,838.33H402.3M48.6,842.84H402.3M48.6,847.36H402.3M48.6,851.87H402.3M48.6,856.38H402.3M48.6,860.89H402.3M48.6,865.4H402.3M48.6,869.91H402.3M48.6,874.42H402.3M48.6,878.93H402.3M48.6,883.44H402.3M48.6,887.96H402.3M48.6,892.47H402.3M48.6,896.98H402.3M48.6,901.49H402.3" stroke="#a0a0a0" stroke-width="0.35" opacity="0.18" fill="none"/>
<rect x="72.18" y="824.8" width="4.23" height="4.81" fill="#c3c3c3"/>
<rect x="115.41" y="824.8" width="4.23" height="4.81" fill="#c3c3c3"/>
<rect x="138.99" y="824.8" width="27.81" height="4.81" fill="#000000"/>
<rect x="166.5" y="824.8" width="4.23" height="4.81" fill="#f8dcc2"/>
<rect x="170.43" y="824.8" width="35.67" height="4.81" fill="#000000"/>
<rect x="205.8" y="824.8" width="4.23" height="4.81" fill="#c3c3c3"/>
<rect x="209.73" y="824.8" width="122.13" height="4.81" fill="#000000"/>
<rect x="331.56" y="824.8" width="4.23" height="4.81" fill="#f8dcc2"/>
<rect x="335.49" y="824.8" width="4.23" height="4.81" fill="#ecb48a"/>
<rect x="339.42" y="824.8" width="4.23" height="4.81" fill="#f8dcc2"/>
<rect x="343.35" y="824.8" width="4.23" height="4.81" fill="#ecb48a"/>
<rect x="347.28" y="824.8" width="4.23" height="4.81" fill="#000000"/>
<rect x="351.21" y="824.8" width="4.23" height="4.81" fill="#ecb48a"/>
<rect x="355.14" y="824.8" width="4.23" height="4.81" fill="#f8dcc2"/>
<rect x="359.07" y="824.8" width="4.23" height="4.81" fill="#ecb48a"/>
<rect x="363" y="824.8" width="4.23" height="4.81" fill="#ffffff"/>
<rect x="366.93" y="824.8" width="4.23" height="4.81" fill="#f8dcc2"/>
<rect x="370.86" y="824.8" width="4.23" height="4.81" fill="#000000"/>
<rect x="374.79" y="824.8" width="4.23" height="4.81" fill="#ecb48a"/>
<rect x="378.72" y="824.8" width="4.23" height="4.81" fill="#ffffff"/>
<rect x="382.65" y="824.8" width="4.23" height="4.81" fill="#000000"/>
<rect x="386.58" y="824.8" width="4.23" height="4.81" fill="#ecb48a"/>
<rect x="390.51" y="824.8" width="8.16" height="4.81" fill="#000000"/>
<rect x="398.37" y="824.8" width="4.23" height="4.81" fill="#ffffff"/>
<rect x="68.25" y="829.31" width="4.23" height="4.81" fill="#c3c3c3"/>
<rect x="131.13" y="829.31" width="8.16" height="4.81" fill="#e96f26"/>
<rect x="138.99" y="829.31" width="12.09" height="4.81" fill="#000000"/>
<rect x="150.78" y="829.31" width="4.23" height="4.81" fill="#e4def4"/>
<rect x="154.71" y="829.31" width="4.23" height="4.81" fill="#b8aae0"/>
<rect x="158.64" y="829.31" width="8.16" height="4.81" fill="#000000"/>
<rect x="166.5" y="829.31" width="4.23" height="4.81" fill="#b8aae0"/>
<rect x="170.43" y="829.31" width="4.23" height="4.81" fill="#000000"/>
<rect x="174.36" y="829.31" width="4.23" height="4.81" fill="#ffffff"/>
<rect x="178.29" y="829.31" width="4.23" height="4.81" fill="#e4def4"/>
<rect x="182.22" y="829.31" width="19.95" height="4.81" fill="#000000"/>
<rect x="201.87" y="829.31" width="4.23" height="4.81" fill="#c3c3c3"/>
<rect x="205.8" y="829.31" width="35.67" height="4.81" fill="#000000"/>
<rect x="241.17" y="829.31" width="4.23" height="4.81" fill="#ffffff"/>
<rect x="245.1" y="829.31" width="67.11" height="4.81" fill="#000000"/>
<rect x="311.91" y="829.31" width="4.23" height="4.81" fill="#c3c3c3"/>
<rect x="315.84" y="829.31" width="12.09" height="4.81" fill="#000000"/>
<rect x="327.63" y="829.31" width="4.23" height="4.81" fill="#ffffff"/>
<rect x="331.56" y="829.31" width="12.09" height="4.81" fill="#e96f26"/>
<rect x="343.35" y="829.31" width="4.23" height="4.81" fill="#ecb48a"/>
<rect x="347.28" y="829.31" width="12.09" height="4.81" fill="#e96f26"/>
<rect x="359.07" y="829.31" width="4.23" height="4.81" fill="#f8dcc2"/>
<rect x="363" y="829.31" width="8.16" height="4.81" fill="#e96f26"/>
<rect x="370.86" y="829.31" width="8.16" height="4.81" fill="#ecb48a"/>
<rect x="378.72" y="829.31" width="4.23" height="4.81" fill="#ffffff"/>
<rect x="382.65" y="829.31" width="4.23" height="4.81" fill="#000000"/>
<rect x="386.58" y="829.31" width="4.23" height="4.81" fill="#ecb48a"/>
<rect x="390.51" y="829.31" width="8.16" height="4.81" fill="#000000"/>
<rect x="398.37" y="829.31" width="4.23" height="4.81" fill="#e96f26"/>
<rect x="99.69" y="833.82" width="4.23" height="4.81" fill="#c3c3c3"/>
<rect x="138.99" y="833.82" width="23.88" height="4.81" fill="#ffffff"/>
<rect x="162.57" y="833.82" width="4.23" height="4.81" fill="#e4def4"/>
<rect x="166.5" y="833.82" width="4.23" height="4.81" fill="#ffffff"/>
<rect x="170.43" y="833.82" width="4.23" height="4.81" fill="#e4def4"/>
<rect x="174.36" y="833.82" width="8.16" height="4.81" fill="#ffffff"/>
<rect x="182.22" y="833.82" width="16.02" height="4.81" fill="#000000"/>
<rect x="197.94" y="833.82" width="4.23" height="4.81" fill="#c3c3c3"/>
<rect x="201.87" y="833.82" width="12.09" height="4.81" fill="#000000"/>
<rect x="213.66" y="833.82" width="4.23" height="4.81" fill="#ffffff"/>
<rect x="217.59" y="833.82" width="16.02" height="4.81" fill="#000000"/>
<rect x="233.31" y="833.82" width="4.23" height="4.81" fill="#e4def4"/>
<rect x="237.24" y="833.82" width="8.16" height="4.81" fill="#ffffff"/>
<rect x="245.1" y="833.82" width="8.16" height="4.81" fill="#000000"/>
<rect x="252.96" y="833.82" width="4.23" height="4.81" fill="#e4def4"/>
<rect x="256.89" y="833.82" width="19.95" height="4.81" fill="#000000"/>
<rect x="276.54" y="833.82" width="4.23" height="4.81" fill="#e4def4"/>
<rect x="280.47" y="833.82" width="4.23" height="4.81" fill="#000000"/>
<rect x="284.4" y="833.82" width="4.23" height="4.81" fill="#e4def4"/>
<rect x="288.33" y="833.82" width="4.23" height="4.81" fill="#000000"/>
<rect x="292.26" y="833.82" width="4.23" height="4.81" fill="#6c4bc0"/>
<rect x="296.19" y="833.82" width="4.23" height="4.81" fill="#000000"/>
<rect x="300.12" y="833.82" width="4.23" height="4.81" fill="#c3c3c3"/>
<rect x="304.05" y="833.82" width="4.23" height="4.81" fill="#000000"/>
<rect x="307.98" y="833.82" width="4.23" height="4.81" fill="#ffffff"/>
<rect x="311.91" y="833.82" width="16.02" height="4.81" fill="#000000"/>
<rect x="327.63" y="833.82" width="8.16" height="4.81" fill="#ffffff"/>
<rect x="335.49" y="833.82" width="4.23" height="4.81" fill="#000000"/>
<rect x="339.42" y="833.82" width="4.23" height="4.81" fill="#ffffff"/>
<rect x="343.35" y="833.82" width="4.23" height="4.81" fill="#f8dcc2"/>
<rect x="347.28" y="833.82" width="4.23" height="4.81" fill="#ffffff"/>
<rect x="351.21" y="833.82" width="4.23" height="4.81" fill="#ecb48a"/>
<rect x="355.14" y="833.82" width="4.23" height="4.81" fill="#ffffff"/>
<rect x="359.07" y="833.82" width="4.23" height="4.81" fill="#f8dcc2"/>
<rect x="363" y="833.82" width="8.16" height="4.81" fill="#ffffff"/>
<rect x="370.86" y="833.82" width="4.23" height="4.81" fill="#000000"/>
<rect x="374.79" y="833.82" width="12.09" height="4.81" fill="#ffffff"/>
<rect x="386.58" y="833.82" width="4.23" height="4.81" fill="#f8dcc2"/>
<rect x="390.51" y="833.82" width="8.16" height="4.81" fill="#ffffff"/>
<rect x="398.37" y="833.82" width="4.23" height="4.81" fill="#000000"/>
<rect x="56.46" y="838.33" width="4.23" height="4.81" fill="#c3c3c3"/>
<rect x="95.76" y="838.33" width="4.23" height="4.81" fill="#c3c3c3"/>
<rect x="131.13" y="838.33" width="4.23" height="4.81" fill="#ecb48a"/>
<rect x="138.99" y="838.33" width="12.09" height="4.81" fill="#000000"/>
<rect x="150.78" y="838.33" width="4.23" height="4.81" fill="#ffffff"/>
<rect x="154.71" y="838.33" width="39.6" height="4.81" fill="#000000"/>
<rect x="194.01" y="838.33" width="4.23" height="4.81" fill="#c3c3c3"/>
<rect x="197.94" y="838.33" width="23.88" height="4.81" fill="#000000"/>
<rect x="221.52" y="838.33" width="4.23" height="4.81" fill="#ffffff"/>
<rect x="225.45" y="838.33" width="67.11" height="4.81" fill="#000000"/>
<rect x="292.26" y="838.33" width="4.23" height="4.81" fill="#f8dcc2"/>
<rect x="296.19" y="838.33" width="31.74" height="4.81" fill="#000000"/>
<rect x="327.63" y="838.33" width="8.16" height="4.81" fill="#ffffff"/>
<rect x="335.49" y="838.33" width="8.16" height="4.81" fill="#e96f26"/>
<rect x="343.35" y="838.33" width="4.23" height="4.81" fill="#f8dcc2"/>
<rect x="347.28" y="838.33" width="4.23" height="4.81" fill="#ffffff"/>
<rect x="351.21" y="838.33" width="4.23" height="4.81" fill="#ecb48a"/>
<rect x="355.14" y="838.33" width="12.09" height="4.81" fill="#e96f26"/>
<rect x="366.93" y="838.33" width="4.23" height="4.81" fill="#f8dcc2"/>
<rect x="370.86" y="838.33" width="4.23" height="4.81" fill="#000000"/>
<rect x="374.79" y="838.33" width="4.23" height="4.81" fill="#ecb48a"/>
<rect x="378.72" y="838.33" width="4.23" height="4.81" fill="#ffffff"/>
<rect x="382.65" y="838.33" width="4.23" height="4.81" fill="#000000"/>
<rect x="386.58" y="838.33" width="4.23" height="4.81" fill="#ecb48a"/>
<rect x="390.51" y="838.33" width="8.16" height="4.81" fill="#000000"/>
<rect x="398.37" y="838.33" width="4.23" height="4.81" fill="#f8dcc2"/>
<rect x="138.99" y="842.84" width="43.53" height="4.81" fill="#000000"/>
<rect x="182.22" y="842.84" width="12.09" height="4.81" fill="#c3c3c3"/>
<rect x="194.01" y="842.84" width="208.59" height="4.81" fill="#000000"/>
<rect x="138.99" y="847.36" width="43.53" height="4.81" fill="#000000"/>
<rect x="182.22" y="847.36" width="12.09" height="4.81" fill="#c3c3c3"/>
<rect x="194.01" y="847.36" width="208.59" height="4.81" fill="#000000"/>
<rect x="138.99" y="851.87" width="4.23" height="4.81" fill="#ffffff"/>
<rect x="142.92" y="851.87" width="4.23" height="4.81" fill="#000000"/>
<rect x="146.85" y="851.87" width="4.23" height="4.81" fill="#ffffff"/>
<rect x="150.78" y="851.87" width="4.23" height="4.81" fill="#000000"/>
<rect x="154.71" y="851.87" width="8.16" height="4.81" fill="#e4def4"/>
<rect x="162.57" y="851.87" width="4.23" height="4.81" fill="#000000"/>
<rect x="166.5" y="851.87" width="8.16" height="4.81" fill="#e4def4"/>
<rect x="174.36" y="851.87" width="4.23" height="4.81" fill="#ffffff"/>
<rect x="178.29" y="851.87" width="4.23" height="4.81" fill="#e4def4"/>
<rect x="182.22" y="851.87" width="12.09" height="4.81" fill="#c3c3c3"/>
<rect x="194.01" y="851.87" width="19.95" height="4.81" fill="#000000"/>
<rect x="213.66" y="851.87" width="4.23" height="4.81" fill="#e4def4"/>
<rect x="217.59" y="851.87" width="55.32" height="4.81" fill="#000000"/>
<rect x="272.61" y="851.87" width="4.23" height="4.81" fill="#ffffff"/>
<rect x="276.54" y="851.87" width="51.39" height="4.81" fill="#000000"/>
<rect x="327.63" y="851.87" width="4.23" height="4.81" fill="#ffffff"/>
<rect x="331.56" y="851.87" width="63.18" height="4.81" fill="#000000"/>
<rect x="394.44" y="851.87" width="4.23" height="4.81" fill="#ffffff"/>
<rect x="398.37" y="851.87" width="4.23" height="4.81" fill="#000000"/>
<rect x="87.9" y="856.38" width="4.23" height="4.81" fill="#f8dcc2"/>
<rect x="107.55" y="856.38" width="4.23" height="4.81" fill="#f8dcc2"/>
<rect x="138.99" y="856.38" width="31.74" height="4.81" fill="#ffffff"/>
<rect x="170.43" y="856.38" width="12.09" height="4.81" fill="#c3c3c3"/>
<rect x="182.22" y="856.38" width="4.23" height="4.81" fill="#e4def4"/>
<rect x="186.15" y="856.38" width="12.09" height="4.81" fill="#000000"/>
<rect x="197.94" y="856.38" width="4.23" height="4.81" fill="#ffffff"/>
<rect x="201.87" y="856.38" width="4.23" height="4.81" fill="#e4def4"/>
<rect x="205.8" y="856.38" width="8.16" height="4.81" fill="#000000"/>
<rect x="213.66" y="856.38" width="4.23" height="4.81" fill="#ffffff"/>
<rect x="217.59" y="856.38" width="12.09" height="4.81" fill="#000000"/>
<rect x="229.38" y="856.38" width="12.09" height="4.81" fill="#ffffff"/>
<rect x="241.17" y="856.38" width="4.23" height="4.81" fill="#e4def4"/>
<rect x="245.1" y="856.38" width="16.02" height="4.81" fill="#ffffff"/>
<rect x="260.82" y="856.38" width="4.23" height="4.81" fill="#f8dcc2"/>
<rect x="264.75" y="856.38" width="16.02" height="4.81" fill="#ffffff"/>
<rect x="280.47" y="856.38" width="4.23" height="4.81" fill="#ecb48a"/>
<rect x="284.4" y="856.38" width="4.23" height="4.81" fill="#ffffff"/>
<rect x="288.33" y="856.38" width="4.23" height="4.81" fill="#000000"/>
<rect x="292.26" y="856.38" width="12.09" height="4.81" fill="#ffffff"/>
<rect x="304.05" y="856.38" width="4.23" height="4.81" fill="#ecb48a"/>
<rect x="307.98" y="856.38" width="8.16" height="4.81" fill="#ffffff"/>
<rect x="315.84" y="856.38" width="4.23" height="4.81" fill="#ecb48a"/>
<rect x="319.77" y="856.38" width="8.16" height="4.81" fill="#ffffff"/>
<rect x="327.63" y="856.38" width="4.23" height="4.81" fill="#000000"/>
<rect x="331.56" y="856.38" width="4.23" height="4.81" fill="#e4def4"/>
<rect x="335.49" y="856.38" width="4.23" height="4.81" fill="#000000"/>
<rect x="339.42" y="856.38" width="4.23" height="4.81" fill="#e4def4"/>
<rect x="343.35" y="856.38" width="4.23" height="4.81" fill="#ffffff"/>
<rect x="347.28" y="856.38" width="4.23" height="4.81" fill="#b8aae0"/>
<rect x="351.21" y="856.38" width="4.23" height="4.81" fill="#f8dcc2"/>
<rect x="355.14" y="856.38" width="4.23" height="4.81" fill="#000000"/>
<rect x="359.07" y="856.38" width="8.16" height="4.81" fill="#ffffff"/>
<rect x="366.93" y="856.38" width="4.23" height="4.81" fill="#b8aae0"/>
<rect x="370.86" y="856.38" width="4.23" height="4.81" fill="#000000"/>
<rect x="374.79" y="856.38" width="4.23" height="4.81" fill="#c3c3c3"/>
<rect x="378.72" y="856.38" width="4.23" height="4.81" fill="#e4def4"/>
<rect x="382.65" y="856.38" width="4.23" height="4.81" fill="#000000"/>
<rect x="386.58" y="856.38" width="4.23" height="4.81" fill="#b8aae0"/>
<rect x="390.51" y="856.38" width="4.23" height="4.81" fill="#000000"/>
<rect x="394.44" y="856.38" width="4.23" height="4.81" fill="#e4def4"/>
<rect x="398.37" y="856.38" width="4.23" height="4.81" fill="#000000"/>
<rect x="72.18" y="860.89" width="8.16" height="4.81" fill="#ecb48a"/>
<rect x="83.97" y="860.89" width="8.16" height="4.81" fill="#f8dcc2"/>
<rect x="91.83" y="860.89" width="4.23" height="4.81" fill="#e96f26"/>
<rect x="103.62" y="860.89" width="4.23" height="4.81" fill="#ecb48a"/>
<rect x="107.55" y="860.89" width="4.23" height="4.81" fill="#e96f26"/>
<rect x="123.27" y="860.89" width="4.23" height="4.81" fill="#f8dcc2"/>
<rect x="127.2" y="860.89" width="4.23" height="4.81" fill="#ffffff"/>
<rect x="138.99" y="860.89" width="12.09" height="4.81" fill="#ffffff"/>
<rect x="150.78" y="860.89" width="4.23" height="4.81" fill="#e4def4"/>
<rect x="154.71" y="860.89" width="16.02" height="4.81" fill="#ffffff"/>
<rect x="170.43" y="860.89" width="12.09" height="4.81" fill="#c3c3c3"/>
<rect x="182.22" y="860.89" width="4.23" height="4.81" fill="#ffffff"/>
<rect x="186.15" y="860.89" width="12.09" height="4.81" fill="#000000"/>
<rect x="197.94" y="860.89" width="8.16" height="4.81" fill="#ffffff"/>
<rect x="205.8" y="860.89" width="8.16" height="4.81" fill="#000000"/>
<rect x="213.66" y="860.89" width="4.23" height="4.81" fill="#ffffff"/>
<rect x="217.59" y="860.89" width="12.09" height="4.81" fill="#000000"/>
<rect x="229.38" y="860.89" width="39.6" height="4.81" fill="#ffffff"/>
<rect x="268.68" y="860.89" width="4.23" height="4.81" fill="#f8dcc2"/>
<rect x="272.61" y="860.89" width="4.23" height="4.81" fill="#ffffff"/>
<rect x="276.54" y="860.89" width="4.23" height="4.81" fill="#e4def4"/>
<rect x="280.47" y="860.89" width="4.23" height="4.81" fill="#ecb48a"/>
<rect x="284.4" y="860.89" width="4.23" height="4.81" fill="#ffffff"/>
<rect x="288.33" y="860.89" width="4.23" height="4.81" fill="#000000"/>
<rect x="292.26" y="860.89" width="4.23" height="4.81" fill="#e4def4"/>
<rect x="296.19" y="860.89" width="4.23" height="4.81" fill="#ffffff"/>
<rect x="300.12" y="860.89" width="4.23" height="4.81" fill="#f8dcc2"/>
<rect x="304.05" y="860.89" width="4.23" height="4.81" fill="#ecb48a"/>
<rect x="307.98" y="860.89" width="4.23" height="4.81" fill="#ffffff"/>
<rect x="311.91" y="860.89" width="4.23" height="4.81" fill="#f8dcc2"/>
<rect x="315.84" y="860.89" width="4.23" height="4.81" fill="#ecb48a"/>
<rect x="319.77" y="860.89" width="4.23" height="4.81" fill="#f8dcc2"/>
<rect x="323.7" y="860.89" width="27.81" height="4.81" fill="#000000"/>
<rect x="351.21" y="860.89" width="4.23" height="4.81" fill="#f8dcc2"/>
<rect x="355.14" y="860.89" width="4.23" height="4.81" fill="#000000"/>
<rect x="359.07" y="860.89" width="8.16" height="4.81" fill="#ffffff"/>
<rect x="366.93" y="860.89" width="8.16" height="4.81" fill="#000000"/>
<rect x="374.79" y="860.89" width="4.23" height="4.81" fill="#c3c3c3"/>
<rect x="378.72" y="860.89" width="4.23" height="4.81" fill="#b8aae0"/>
<rect x="382.65" y="860.89" width="19.95" height="4.81" fill="#000000"/>
<rect x="52.53" y="865.4" width="4.23" height="4.81" fill="#ffffff"/>
<rect x="131.13" y="865.4" width="4.23" height="4.81" fill="#ffffff"/>
<rect x="138.99" y="865.4" width="19.95" height="4.81" fill="#ffffff"/>
<rect x="158.64" y="865.4" width="4.23" height="4.81" fill="#e4def4"/>
<rect x="162.57" y="865.4" width="8.16" height="4.81" fill="#ffffff"/>
<rect x="170.43" y="865.4" width="12.09" height="4.81" fill="#c3c3c3"/>
<rect x="182.22" y="865.4" width="4.23" height="4.81" fill="#e4def4"/>
<rect x="186.15" y="865.4" width="12.09" height="4.81" fill="#000000"/>
<rect x="197.94" y="865.4" width="4.23" height="4.81" fill="#e4def4"/>
<rect x="201.87" y="865.4" width="12.09" height="4.81" fill="#000000"/>
<rect x="213.66" y="865.4" width="4.23" height="4.81" fill="#ffffff"/>
<rect x="217.59" y="865.4" width="4.23" height="4.81" fill="#000000"/>
<rect x="221.52" y="865.4" width="16.02" height="4.81" fill="#ffffff"/>
<rect x="237.24" y="865.4" width="4.23" height="4.81" fill="#e4def4"/>
<rect x="241.17" y="865.4" width="4.23" height="4.81" fill="#000000"/>
<rect x="245.1" y="865.4" width="4.23" height="4.81" fill="#6c4bc0"/>
<rect x="249.03" y="865.4" width="4.23" height="4.81" fill="#b8aae0"/>
<rect x="252.96" y="865.4" width="4.23" height="4.81" fill="#e4def4"/>
<rect x="256.89" y="865.4" width="8.16" height="4.81" fill="#ffffff"/>
<rect x="264.75" y="865.4" width="4.23" height="4.81" fill="#000000"/>
<rect x="268.68" y="865.4" width="4.23" height="4.81" fill="#ffffff"/>
<rect x="272.61" y="865.4" width="4.23" height="4.81" fill="#e4def4"/>
<rect x="276.54" y="865.4" width="12.09" height="4.81" fill="#ffffff"/>
<rect x="288.33" y="865.4" width="4.23" height="4.81" fill="#000000"/>
<rect x="292.26" y="865.4" width="4.23" height="4.81" fill="#e4def4"/>
<rect x="296.19" y="865.4" width="23.88" height="4.81" fill="#000000"/>
<rect x="319.77" y="865.4" width="4.23" height="4.81" fill="#ffffff"/>
<rect x="323.7" y="865.4" width="4.23" height="4.81" fill="#e4def4"/>
<rect x="327.63" y="865.4" width="4.23" height="4.81" fill="#ffffff"/>
<rect x="331.56" y="865.4" width="4.23" height="4.81" fill="#000000"/>
<rect x="335.49" y="865.4" width="16.02" height="4.81" fill="#ffffff"/>
<rect x="351.21" y="865.4" width="4.23" height="4.81" fill="#ecb48a"/>
<rect x="355.14" y="865.4" width="8.16" height="4.81" fill="#f8dcc2"/>
<rect x="363" y="865.4" width="8.16" height="4.81" fill="#ffffff"/>
<rect x="370.86" y="865.4" width="4.23" height="4.81" fill="#000000"/>
<rect x="374.79" y="865.4" width="4.23" height="4.81" fill="#c3c3c3"/>
<rect x="378.72" y="865.4" width="19.95" height="4.81" fill="#ffffff"/>
<rect x="398.37" y="865.4" width="4.23" height="4.81" fill="#000000"/>
<rect x="72.18" y="869.91" width="4.23" height="4.81" fill="#ffffff"/>
<rect x="76.11" y="869.91" width="4.23" height="4.81" fill="#e96f26"/>
<rect x="83.97" y="869.91" width="4.23" height="4.81" fill="#ecb48a"/>
<rect x="87.9" y="869.91" width="8.16" height="4.81" fill="#ffffff"/>
<rect x="107.55" y="869.91" width="4.23" height="4.81" fill="#f8dcc2"/>
<rect x="123.27" y="869.91" width="4.23" height="4.81" fill="#f8dcc2"/>
<rect x="138.99" y="869.91" width="4.23" height="4.81" fill="#ffffff"/>
<rect x="142.92" y="869.91" width="4.23" height="4.81" fill="#e4def4"/>
<rect x="146.85" y="869.91" width="16.02" height="4.81" fill="#ffffff"/>
<rect x="162.57" y="869.91" width="8.16" height="4.81" fill="#c3c3c3"/>
<rect x="170.43" y="869.91" width="12.09" height="4.81" fill="#ffffff"/>
<rect x="182.22" y="869.91" width="4.23" height="4.81" fill="#e4def4"/>
<rect x="186.15" y="869.91" width="12.09" height="4.81" fill="#000000"/>
<rect x="197.94" y="869.91" width="4.23" height="4.81" fill="#ffffff"/>
<rect x="201.87" y="869.91" width="4.23" height="4.81" fill="#6c4bc0"/>
<rect x="205.8" y="869.91" width="4.23" height="4.81" fill="#f8dcc2"/>
<rect x="209.73" y="869.91" width="4.23" height="4.81" fill="#000000"/>
<rect x="213.66" y="869.91" width="4.23" height="4.81" fill="#ffffff"/>
<rect x="217.59" y="869.91" width="8.16" height="4.81" fill="#000000"/>
<rect x="225.45" y="869.91" width="4.23" height="4.81" fill="#ffffff"/>
<rect x="229.38" y="869.91" width="4.23" height="4.81" fill="#e4def4"/>
<rect x="233.31" y="869.91" width="27.81" height="4.81" fill="#ffffff"/>
<rect x="260.82" y="869.91" width="4.23" height="4.81" fill="#ecb48a"/>
<rect x="264.75" y="869.91" width="16.02" height="4.81" fill="#ffffff"/>
<rect x="280.47" y="869.91" width="4.23" height="4.81" fill="#ecb48a"/>
<rect x="284.4" y="869.91" width="4.23" height="4.81" fill="#ffffff"/>
<rect x="288.33" y="869.91" width="4.23" height="4.81" fill="#000000"/>
<rect x="292.26" y="869.91" width="4.23" height="4.81" fill="#ffffff"/>
<rect x="296.19" y="869.91" width="4.23" height="4.81" fill="#f8dcc2"/>
<rect x="300.12" y="869.91" width="4.23" height="4.81" fill="#ffffff"/>
<rect x="304.05" y="869.91" width="4.23" height="4.81" fill="#f8dcc2"/>
<rect x="307.98" y="869.91" width="4.23" height="4.81" fill="#ffffff"/>
<rect x="311.91" y="869.91" width="4.23" height="4.81" fill="#ecb48a"/>
<rect x="315.84" y="869.91" width="8.16" height="4.81" fill="#e4def4"/>
<rect x="323.7" y="869.91" width="4.23" height="4.81" fill="#ffffff"/>
<rect x="327.63" y="869.91" width="4.23" height="4.81" fill="#e4def4"/>
<rect x="331.56" y="869.91" width="12.09" height="4.81" fill="#000000"/>
<rect x="343.35" y="869.91" width="4.23" height="4.81" fill="#e4def4"/>
<rect x="347.28" y="869.91" width="4.23" height="4.81" fill="#b8aae0"/>
<rect x="351.21" y="869.91" width="4.23" height="4.81" fill="#ecb48a"/>
<rect x="355.14" y="869.91" width="8.16" height="4.81" fill="#000000"/>
<rect x="363" y="869.91" width="4.23" height="4.81" fill="#e4def4"/>
<rect x="366.93" y="869.91" width="8.16" height="4.81" fill="#c3c3c3"/>
<rect x="374.79" y="869.91" width="8.16" height="4.81" fill="#ffffff"/>
<rect x="382.65" y="869.91" width="4.23" height="4.81" fill="#e4def4"/>
<rect x="386.58" y="869.91" width="4.23" height="4.81" fill="#ffffff"/>
<rect x="390.51" y="869.91" width="12.09" height="4.81" fill="#000000"/>
<rect x="87.9" y="874.42" width="4.23" height="4.81" fill="#ffffff"/>
<rect x="127.2" y="874.42" width="4.23" height="4.81" fill="#e96f26"/>
<rect x="135.06" y="874.42" width="4.23" height="4.81" fill="#ecb48a"/>
<rect x="138.99" y="874.42" width="4.23" height="4.81" fill="#ffffff"/>
<rect x="142.92" y="874.42" width="4.23" height="4.81" fill="#6c4bc0"/>
<rect x="146.85" y="874.42" width="4.23" height="4.81" fill="#e4def4"/>
<rect x="150.78" y="874.42" width="8.16" height="4.81" fill="#ffffff"/>
<rect x="158.64" y="874.42" width="4.23" height="4.81" fill="#e4def4"/>
<rect x="162.57" y="874.42" width="8.16" height="4.81" fill="#c3c3c3"/>
<rect x="170.43" y="874.42" width="12.09" height="4.81" fill="#ffffff"/>
<rect x="182.22" y="874.42" width="16.02" height="4.81" fill="#000000"/>
<rect x="197.94" y="874.42" width="4.23" height="4.81" fill="#e4def4"/>
<rect x="201.87" y="874.42" width="12.09" height="4.81" fill="#000000"/>
<rect x="213.66" y="874.42" width="4.23" height="4.81" fill="#ffffff"/>
<rect x="217.59" y="874.42" width="8.16" height="4.81" fill="#000000"/>
<rect x="225.45" y="874.42" width="4.23" height="4.81" fill="#ffffff"/>
<rect x="229.38" y="874.42" width="4.23" height="4.81" fill="#e4def4"/>
<rect x="233.31" y="874.42" width="4.23" height="4.81" fill="#ffffff"/>
<rect x="237.24" y="874.42" width="4.23" height="4.81" fill="#e4def4"/>
<rect x="241.17" y="874.42" width="16.02" height="4.81" fill="#ffffff"/>
<rect x="256.89" y="874.42" width="4.23" height="4.81" fill="#e4def4"/>
<rect x="260.82" y="874.42" width="23.88" height="4.81" fill="#ffffff"/>
<rect x="284.4" y="874.42" width="8.16" height="4.81" fill="#000000"/>
<rect x="292.26" y="874.42" width="4.23" height="4.81" fill="#b8aae0"/>
<rect x="296.19" y="874.42" width="4.23" height="4.81" fill="#6c4bc0"/>
<rect x="300.12" y="874.42" width="8.16" height="4.81" fill="#000000"/>
<rect x="307.98" y="874.42" width="4.23" height="4.81" fill="#ffffff"/>
<rect x="311.91" y="874.42" width="8.16" height="4.81" fill="#000000"/>
<rect x="319.77" y="874.42" width="4.23" height="4.81" fill="#b8aae0"/>
<rect x="323.7" y="874.42" width="4.23" height="4.81" fill="#000000"/>
<rect x="327.63" y="874.42" width="4.23" height="4.81" fill="#b8aae0"/>
<rect x="331.56" y="874.42" width="4.23" height="4.81" fill="#ecb48a"/>
<rect x="335.49" y="874.42" width="4.23" height="4.81" fill="#f8dcc2"/>
<rect x="339.42" y="874.42" width="8.16" height="4.81" fill="#ecb48a"/>
<rect x="347.28" y="874.42" width="4.23" height="4.81" fill="#e4def4"/>
<rect x="351.21" y="874.42" width="4.23" height="4.81" fill="#ecb48a"/>
<rect x="355.14" y="874.42" width="4.23" height="4.81" fill="#f8dcc2"/>
<rect x="359.07" y="874.42" width="4.23" height="4.81" fill="#e96f26"/>
<rect x="363" y="874.42" width="4.23" height="4.81" fill="#f8dcc2"/>
<rect x="366.93" y="874.42" width="8.16" height="4.81" fill="#c3c3c3"/>
<rect x="374.79" y="874.42" width="4.23" height="4.81" fill="#e4def4"/>
<rect x="378.72" y="874.42" width="8.16" height="4.81" fill="#ffffff"/>
<rect x="386.58" y="874.42" width="4.23" height="4.81" fill="#f8dcc2"/>
<rect x="390.51" y="874.42" width="4.23" height="4.81" fill="#000000"/>
<rect x="394.44" y="874.42" width="4.23" height="4.81" fill="#b8aae0"/>
<rect x="398.37" y="874.42" width="4.23" height="4.81" fill="#000000"/>
<rect x="138.99" y="878.93" width="19.95" height="4.81" fill="#ffffff"/>
<rect x="158.64" y="878.93" width="4.23" height="4.81" fill="#c3c3c3"/>
<rect x="162.57" y="878.93" width="4.23" height="4.81" fill="#e4def4"/>
<rect x="166.5" y="878.93" width="16.02" height="4.81" fill="#ffffff"/>
<rect x="182.22" y="878.93" width="4.23" height="4.81" fill="#e4def4"/>
<rect x="186.15" y="878.93" width="12.09" height="4.81" fill="#000000"/>
<rect x="197.94" y="878.93" width="4.23" height="4.81" fill="#ffffff"/>
<rect x="201.87" y="878.93" width="12.09" height="4.81" fill="#000000"/>
<rect x="213.66" y="878.93" width="4.23" height="4.81" fill="#ffffff"/>
<rect x="217.59" y="878.93" width="4.23" height="4.81" fill="#000000"/>
<rect x="221.52" y="878.93" width="4.23" height="4.81" fill="#ffffff"/>
<rect x="225.45" y="878.93" width="8.16" height="4.81" fill="#e4def4"/>
<rect x="233.31" y="878.93" width="8.16" height="4.81" fill="#ffffff"/>
<rect x="241.17" y="878.93" width="8.16" height="4.81" fill="#000000"/>
<rect x="249.03" y="878.93" width="4.23" height="4.81" fill="#e4def4"/>
<rect x="252.96" y="878.93" width="4.23" height="4.81" fill="#ffffff"/>
<rect x="256.89" y="878.93" width="4.23" height="4.81" fill="#000000"/>
<rect x="260.82" y="878.93" width="4.23" height="4.81" fill="#c3c3c3"/>
<rect x="264.75" y="878.93" width="4.23" height="4.81" fill="#e4def4"/>
<rect x="268.68" y="878.93" width="4.23" height="4.81" fill="#6c4bc0"/>
<rect x="272.61" y="878.93" width="4.23" height="4.81" fill="#ffffff"/>
<rect x="276.54" y="878.93" width="16.02" height="4.81" fill="#000000"/>
<rect x="292.26" y="878.93" width="4.23" height="4.81" fill="#e4def4"/>
<rect x="296.19" y="878.93" width="4.23" height="4.81" fill="#6c4bc0"/>
<rect x="300.12" y="878.93" width="8.16" height="4.81" fill="#000000"/>
<rect x="307.98" y="878.93" width="4.23" height="4.81" fill="#ffffff"/>
<rect x="311.91" y="878.93" width="8.16" height="4.81" fill="#000000"/>
<rect x="319.77" y="878.93" width="4.23" height="4.81" fill="#b8aae0"/>
<rect x="323.7" y="878.93" width="4.23" height="4.81" fill="#e4def4"/>
<rect x="327.63" y="878.93" width="16.02" height="4.81" fill="#ffffff"/>
<rect x="343.35" y="878.93" width="4.23" height="4.81" fill="#f8dcc2"/>
<rect x="347.28" y="878.93" width="4.23" height="4.81" fill="#ffffff"/>
<rect x="351.21" y="878.93" width="8.16" height="4.81" fill="#000000"/>
<rect x="359.07" y="878.93" width="4.23" height="4.81" fill="#f8dcc2"/>
<rect x="363" y="878.93" width="23.88" height="4.81" fill="#ffffff"/>
<rect x="386.58" y="878.93" width="4.23" height="4.81" fill="#ecb48a"/>
<rect x="390.51" y="878.93" width="8.16" height="4.81" fill="#ffffff"/>
<rect x="398.37" y="878.93" width="4.23" height="4.81" fill="#000000"/>
<rect x="87.9" y="883.44" width="8.16" height="4.81" fill="#ffffff"/>
<rect x="107.55" y="883.44" width="4.23" height="4.81" fill="#ffffff"/>
<rect x="131.13" y="883.44" width="4.23" height="4.81" fill="#ffffff"/>
<rect x="138.99" y="883.44" width="4.23" height="4.81" fill="#ffffff"/>
<rect x="142.92" y="883.44" width="4.23" height="4.81" fill="#000000"/>
<rect x="146.85" y="883.44" width="4.23" height="4.81" fill="#ffffff"/>
<rect x="150.78" y="883.44" width="8.16" height="4.81" fill="#c3c3c3"/>
<rect x="158.64" y="883.44" width="23.88" height="4.81" fill="#ffffff"/>
<rect x="182.22" y="883.44" width="4.23" height="4.81" fill="#e4def4"/>
<rect x="186.15" y="883.44" width="12.09" height="4.81" fill="#000000"/>
<rect x="197.94" y="883.44" width="4.23" height="4.81" fill="#ffffff"/>
<rect x="201.87" y="883.44" width="4.23" height="4.81" fill="#e4def4"/>
<rect x="205.8" y="883.44" width="8.16" height="4.81" fill="#000000"/>
<rect x="213.66" y="883.44" width="4.23" height="4.81" fill="#ffffff"/>
<rect x="217.59" y="883.44" width="4.23" height="4.81" fill="#000000"/>
<rect x="221.52" y="883.44" width="4.23" height="4.81" fill="#ecb48a"/>
<rect x="225.45" y="883.44" width="4.23" height="4.81" fill="#f8dcc2"/>
<rect x="229.38" y="883.44" width="4.23" height="4.81" fill="#e4def4"/>
<rect x="233.31" y="883.44" width="4.23" height="4.81" fill="#c3c3c3"/>
<rect x="237.24" y="883.44" width="12.09" height="4.81" fill="#ffffff"/>
<rect x="249.03" y="883.44" width="4.23" height="4.81" fill="#e4def4"/>
<rect x="252.96" y="883.44" width="4.23" height="4.81" fill="#000000"/>
<rect x="256.89" y="883.44" width="31.74" height="4.81" fill="#ffffff"/>
<rect x="288.33" y="883.44" width="4.23" height="4.81" fill="#000000"/>
<rect x="292.26" y="883.44" width="4.23" height="4.81" fill="#ffffff"/>
<rect x="296.19" y="883.44" width="4.23" height="4.81" fill="#e4def4"/>
<rect x="300.12" y="883.44" width="19.95" height="4.81" fill="#ffffff"/>
<rect x="319.77" y="883.44" width="8.16" height="4.81" fill="#e4def4"/>
<rect x="327.63" y="883.44" width="4.23" height="4.81" fill="#ffffff"/>
<rect x="331.56" y="883.44" width="4.23" height="4.81" fill="#000000"/>
<rect x="335.49" y="883.44" width="12.09" height="4.81" fill="#ffffff"/>
<rect x="347.28" y="883.44" width="4.23" height="4.81" fill="#000000"/>
<rect x="351.21" y="883.44" width="4.23" height="4.81" fill="#ffffff"/>
<rect x="355.14" y="883.44" width="4.23" height="4.81" fill="#000000"/>
<rect x="359.07" y="883.44" width="4.23" height="4.81" fill="#f8dcc2"/>
<rect x="363" y="883.44" width="8.16" height="4.81" fill="#ffffff"/>
<rect x="370.86" y="883.44" width="4.23" height="4.81" fill="#000000"/>
<rect x="374.79" y="883.44" width="4.23" height="4.81" fill="#ffffff"/>
<rect x="378.72" y="883.44" width="8.16" height="4.81" fill="#e4def4"/>
<rect x="386.58" y="883.44" width="4.23" height="4.81" fill="#ffffff"/>
<rect x="390.51" y="883.44" width="8.16" height="4.81" fill="#e4def4"/>
<rect x="398.37" y="883.44" width="4.23" height="4.81" fill="#000000"/>
<rect x="72.18" y="887.96" width="8.16" height="4.81" fill="#ecb48a"/>
<rect x="91.83" y="887.96" width="4.23" height="4.81" fill="#ecb48a"/>
<rect x="103.62" y="887.96" width="4.23" height="4.81" fill="#ecb48a"/>
<rect x="123.27" y="887.96" width="4.23" height="4.81" fill="#ffffff"/>
<rect x="138.99" y="887.96" width="4.23" height="4.81" fill="#ffffff"/>
<rect x="142.92" y="887.96" width="4.23" height="4.81" fill="#000000"/>
<rect x="146.85" y="887.96" width="4.23" height="4.81" fill="#ffffff"/>
<rect x="150.78" y="887.96" width="8.16" height="4.81" fill="#c3c3c3"/>
<rect x="158.64" y="887.96" width="16.02" height="4.81" fill="#ffffff"/>
<rect x="174.36" y="887.96" width="4.23" height="4.81" fill="#e4def4"/>
<rect x="178.29" y="887.96" width="4.23" height="4.81" fill="#ffffff"/>
<rect x="182.22" y="887.96" width="12.09" height="4.81" fill="#000000"/>
<rect x="194.01" y="887.96" width="8.16" height="4.81" fill="#ffffff"/>
<rect x="201.87" y="887.96" width="4.23" height="4.81" fill="#e4def4"/>
<rect x="205.8" y="887.96" width="8.16" height="4.81" fill="#000000"/>
<rect x="213.66" y="887.96" width="4.23" height="4.81" fill="#ffffff"/>
<rect x="217.59" y="887.96" width="4.23" height="4.81" fill="#000000"/>
<rect x="221.52" y="887.96" width="8.16" height="4.81" fill="#f8dcc2"/>
<rect x="229.38" y="887.96" width="4.23" height="4.81" fill="#e4def4"/>
<rect x="233.31" y="887.96" width="4.23" height="4.81" fill="#c3c3c3"/>
<rect x="237.24" y="887.96" width="4.23" height="4.81" fill="#ecb48a"/>
<rect x="241.17" y="887.96" width="4.23" height="4.81" fill="#ffffff"/>
<rect x="245.1" y="887.96" width="4.23" height="4.81" fill="#e4def4"/>
<rect x="249.03" y="887.96" width="4.23" height="4.81" fill="#6c4bc0"/>
<rect x="252.96" y="887.96" width="8.16" height="4.81" fill="#ffffff"/>
<rect x="260.82" y="887.96" width="4.23" height="4.81" fill="#f8dcc2"/>
<rect x="264.75" y="887.96" width="12.09" height="4.81" fill="#ffffff"/>
<rect x="276.54" y="887.96" width="4.23" height="4.81" fill="#ecb48a"/>
<rect x="280.47" y="887.96" width="4.23" height="4.81" fill="#f8dcc2"/>
<rect x="284.4" y="887.96" width="4.23" height="4.81" fill="#ffffff"/>
<rect x="288.33" y="887.96" width="4.23" height="4.81" fill="#000000"/>
<rect x="292.26" y="887.96" width="4.23" height="4.81" fill="#ffffff"/>
<rect x="296.19" y="887.96" width="4.23" height="4.81" fill="#f8dcc2"/>
<rect x="300.12" y="887.96" width="16.02" height="4.81" fill="#000000"/>
<rect x="315.84" y="887.96" width="4.23" height="4.81" fill="#f8dcc2"/>
<rect x="319.77" y="887.96" width="4.23" height="4.81" fill="#ffffff"/>
<rect x="323.7" y="887.96" width="4.23" height="4.81" fill="#6c4bc0"/>
<rect x="327.63" y="887.96" width="4.23" height="4.81" fill="#000000"/>
<rect x="331.56" y="887.96" width="4.23" height="4.81" fill="#ffffff"/>
<rect x="335.49" y="887.96" width="4.23" height="4.81" fill="#000000"/>
<rect x="339.42" y="887.96" width="8.16" height="4.81" fill="#ffffff"/>
<rect x="347.28" y="887.96" width="12.09" height="4.81" fill="#000000"/>
<rect x="359.07" y="887.96" width="4.23" height="4.81" fill="#ffffff"/>
<rect x="363" y="887.96" width="16.02" height="4.81" fill="#000000"/>
<rect x="378.72" y="887.96" width="4.23" height="4.81" fill="#b8aae0"/>
<rect x="382.65" y="887.96" width="8.16" height="4.81" fill="#000000"/>
<rect x="390.51" y="887.96" width="4.23" height="4.81" fill="#ffffff"/>
<rect x="394.44" y="887.96" width="8.16" height="4.81" fill="#000000"/>
<rect x="138.99" y="892.47" width="4.23" height="4.81" fill="#ffffff"/>
<rect x="142.92" y="892.47" width="4.23" height="4.81" fill="#e4def4"/>
<rect x="146.85" y="892.47" width="4.23" height="4.81" fill="#c3c3c3"/>
<rect x="150.78" y="892.47" width="12.09" height="4.81" fill="#ffffff"/>
<rect x="162.57" y="892.47" width="4.23" height="4.81" fill="#e4def4"/>
<rect x="166.5" y="892.47" width="19.95" height="4.81" fill="#ffffff"/>
<rect x="186.15" y="892.47" width="12.09" height="4.81" fill="#000000"/>
<rect x="197.94" y="892.47" width="4.23" height="4.81" fill="#ffffff"/>
<rect x="201.87" y="892.47" width="12.09" height="4.81" fill="#000000"/>
<rect x="213.66" y="892.47" width="4.23" height="4.81" fill="#ffffff"/>
<rect x="217.59" y="892.47" width="4.23" height="4.81" fill="#000000"/>
<rect x="221.52" y="892.47" width="4.23" height="4.81" fill="#e4def4"/>
<rect x="225.45" y="892.47" width="4.23" height="4.81" fill="#ffffff"/>
<rect x="229.38" y="892.47" width="8.16" height="4.81" fill="#c3c3c3"/>
<rect x="237.24" y="892.47" width="4.23" height="4.81" fill="#ffffff"/>
<rect x="241.17" y="892.47" width="4.23" height="4.81" fill="#e4def4"/>
<rect x="245.1" y="892.47" width="27.81" height="4.81" fill="#ffffff"/>
<rect x="272.61" y="892.47" width="4.23" height="4.81" fill="#e4def4"/>
<rect x="276.54" y="892.47" width="8.16" height="4.81" fill="#000000"/>
<rect x="284.4" y="892.47" width="4.23" height="4.81" fill="#ffffff"/>
<rect x="288.33" y="892.47" width="4.23" height="4.81" fill="#000000"/>
<rect x="292.26" y="892.47" width="4.23" height="4.81" fill="#ffffff"/>
<rect x="296.19" y="892.47" width="4.23" height="4.81" fill="#e4def4"/>
<rect x="300.12" y="892.47" width="8.16" height="4.81" fill="#000000"/>
<rect x="307.98" y="892.47" width="4.23" height="4.81" fill="#ffffff"/>
<rect x="311.91" y="892.47" width="12.09" height="4.81" fill="#000000"/>
<rect x="323.7" y="892.47" width="12.09" height="4.81" fill="#ffffff"/>
<rect x="335.49" y="892.47" width="4.23" height="4.81" fill="#000000"/>
<rect x="339.42" y="892.47" width="12.09" height="4.81" fill="#ffffff"/>
<rect x="351.21" y="892.47" width="4.23" height="4.81" fill="#f8dcc2"/>
<rect x="355.14" y="892.47" width="4.23" height="4.81" fill="#000000"/>
<rect x="359.07" y="892.47" width="4.23" height="4.81" fill="#f8dcc2"/>
<rect x="363" y="892.47" width="8.16" height="4.81" fill="#ffffff"/>
<rect x="370.86" y="892.47" width="4.23" height="4.81" fill="#000000"/>
<rect x="374.79" y="892.47" width="23.88" height="4.81" fill="#ffffff"/>
<rect x="398.37" y="892.47" width="4.23" height="4.81" fill="#000000"/>
<rect x="138.99" y="896.98" width="4.23" height="4.81" fill="#ffffff"/>
<rect x="142.92" y="896.98" width="4.23" height="4.81" fill="#c3c3c3"/>
<rect x="146.85" y="896.98" width="4.23" height="4.81" fill="#e4def4"/>
<rect x="150.78" y="896.98" width="8.16" height="4.81" fill="#000000"/>
<rect x="158.64" y="896.98" width="4.23" height="4.81" fill="#ffffff"/>
<rect x="162.57" y="896.98" width="4.23" height="4.81" fill="#6c4bc0"/>
<rect x="166.5" y="896.98" width="4.23" height="4.81" fill="#e4def4"/>
<rect x="170.43" y="896.98" width="12.09" height="4.81" fill="#ffffff"/>
<rect x="182.22" y="896.98" width="16.02" height="4.81" fill="#000000"/>
<rect x="197.94" y="896.98" width="4.23" height="4.81" fill="#ffffff"/>
<rect x="201.87" y="896.98" width="12.09" height="4.81" fill="#000000"/>
<rect x="213.66" y="896.98" width="4.23" height="4.81" fill="#e4def4"/>
<rect x="217.59" y="896.98" width="8.16" height="4.81" fill="#c3c3c3"/>
<rect x="225.45" y="896.98" width="4.23" height="4.81" fill="#000000"/>
<rect x="229.38" y="896.98" width="4.23" height="4.81" fill="#e4def4"/>
<rect x="233.31" y="896.98" width="4.23" height="4.81" fill="#ffffff"/>
<rect x="237.24" y="896.98" width="4.23" height="4.81" fill="#000000"/>
<rect x="241.17" y="896.98" width="8.16" height="4.81" fill="#e4def4"/>
<rect x="249.03" y="896.98" width="12.09" height="4.81" fill="#000000"/>
<rect x="260.82" y="896.98" width="4.23" height="4.81" fill="#ffffff"/>
<rect x="264.75" y="896.98" width="4.23" height="4.81" fill="#e4def4"/>
<rect x="268.68" y="896.98" width="4.23" height="4.81" fill="#000000"/>
<rect x="272.61" y="896.98" width="4.23" height="4.81" fill="#e4def4"/>
<rect x="276.54" y="896.98" width="4.23" height="4.81" fill="#ffffff"/>
<rect x="280.47" y="896.98" width="4.23" height="4.81" fill="#e4def4"/>
<rect x="284.4" y="896.98" width="35.67" height="4.81" fill="#000000"/>
<rect x="319.77" y="896.98" width="4.23" height="4.81" fill="#e4def4"/>
<rect x="323.7" y="896.98" width="39.6" height="4.81" fill="#000000"/>
<rect x="363" y="896.98" width="4.23" height="4.81" fill="#e4def4"/>
<rect x="366.93" y="896.98" width="4.23" height="4.81" fill="#ffffff"/>
<rect x="370.86" y="896.98" width="4.23" height="4.81" fill="#000000"/>
<rect x="374.79" y="896.98" width="4.23" height="4.81" fill="#ffffff"/>
<rect x="378.72" y="896.98" width="4.23" height="4.81" fill="#e4def4"/>
<rect x="382.65" y="896.98" width="8.16" height="4.81" fill="#000000"/>
<rect x="390.51" y="896.98" width="8.16" height="4.81" fill="#b8aae0"/>
<rect x="398.37" y="896.98" width="4.23" height="4.81" fill="#000000"/>
<rect x="138.99" y="901.49" width="4.23" height="4.81" fill="#c3c3c3"/>
<rect x="142.92" y="901.49" width="39.6" height="4.81" fill="#ffffff"/>
<rect x="182.22" y="901.49" width="4.23" height="4.81" fill="#e4def4"/>
<rect x="186.15" y="901.49" width="12.09" height="4.81" fill="#000000"/>
<rect x="197.94" y="901.49" width="4.23" height="4.81" fill="#ffffff"/>
<rect x="201.87" y="901.49" width="12.09" height="4.81" fill="#000000"/>
<rect x="213.66" y="901.49" width="4.23" height="4.81" fill="#c3c3c3"/>
<rect x="217.59" y="901.49" width="12.09" height="4.81" fill="#000000"/>
<rect x="229.38" y="901.49" width="12.09" height="4.81" fill="#ffffff"/>
<rect x="241.17" y="901.49" width="4.23" height="4.81" fill="#e4def4"/>
<rect x="245.1" y="901.49" width="19.95" height="4.81" fill="#ffffff"/>
<rect x="264.75" y="901.49" width="4.23" height="4.81" fill="#000000"/>
<rect x="268.68" y="901.49" width="8.16" height="4.81" fill="#ffffff"/>
<rect x="276.54" y="901.49" width="8.16" height="4.81" fill="#f8dcc2"/>
<rect x="284.4" y="901.49" width="4.23" height="4.81" fill="#ffffff"/>
<rect x="288.33" y="901.49" width="4.23" height="4.81" fill="#000000"/>
<rect x="292.26" y="901.49" width="16.02" height="4.81" fill="#ffffff"/>
<rect x="307.98" y="901.49" width="12.09" height="4.81" fill="#000000"/>
<rect x="319.77" y="901.49" width="8.16" height="4.81" fill="#ffffff"/>
<rect x="327.63" y="901.49" width="8.16" height="4.81" fill="#e4def4"/>
<rect x="335.49" y="901.49" width="4.23" height="4.81" fill="#000000"/>
<rect x="339.42" y="901.49" width="8.16" height="4.81" fill="#ffffff"/>
<rect x="347.28" y="901.49" width="4.23" height="4.81" fill="#e4def4"/>
<rect x="351.21" y="901.49" width="8.16" height="4.81" fill="#000000"/>
<rect x="359.07" y="901.49" width="12.09" height="4.81" fill="#ffffff"/>
<rect x="370.86" y="901.49" width="4.23" height="4.81" fill="#000000"/>
<rect x="374.79" y="901.49" width="8.16" height="4.81" fill="#e4def4"/>
<rect x="382.65" y="901.49" width="4.23" height="4.81" fill="#ffffff"/>
<rect x="386.58" y="901.49" width="8.16" height="4.81" fill="#000000"/>
<rect x="394.44" y="901.49" width="4.23" height="4.81" fill="#ffffff"/>
<rect x="398.37" y="901.49" width="4.23" height="4.81" fill="#000000"/>
<rect x="48.6" y="824.8" width="353.7" height="81.2" fill="none" stroke="#b5b5b5" stroke-width="1"/>
<text x="427.6" y="752.4" font-size="13.9" fill="#111" text-anchor="start">Deviation score</text>
<text x="476.3" y="773.2" font-size="13.9" fill="#111" text-anchor="middle">-6.5</text>
<text x="533.7" y="773.2" font-size="13.9" fill="#111" text-anchor="middle">0</text>
<text x="604.1" y="773.2" font-size="13.9" fill="#111" text-anchor="middle">7</text>
<defs><linearGradient id="dev" x1="0" x2="1" y1="0" y2="0"><stop offset="0" stop-color="#5a30b0"/><stop offset="0.22" stop-color="#5f36b4"/><stop offset="0.38" stop-color="#b9a8e0"/><stop offset="0.48" stop-color="#ffffff"/><stop offset="0.56" stop-color="#ffffff"/><stop offset="0.68" stop-color="#f2b688"/><stop offset="0.8" stop-color="#e8661e"/><stop offset="1" stop-color="#e8621a"/></linearGradient></defs>
<rect x="473.8" y="777.5" width="132.8" height="11.8" fill="url(#dev)" stroke="#999" stroke-width="0.6"/>
<text x="439.6" y="803.7" font-size="13.7" fill="#111" text-anchor="start">Negative</text>
<line x1="498" y1="798.9" x2="512.4" y2="798.9" stroke="#111" stroke-width="1.1"/>
<path d="M495.4,798.9 L500.6,796.5 L500.6,801.3 Z" fill="#111"/>
<text x="513.6" y="803.7" font-size="13.7" fill="#111" text-anchor="start">Additive</text>
<line x1="564.5" y1="798.9" x2="579" y2="798.9" stroke="#111" stroke-width="1.1"/>
<path d="M581.6,798.9 L576.4,796.5 L576.4,801.3 Z" fill="#111"/>
<text x="584.1" y="803.7" font-size="13.7" fill="#111" text-anchor="start">Positive</text>
<rect x="423.4" y="825.1" width="12.8" height="12.6" fill="#c4c4c4"/>
<rect x="423.4" y="846.4" width="12.8" height="12.6" fill="#000"/>
<rect x="423.4" y="868.2" width="12.8" height="12.6" fill="#646464"/>
<text x="443.1" y="836" font-size="13.9" fill="#111" text-anchor="start">Missing value</text>
<text x="443.1" y="857.9" font-size="13.9" fill="#111" text-anchor="start">Synthetic lethality</text>
<text x="443.1" y="880.2" font-size="13.9" fill="#111" text-anchor="start">Lethality explainable by presence</text>
<text x="443.1" y="895" font-size="13.9" fill="#111" text-anchor="start">of lethal single mutant</text>
</svg>
</body></html>
